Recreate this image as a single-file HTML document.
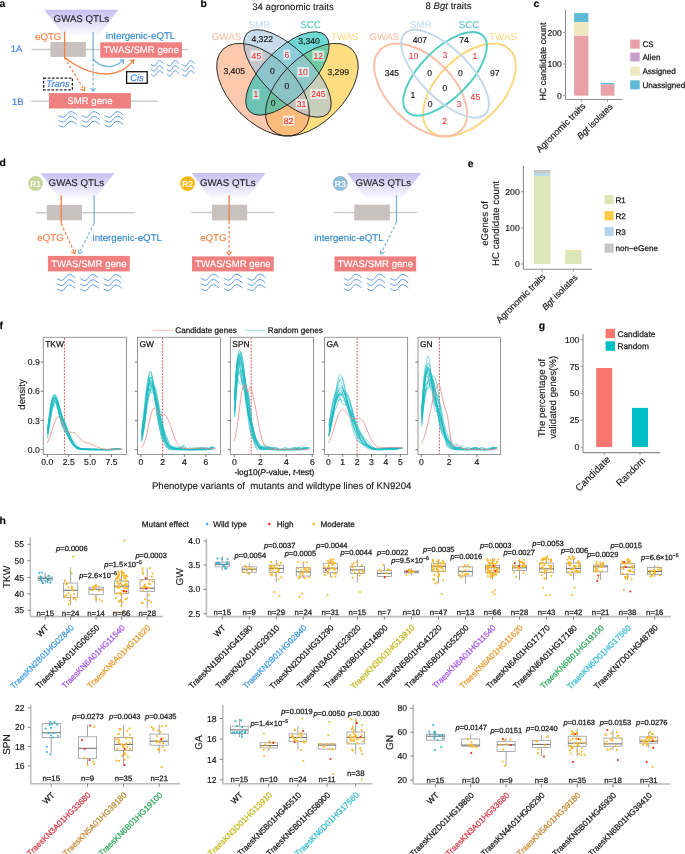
<!DOCTYPE html>
<html><head><meta charset="utf-8"><style>
html,body{margin:0;padding:0;background:#fff;}
svg{display:block;font-family:"Liberation Sans",sans-serif;will-change:transform;text-rendering:geometricPrecision;}
</style></head><body>
<svg width="685" height="854" viewBox="0 0 685 854">
<defs><linearGradient id="ga" x1="0" y1="9.7" x2="0" y2="36.7" gradientUnits="userSpaceOnUse"><stop offset="0" stop-color="#c6c0f1"/><stop offset="1" stop-color="#ffffff"/></linearGradient>
<linearGradient id="gd1" x1="0" y1="173.3" x2="0" y2="200.3" gradientUnits="userSpaceOnUse"><stop offset="0" stop-color="#c6c0f1"/><stop offset="1" stop-color="#ffffff"/></linearGradient>
<linearGradient id="gd2" x1="0" y1="173.1" x2="0" y2="200.1" gradientUnits="userSpaceOnUse"><stop offset="0" stop-color="#c6c0f1"/><stop offset="1" stop-color="#ffffff"/></linearGradient>
<linearGradient id="gd3" x1="0" y1="173.1" x2="0" y2="200.1" gradientUnits="userSpaceOnUse"><stop offset="0" stop-color="#c6c0f1"/><stop offset="1" stop-color="#ffffff"/></linearGradient></defs>
<rect x="0" y="0" width="685" height="854" fill="#fff"/>
<text stroke="#000" stroke-width="0.12" x="-0.6" y="7" font-size="10.4" fill="#000" font-weight="bold">a</text>
<polygon points="44.3,9.7 118.4,9.7 81.35,59.1" fill="url(#ga)"/>
<text stroke="#222" stroke-width="0.12" x="53.6" y="21.5" font-size="9.7" fill="#222">GWAS QTLs</text>
<text stroke="#f47f43" stroke-width="0.12" x="35" y="40.3" font-size="9.7" fill="#f47f43">eQTG</text>
<text stroke="#2f88cc" stroke-width="0.12" x="105.8" y="39" font-size="9.7" fill="#2f88cc">intergenic-eQTL</text>
<text stroke="#3f7fe6" stroke-width="0.18" x="10.8" y="52.4" font-size="9.4" fill="#3f7fe6">1A</text>
<line x1="31.5" y1="49.5" x2="188.3" y2="49.5" stroke="#cccccc" stroke-width="1.4"/>
<rect x="50.3" y="42" width="35.6" height="14.9" fill="#c9c0c0"/>
<rect x="100.3" y="42.3" width="81.6" height="15.4" fill="#f08080"/>
<text stroke="#fff" stroke-width="0.12" x="141.1" y="53.3" font-size="9.6" fill="#fff" text-anchor="middle">TWAS/SMR gene</text>
<line x1="64.6" y1="31.7" x2="64.6" y2="57.7" stroke="#f47f43" stroke-width="1.3"/>
<path d="M64.7,57.5 C84,73 116,84 133.6,59.9" stroke="#f47f43" stroke-width="1.3" fill="none"/>
<path d="M129.49,60.77 L133.6,59.9 L133.45,64.1" stroke="#f47f43" stroke-width="1.2" fill="none"/>
<line x1="64.6" y1="57.7" x2="84.4" y2="90.4" stroke="#f47f43" stroke-width="1.2" stroke-dasharray="2.8 1.9"/>
<path d="M84.91,86.43 L84.4,90.6 L80.48,89.09" stroke="#f47f43" stroke-width="1.2" fill="none"/>
<line x1="93.1" y1="31.7" x2="93.1" y2="59" stroke="#78b4da" stroke-width="1.3"/>
<path d="M93.1,59 C97,64 104,67 111,66.5 C116,66 120,63 123.8,59.9" stroke="#78b4da" stroke-width="1.3" fill="none"/>
<path d="M119.6,60.05 L123.8,59.9 L122.93,64.01" stroke="#78b4da" stroke-width="1.2" fill="none"/>
<line x1="93.1" y1="59" x2="93.1" y2="91.2" stroke="#78b4da" stroke-width="1.2" stroke-dasharray="2.8 1.9"/>
<path d="M95.69,88.09 L93.1,91.4 L90.51,88.09" stroke="#78b4da" stroke-width="1.2" fill="none"/>
<rect x="126.6" y="71.7" width="20.6" height="11.6" fill="#fff" stroke="#111" stroke-width="1.3"/>
<text stroke="#3f7fe6" stroke-width="0.18" x="136.9" y="80.9" font-size="9.4" fill="#3f7fe6" text-anchor="middle" font-style="italic">Cis</text>
<rect x="43.6" y="78.1" width="28.8" height="11.7" fill="#fff" stroke="#222" stroke-width="1.3" stroke-dasharray="2.6 1.6"/>
<text stroke="#3f7fe6" stroke-width="0.18" x="58" y="87.4" font-size="9.4" fill="#3f7fe6" text-anchor="middle" font-style="italic">Trans</text>
<text stroke="#3f7fe6" stroke-width="0.18" x="12" y="104.7" font-size="9.4" fill="#3f7fe6">1B</text>
<line x1="31.2" y1="101.2" x2="157.7" y2="101.2" stroke="#cccccc" stroke-width="1.4"/>
<rect x="49" y="93.1" width="81.9" height="15.4" fill="#f08080"/>
<text stroke="#fff" stroke-width="0.12" x="90" y="103.6" font-size="9.6" fill="#fff" text-anchor="middle">SMR gene</text>
<path d="M151.1,64.4 C153.1,66 154.1,66.6 155.3,65.6 C156.6,64.4 157.6,60.6 159.7,60.7 C161.1,60.8 162.6,62.9 163.5,63.7" stroke="#5b9be8" stroke-width="1" fill="none"/>
<path d="M151.1,69.4 C153.1,71 154.1,71.6 155.3,70.6 C156.6,69.4 157.6,65.6 159.7,65.7 C161.1,65.8 162.6,67.9 163.5,68.7" stroke="#5b9be8" stroke-width="1" fill="none"/>
<path d="M151.1,74.4 C153.1,76 154.1,76.6 155.3,75.6 C156.6,74.4 157.6,70.6 159.7,70.7 C161.1,70.8 162.6,72.9 163.5,73.7" stroke="#5b9be8" stroke-width="1" fill="none"/>
<path d="M166.7,64.4 C168.7,66 169.7,66.6 170.9,65.6 C172.2,64.4 173.2,60.6 175.3,60.7 C176.7,60.8 178.2,62.9 179.1,63.7" stroke="#5b9be8" stroke-width="1" fill="none"/>
<path d="M166.7,69.4 C168.7,71 169.7,71.6 170.9,70.6 C172.2,69.4 173.2,65.6 175.3,65.7 C176.7,65.8 178.2,67.9 179.1,68.7" stroke="#5b9be8" stroke-width="1" fill="none"/>
<path d="M166.7,74.4 C168.7,76 169.7,76.6 170.9,75.6 C172.2,74.4 173.2,70.6 175.3,70.7 C176.7,70.8 178.2,72.9 179.1,73.7" stroke="#5b9be8" stroke-width="1" fill="none"/>
<path d="M182.2,64.4 C184.2,66 185.2,66.6 186.4,65.6 C187.7,64.4 188.7,60.6 190.8,60.7 C192.2,60.8 193.7,62.9 194.6,63.7" stroke="#5b9be8" stroke-width="1" fill="none"/>
<path d="M182.2,69.4 C184.2,71 185.2,71.6 186.4,70.6 C187.7,69.4 188.7,65.6 190.8,65.7 C192.2,65.8 193.7,67.9 194.6,68.7" stroke="#5b9be8" stroke-width="1" fill="none"/>
<path d="M182.2,74.4 C184.2,76 185.2,76.6 186.4,75.6 C187.7,74.4 188.7,70.6 190.8,70.7 C192.2,70.8 193.7,72.9 194.6,73.7" stroke="#5b9be8" stroke-width="1" fill="none"/>
<path d="M58.5,115.5 C61.46,117.18 62.94,117.81 64.72,116.76 C66.64,115.5 68.12,111.51 71.23,111.61 C73.3,111.72 75.52,113.92 76.85,114.77" stroke="#5b9be8" stroke-width="1" fill="none"/>
<path d="M58.5,120.3 C61.46,121.98 62.94,122.61 64.72,121.56 C66.64,120.3 68.12,116.31 71.23,116.41 C73.3,116.52 75.52,118.72 76.85,119.56" stroke="#5b9be8" stroke-width="1" fill="none"/>
<path d="M58.5,125.1 C61.46,126.78 62.94,127.41 64.72,126.36 C66.64,125.1 68.12,121.11 71.23,121.21 C73.3,121.32 75.52,123.52 76.85,124.36" stroke="#5b9be8" stroke-width="1" fill="none"/>
<path d="M81.6,115.5 C84.56,117.18 86.04,117.81 87.82,116.76 C89.74,115.5 91.22,111.51 94.33,111.61 C96.4,111.72 98.62,113.92 99.95,114.77" stroke="#5b9be8" stroke-width="1" fill="none"/>
<path d="M81.6,120.3 C84.56,121.98 86.04,122.61 87.82,121.56 C89.74,120.3 91.22,116.31 94.33,116.41 C96.4,116.52 98.62,118.72 99.95,119.56" stroke="#5b9be8" stroke-width="1" fill="none"/>
<path d="M81.6,125.1 C84.56,126.78 86.04,127.41 87.82,126.36 C89.74,125.1 91.22,121.11 94.33,121.21 C96.4,121.32 98.62,123.52 99.95,124.36" stroke="#5b9be8" stroke-width="1" fill="none"/>
<path d="M104.8,115.5 C107.76,117.18 109.24,117.81 111.02,116.76 C112.94,115.5 114.42,111.51 117.53,111.61 C119.6,111.72 121.82,113.92 123.15,114.77" stroke="#5b9be8" stroke-width="1" fill="none"/>
<path d="M104.8,120.3 C107.76,121.98 109.24,122.61 111.02,121.56 C112.94,120.3 114.42,116.31 117.53,116.41 C119.6,116.52 121.82,118.72 123.15,119.56" stroke="#5b9be8" stroke-width="1" fill="none"/>
<path d="M104.8,125.1 C107.76,126.78 109.24,127.41 111.02,126.36 C112.94,125.1 114.42,121.11 117.53,121.21 C119.6,121.32 121.82,123.52 123.15,124.36" stroke="#5b9be8" stroke-width="1" fill="none"/>
<ellipse cx="311.86" cy="89.73" rx="56.94" ry="32.54" fill="#fdc62b" fill-opacity="0.6" transform="rotate(-45 311.86 89.73)"/>
<ellipse cx="263.04" cy="89.73" rx="56.94" ry="32.54" fill="#faa378" fill-opacity="0.6" transform="rotate(-135 263.04 89.73)"/>
<ellipse cx="287.45" cy="73.46" rx="53.69" ry="24.4" fill="#0dbfb8" fill-opacity="0.6" transform="rotate(-45 287.45 73.46)"/>
<ellipse cx="287.45" cy="73.46" rx="56.94" ry="24.4" fill="#a3c5df" fill-opacity="0.6" transform="rotate(-135 287.45 73.46)"/>
<ellipse cx="311.86" cy="89.73" rx="56.94" ry="32.54" fill="none" stroke="#222" stroke-width="0.9" transform="rotate(-45 311.86 89.73)"/>
<ellipse cx="263.04" cy="89.73" rx="56.94" ry="32.54" fill="none" stroke="#222" stroke-width="0.9" transform="rotate(-135 263.04 89.73)"/>
<ellipse cx="287.45" cy="73.46" rx="53.69" ry="24.4" fill="none" stroke="#222" stroke-width="0.9" transform="rotate(-45 287.45 73.46)"/>
<ellipse cx="287.45" cy="73.46" rx="56.94" ry="24.4" fill="none" stroke="#222" stroke-width="0.9" transform="rotate(-135 287.45 73.46)"/>
<text stroke="#1a1a1a" stroke-width="0.18" x="234.2" y="74" font-size="8.6" fill="#1a1a1a" text-anchor="middle">3,405</text>
<text stroke="#1a1a1a" stroke-width="0.18" x="262.2" y="41.8" font-size="8.6" fill="#1a1a1a" text-anchor="middle">4,322</text>
<text stroke="#1a1a1a" stroke-width="0.18" x="309" y="44.1" font-size="8.6" fill="#1a1a1a" text-anchor="middle">3,340</text>
<text stroke="#1a1a1a" stroke-width="0.18" x="338.2" y="75" font-size="8.6" fill="#1a1a1a" text-anchor="middle">3,299</text>
<rect x="250.5" y="50.5" width="11.8" height="10.2" fill="#ffffff" fill-opacity="0.62"/>
<text stroke="#ee2d2d" stroke-width="0.05" x="256.4" y="58.6" font-size="8.6" fill="#ee2d2d" text-anchor="middle">45</text>
<rect x="283.25" y="49.6" width="7.1" height="10.2" fill="#ffffff" fill-opacity="0.62"/>
<text stroke="#ee2d2d" stroke-width="0.05" x="286.8" y="57.7" font-size="8.6" fill="#ee2d2d" text-anchor="middle">6</text>
<rect x="312.4" y="50.5" width="11.8" height="10.2" fill="#ffffff" fill-opacity="0.62"/>
<text stroke="#ee2d2d" stroke-width="0.05" x="318.3" y="58.6" font-size="8.6" fill="#ee2d2d" text-anchor="middle">12</text>
<text stroke="#1a1a1a" stroke-width="0.18" x="272.3" y="74" font-size="8.6" fill="#1a1a1a" text-anchor="middle">0</text>
<rect x="297.2" y="66.9" width="11.8" height="10.2" fill="#ffffff" fill-opacity="0.62"/>
<text stroke="#ee2d2d" stroke-width="0.05" x="303.1" y="75" font-size="8.6" fill="#ee2d2d" text-anchor="middle">10</text>
<text stroke="#1a1a1a" stroke-width="0.18" x="286.8" y="89" font-size="8.6" fill="#1a1a1a" text-anchor="middle">0</text>
<rect x="252.35" y="89.3" width="7.1" height="10.2" fill="#ffffff" fill-opacity="0.62"/>
<text stroke="#ee2d2d" stroke-width="0.05" x="255.9" y="97.4" font-size="8.6" fill="#ee2d2d" text-anchor="middle">1</text>
<rect x="310.05" y="88.8" width="16.5" height="10.2" fill="#ffffff" fill-opacity="0.62"/>
<text stroke="#ee2d2d" stroke-width="0.05" x="318.3" y="96.9" font-size="8.6" fill="#ee2d2d" text-anchor="middle">245</text>
<text stroke="#1a1a1a" stroke-width="0.18" x="273.2" y="106" font-size="8.6" fill="#1a1a1a" text-anchor="middle">0</text>
<rect x="295.6" y="99.1" width="11.8" height="10.2" fill="#ffffff" fill-opacity="0.62"/>
<text stroke="#ee2d2d" stroke-width="0.05" x="301.5" y="107.2" font-size="8.6" fill="#ee2d2d" text-anchor="middle">31</text>
<rect x="282.7" y="115.5" width="11.8" height="10.2" fill="#ffffff" fill-opacity="0.62"/>
<text stroke="#ee2d2d" stroke-width="0.05" x="288.6" y="123.6" font-size="8.6" fill="#ee2d2d" text-anchor="middle">82</text>
<text stroke="#fcc0a9" stroke-width="0.12" x="226.5" y="40.2" font-size="9.8" fill="#fcc0a9" text-anchor="middle">GWAS</text>
<text stroke="#c6dcee" stroke-width="0.12" x="259.4" y="27.6" font-size="9.8" fill="#c6dcee" text-anchor="middle">SMR</text>
<text stroke="#5ccac6" stroke-width="0.12" x="310.6" y="27.6" font-size="9.8" fill="#5ccac6" text-anchor="middle">SCC</text>
<text stroke="#fddb8c" stroke-width="0.12" x="344.7" y="40.2" font-size="9.8" fill="#fddb8c" text-anchor="middle">TWAS</text>
<text stroke="#1a1a1a" stroke-width="0.12" x="293" y="10.2" font-size="9.6" fill="#1a1a1a" text-anchor="middle">34 agronomic traits</text>
<text stroke="#000" stroke-width="0.12" x="200.4" y="7" font-size="10.4" fill="#000" font-weight="bold">b</text>
<ellipse cx="469.45" cy="90.03" rx="56.94" ry="32.54" fill="none" stroke="#fdd67e" stroke-width="1.9" transform="rotate(-45 469.45 90.03)"/>
<ellipse cx="420.64" cy="90.03" rx="56.94" ry="32.54" fill="none" stroke="#fbbfa6" stroke-width="1.9" transform="rotate(-135 420.64 90.03)"/>
<ellipse cx="445.05" cy="73.76" rx="53.69" ry="24.4" fill="none" stroke="#52cdc4" stroke-width="1.9" transform="rotate(-45 445.05 73.76)"/>
<ellipse cx="445.05" cy="73.76" rx="56.94" ry="24.4" fill="none" stroke="#c3d9ea" stroke-width="1.9" transform="rotate(-135 445.05 73.76)"/>
<text stroke="#1a1a1a" stroke-width="0.18" x="391.8" y="75.9" font-size="8.6" fill="#1a1a1a" text-anchor="middle">345</text>
<text stroke="#1a1a1a" stroke-width="0.18" x="419.9" y="42.7" font-size="8.6" fill="#1a1a1a" text-anchor="middle">407</text>
<text stroke="#1a1a1a" stroke-width="0.18" x="464.1" y="42.7" font-size="8.6" fill="#1a1a1a" text-anchor="middle">74</text>
<text stroke="#1a1a1a" stroke-width="0.18" x="494.8" y="75.9" font-size="8.6" fill="#1a1a1a" text-anchor="middle">97</text>
<text stroke="#ee2d2d" stroke-width="0.05" x="413.5" y="58.8" font-size="8.6" fill="#ee2d2d" text-anchor="middle">10</text>
<text stroke="#ee2d2d" stroke-width="0.05" x="445" y="57.5" font-size="8.6" fill="#ee2d2d" text-anchor="middle">3</text>
<text stroke="#ee2d2d" stroke-width="0.05" x="474.9" y="58.8" font-size="8.6" fill="#ee2d2d" text-anchor="middle">1</text>
<text stroke="#1a1a1a" stroke-width="0.18" x="429.6" y="75.9" font-size="8.6" fill="#1a1a1a" text-anchor="middle">0</text>
<text stroke="#1a1a1a" stroke-width="0.18" x="460.3" y="75.9" font-size="8.6" fill="#1a1a1a" text-anchor="middle">0</text>
<text stroke="#1a1a1a" stroke-width="0.18" x="445" y="91.2" font-size="8.6" fill="#1a1a1a" text-anchor="middle">0</text>
<text stroke="#1a1a1a" stroke-width="0.18" x="413" y="97.6" font-size="8.6" fill="#1a1a1a" text-anchor="middle">1</text>
<text stroke="#ee2d2d" stroke-width="0.05" x="475.4" y="100.2" font-size="8.6" fill="#ee2d2d" text-anchor="middle">45</text>
<text stroke="#1a1a1a" stroke-width="0.18" x="430.1" y="106.6" font-size="8.6" fill="#1a1a1a" text-anchor="middle">0</text>
<text stroke="#ee2d2d" stroke-width="0.05" x="458.8" y="106.6" font-size="8.6" fill="#ee2d2d" text-anchor="middle">3</text>
<text stroke="#ee2d2d" stroke-width="0.05" x="444.7" y="123.7" font-size="8.6" fill="#ee2d2d" text-anchor="middle">2</text>
<text stroke="#fcc0a9" stroke-width="0.12" x="384.2" y="40.4" font-size="9.8" fill="#fcc0a9" text-anchor="middle">GWAS</text>
<text stroke="#c6dcee" stroke-width="0.12" x="420.7" y="28.2" font-size="9.8" fill="#c6dcee" text-anchor="middle">SMR</text>
<text stroke="#5ccac6" stroke-width="0.12" x="469" y="28.2" font-size="9.8" fill="#5ccac6" text-anchor="middle">SCC</text>
<text stroke="#fddb8c" stroke-width="0.12" x="503" y="40.4" font-size="9.8" fill="#fddb8c" text-anchor="middle">TWAS</text>
<text stroke="#1a1a1a" stroke-width="0.12" x="448.5" y="9.2" font-size="9.6" fill="#1a1a1a" text-anchor="middle">8 <tspan font-style="italic">Bgt</tspan> traits</text>
<text stroke="#000" stroke-width="0.12" x="533.4" y="6.6" font-size="10.4" fill="#000" font-weight="bold">c</text>
<line x1="565.5" y1="10" x2="565.5" y2="99.5" stroke="#8f8f8f" stroke-width="1.1"/>
<line x1="565.5" y1="99.5" x2="622.8" y2="99.5" stroke="#8f8f8f" stroke-width="1.1"/>
<line x1="563" y1="95.7" x2="565.5" y2="95.7" stroke="#8f8f8f" stroke-width="0.9"/>
<text stroke="#1a1a1a" stroke-width="0.18" x="561.8" y="98.8" font-size="8.6" fill="#1a1a1a" text-anchor="end">0</text>
<line x1="563" y1="64" x2="565.5" y2="64" stroke="#8f8f8f" stroke-width="0.9"/>
<text stroke="#1a1a1a" stroke-width="0.18" x="561.8" y="67.1" font-size="8.6" fill="#1a1a1a" text-anchor="end">100</text>
<line x1="563" y1="32.4" x2="565.5" y2="32.4" stroke="#8f8f8f" stroke-width="0.9"/>
<text stroke="#1a1a1a" stroke-width="0.18" x="561.8" y="35.5" font-size="8.6" fill="#1a1a1a" text-anchor="end">200</text>
<rect x="574.1" y="35.57" width="14.3" height="60.13" fill="#e8a1a9"/>
<rect x="574.1" y="21.96" width="14.3" height="13.61" fill="#efe9bf"/>
<rect x="574.1" y="13.09" width="14.3" height="8.86" fill="#5ebad6"/>
<rect x="600.8" y="84.31" width="13.6" height="11.39" fill="#e8a1a9"/>
<rect x="600.8" y="83.04" width="13.6" height="1.27" fill="#5ebad6"/>
<line x1="581.25" y1="99.5" x2="581.25" y2="102" stroke="#8f8f8f" stroke-width="0.9"/>
<line x1="607.6" y1="99.5" x2="607.6" y2="102" stroke="#8f8f8f" stroke-width="0.9"/>
<text stroke="#1a1a1a" stroke-width="0.18" x="545.6" y="61.5" font-size="8.9" fill="#1a1a1a" text-anchor="middle" transform="rotate(-90 545.6 61.5)">HC candidate count</text>
<text stroke="#1a1a1a" stroke-width="0.18" x="586" y="106.9" font-size="9.05" fill="#1a1a1a" text-anchor="end" transform="rotate(-45 586 106.9)">Agronomic traits</text>
<text stroke="#1a1a1a" stroke-width="0.18" x="613.3" y="107.3" font-size="8.9" fill="#1a1a1a" text-anchor="end" transform="rotate(-45 613.3 107.3)"><tspan font-style="italic">Bgt</tspan> isolates</text>
<rect x="630.2" y="39.6" width="9.5" height="9" fill="#e8a1a9"/>
<text stroke="#1a1a1a" stroke-width="0.25" x="642.4" y="47.2" font-size="8.1" fill="#1a1a1a">CS</text>
<rect x="630.2" y="52.5" width="9.5" height="9" fill="#c9a0c9"/>
<text stroke="#1a1a1a" stroke-width="0.25" x="642.4" y="60.1" font-size="8.1" fill="#1a1a1a">Alien</text>
<rect x="630.2" y="66.7" width="9.5" height="9" fill="#efe9bf"/>
<text stroke="#1a1a1a" stroke-width="0.25" x="642.4" y="74.3" font-size="8.1" fill="#1a1a1a">Assigned</text>
<rect x="630.2" y="80.3" width="9.5" height="9" fill="#5ebad6"/>
<text stroke="#1a1a1a" stroke-width="0.25" x="642.4" y="87.9" font-size="8.1" fill="#1a1a1a">Unassigned</text>
<text stroke="#000" stroke-width="0.12" x="-0.6" y="166" font-size="10.4" fill="#000" font-weight="bold">d</text>
<polygon points="40.7,173.3 114.3,173.3 77.5,222.37" fill="url(#gd1)"/>
<circle cx="35.5" cy="183.4" r="7.4" fill="#c5d59a"/>
<text stroke="#fff" stroke-width="0.18" x="35.5" y="186.6" font-size="8.6" fill="#fff" text-anchor="middle">R1</text>
<text stroke="#222" stroke-width="0.12" x="48.6" y="185.5" font-size="9.7" fill="#222">GWAS QTLs</text>
<line x1="35.5" y1="212.8" x2="135.3" y2="212.8" stroke="#cccccc" stroke-width="1.4"/>
<rect x="46.8" y="204.9" width="35.2" height="15.3" fill="#c9c0c0"/>
<line x1="61.2" y1="195.5" x2="61.2" y2="223.6" stroke="#f47f43" stroke-width="1.3"/>
<line x1="94.1" y1="195.5" x2="94.1" y2="223.6" stroke="#78b4da" stroke-width="1.3"/>
<line x1="61.2" y1="223.6" x2="74.9" y2="253.4" stroke="#f47f43" stroke-width="1.2" stroke-dasharray="2.8 1.9"/>
<path d="M75.84,249.51 L74.9,253.6 L71.16,251.69" stroke="#f47f43" stroke-width="1.2" fill="none"/>
<line x1="94.1" y1="223.6" x2="78.9" y2="253.4" stroke="#78b4da" stroke-width="1.2" stroke-dasharray="2.8 1.9"/>
<path d="M82.71,251.83 L78.9,253.6 L78.1,249.48" stroke="#78b4da" stroke-width="1.2" fill="none"/>
<text stroke="#f47f43" stroke-width="0.12" x="37.3" y="241" font-size="9.7" fill="#f47f43">eQTG</text>
<text stroke="#2f88cc" stroke-width="0.12" x="92.5" y="241" font-size="9.7" fill="#2f88cc">intergenic-eQTL</text>
<rect x="47.9" y="255.9" width="81.9" height="15.5" fill="#f08080"/>
<text stroke="#fff" stroke-width="0.12" x="88.85" y="266.8" font-size="9.6" fill="#fff" text-anchor="middle">TWAS/SMR gene</text>
<path d="M57.1,278.6 C60,280.36 61.45,281.02 63.19,279.92 C65.08,278.6 66.53,274.42 69.57,274.53 C71.6,274.64 73.78,276.95 75.08,277.83" stroke="#5b9be8" stroke-width="1" fill="none"/>
<path d="M57.1,283.8 C60,285.56 61.45,286.22 63.19,285.12 C65.08,283.8 66.53,279.62 69.57,279.73 C71.6,279.84 73.78,282.15 75.08,283.03" stroke="#5b9be8" stroke-width="1" fill="none"/>
<path d="M57.1,289 C60,290.76 61.45,291.42 63.19,290.32 C65.08,289 66.53,284.82 69.57,284.93 C71.6,285.04 73.78,287.35 75.08,288.23" stroke="#5b9be8" stroke-width="1" fill="none"/>
<path d="M80.4,278.6 C83.3,280.36 84.75,281.02 86.49,279.92 C88.38,278.6 89.83,274.42 92.87,274.53 C94.9,274.64 97.08,276.95 98.38,277.83" stroke="#5b9be8" stroke-width="1" fill="none"/>
<path d="M80.4,283.8 C83.3,285.56 84.75,286.22 86.49,285.12 C88.38,283.8 89.83,279.62 92.87,279.73 C94.9,279.84 97.08,282.15 98.38,283.03" stroke="#5b9be8" stroke-width="1" fill="none"/>
<path d="M80.4,289 C83.3,290.76 84.75,291.42 86.49,290.32 C88.38,289 89.83,284.82 92.87,284.93 C94.9,285.04 97.08,287.35 98.38,288.23" stroke="#5b9be8" stroke-width="1" fill="none"/>
<path d="M103.7,278.6 C106.6,280.36 108.05,281.02 109.79,279.92 C111.67,278.6 113.12,274.42 116.17,274.53 C118.2,274.64 120.38,276.95 121.68,277.83" stroke="#5b9be8" stroke-width="1" fill="none"/>
<path d="M103.7,283.8 C106.6,285.56 108.05,286.22 109.79,285.12 C111.67,283.8 113.12,279.62 116.17,279.73 C118.2,279.84 120.38,282.15 121.68,283.03" stroke="#5b9be8" stroke-width="1" fill="none"/>
<path d="M103.7,289 C106.6,290.76 108.05,291.42 109.79,290.32 C111.67,289 113.12,284.82 116.17,284.93 C118.2,285.04 120.38,287.35 121.68,288.23" stroke="#5b9be8" stroke-width="1" fill="none"/>
<polygon points="191.5,173.1 265.6,173.1 228.55,222.5" fill="url(#gd2)"/>
<circle cx="187.6" cy="183.6" r="7.4" fill="#f6b813"/>
<text stroke="#fff" stroke-width="0.18" x="187.6" y="186.8" font-size="8.6" fill="#fff" text-anchor="middle">R2</text>
<text stroke="#222" stroke-width="0.12" x="200" y="185.5" font-size="9.7" fill="#222">GWAS QTLs</text>
<line x1="191" y1="212.5" x2="274.3" y2="212.5" stroke="#cccccc" stroke-width="1.4"/>
<rect x="212" y="204.6" width="35.2" height="15.8" fill="#c9c0c0"/>
<line x1="229.1" y1="195.2" x2="229.1" y2="221.5" stroke="#f47f43" stroke-width="1.3"/>
<line x1="229.1" y1="221.5" x2="229.1" y2="254.8" stroke="#f47f43" stroke-width="1.2" stroke-dasharray="2.8 1.9"/>
<path d="M231.69,251.69 L229.1,255 L226.51,251.69" stroke="#f47f43" stroke-width="1.2" fill="none"/>
<text stroke="#f47f43" stroke-width="0.12" x="200.2" y="240.6" font-size="9.7" fill="#f47f43">eQTG</text>
<rect x="192" y="256.4" width="81.8" height="15" fill="#f08080"/>
<text stroke="#fff" stroke-width="0.12" x="232.9" y="266.8" font-size="9.6" fill="#fff" text-anchor="middle">TWAS/SMR gene</text>
<path d="M201,278.3 C203.9,280.06 205.35,280.72 207.09,279.62 C208.97,278.3 210.43,274.12 213.47,274.23 C215.5,274.34 217.68,276.65 218.98,277.53" stroke="#5b9be8" stroke-width="1" fill="none"/>
<path d="M201,283.5 C203.9,285.26 205.35,285.92 207.09,284.82 C208.97,283.5 210.43,279.32 213.47,279.43 C215.5,279.54 217.68,281.85 218.98,282.73" stroke="#5b9be8" stroke-width="1" fill="none"/>
<path d="M201,288.7 C203.9,290.46 205.35,291.12 207.09,290.02 C208.97,288.7 210.43,284.52 213.47,284.63 C215.5,284.74 217.68,287.05 218.98,287.93" stroke="#5b9be8" stroke-width="1" fill="none"/>
<path d="M224.3,278.3 C227.2,280.06 228.65,280.72 230.39,279.62 C232.28,278.3 233.73,274.12 236.77,274.23 C238.8,274.34 240.98,276.65 242.28,277.53" stroke="#5b9be8" stroke-width="1" fill="none"/>
<path d="M224.3,283.5 C227.2,285.26 228.65,285.92 230.39,284.82 C232.28,283.5 233.73,279.32 236.77,279.43 C238.8,279.54 240.98,281.85 242.28,282.73" stroke="#5b9be8" stroke-width="1" fill="none"/>
<path d="M224.3,288.7 C227.2,290.46 228.65,291.12 230.39,290.02 C232.28,288.7 233.73,284.52 236.77,284.63 C238.8,284.74 240.98,287.05 242.28,287.93" stroke="#5b9be8" stroke-width="1" fill="none"/>
<path d="M247.6,278.3 C250.5,280.06 251.95,280.72 253.69,279.62 C255.57,278.3 257.02,274.12 260.07,274.23 C262.1,274.34 264.27,276.65 265.58,277.53" stroke="#5b9be8" stroke-width="1" fill="none"/>
<path d="M247.6,283.5 C250.5,285.26 251.95,285.92 253.69,284.82 C255.57,283.5 257.02,279.32 260.07,279.43 C262.1,279.54 264.27,281.85 265.58,282.73" stroke="#5b9be8" stroke-width="1" fill="none"/>
<path d="M247.6,288.7 C250.5,290.46 251.95,291.12 253.69,290.02 C255.57,288.7 257.02,284.52 260.07,284.63 C262.1,284.74 264.27,287.05 265.58,287.93" stroke="#5b9be8" stroke-width="1" fill="none"/>
<polygon points="347,173.1 421.2,173.1 384.1,222.57" fill="url(#gd3)"/>
<circle cx="340.2" cy="183.4" r="7.4" fill="#8fbcd9"/>
<text stroke="#fff" stroke-width="0.18" x="340.2" y="186.6" font-size="8.6" fill="#fff" text-anchor="middle">R3</text>
<text stroke="#222" stroke-width="0.12" x="355.5" y="185.5" font-size="9.7" fill="#222">GWAS QTLs</text>
<line x1="333.7" y1="212.5" x2="417.2" y2="212.5" stroke="#cccccc" stroke-width="1.4"/>
<rect x="354.2" y="204.6" width="35.7" height="15.8" fill="#c9c0c0"/>
<line x1="396.5" y1="195.2" x2="396.5" y2="222.3" stroke="#78b4da" stroke-width="1.3"/>
<line x1="396.5" y1="222.3" x2="381" y2="253.6" stroke="#78b4da" stroke-width="1.2" stroke-dasharray="2.8 1.9"/>
<path d="M384.77,251.96 L381,253.8 L380.13,249.69" stroke="#78b4da" stroke-width="1.2" fill="none"/>
<text stroke="#2f88cc" stroke-width="0.12" x="383.6" y="240.6" font-size="9.7" fill="#2f88cc" text-anchor="end">intergenic-eQTL</text>
<rect x="334.5" y="256.4" width="81.7" height="15" fill="#f08080"/>
<text stroke="#fff" stroke-width="0.12" x="375.35" y="266.8" font-size="9.6" fill="#fff" text-anchor="middle">TWAS/SMR gene</text>
<path d="M343.8,278.3 C346.7,280.06 348.15,280.72 349.89,279.62 C351.78,278.3 353.23,274.12 356.27,274.23 C358.3,274.34 360.48,276.65 361.78,277.53" stroke="#5b9be8" stroke-width="1" fill="none"/>
<path d="M343.8,283.5 C346.7,285.26 348.15,285.92 349.89,284.82 C351.78,283.5 353.23,279.32 356.27,279.43 C358.3,279.54 360.48,281.85 361.78,282.73" stroke="#5b9be8" stroke-width="1" fill="none"/>
<path d="M343.8,288.7 C346.7,290.46 348.15,291.12 349.89,290.02 C351.78,288.7 353.23,284.52 356.27,284.63 C358.3,284.74 360.48,287.05 361.78,287.93" stroke="#5b9be8" stroke-width="1" fill="none"/>
<path d="M367.1,278.3 C370,280.06 371.45,280.72 373.19,279.62 C375.08,278.3 376.53,274.12 379.57,274.23 C381.6,274.34 383.78,276.65 385.08,277.53" stroke="#5b9be8" stroke-width="1" fill="none"/>
<path d="M367.1,283.5 C370,285.26 371.45,285.92 373.19,284.82 C375.08,283.5 376.53,279.32 379.57,279.43 C381.6,279.54 383.78,281.85 385.08,282.73" stroke="#5b9be8" stroke-width="1" fill="none"/>
<path d="M367.1,288.7 C370,290.46 371.45,291.12 373.19,290.02 C375.08,288.7 376.53,284.52 379.57,284.63 C381.6,284.74 383.78,287.05 385.08,287.93" stroke="#5b9be8" stroke-width="1" fill="none"/>
<path d="M390.4,278.3 C393.3,280.06 394.75,280.72 396.49,279.62 C398.38,278.3 399.82,274.12 402.87,274.23 C404.9,274.34 407.07,276.65 408.38,277.53" stroke="#5b9be8" stroke-width="1" fill="none"/>
<path d="M390.4,283.5 C393.3,285.26 394.75,285.92 396.49,284.82 C398.38,283.5 399.82,279.32 402.87,279.43 C404.9,279.54 407.07,281.85 408.38,282.73" stroke="#5b9be8" stroke-width="1" fill="none"/>
<path d="M390.4,288.7 C393.3,290.46 394.75,291.12 396.49,290.02 C398.38,288.7 399.82,284.52 402.87,284.63 C404.9,284.74 407.07,287.05 408.38,287.93" stroke="#5b9be8" stroke-width="1" fill="none"/>
<text stroke="#000" stroke-width="0.12" x="467.8" y="167" font-size="10.4" fill="#000" font-weight="bold">e</text>
<line x1="523.4" y1="165.8" x2="523.4" y2="269.3" stroke="#8f8f8f" stroke-width="1.1"/>
<line x1="523.4" y1="269.3" x2="592" y2="269.3" stroke="#8f8f8f" stroke-width="1.1"/>
<line x1="520.9" y1="264" x2="523.4" y2="264" stroke="#8f8f8f" stroke-width="0.9"/>
<text stroke="#1a1a1a" stroke-width="0.18" x="519.7" y="267.1" font-size="8.6" fill="#1a1a1a" text-anchor="end">0</text>
<line x1="520.9" y1="227.9" x2="523.4" y2="227.9" stroke="#8f8f8f" stroke-width="0.9"/>
<text stroke="#1a1a1a" stroke-width="0.18" x="519.7" y="231" font-size="8.6" fill="#1a1a1a" text-anchor="end">100</text>
<line x1="520.9" y1="191.7" x2="523.4" y2="191.7" stroke="#8f8f8f" stroke-width="0.9"/>
<text stroke="#1a1a1a" stroke-width="0.18" x="519.7" y="194.8" font-size="8.6" fill="#1a1a1a" text-anchor="end">200</text>
<rect x="533.9" y="175.79" width="16.4" height="88.21" fill="#dde6b9"/>
<rect x="533.9" y="173.26" width="16.4" height="2.53" fill="#b3d4e9"/>
<rect x="533.9" y="170.01" width="16.4" height="3.25" fill="#c6c6c6"/>
<rect x="565.1" y="250.62" width="16.4" height="13.38" fill="#dde6b9"/>
<rect x="565.1" y="250.19" width="16.4" height="0.43" fill="#f9c846"/>
<line x1="542.1" y1="269.3" x2="542.1" y2="271.8" stroke="#8f8f8f" stroke-width="0.9"/>
<line x1="573.3" y1="269.3" x2="573.3" y2="271.8" stroke="#8f8f8f" stroke-width="0.9"/>
<text stroke="#1a1a1a" stroke-width="0.12" x="488.3" y="223.5" font-size="9.7" fill="#1a1a1a" text-anchor="middle" transform="rotate(-90 488.3 223.5)">eGenes of</text>
<text stroke="#1a1a1a" stroke-width="0.12" x="499" y="223.5" font-size="9.7" fill="#1a1a1a" text-anchor="middle" transform="rotate(-90 499 223.5)">HC candidate count</text>
<text stroke="#1a1a1a" stroke-width="0.18" x="546" y="277.4" font-size="9.05" fill="#1a1a1a" text-anchor="end" transform="rotate(-45 546 277.4)">Agronomic traits</text>
<text stroke="#1a1a1a" stroke-width="0.18" x="578.1" y="278.2" font-size="8.9" fill="#1a1a1a" text-anchor="end" transform="rotate(-45 578.1 278.2)"><tspan font-style="italic">Bgt</tspan> isolates</text>
<rect x="604.5" y="195" width="9.2" height="9.2" fill="#dde6b9"/>
<text stroke="#1a1a1a" stroke-width="0.25" x="615.4" y="202.6" font-size="8.1" fill="#1a1a1a">R1</text>
<rect x="604.5" y="211.1" width="9.2" height="9.2" fill="#f9c846"/>
<text stroke="#1a1a1a" stroke-width="0.25" x="615.4" y="218.7" font-size="8.1" fill="#1a1a1a">R2</text>
<rect x="604.5" y="226.9" width="9.2" height="9.2" fill="#b3d4e9"/>
<text stroke="#1a1a1a" stroke-width="0.25" x="615.4" y="234.5" font-size="8.1" fill="#1a1a1a">R3</text>
<rect x="604.5" y="243.6" width="9.2" height="9.2" fill="#c6c6c6"/>
<text stroke="#1a1a1a" stroke-width="0.25" x="615.4" y="251.2" font-size="8.1" fill="#1a1a1a">non−eGene</text>
<text stroke="#000" stroke-width="0.12" x="-0.6" y="329.4" font-size="10.4" fill="#000" font-weight="bold">f</text>
<line x1="152.8" y1="330.3" x2="173.2" y2="330.3" stroke="#f5aca6" stroke-width="0.8"/>
<text stroke="#1a1a1a" stroke-width="0.25" x="175.3" y="333.2" font-size="8.15" fill="#1a1a1a">Candidate genes</text>
<line x1="244.5" y1="330.3" x2="265.8" y2="330.3" stroke="#7fd8dc" stroke-width="0.8"/>
<text stroke="#1a1a1a" stroke-width="0.25" x="267.8" y="333.2" font-size="8.15" fill="#1a1a1a">Random genes</text>
<rect x="43.3" y="337.3" width="83.2" height="117.2" fill="none" stroke="#8c8c8c" stroke-width="0.9"/>
<line x1="40.7" y1="362.1" x2="43.3" y2="362.1" stroke="#555" stroke-width="0.8"/>
<line x1="40.7" y1="391.2" x2="43.3" y2="391.2" stroke="#555" stroke-width="0.8"/>
<line x1="40.7" y1="420.4" x2="43.3" y2="420.4" stroke="#555" stroke-width="0.8"/>
<line x1="40.7" y1="449.6" x2="43.3" y2="449.6" stroke="#555" stroke-width="0.8"/>
<line x1="47.3" y1="454.5" x2="47.3" y2="457.1" stroke="#555" stroke-width="0.8"/>
<text stroke="#1a1a1a" stroke-width="0.18" x="47.3" y="465.2" font-size="8.6" fill="#1a1a1a" text-anchor="middle">0.0</text>
<line x1="68.7" y1="454.5" x2="68.7" y2="457.1" stroke="#555" stroke-width="0.8"/>
<text stroke="#1a1a1a" stroke-width="0.18" x="68.7" y="465.2" font-size="8.6" fill="#1a1a1a" text-anchor="middle">2.5</text>
<line x1="90.1" y1="454.5" x2="90.1" y2="457.1" stroke="#555" stroke-width="0.8"/>
<text stroke="#1a1a1a" stroke-width="0.18" x="90.1" y="465.2" font-size="8.6" fill="#1a1a1a" text-anchor="middle">5.0</text>
<line x1="111.5" y1="454.5" x2="111.5" y2="457.1" stroke="#555" stroke-width="0.8"/>
<text stroke="#1a1a1a" stroke-width="0.18" x="111.5" y="465.2" font-size="8.6" fill="#1a1a1a" text-anchor="middle">7.5</text>
<text stroke="#1a1a1a" stroke-width="0.25" x="45.2" y="346.8" font-size="8.4" fill="#1a1a1a">TKW</text>
<line x1="64.42" y1="337.9" x2="64.42" y2="453.9" stroke="#d5403c" stroke-width="0.9" stroke-dasharray="1.8 1.4"/>
<path d="M47.57,431.71 L48.1,428.26 L48.63,424.8 L49.16,421.47 L49.69,418.35 L50.22,415.53 L50.75,413.03 L51.28,410.87 L51.81,409.05 L52.34,407.53 L52.87,406.29 L53.4,405.3 L53.93,404.53 L54.46,403.99 L54.99,403.67 L55.52,403.58 L56.05,403.73 L56.58,404.14 L57.11,404.79 L57.64,405.67 L58.17,406.76 L58.69,408.01 L59.22,409.4 L59.75,410.88 L60.28,412.42 L60.81,413.97 L61.34,415.49 L61.87,416.95 L62.4,418.34 L62.93,419.64 L63.46,420.88 L63.99,422.06 L64.52,423.21 L65.05,424.35 L65.58,425.48 L66.11,426.64 L66.64,427.81 L67.17,429.01 L67.7,430.25 L68.23,431.53 L68.76,432.86 L69.29,434.24 L69.82,435.64 L70.35,437.07 L70.88,438.49 L71.41,439.86 L71.94,441.17 L72.47,442.38 L73,443.49 L73.53,444.47 L74.06,445.34 L74.59,446.09 L75.12,446.72 L75.65,447.25 L76.18,447.67 L76.71,448 L77.24,448.25 L77.77,448.41 L78.3,448.52 L78.83,448.58 L79.36,448.61 L79.89,448.63 L80.42,448.64 L80.95,448.66 L81.48,448.7 L82.01,448.76 L82.54,448.83 L83.07,448.92 L83.6,449.02 L84.13,449.13 L84.66,449.23 L85.19,449.32 L85.72,449.39 L86.24,449.45 L86.77,449.5 L87.3,449.53 L87.83,449.55 L88.36,449.55 L88.89,449.54 L89.42,449.52 L89.95,449.48 L90.48,449.43 L91.01,449.38 L91.54,449.31 L92.07,449.24 L92.6,449.17 L93.13,449.12 L93.66,449.09 L94.19,449.07 L94.72,449.09 L95.25,449.13 L95.78,449.18 L96.31,449.25 L96.84,449.32 L97.37,449.39 L97.9,449.45 L98.43,449.49 L98.96,449.53 L99.49,449.56 L100.02,449.57 L100.55,449.59 L101.08,449.59 L101.61,449.6 L102.14,449.6 L102.67,449.6 L103.2,449.6 L103.73,449.6 L104.26,449.6 L104.79,449.6 L105.32,449.6 L105.85,449.6 L106.38,449.6 L106.91,449.6 L107.44,449.6 L107.97,449.6 L108.5,449.6 L109.03,449.6 L109.56,449.6 L110.09,449.6 L110.62,449.6 L111.15,449.6 L111.68,449.6 L112.21,449.6 L112.74,449.6 L113.27,449.6 L113.8,449.6 L114.32,449.6 L114.85,449.59 L115.38,449.58 L115.91,449.57 L116.44,449.55 L116.97,449.53 L117.5,449.49 L118.03,449.44 L118.56,449.38 L119.09,449.31 L119.62,449.24 L120.15,449.18 L120.68,449.12 L121.21,449.09 L121.74,449.07" stroke="#1dbac1" stroke-width="0.6" fill="none" stroke-opacity="0.9" stroke-linejoin="round"/>
<path d="M47.49,429.85 L48.01,426.3 L48.53,422.87 L49.05,419.72 L49.57,416.93 L50.09,414.55 L50.62,412.55 L51.14,410.84 L51.66,409.3 L52.18,407.79 L52.7,406.24 L53.22,404.61 L53.74,402.96 L54.27,401.4 L54.79,400.09 L55.31,399.19 L55.83,398.8 L56.35,399.01 L56.87,399.79 L57.39,401.07 L57.91,402.74 L58.44,404.66 L58.96,406.74 L59.48,408.87 L60,411.01 L60.52,413.13 L61.04,415.22 L61.56,417.29 L62.09,419.31 L62.61,421.28 L63.13,423.16 L63.65,424.92 L64.17,426.53 L64.69,428 L65.21,429.3 L65.74,430.48 L66.26,431.54 L66.78,432.53 L67.3,433.48 L67.82,434.4 L68.34,435.33 L68.86,436.28 L69.39,437.25 L69.91,438.25 L70.43,439.29 L70.95,440.33 L71.47,441.37 L71.99,442.39 L72.51,443.35 L73.04,444.25 L73.56,445.06 L74.08,445.79 L74.6,446.42 L75.12,446.96 L75.64,447.43 L76.16,447.82 L76.69,448.15 L77.21,448.41 L77.73,448.6 L78.25,448.73 L78.77,448.79 L79.29,448.81 L79.81,448.78 L80.34,448.72 L80.86,448.65 L81.38,448.59 L81.9,448.56 L82.42,448.56 L82.94,448.6 L83.46,448.68 L83.99,448.79 L84.51,448.92 L85.03,449.05 L85.55,449.18 L86.07,449.29 L86.59,449.38 L87.11,449.45 L87.64,449.51 L88.16,449.54 L88.68,449.57 L89.2,449.58 L89.72,449.59 L90.24,449.59 L90.76,449.6 L91.29,449.6 L91.81,449.6 L92.33,449.6 L92.85,449.6 L93.37,449.6 L93.89,449.6 L94.41,449.59 L94.93,449.59 L95.46,449.58 L95.98,449.57 L96.5,449.54 L97.02,449.51 L97.54,449.47 L98.06,449.42 L98.58,449.36 L99.11,449.29 L99.63,449.22 L100.15,449.16 L100.67,449.11 L101.19,449.08 L101.71,449.08 L102.23,449.1 L102.76,449.14 L103.28,449.19 L103.8,449.26 L104.32,449.33 L104.84,449.39 L105.36,449.45 L105.88,449.5 L106.41,449.53 L106.93,449.56 L107.45,449.57 L107.97,449.59 L108.49,449.59 L109.01,449.6 L109.53,449.6 L110.06,449.6 L110.58,449.6 L111.1,449.6 L111.62,449.6 L112.14,449.6 L112.66,449.6 L113.18,449.59 L113.71,449.59 L114.23,449.58 L114.75,449.57 L115.27,449.55 L115.79,449.52 L116.31,449.48 L116.83,449.44 L117.36,449.38 L117.88,449.31 L118.4,449.24 L118.92,449.18 L119.44,449.12 L119.96,449.09 L120.48,449.08" stroke="#1dbac1" stroke-width="0.6" fill="none" stroke-opacity="0.9" stroke-linejoin="round"/>
<path d="M47.58,433.39 L48.09,429.65 L48.6,425.63 L49.11,421.43 L49.62,417.21 L50.14,413.09 L50.65,409.22 L51.16,405.72 L51.67,402.68 L52.18,400.16 L52.69,398.19 L53.2,396.78 L53.71,395.93 L54.22,395.61 L54.73,395.81 L55.24,396.52 L55.75,397.72 L56.26,399.38 L56.77,401.44 L57.29,403.83 L57.8,406.46 L58.31,409.21 L58.82,411.98 L59.33,414.66 L59.84,417.17 L60.35,419.45 L60.86,421.46 L61.37,423.2 L61.88,424.66 L62.39,425.87 L62.9,426.87 L63.41,427.73 L63.92,428.48 L64.44,429.21 L64.95,429.96 L65.46,430.76 L65.97,431.64 L66.48,432.59 L66.99,433.58 L67.5,434.56 L68.01,435.49 L68.52,436.32 L69.03,437.03 L69.54,437.62 L70.05,438.08 L70.56,438.47 L71.07,438.82 L71.59,439.16 L72.1,439.54 L72.61,439.97 L73.12,440.46 L73.63,441.02 L74.14,441.62 L74.65,442.26 L75.16,442.91 L75.67,443.58 L76.18,444.24 L76.69,444.88 L77.2,445.5 L77.71,446.08 L78.22,446.62 L78.74,447.09 L79.25,447.5 L79.76,447.84 L80.27,448.12 L80.78,448.33 L81.29,448.49 L81.8,448.61 L82.31,448.69 L82.82,448.75 L83.33,448.8 L83.84,448.83 L84.35,448.86 L84.86,448.89 L85.37,448.92 L85.89,448.97 L86.4,449.02 L86.91,449.09 L87.42,449.16 L87.93,449.24 L88.44,449.31 L88.95,449.38 L89.46,449.43 L89.97,449.47 L90.48,449.5 L90.99,449.51 L91.5,449.5 L92.01,449.48 L92.52,449.44 L93.04,449.39 L93.55,449.33 L94.06,449.26 L94.57,449.2 L95.08,449.14 L95.59,449.1 L96.1,449.08 L96.61,449.08 L97.12,449.11 L97.63,449.15 L98.14,449.21 L98.65,449.28 L99.16,449.34 L99.67,449.41 L100.19,449.46 L100.7,449.5 L101.21,449.54 L101.72,449.56 L102.23,449.58 L102.74,449.59 L103.25,449.59 L103.76,449.6 L104.27,449.6 L104.78,449.6 L105.29,449.6 L105.8,449.6 L106.31,449.6 L106.82,449.6 L107.34,449.6 L107.85,449.6 L108.36,449.6 L108.87,449.6 L109.38,449.6 L109.89,449.6 L110.4,449.6 L110.91,449.6 L111.42,449.6 L111.93,449.59 L112.44,449.59 L112.95,449.58 L113.46,449.57 L113.97,449.55 L114.49,449.52 L115,449.48 L115.51,449.43 L116.02,449.37 L116.53,449.3 L117.04,449.24 L117.55,449.17 L118.06,449.12 L118.57,449.09 L119.08,449.08" stroke="#1dbac1" stroke-width="0.6" fill="none" stroke-opacity="0.9" stroke-linejoin="round"/>
<path d="M47.54,433.46 L48.06,429.8 L48.58,425.98 L49.11,422.13 L49.63,418.4 L50.15,414.9 L50.68,411.73 L51.2,408.95 L51.72,406.61 L52.24,404.7 L52.77,403.24 L53.29,402.21 L53.81,401.58 L54.34,401.34 L54.86,401.44 L55.38,401.84 L55.91,402.49 L56.43,403.34 L56.95,404.32 L57.48,405.39 L58,406.49 L58.52,407.61 L59.05,408.72 L59.57,409.84 L60.09,410.99 L60.61,412.22 L61.14,413.57 L61.66,415.05 L62.18,416.7 L62.71,418.48 L63.23,420.37 L63.75,422.3 L64.28,424.21 L64.8,426.02 L65.32,427.66 L65.85,429.08 L66.37,430.27 L66.89,431.23 L67.42,432.03 L67.94,432.72 L68.46,433.37 L68.98,434.06 L69.51,434.84 L70.03,435.76 L70.55,436.81 L71.08,437.98 L71.6,439.23 L72.12,440.52 L72.65,441.77 L73.17,442.96 L73.69,444.04 L74.22,444.99 L74.74,445.81 L75.26,446.51 L75.79,447.11 L76.31,447.62 L76.83,448.05 L77.35,448.42 L77.88,448.72 L78.4,448.97 L78.92,449.16 L79.45,449.3 L79.97,449.41 L80.49,449.48 L81.02,449.53 L81.54,449.56 L82.06,449.58 L82.59,449.59 L83.11,449.59 L83.63,449.6 L84.16,449.6 L84.68,449.6 L85.2,449.6 L85.72,449.6 L86.25,449.6 L86.77,449.6 L87.29,449.6 L87.82,449.6 L88.34,449.6 L88.86,449.6 L89.39,449.59 L89.91,449.58 L90.43,449.57 L90.96,449.56 L91.48,449.53 L92,449.49 L92.53,449.45 L93.05,449.39 L93.57,449.32 L94.09,449.25 L94.62,449.19 L95.14,449.13 L95.66,449.09 L96.19,449.08 L96.71,449.08 L97.23,449.11 L97.76,449.16 L98.28,449.23 L98.8,449.3 L99.33,449.36 L99.85,449.43 L100.37,449.48 L100.9,449.52 L101.42,449.55 L101.94,449.57 L102.46,449.58 L102.99,449.59 L103.51,449.59 L104.03,449.6 L104.56,449.6 L105.08,449.6 L105.6,449.6 L106.13,449.6 L106.65,449.6 L107.17,449.6 L107.7,449.6 L108.22,449.6 L108.74,449.6 L109.27,449.6 L109.79,449.6 L110.31,449.6 L110.83,449.6 L111.36,449.6 L111.88,449.6 L112.4,449.6 L112.93,449.6 L113.45,449.6 L113.97,449.59 L114.5,449.58 L115.02,449.57 L115.54,449.55 L116.07,449.52 L116.59,449.49 L117.11,449.44 L117.64,449.38 L118.16,449.31 L118.68,449.24 L119.2,449.18 L119.73,449.12 L120.25,449.09 L120.77,449.07" stroke="#1dbac1" stroke-width="0.6" fill="none" stroke-opacity="0.9" stroke-linejoin="round"/>
<path d="M47.61,431.24 L48.13,427.4 L48.64,423.45 L49.16,419.53 L49.67,415.79 L50.19,412.39 L50.7,409.45 L51.22,407.08 L51.73,405.35 L52.25,404.27 L52.76,403.8 L53.28,403.85 L53.79,404.3 L54.31,405 L54.82,405.78 L55.34,406.54 L55.85,407.19 L56.37,407.69 L56.88,408.06 L57.4,408.38 L57.91,408.72 L58.43,409.17 L58.94,409.82 L59.46,410.68 L59.97,411.76 L60.49,413 L61,414.35 L61.52,415.7 L62.03,417 L62.55,418.19 L63.06,419.28 L63.58,420.29 L64.09,421.28 L64.61,422.3 L65.12,423.41 L65.64,424.66 L66.15,426.07 L66.67,427.63 L67.18,429.31 L67.7,431.06 L68.21,432.81 L68.73,434.52 L69.24,436.13 L69.76,437.61 L70.27,438.92 L70.79,440.06 L71.3,441.02 L71.82,441.83 L72.33,442.51 L72.85,443.07 L73.36,443.56 L73.88,444.01 L74.39,444.45 L74.91,444.89 L75.42,445.36 L75.94,445.84 L76.45,446.33 L76.97,446.81 L77.48,447.27 L78,447.68 L78.51,448.03 L79.03,448.31 L79.54,448.52 L80.06,448.68 L80.57,448.79 L81.09,448.86 L81.6,448.92 L82.12,448.96 L82.63,449.01 L83.15,449.07 L83.66,449.13 L84.18,449.2 L84.69,449.28 L85.21,449.35 L85.72,449.41 L86.24,449.47 L86.75,449.51 L87.27,449.54 L87.78,449.56 L88.3,449.58 L88.81,449.59 L89.32,449.59 L89.84,449.6 L90.35,449.6 L90.87,449.6 L91.38,449.6 L91.9,449.6 L92.41,449.6 L92.93,449.6 L93.44,449.6 L93.96,449.6 L94.47,449.6 L94.99,449.6 L95.5,449.6 L96.02,449.6 L96.53,449.6 L97.05,449.6 L97.56,449.6 L98.08,449.6 L98.59,449.6 L99.11,449.6 L99.62,449.6 L100.14,449.6 L100.65,449.6 L101.17,449.6 L101.68,449.6 L102.2,449.6 L102.71,449.6 L103.23,449.6 L103.74,449.6 L104.26,449.6 L104.77,449.6 L105.29,449.6 L105.8,449.6 L106.32,449.6 L106.83,449.6 L107.35,449.6 L107.86,449.6 L108.38,449.6 L108.89,449.6 L109.41,449.6 L109.92,449.6 L110.44,449.6 L110.95,449.6 L111.47,449.6 L111.98,449.6 L112.5,449.59 L113.01,449.59 L113.53,449.58 L114.04,449.57 L114.56,449.55 L115.07,449.52 L115.59,449.48 L116.1,449.43 L116.62,449.37 L117.13,449.3 L117.65,449.24 L118.16,449.17 L118.68,449.12 L119.19,449.09 L119.71,449.07" stroke="#1dbac1" stroke-width="0.6" fill="none" stroke-opacity="0.9" stroke-linejoin="round"/>
<path d="M47.49,431.65 L48.01,427.83 L48.53,423.85 L49.06,419.84 L49.58,415.93 L50.11,412.27 L50.63,408.94 L51.16,406.04 L51.68,403.58 L52.21,401.56 L52.73,399.95 L53.26,398.7 L53.78,397.78 L54.31,397.18 L54.83,396.92 L55.36,397.05 L55.88,397.63 L56.41,398.71 L56.93,400.28 L57.46,402.32 L57.98,404.74 L58.51,407.42 L59.03,410.22 L59.56,413.02 L60.08,415.7 L60.61,418.18 L61.13,420.42 L61.66,422.39 L62.18,424.08 L62.71,425.5 L63.23,426.67 L63.76,427.62 L64.28,428.39 L64.81,429.04 L65.33,429.64 L65.86,430.25 L66.38,430.93 L66.91,431.72 L67.43,432.64 L67.96,433.68 L68.48,434.81 L69.01,435.99 L69.53,437.19 L70.06,438.37 L70.58,439.49 L71.11,440.53 L71.63,441.47 L72.16,442.3 L72.68,443.02 L73.21,443.63 L73.73,444.15 L74.26,444.6 L74.78,445.01 L75.31,445.4 L75.83,445.8 L76.36,446.21 L76.88,446.65 L77.41,447.1 L77.93,447.54 L78.46,447.96 L78.98,448.34 L79.51,448.67 L80.03,448.94 L80.56,449.15 L81.08,449.3 L81.61,449.41 L82.13,449.49 L82.66,449.53 L83.18,449.56 L83.7,449.58 L84.23,449.59 L84.75,449.6 L85.28,449.6 L85.8,449.6 L86.33,449.6 L86.85,449.6 L87.38,449.6 L87.9,449.6 L88.43,449.6 L88.95,449.6 L89.48,449.6 L90,449.6 L90.53,449.6 L91.05,449.6 L91.58,449.6 L92.1,449.6 L92.63,449.6 L93.15,449.6 L93.68,449.6 L94.2,449.6 L94.73,449.6 L95.25,449.6 L95.78,449.6 L96.3,449.6 L96.83,449.6 L97.35,449.6 L97.88,449.6 L98.4,449.6 L98.93,449.6 L99.45,449.6 L99.98,449.6 L100.5,449.6 L101.03,449.6 L101.55,449.6 L102.08,449.6 L102.6,449.6 L103.13,449.6 L103.65,449.6 L104.18,449.6 L104.7,449.6 L105.23,449.6 L105.75,449.6 L106.28,449.6 L106.8,449.6 L107.33,449.6 L107.85,449.6 L108.38,449.6 L108.9,449.6 L109.43,449.6 L109.95,449.6 L110.48,449.6 L111,449.6 L111.53,449.6 L112.05,449.6 L112.58,449.6 L113.1,449.6 L113.63,449.6 L114.15,449.59 L114.68,449.58 L115.2,449.57 L115.73,449.55 L116.25,449.52 L116.78,449.49 L117.3,449.44 L117.83,449.38 L118.35,449.31 L118.87,449.24 L119.4,449.18 L119.92,449.12 L120.45,449.09 L120.97,449.07" stroke="#1dbac1" stroke-width="0.6" fill="none" stroke-opacity="0.9" stroke-linejoin="round"/>
<path d="M47.51,437.54 L48.01,434.97 L48.51,432.11 L49.01,428.96 L49.51,425.54 L50.01,421.87 L50.51,418.03 L51.01,414.12 L51.52,410.31 L52.02,406.75 L52.52,403.62 L53.02,401.08 L53.52,399.21 L54.02,398.06 L54.52,397.6 L55.02,397.74 L55.52,398.38 L56.02,399.38 L56.52,400.61 L57.02,401.98 L57.52,403.39 L58.02,404.82 L58.52,406.23 L59.02,407.64 L59.52,409.05 L60.02,410.48 L60.52,411.94 L61.02,413.45 L61.52,414.98 L62.03,416.53 L62.53,418.07 L63.03,419.6 L63.53,421.08 L64.03,422.51 L64.53,423.88 L65.03,425.2 L65.53,426.47 L66.03,427.69 L66.53,428.89 L67.03,430.06 L67.53,431.23 L68.03,432.38 L68.53,433.54 L69.03,434.7 L69.53,435.87 L70.03,437.04 L70.53,438.2 L71.03,439.33 L71.53,440.41 L72.04,441.43 L72.54,442.37 L73.04,443.2 L73.54,443.94 L74.04,444.58 L74.54,445.13 L75.04,445.61 L75.54,446.02 L76.04,446.38 L76.54,446.69 L77.04,446.97 L77.54,447.21 L78.04,447.43 L78.54,447.63 L79.04,447.81 L79.54,447.99 L80.04,448.17 L80.54,448.35 L81.04,448.53 L81.54,448.71 L82.05,448.88 L82.55,449.03 L83.05,449.17 L83.55,449.29 L84.05,449.38 L84.55,449.45 L85.05,449.5 L85.55,449.54 L86.05,449.56 L86.55,449.58 L87.05,449.59 L87.55,449.59 L88.05,449.6 L88.55,449.6 L89.05,449.6 L89.55,449.6 L90.05,449.6 L90.55,449.6 L91.05,449.6 L91.55,449.6 L92.05,449.6 L92.56,449.6 L93.06,449.6 L93.56,449.6 L94.06,449.6 L94.56,449.6 L95.06,449.6 L95.56,449.6 L96.06,449.6 L96.56,449.6 L97.06,449.6 L97.56,449.6 L98.06,449.6 L98.56,449.6 L99.06,449.6 L99.56,449.6 L100.06,449.6 L100.56,449.6 L101.06,449.6 L101.56,449.6 L102.06,449.6 L102.57,449.6 L103.07,449.6 L103.57,449.6 L104.07,449.6 L104.57,449.6 L105.07,449.6 L105.57,449.59 L106.07,449.59 L106.57,449.58 L107.07,449.57 L107.57,449.55 L108.07,449.52 L108.57,449.49 L109.07,449.44 L109.57,449.38 L110.07,449.32 L110.57,449.25 L111.07,449.18 L111.57,449.11 L112.07,449.06 L112.58,449.02 L113.08,448.99 L113.58,448.98 L114.08,448.97 L114.58,448.97 L115.08,448.97 L115.58,448.97 L116.08,448.97 L116.58,448.97 L117.08,448.99 L117.58,449.01" stroke="#1dbac1" stroke-width="0.6" fill="none" stroke-opacity="0.9" stroke-linejoin="round"/>
<path d="M47.52,432.45 L48.03,428.76 L48.55,424.87 L49.06,420.91 L49.57,417.01 L50.08,413.3 L50.59,409.9 L51.11,406.91 L51.62,404.39 L52.13,402.35 L52.64,400.78 L53.16,399.63 L53.67,398.85 L54.18,398.37 L54.69,398.13 L55.21,398.11 L55.72,398.3 L56.23,398.73 L56.74,399.44 L57.26,400.45 L57.77,401.8 L58.28,403.47 L58.79,405.43 L59.31,407.6 L59.82,409.91 L60.33,412.26 L60.84,414.56 L61.35,416.76 L61.87,418.82 L62.38,420.75 L62.89,422.56 L63.4,424.27 L63.92,425.94 L64.43,427.57 L64.94,429.16 L65.45,430.71 L65.97,432.19 L66.48,433.56 L66.99,434.8 L67.5,435.91 L68.02,436.89 L68.53,437.76 L69.04,438.56 L69.55,439.34 L70.06,440.11 L70.58,440.9 L71.09,441.72 L71.6,442.55 L72.11,443.36 L72.63,444.14 L73.14,444.86 L73.65,445.49 L74.16,446.02 L74.68,446.45 L75.19,446.78 L75.7,447.04 L76.21,447.24 L76.73,447.4 L77.24,447.54 L77.75,447.68 L78.26,447.82 L78.77,447.97 L79.29,448.12 L79.8,448.27 L80.31,448.42 L80.82,448.57 L81.34,448.71 L81.85,448.85 L82.36,448.98 L82.87,449.1 L83.39,449.2 L83.9,449.3 L84.41,449.38 L84.92,449.44 L85.44,449.49 L85.95,449.53 L86.46,449.56 L86.97,449.57 L87.49,449.58 L88,449.59 L88.51,449.6 L89.02,449.6 L89.53,449.6 L90.05,449.6 L90.56,449.6 L91.07,449.6 L91.58,449.6 L92.1,449.6 L92.61,449.6 L93.12,449.6 L93.63,449.6 L94.15,449.6 L94.66,449.6 L95.17,449.6 L95.68,449.6 L96.2,449.6 L96.71,449.6 L97.22,449.6 L97.73,449.6 L98.24,449.6 L98.76,449.6 L99.27,449.6 L99.78,449.6 L100.29,449.6 L100.81,449.6 L101.32,449.6 L101.83,449.6 L102.34,449.6 L102.86,449.6 L103.37,449.6 L103.88,449.6 L104.39,449.6 L104.91,449.6 L105.42,449.59 L105.93,449.59 L106.44,449.58 L106.95,449.56 L107.47,449.54 L107.98,449.51 L108.49,449.47 L109,449.42 L109.52,449.36 L110.03,449.29 L110.54,449.23 L111.05,449.16 L111.57,449.11 L112.08,449.08 L112.59,449.06 L113.1,449.07 L113.62,449.09 L114.13,449.13 L114.64,449.16 L115.15,449.19 L115.66,449.21 L116.18,449.2 L116.69,449.19 L117.2,449.16 L117.71,449.12 L118.23,449.09 L118.74,449.07 L119.25,449.06" stroke="#1dbac1" stroke-width="0.6" fill="none" stroke-opacity="0.9" stroke-linejoin="round"/>
<path d="M47.7,433.87 L48.21,430.33 L48.72,426.54 L49.24,422.6 L49.75,418.59 L50.26,414.61 L50.78,410.76 L51.29,407.14 L51.8,403.84 L52.32,400.96 L52.83,398.59 L53.35,396.78 L53.86,395.59 L54.37,395.05 L54.89,395.16 L55.4,395.91 L55.91,397.26 L56.43,399.14 L56.94,401.43 L57.46,404.01 L57.97,406.71 L58.48,409.35 L59,411.78 L59.51,413.86 L60.02,415.51 L60.54,416.72 L61.05,417.54 L61.57,418.09 L62.08,418.48 L62.59,418.89 L63.11,419.44 L63.62,420.24 L64.13,421.35 L64.65,422.76 L65.16,424.46 L65.67,426.36 L66.19,428.38 L66.7,430.43 L67.22,432.42 L67.73,434.28 L68.24,435.96 L68.76,437.45 L69.27,438.73 L69.78,439.81 L70.3,440.72 L70.81,441.47 L71.33,442.1 L71.84,442.65 L72.35,443.15 L72.87,443.62 L73.38,444.08 L73.89,444.55 L74.41,445.03 L74.92,445.52 L75.44,446 L75.95,446.48 L76.46,446.92 L76.98,447.32 L77.49,447.67 L78,447.96 L78.52,448.19 L79.03,448.37 L79.54,448.51 L80.06,448.61 L80.57,448.69 L81.09,448.75 L81.6,448.81 L82.11,448.87 L82.63,448.93 L83.14,449 L83.65,449.08 L84.17,449.16 L84.68,449.25 L85.2,449.32 L85.71,449.39 L86.22,449.45 L86.74,449.5 L87.25,449.53 L87.76,449.56 L88.28,449.57 L88.79,449.59 L89.31,449.59 L89.82,449.6 L90.33,449.6 L90.85,449.6 L91.36,449.6 L91.87,449.6 L92.39,449.6 L92.9,449.6 L93.41,449.6 L93.93,449.6 L94.44,449.6 L94.96,449.6 L95.47,449.6 L95.98,449.6 L96.5,449.6 L97.01,449.6 L97.52,449.6 L98.04,449.6 L98.55,449.6 L99.07,449.6 L99.58,449.6 L100.09,449.6 L100.61,449.6 L101.12,449.6 L101.63,449.6 L102.15,449.6 L102.66,449.6 L103.18,449.6 L103.69,449.6 L104.2,449.6 L104.72,449.6 L105.23,449.6 L105.74,449.6 L106.26,449.6 L106.77,449.6 L107.28,449.6 L107.8,449.6 L108.31,449.6 L108.83,449.6 L109.34,449.6 L109.85,449.6 L110.37,449.6 L110.88,449.6 L111.39,449.6 L111.91,449.6 L112.42,449.59 L112.94,449.59 L113.45,449.58 L113.96,449.57 L114.48,449.55 L114.99,449.52 L115.5,449.48 L116.02,449.43 L116.53,449.37 L117.05,449.3 L117.56,449.24 L118.07,449.17 L118.59,449.12 L119.1,449.09 L119.61,449.07" stroke="#1dbac1" stroke-width="0.6" fill="none" stroke-opacity="0.9" stroke-linejoin="round"/>
<path d="M47.75,432.94 L48.25,429.82 L48.75,426.64 L49.25,423.46 L49.75,420.35 L50.24,417.34 L50.74,414.48 L51.24,411.78 L51.74,409.27 L52.23,406.97 L52.73,404.92 L53.23,403.15 L53.73,401.7 L54.23,400.59 L54.72,399.83 L55.22,399.43 L55.72,399.38 L56.22,399.65 L56.72,400.2 L57.21,400.99 L57.71,401.98 L58.21,403.11 L58.71,404.37 L59.21,405.71 L59.7,407.12 L60.2,408.61 L60.7,410.17 L61.2,411.83 L61.69,413.58 L62.19,415.42 L62.69,417.35 L63.19,419.34 L63.69,421.35 L64.18,423.34 L64.68,425.28 L65.18,427.13 L65.68,428.88 L66.18,430.53 L66.67,432.07 L67.17,433.52 L67.67,434.89 L68.17,436.17 L68.67,437.36 L69.16,438.45 L69.66,439.42 L70.16,440.28 L70.66,441.02 L71.15,441.68 L71.65,442.27 L72.15,442.83 L72.65,443.37 L73.15,443.93 L73.64,444.5 L74.14,445.07 L74.64,445.63 L75.14,446.16 L75.64,446.63 L76.13,447.03 L76.63,447.36 L77.13,447.63 L77.63,447.84 L78.13,448.01 L78.62,448.15 L79.12,448.26 L79.62,448.37 L80.12,448.47 L80.61,448.57 L81.11,448.67 L81.61,448.77 L82.11,448.87 L82.61,448.96 L83.1,449.04 L83.6,449.11 L84.1,449.15 L84.6,449.17 L85.1,449.16 L85.59,449.14 L86.09,449.11 L86.59,449.07 L87.09,449.03 L87.58,449 L88.08,448.97 L88.58,448.96 L89.08,448.95 L89.58,448.95 L90.07,448.95 L90.57,448.95 L91.07,448.95 L91.57,448.96 L92.07,448.98 L92.56,449.01 L93.06,449.05 L93.56,449.1 L94.06,449.16 L94.56,449.23 L95.05,449.3 L95.55,449.37 L96.05,449.43 L96.55,449.48 L97.04,449.52 L97.54,449.54 L98.04,449.57 L98.54,449.58 L99.04,449.59 L99.53,449.59 L100.03,449.6 L100.53,449.6 L101.03,449.6 L101.53,449.6 L102.02,449.6 L102.52,449.6 L103.02,449.6 L103.52,449.6 L104.02,449.6 L104.51,449.6 L105.01,449.6 L105.51,449.6 L106.01,449.6 L106.5,449.6 L107,449.6 L107.5,449.6 L108,449.6 L108.5,449.6 L108.99,449.6 L109.49,449.6 L109.99,449.6 L110.49,449.59 L110.99,449.59 L111.48,449.58 L111.98,449.56 L112.48,449.54 L112.98,449.51 L113.48,449.47 L113.97,449.42 L114.47,449.36 L114.97,449.29 L115.47,449.23 L115.96,449.17 L116.46,449.12 L116.96,449.09 L117.46,449.08" stroke="#1dbac1" stroke-width="0.6" fill="none" stroke-opacity="0.9" stroke-linejoin="round"/>
<path d="M47.65,432.05 L48.16,428.09 L48.67,423.88 L49.18,419.54 L49.69,415.22 L50.2,411.07 L50.71,407.23 L51.22,403.81 L51.73,400.9 L52.24,398.55 L52.75,396.76 L53.26,395.53 L53.77,394.82 L54.27,394.61 L54.78,394.85 L55.29,395.55 L55.8,396.68 L56.31,398.2 L56.82,400.09 L57.33,402.27 L57.84,404.66 L58.35,407.16 L58.86,409.68 L59.37,412.14 L59.88,414.5 L60.39,416.71 L60.9,418.76 L61.41,420.65 L61.92,422.37 L62.43,423.91 L62.94,425.27 L63.45,426.44 L63.96,427.43 L64.46,428.26 L64.97,428.96 L65.48,429.58 L65.99,430.18 L66.5,430.8 L67.01,431.5 L67.52,432.33 L68.03,433.29 L68.54,434.39 L69.05,435.62 L69.56,436.93 L70.07,438.28 L70.58,439.62 L71.09,440.88 L71.6,442.05 L72.11,443.08 L72.62,443.99 L73.13,444.78 L73.64,445.47 L74.15,446.08 L74.66,446.63 L75.16,447.12 L75.67,447.57 L76.18,447.98 L76.69,448.34 L77.2,448.64 L77.71,448.9 L78.22,449.1 L78.73,449.26 L79.24,449.38 L79.75,449.46 L80.26,449.51 L80.77,449.55 L81.28,449.57 L81.79,449.58 L82.3,449.59 L82.81,449.59 L83.32,449.58 L83.83,449.57 L84.34,449.55 L84.85,449.53 L85.35,449.49 L85.86,449.45 L86.37,449.39 L86.88,449.33 L87.39,449.26 L87.9,449.19 L88.41,449.14 L88.92,449.1 L89.43,449.07 L89.94,449.08 L90.45,449.1 L90.96,449.15 L91.47,449.21 L91.98,449.27 L92.49,449.34 L93,449.4 L93.51,449.46 L94.02,449.5 L94.53,449.53 L95.04,449.56 L95.54,449.57 L96.05,449.59 L96.56,449.59 L97.07,449.6 L97.58,449.6 L98.09,449.6 L98.6,449.6 L99.11,449.6 L99.62,449.6 L100.13,449.6 L100.64,449.6 L101.15,449.6 L101.66,449.6 L102.17,449.6 L102.68,449.6 L103.19,449.6 L103.7,449.6 L104.21,449.6 L104.72,449.6 L105.23,449.6 L105.74,449.6 L106.24,449.6 L106.75,449.6 L107.26,449.6 L107.77,449.6 L108.28,449.6 L108.79,449.6 L109.3,449.6 L109.81,449.6 L110.32,449.6 L110.83,449.6 L111.34,449.6 L111.85,449.59 L112.36,449.59 L112.87,449.58 L113.38,449.57 L113.89,449.54 L114.4,449.52 L114.91,449.48 L115.42,449.43 L115.93,449.37 L116.43,449.3 L116.94,449.23 L117.45,449.17 L117.96,449.12 L118.47,449.08 L118.98,449.07" stroke="#1dbac1" stroke-width="0.6" fill="none" stroke-opacity="0.9" stroke-linejoin="round"/>
<path d="M47.51,428.05 L48.02,423.7 L48.54,419.28 L49.05,414.97 L49.57,410.95 L50.08,407.36 L50.59,404.3 L51.11,401.84 L51.62,400 L52.14,398.73 L52.65,397.99 L53.16,397.71 L53.68,397.83 L54.19,398.29 L54.71,399.06 L55.22,400.1 L55.73,401.39 L56.25,402.91 L56.76,404.62 L57.28,406.5 L57.79,408.52 L58.3,410.66 L58.82,412.88 L59.33,415.15 L59.85,417.4 L60.36,419.59 L60.87,421.65 L61.39,423.55 L61.9,425.25 L62.41,426.74 L62.93,428.02 L63.44,429.11 L63.96,430.04 L64.47,430.85 L64.98,431.56 L65.5,432.2 L66.01,432.8 L66.53,433.39 L67.04,433.98 L67.55,434.59 L68.07,435.23 L68.58,435.89 L69.1,436.57 L69.61,437.25 L70.12,437.91 L70.64,438.56 L71.15,439.19 L71.67,439.81 L72.18,440.44 L72.69,441.08 L73.21,441.75 L73.72,442.46 L74.24,443.19 L74.75,443.93 L75.26,444.66 L75.78,445.35 L76.29,446 L76.81,446.59 L77.32,447.12 L77.83,447.58 L78.35,447.98 L78.86,448.32 L79.37,448.61 L79.89,448.86 L80.4,449.06 L80.92,449.21 L81.43,449.34 L81.94,449.43 L82.46,449.49 L82.97,449.53 L83.49,449.56 L84,449.58 L84.51,449.59 L85.03,449.59 L85.54,449.6 L86.06,449.6 L86.57,449.6 L87.08,449.6 L87.6,449.6 L88.11,449.6 L88.63,449.6 L89.14,449.6 L89.65,449.6 L90.17,449.6 L90.68,449.6 L91.2,449.6 L91.71,449.6 L92.22,449.6 L92.74,449.6 L93.25,449.6 L93.77,449.6 L94.28,449.6 L94.79,449.6 L95.31,449.6 L95.82,449.6 L96.33,449.6 L96.85,449.6 L97.36,449.6 L97.88,449.6 L98.39,449.6 L98.9,449.6 L99.42,449.6 L99.93,449.6 L100.45,449.6 L100.96,449.6 L101.47,449.6 L101.99,449.6 L102.5,449.6 L103.02,449.6 L103.53,449.6 L104.04,449.6 L104.56,449.6 L105.07,449.6 L105.59,449.6 L106.1,449.59 L106.61,449.59 L107.13,449.58 L107.64,449.56 L108.16,449.54 L108.67,449.51 L109.18,449.46 L109.7,449.41 L110.21,449.35 L110.73,449.28 L111.24,449.21 L111.75,449.15 L112.27,449.1 L112.78,449.07 L113.29,449.05 L113.81,449.06 L114.32,449.08 L114.84,449.11 L115.35,449.14 L115.86,449.16 L116.38,449.16 L116.89,449.15 L117.41,449.13 L117.92,449.1 L118.43,449.07 L118.95,449.06 L119.46,449.06" stroke="#1dbac1" stroke-width="0.6" fill="none" stroke-opacity="0.9" stroke-linejoin="round"/>
<path d="M47.62,433.25 L48.15,429.66 L48.67,425.87 L49.2,421.99 L49.72,418.13 L50.24,414.39 L50.77,410.86 L51.29,407.62 L51.81,404.69 L52.34,402.1 L52.86,399.87 L53.38,398 L53.91,396.51 L54.43,395.42 L54.95,394.78 L55.48,394.62 L56,394.97 L56.53,395.82 L57.05,397.15 L57.57,398.9 L58.1,401.01 L58.62,403.37 L59.14,405.88 L59.67,408.44 L60.19,410.97 L60.71,413.39 L61.24,415.66 L61.76,417.76 L62.29,419.7 L62.81,421.53 L63.33,423.26 L63.86,424.96 L64.38,426.64 L64.9,428.32 L65.43,429.99 L65.95,431.62 L66.47,433.2 L67,434.69 L67.52,436.06 L68.05,437.32 L68.57,438.46 L69.09,439.48 L69.62,440.42 L70.14,441.29 L70.66,442.1 L71.19,442.89 L71.71,443.64 L72.23,444.36 L72.76,445.05 L73.28,445.68 L73.8,446.25 L74.33,446.75 L74.85,447.18 L75.38,447.53 L75.9,447.82 L76.42,448.05 L76.95,448.24 L77.47,448.4 L77.99,448.54 L78.52,448.67 L79.04,448.8 L79.56,448.93 L80.09,449.05 L80.61,449.17 L81.14,449.26 L81.66,449.35 L82.18,449.41 L82.71,449.45 L83.23,449.47 L83.75,449.46 L84.28,449.44 L84.8,449.4 L85.32,449.34 L85.85,449.28 L86.37,449.21 L86.9,449.15 L87.42,449.11 L87.94,449.08 L88.47,449.08 L88.99,449.1 L89.51,449.15 L90.04,449.21 L90.56,449.27 L91.08,449.34 L91.61,449.41 L92.13,449.46 L92.65,449.5 L93.18,449.54 L93.7,449.56 L94.23,449.58 L94.75,449.59 L95.27,449.59 L95.8,449.6 L96.32,449.6 L96.84,449.6 L97.37,449.6 L97.89,449.6 L98.41,449.6 L98.94,449.6 L99.46,449.6 L99.99,449.6 L100.51,449.6 L101.03,449.6 L101.56,449.6 L102.08,449.6 L102.6,449.6 L103.13,449.6 L103.65,449.6 L104.17,449.6 L104.7,449.6 L105.22,449.59 L105.75,449.59 L106.27,449.58 L106.79,449.56 L107.32,449.54 L107.84,449.51 L108.36,449.46 L108.89,449.41 L109.41,449.34 L109.93,449.28 L110.46,449.21 L110.98,449.15 L111.5,449.1 L112.03,449.08 L112.55,449.08 L113.08,449.1 L113.6,449.15 L114.12,449.2 L114.65,449.26 L115.17,449.32 L115.69,449.36 L116.22,449.39 L116.74,449.39 L117.26,449.38 L117.79,449.34 L118.31,449.29 L118.84,449.23 L119.36,449.17 L119.88,449.12 L120.41,449.09 L120.93,449.08" stroke="#1dbac1" stroke-width="0.6" fill="none" stroke-opacity="0.9" stroke-linejoin="round"/>
<path d="M47.48,437.54 L48.01,434.73 L48.54,431.71 L49.07,428.57 L49.6,425.37 L50.13,422.2 L50.66,419.12 L51.19,416.17 L51.72,413.36 L52.25,410.7 L52.78,408.2 L53.31,405.86 L53.84,403.74 L54.37,401.91 L54.9,400.44 L55.43,399.42 L55.96,398.94 L56.49,399.02 L57.02,399.65 L57.55,400.8 L58.08,402.39 L58.61,404.29 L59.14,406.41 L59.67,408.6 L60.2,410.75 L60.73,412.76 L61.26,414.54 L61.79,416.04 L62.32,417.27 L62.85,418.25 L63.38,419.08 L63.91,419.86 L64.44,420.68 L64.97,421.67 L65.5,422.87 L66.03,424.31 L66.56,425.96 L67.09,427.78 L67.62,429.66 L68.15,431.55 L68.68,433.35 L69.21,435.03 L69.74,436.56 L70.27,437.94 L70.8,439.17 L71.33,440.27 L71.86,441.27 L72.39,442.17 L72.92,442.99 L73.45,443.74 L73.98,444.42 L74.51,445.03 L75.04,445.59 L75.57,446.1 L76.1,446.57 L76.64,446.99 L77.17,447.37 L77.7,447.72 L78.23,448.02 L78.76,448.28 L79.29,448.5 L79.82,448.67 L80.35,448.79 L80.88,448.85 L81.41,448.88 L81.94,448.86 L82.47,448.81 L83,448.75 L83.53,448.69 L84.06,448.64 L84.59,448.61 L85.12,448.62 L85.65,448.67 L86.18,448.74 L86.71,448.85 L87.24,448.96 L87.77,449.09 L88.3,449.2 L88.83,449.3 L89.36,449.39 L89.89,449.46 L90.42,449.51 L90.95,449.54 L91.48,449.57 L92.01,449.58 L92.54,449.59 L93.07,449.59 L93.6,449.6 L94.13,449.6 L94.66,449.6 L95.19,449.6 L95.72,449.6 L96.25,449.6 L96.78,449.6 L97.31,449.6 L97.84,449.6 L98.37,449.6 L98.9,449.6 L99.43,449.6 L99.96,449.6 L100.49,449.6 L101.02,449.6 L101.55,449.6 L102.08,449.6 L102.61,449.6 L103.14,449.6 L103.67,449.6 L104.2,449.6 L104.73,449.6 L105.26,449.6 L105.79,449.6 L106.32,449.6 L106.85,449.6 L107.38,449.6 L107.91,449.59 L108.44,449.59 L108.97,449.58 L109.5,449.56 L110.03,449.54 L110.56,449.51 L111.09,449.46 L111.62,449.41 L112.15,449.34 L112.68,449.27 L113.21,449.2 L113.74,449.14 L114.27,449.1 L114.8,449.07 L115.33,449.07 L115.86,449.08 L116.39,449.11 L116.92,449.15 L117.45,449.18 L117.98,449.2 L118.51,449.2 L119.04,449.19 L119.58,449.16 L120.11,449.13 L120.64,449.09 L121.17,449.07 L121.7,449.07" stroke="#1dbac1" stroke-width="0.6" fill="none" stroke-opacity="0.9" stroke-linejoin="round"/>
<path d="M47.65,430.82 L48.15,426.9 L48.65,422.87 L49.16,418.87 L49.66,415.04 L50.16,411.48 L50.66,408.28 L51.17,405.46 L51.67,403.05 L52.17,401.06 L52.67,399.5 L53.18,398.39 L53.68,397.74 L54.18,397.59 L54.68,397.96 L55.19,398.83 L55.69,400.18 L56.19,401.94 L56.69,404.01 L57.2,406.27 L57.7,408.59 L58.2,410.87 L58.7,413.01 L59.21,414.96 L59.71,416.71 L60.21,418.28 L60.71,419.71 L61.22,421.04 L61.72,422.31 L62.22,423.52 L62.72,424.66 L63.23,425.7 L63.73,426.6 L64.23,427.33 L64.73,427.9 L65.23,428.32 L65.74,428.65 L66.24,428.96 L66.74,429.32 L67.24,429.81 L67.75,430.47 L68.25,431.33 L68.75,432.38 L69.25,433.59 L69.76,434.9 L70.26,436.26 L70.76,437.6 L71.26,438.88 L71.77,440.06 L72.27,441.12 L72.77,442.07 L73.27,442.92 L73.78,443.69 L74.28,444.4 L74.78,445.08 L75.28,445.73 L75.79,446.36 L76.29,446.94 L76.79,447.48 L77.29,447.96 L77.8,448.37 L78.3,448.7 L78.8,448.96 L79.3,449.14 L79.81,449.26 L80.31,449.32 L80.81,449.34 L81.31,449.33 L81.82,449.29 L82.32,449.24 L82.82,449.18 L83.32,449.13 L83.82,449.09 L84.33,449.07 L84.83,449.07 L85.33,449.09 L85.83,449.13 L86.34,449.17 L86.84,449.21 L87.34,449.24 L87.84,449.26 L88.35,449.27 L88.85,449.25 L89.35,449.22 L89.85,449.17 L90.36,449.13 L90.86,449.1 L91.36,449.07 L91.86,449.07 L92.37,449.09 L92.87,449.13 L93.37,449.18 L93.87,449.24 L94.38,449.31 L94.88,449.37 L95.38,449.43 L95.88,449.48 L96.39,449.52 L96.89,449.55 L97.39,449.57 L97.89,449.58 L98.4,449.59 L98.9,449.59 L99.4,449.6 L99.9,449.6 L100.41,449.6 L100.91,449.6 L101.41,449.6 L101.91,449.6 L102.41,449.6 L102.92,449.6 L103.42,449.6 L103.92,449.6 L104.42,449.6 L104.93,449.6 L105.43,449.6 L105.93,449.6 L106.43,449.6 L106.94,449.6 L107.44,449.6 L107.94,449.6 L108.44,449.6 L108.95,449.6 L109.45,449.6 L109.95,449.6 L110.45,449.6 L110.96,449.59 L111.46,449.59 L111.96,449.58 L112.46,449.56 L112.97,449.54 L113.47,449.51 L113.97,449.47 L114.47,449.42 L114.98,449.36 L115.48,449.3 L115.98,449.23 L116.48,449.17 L116.99,449.12 L117.49,449.09 L117.99,449.07" stroke="#1dbac1" stroke-width="0.6" fill="none" stroke-opacity="0.9" stroke-linejoin="round"/>
<path d="M47.53,431.71 L48.03,428.24 L48.53,424.61 L49.03,420.9 L49.53,417.22 L50.03,413.65 L50.53,410.31 L51.03,407.32 L51.53,404.78 L52.03,402.77 L52.53,401.34 L53.03,400.5 L53.53,400.2 L54.03,400.36 L54.53,400.88 L55.03,401.64 L55.53,402.57 L56.03,403.6 L56.53,404.71 L57.02,405.9 L57.52,407.2 L58.02,408.62 L58.52,410.16 L59.02,411.81 L59.52,413.51 L60.02,415.21 L60.52,416.83 L61.02,418.3 L61.52,419.58 L62.02,420.65 L62.52,421.52 L63.02,422.23 L63.52,422.82 L64.02,423.36 L64.52,423.91 L65.02,424.53 L65.52,425.25 L66.02,426.1 L66.52,427.1 L67.02,428.22 L67.52,429.47 L68.02,430.83 L68.52,432.26 L69.02,433.76 L69.52,435.29 L70.02,436.84 L70.52,438.36 L71.02,439.83 L71.52,441.23 L72.02,442.51 L72.52,443.67 L73.02,444.69 L73.52,445.57 L74.02,446.31 L74.52,446.92 L75.02,447.42 L75.52,447.82 L76.02,448.13 L76.52,448.37 L77.02,448.55 L77.52,448.69 L78.02,448.78 L78.52,448.85 L79.02,448.91 L79.52,448.97 L80.02,449.03 L80.52,449.1 L81.02,449.16 L81.52,449.23 L82.02,449.28 L82.52,449.32 L83.02,449.34 L83.52,449.33 L84.02,449.29 L84.52,449.22 L85.02,449.12 L85.51,449.01 L86.01,448.88 L86.51,448.76 L87.01,448.66 L87.51,448.58 L88.01,448.55 L88.51,448.56 L89.01,448.61 L89.51,448.7 L90.01,448.82 L90.51,448.95 L91.01,449.08 L91.51,449.2 L92.01,449.31 L92.51,449.4 L93.01,449.46 L93.51,449.51 L94.01,449.55 L94.51,449.57 L95.01,449.58 L95.51,449.59 L96.01,449.6 L96.51,449.6 L97.01,449.6 L97.51,449.6 L98.01,449.6 L98.51,449.6 L99.01,449.6 L99.51,449.6 L100.01,449.6 L100.51,449.6 L101.01,449.6 L101.51,449.6 L102.01,449.6 L102.51,449.6 L103.01,449.6 L103.51,449.6 L104.01,449.6 L104.51,449.6 L105.01,449.6 L105.51,449.6 L106.01,449.6 L106.51,449.6 L107.01,449.6 L107.51,449.6 L108.01,449.6 L108.51,449.6 L109.01,449.6 L109.51,449.6 L110.01,449.6 L110.51,449.59 L111.01,449.59 L111.51,449.58 L112.01,449.56 L112.51,449.54 L113.01,449.51 L113.51,449.47 L114.01,449.42 L114.5,449.36 L115,449.29 L115.5,449.23 L116,449.17 L116.5,449.12 L117,449.08 L117.5,449.07" stroke="#1dbac1" stroke-width="0.6" fill="none" stroke-opacity="0.9" stroke-linejoin="round"/>
<path d="M47.3,442.99 L47.77,442.06 L48.24,441.04 L48.71,439.94 L49.18,438.76 L49.65,437.49 L50.12,436.16 L50.6,434.76 L51.07,433.32 L51.54,431.84 L52.01,430.33 L52.48,428.82 L52.95,427.32 L53.42,425.85 L53.89,424.43 L54.36,423.08 L54.83,421.82 L55.3,420.67 L55.77,419.64 L56.25,418.74 L56.72,417.99 L57.19,417.4 L57.66,416.97 L58.13,416.71 L58.6,416.66 L59.07,416.84 L59.54,417.23 L60.01,417.82 L60.48,418.57 L60.95,419.47 L61.42,420.48 L61.89,421.58 L62.37,422.72 L62.84,423.88 L63.31,425.03 L63.78,426.14 L64.25,427.19 L64.72,428.15 L65.19,429.02 L65.66,429.79 L66.13,430.44 L66.6,430.99 L67.07,431.42 L67.54,431.75 L68.02,431.99 L68.49,432.14 L68.96,432.23 L69.43,432.27 L69.9,432.27 L70.37,432.25 L70.84,432.21 L71.31,432.19 L71.78,432.18 L72.25,432.19 L72.72,432.25 L73.19,432.35 L73.66,432.49 L74.14,432.69 L74.61,432.94 L75.08,433.24 L75.55,433.59 L76.02,433.99 L76.49,434.43 L76.96,434.91 L77.43,435.42 L77.9,435.94 L78.37,436.49 L78.84,437.04 L79.31,437.59 L79.79,438.14 L80.26,438.67 L80.73,439.18 L81.2,439.67 L81.67,440.13 L82.14,440.56 L82.61,440.95 L83.08,441.31 L83.55,441.63 L84.02,441.92 L84.49,442.17 L84.96,442.38 L85.43,442.57 L85.91,442.74 L86.38,442.88 L86.85,443 L87.32,443.11 L87.79,443.22 L88.26,443.31 L88.73,443.41 L89.2,443.52 L89.67,443.63 L90.14,443.75 L90.61,443.88 L91.08,444.02 L91.56,444.18 L92.03,444.36 L92.5,444.55 L92.97,444.75 L93.44,444.97 L93.91,445.19 L94.38,445.43 L94.85,445.67 L95.32,445.91 L95.79,446.16 L96.26,446.4 L96.73,446.64 L97.2,446.88 L97.68,447.1 L98.15,447.32 L98.62,447.53 L99.09,447.72 L99.56,447.9 L100.03,448.07 L100.5,448.23 L100.97,448.37 L101.44,448.5 L101.91,448.61 L102.38,448.71 L102.85,448.8 L103.33,448.88 L103.8,448.95 L104.27,449.01 L104.74,449.06 L105.21,449.11 L105.68,449.14 L106.15,449.17 L106.62,449.2 L107.09,449.22 L107.56,449.24 L108.03,449.25 L108.5,449.27 L108.97,449.28 L109.45,449.28 L109.92,449.29 L110.39,449.29 L110.86,449.3 L111.33,449.3 L111.8,449.3 L112.27,449.3 L112.74,449.31 L113.21,449.31 L113.68,449.31 L114.15,449.31 L114.62,449.31 L115.1,449.31 L115.57,449.31 L116.04,449.31 L116.51,449.31 L116.98,449.31 L117.45,449.31 L117.92,449.31 L118.39,449.31 L118.86,449.31 L119.33,449.31 L119.8,449.31 L120.27,449.31 L120.74,449.31 L121.22,449.31 L121.69,449.31 L122.16,449.31 L122.63,449.31" stroke="#f08a85" stroke-width="0.85" fill="none" stroke-linejoin="round"/>
<rect x="137.5" y="337.3" width="82.9" height="117.2" fill="none" stroke="#8c8c8c" stroke-width="0.9"/>
<line x1="134.9" y1="362.1" x2="137.5" y2="362.1" stroke="#555" stroke-width="0.8"/>
<line x1="134.9" y1="391.2" x2="137.5" y2="391.2" stroke="#555" stroke-width="0.8"/>
<line x1="134.9" y1="420.4" x2="137.5" y2="420.4" stroke="#555" stroke-width="0.8"/>
<line x1="134.9" y1="449.6" x2="137.5" y2="449.6" stroke="#555" stroke-width="0.8"/>
<line x1="140.9" y1="454.5" x2="140.9" y2="457.1" stroke="#555" stroke-width="0.8"/>
<text stroke="#1a1a1a" stroke-width="0.18" x="140.9" y="465.2" font-size="8.6" fill="#1a1a1a" text-anchor="middle">0</text>
<line x1="162.6" y1="454.5" x2="162.6" y2="457.1" stroke="#555" stroke-width="0.8"/>
<text stroke="#1a1a1a" stroke-width="0.18" x="162.6" y="465.2" font-size="8.6" fill="#1a1a1a" text-anchor="middle">2</text>
<line x1="184.3" y1="454.5" x2="184.3" y2="457.1" stroke="#555" stroke-width="0.8"/>
<text stroke="#1a1a1a" stroke-width="0.18" x="184.3" y="465.2" font-size="8.6" fill="#1a1a1a" text-anchor="middle">4</text>
<line x1="206" y1="454.5" x2="206" y2="457.1" stroke="#555" stroke-width="0.8"/>
<text stroke="#1a1a1a" stroke-width="0.18" x="206" y="465.2" font-size="8.6" fill="#1a1a1a" text-anchor="middle">6</text>
<text stroke="#1a1a1a" stroke-width="0.25" x="139.4" y="346.8" font-size="8.4" fill="#1a1a1a">GW</text>
<line x1="162.6" y1="337.9" x2="162.6" y2="453.9" stroke="#d5403c" stroke-width="0.9" stroke-dasharray="1.8 1.4"/>
<path d="M141.23,440.59 L141.74,437.7 L142.25,434.28 L142.76,430.36 L143.27,426.06 L143.78,421.49 L144.29,416.82 L144.8,412.16 L145.31,407.64 L145.82,403.3 L146.33,399.16 L146.84,395.21 L147.35,391.45 L147.86,387.91 L148.37,384.66 L148.88,381.84 L149.39,379.65 L149.9,378.26 L150.41,377.83 L150.92,378.45 L151.42,380.09 L151.93,382.61 L152.44,385.78 L152.95,389.29 L153.46,392.85 L153.97,396.22 L154.48,399.22 L154.99,401.78 L155.5,403.93 L156.01,405.75 L156.52,407.38 L157.03,408.91 L157.54,410.43 L158.05,411.97 L158.56,413.52 L159.07,415.06 L159.58,416.57 L160.09,418.06 L160.6,419.55 L161.11,421.13 L161.62,422.87 L162.13,424.85 L162.64,427.08 L163.15,429.58 L163.66,432.26 L164.17,435.02 L164.68,437.74 L165.19,440.28 L165.7,442.55 L166.21,444.46 L166.72,446 L167.23,447.17 L167.74,448.02 L168.25,448.61 L168.76,448.98 L169.27,449.18 L169.78,449.26 L170.29,449.25 L170.8,449.15 L171.31,448.99 L171.82,448.79 L172.33,448.55 L172.84,448.32 L173.35,448.11 L173.86,447.96 L174.37,447.89 L174.88,447.92 L175.39,448.03 L175.9,448.21 L176.41,448.44 L176.92,448.68 L177.43,448.92 L177.94,449.12 L178.45,449.28 L178.96,449.39 L179.47,449.48 L179.98,449.53 L180.49,449.56 L181,449.58 L181.51,449.59 L182.02,449.6 L182.53,449.6 L183.04,449.6 L183.55,449.6 L184.05,449.6 L184.56,449.6 L185.07,449.6 L185.58,449.6 L186.09,449.6 L186.6,449.6 L187.11,449.6 L187.62,449.6 L188.13,449.6 L188.64,449.6 L189.15,449.6 L189.66,449.6 L190.17,449.6 L190.68,449.6 L191.19,449.6 L191.7,449.6 L192.21,449.6 L192.72,449.6 L193.23,449.59 L193.74,449.59 L194.25,449.58 L194.76,449.55 L195.27,449.52 L195.78,449.46 L196.29,449.36 L196.8,449.23 L197.31,449.06 L197.82,448.85 L198.33,448.61 L198.84,448.37 L199.35,448.15 L199.86,447.99 L200.37,447.9 L200.88,447.9 L201.39,448 L201.9,448.17 L202.41,448.39 L202.92,448.63 L203.43,448.87 L203.94,449.07 L204.45,449.24 L204.96,449.37 L205.47,449.45 L205.98,449.5 L206.49,449.52 L207,449.52 L207.51,449.48 L208.02,449.41 L208.53,449.31 L209.04,449.16 L209.55,448.97 L210.06,448.74 L210.57,448.5 L211.08,448.26 L211.59,448.07 L212.1,447.93 L212.61,447.89" stroke="#1dbac1" stroke-width="0.6" fill="none" stroke-opacity="0.9" stroke-linejoin="round"/>
<path d="M143.85,425.98 L144.33,420.72 L144.82,415.21 L145.31,409.58 L145.79,403.99 L146.28,398.53 L146.77,393.32 L147.25,388.43 L147.74,383.97 L148.23,380.02 L148.71,376.71 L149.2,374.14 L149.69,372.38 L150.18,371.5 L150.66,371.5 L151.15,372.32 L151.64,373.85 L152.12,375.95 L152.61,378.43 L153.1,381.12 L153.58,383.88 L154.07,386.63 L154.56,389.35 L155.05,392.1 L155.53,394.97 L156.02,398.04 L156.51,401.39 L156.99,405.04 L157.48,408.95 L157.97,413 L158.45,417.06 L158.94,420.95 L159.43,424.52 L159.92,427.65 L160.4,430.28 L160.89,432.41 L161.38,434.09 L161.86,435.41 L162.35,436.48 L162.84,437.4 L163.32,438.25 L163.81,439.08 L164.3,439.9 L164.79,440.71 L165.27,441.51 L165.76,442.28 L166.25,443.03 L166.73,443.74 L167.22,444.42 L167.71,445.06 L168.19,445.65 L168.68,446.16 L169.17,446.59 L169.66,446.92 L170.14,447.15 L170.63,447.32 L171.12,447.45 L171.6,447.57 L172.09,447.7 L172.58,447.88 L173.06,448.09 L173.55,448.33 L174.04,448.57 L174.53,448.81 L175.01,449.02 L175.5,449.2 L175.99,449.33 L176.47,449.43 L176.96,449.5 L177.45,449.54 L177.93,449.57 L178.42,449.58 L178.91,449.59 L179.39,449.6 L179.88,449.6 L180.37,449.6 L180.86,449.6 L181.34,449.6 L181.83,449.6 L182.32,449.6 L182.8,449.6 L183.29,449.6 L183.78,449.6 L184.26,449.6 L184.75,449.6 L185.24,449.6 L185.73,449.6 L186.21,449.6 L186.7,449.6 L187.19,449.6 L187.67,449.6 L188.16,449.6 L188.65,449.6 L189.13,449.6 L189.62,449.6 L190.11,449.6 L190.6,449.6 L191.08,449.6 L191.57,449.59 L192.06,449.58 L192.54,449.57 L193.03,449.54 L193.52,449.5 L194,449.44 L194.49,449.34 L194.98,449.21 L195.47,449.04 L195.95,448.83 L196.44,448.61 L196.93,448.37 L197.41,448.16 L197.9,448 L198.39,447.91 L198.87,447.89 L199.36,447.97 L199.85,448.11 L200.34,448.31 L200.82,448.54 L201.31,448.77 L201.8,448.98 L202.28,449.16 L202.77,449.3 L203.26,449.41 L203.74,449.48 L204.23,449.53 L204.72,449.56 L205.21,449.57 L205.69,449.57 L206.18,449.55 L206.67,449.52 L207.15,449.46 L207.64,449.38 L208.13,449.26 L208.61,449.1 L209.1,448.91 L209.59,448.69 L210.07,448.46 L210.56,448.23 L211.05,448.05 L211.54,447.93 L212.02,447.89" stroke="#1dbac1" stroke-width="0.6" fill="none" stroke-opacity="0.9" stroke-linejoin="round"/>
<path d="M141.48,434.22 L141.98,430.15 L142.48,425.6 L142.97,420.67 L143.47,415.52 L143.97,410.33 L144.46,405.28 L144.96,400.57 L145.46,396.38 L145.96,392.84 L146.45,390.04 L146.95,387.99 L147.45,386.67 L147.94,385.98 L148.44,385.77 L148.94,385.86 L149.43,386.05 L149.93,386.17 L150.43,386.12 L150.93,385.85 L151.42,385.45 L151.92,385.07 L152.42,384.95 L152.91,385.36 L153.41,386.52 L153.91,388.57 L154.4,391.53 L154.9,395.29 L155.4,399.59 L155.9,404.16 L156.39,408.67 L156.89,412.87 L157.39,416.56 L157.88,419.67 L158.38,422.19 L158.88,424.19 L159.37,425.76 L159.87,427.01 L160.37,428.04 L160.87,428.95 L161.36,429.83 L161.86,430.74 L162.36,431.77 L162.85,432.96 L163.35,434.34 L163.85,435.89 L164.34,437.6 L164.84,439.39 L165.34,441.18 L165.84,442.88 L166.33,444.44 L166.83,445.78 L167.33,446.88 L167.82,447.75 L168.32,448.39 L168.82,448.84 L169.31,449.15 L169.81,449.34 L170.31,449.46 L170.81,449.53 L171.3,449.56 L171.8,449.58 L172.3,449.59 L172.79,449.6 L173.29,449.6 L173.79,449.6 L174.28,449.6 L174.78,449.6 L175.28,449.59 L175.78,449.59 L176.27,449.58 L176.77,449.55 L177.27,449.52 L177.76,449.46 L178.26,449.37 L178.76,449.24 L179.25,449.08 L179.75,448.88 L180.25,448.65 L180.75,448.41 L181.24,448.19 L181.74,448.02 L182.24,447.91 L182.73,447.88 L183.23,447.95 L183.73,448.08 L184.22,448.26 L184.72,448.45 L185.22,448.63 L185.72,448.75 L186.21,448.81 L186.71,448.78 L187.21,448.69 L187.7,448.53 L188.2,448.34 L188.7,448.15 L189.19,447.99 L189.69,447.9 L190.19,447.89 L190.69,447.96 L191.18,448.11 L191.68,448.32 L192.18,448.55 L192.67,448.78 L193.17,449 L193.67,449.18 L194.16,449.32 L194.66,449.42 L195.16,449.49 L195.66,449.54 L196.15,449.57 L196.65,449.58 L197.15,449.59 L197.64,449.6 L198.14,449.6 L198.64,449.6 L199.13,449.6 L199.63,449.6 L200.13,449.6 L200.63,449.6 L201.12,449.6 L201.62,449.6 L202.12,449.6 L202.61,449.6 L203.11,449.6 L203.61,449.6 L204.1,449.59 L204.6,449.58 L205.1,449.56 L205.6,449.53 L206.09,449.48 L206.59,449.4 L207.09,449.28 L207.58,449.13 L208.08,448.93 L208.58,448.71 L209.07,448.47 L209.57,448.25 L210.07,448.06 L210.57,447.93 L211.06,447.89" stroke="#1dbac1" stroke-width="0.6" fill="none" stroke-opacity="0.9" stroke-linejoin="round"/>
<path d="M141.45,442.25 L141.98,439.65 L142.51,436.29 L143.03,432.04 L143.56,426.85 L144.09,420.77 L144.61,413.95 L145.14,406.7 L145.66,399.43 L146.19,392.6 L146.72,386.66 L147.24,381.99 L147.77,378.8 L148.3,377.15 L148.82,376.95 L149.35,377.95 L149.88,379.8 L150.4,382.14 L150.93,384.61 L151.46,386.91 L151.98,388.86 L152.51,390.43 L153.04,391.7 L153.56,392.84 L154.09,394.07 L154.61,395.56 L155.14,397.43 L155.67,399.69 L156.19,402.28 L156.72,405.08 L157.25,407.98 L157.77,410.89 L158.3,413.8 L158.83,416.71 L159.35,419.64 L159.88,422.61 L160.41,425.58 L160.93,428.47 L161.46,431.19 L161.99,433.63 L162.51,435.74 L163.04,437.49 L163.56,438.9 L164.09,440.05 L164.62,441 L165.14,441.83 L165.67,442.58 L166.2,443.26 L166.72,443.88 L167.25,444.43 L167.78,444.9 L168.3,445.3 L168.83,445.65 L169.36,445.99 L169.88,446.34 L170.41,446.71 L170.93,447.12 L171.46,447.54 L171.99,447.96 L172.51,448.35 L173.04,448.69 L173.57,448.97 L174.09,449.19 L174.62,449.34 L175.15,449.45 L175.67,449.51 L176.2,449.54 L176.73,449.54 L177.25,449.51 L177.78,449.45 L178.31,449.33 L178.83,449.15 L179.36,448.89 L179.88,448.55 L180.41,448.12 L180.94,447.64 L181.46,447.15 L181.99,446.71 L182.52,446.38 L183.04,446.22 L183.57,446.26 L184.1,446.48 L184.62,446.86 L185.15,447.32 L185.68,447.82 L186.2,448.28 L186.73,448.68 L187.26,449 L187.78,449.23 L188.31,449.38 L188.83,449.48 L189.36,449.54 L189.89,449.57 L190.41,449.59 L190.94,449.59 L191.47,449.6 L191.99,449.6 L192.52,449.6 L193.05,449.6 L193.57,449.6 L194.1,449.6 L194.63,449.6 L195.15,449.6 L195.68,449.6 L196.2,449.6 L196.73,449.6 L197.26,449.6 L197.78,449.6 L198.31,449.6 L198.84,449.6 L199.36,449.6 L199.89,449.6 L200.42,449.6 L200.94,449.6 L201.47,449.6 L202,449.6 L202.52,449.6 L203.05,449.6 L203.58,449.59 L204.1,449.58 L204.63,449.56 L205.15,449.52 L205.68,449.47 L206.21,449.37 L206.73,449.24 L207.26,449.07 L207.79,448.85 L208.31,448.6 L208.84,448.34 L209.37,448.1 L209.89,447.89 L210.42,447.75 L210.95,447.67 L211.47,447.64 L212,447.65 L212.53,447.66 L213.05,447.66 L213.58,447.65 L214.1,447.64 L214.63,447.66 L215.16,447.72" stroke="#1dbac1" stroke-width="0.6" fill="none" stroke-opacity="0.9" stroke-linejoin="round"/>
<path d="M141.46,432.23 L141.97,428.49 L142.49,424.55 L143,420.53 L143.52,416.56 L144.03,412.77 L144.54,409.3 L145.06,406.26 L145.57,403.73 L146.09,401.72 L146.6,400.17 L147.12,398.95 L147.63,397.89 L148.14,396.81 L148.66,395.56 L149.17,394.06 L149.69,392.33 L150.2,390.48 L150.72,388.69 L151.23,387.14 L151.75,386.04 L152.26,385.52 L152.77,385.64 L153.29,386.43 L153.8,387.84 L154.32,389.78 L154.83,392.16 L155.35,394.86 L155.86,397.77 L156.37,400.83 L156.89,404 L157.4,407.27 L157.92,410.63 L158.43,414.07 L158.95,417.52 L159.46,420.89 L159.98,424.05 L160.49,426.86 L161,429.25 L161.52,431.19 L162.03,432.74 L162.55,434 L163.06,435.11 L163.58,436.18 L164.09,437.29 L164.6,438.47 L165.12,439.69 L165.63,440.91 L166.15,442.05 L166.66,443.08 L167.18,443.97 L167.69,444.73 L168.21,445.36 L168.72,445.91 L169.23,446.4 L169.75,446.83 L170.26,447.2 L170.78,447.5 L171.29,447.72 L171.81,447.85 L172.32,447.89 L172.83,447.87 L173.35,447.82 L173.86,447.78 L174.38,447.79 L174.89,447.87 L175.41,448.02 L175.92,448.22 L176.44,448.46 L176.95,448.71 L177.46,448.94 L177.98,449.14 L178.49,449.29 L179.01,449.41 L179.52,449.49 L180.04,449.54 L180.55,449.57 L181.06,449.58 L181.58,449.59 L182.09,449.6 L182.61,449.6 L183.12,449.6 L183.64,449.6 L184.15,449.6 L184.67,449.6 L185.18,449.6 L185.69,449.6 L186.21,449.6 L186.72,449.6 L187.24,449.6 L187.75,449.6 L188.27,449.6 L188.78,449.6 L189.3,449.6 L189.81,449.6 L190.32,449.6 L190.84,449.6 L191.35,449.6 L191.87,449.6 L192.38,449.6 L192.9,449.6 L193.41,449.6 L193.92,449.6 L194.44,449.6 L194.95,449.6 L195.47,449.6 L195.98,449.6 L196.5,449.6 L197.01,449.6 L197.53,449.6 L198.04,449.6 L198.55,449.6 L199.07,449.59 L199.58,449.58 L200.1,449.56 L200.61,449.52 L201.13,449.47 L201.64,449.38 L202.15,449.25 L202.67,449.09 L203.18,448.88 L203.7,448.64 L204.21,448.4 L204.73,448.17 L205.24,448 L205.76,447.9 L206.27,447.89 L206.78,447.97 L207.3,448.12 L207.81,448.32 L208.33,448.52 L208.84,448.68 L209.36,448.79 L209.87,448.81 L210.38,448.75 L210.9,448.61 L211.41,448.43 L211.93,448.23 L212.44,448.05 L212.96,447.92 L213.47,447.88" stroke="#1dbac1" stroke-width="0.6" fill="none" stroke-opacity="0.9" stroke-linejoin="round"/>
<path d="M142.24,431.56 L142.74,427.45 L143.25,423.14 L143.75,418.73 L144.26,414.31 L144.76,409.93 L145.26,405.62 L145.77,401.39 L146.27,397.26 L146.78,393.26 L147.28,389.47 L147.79,386 L148.29,382.99 L148.8,380.54 L149.3,378.73 L149.81,377.57 L150.31,377.01 L150.82,376.97 L151.32,377.34 L151.83,378.08 L152.33,379.17 L152.84,380.67 L153.34,382.65 L153.85,385.2 L154.35,388.32 L154.86,391.95 L155.36,395.96 L155.87,400.17 L156.37,404.4 L156.88,408.52 L157.38,412.48 L157.88,416.25 L158.39,419.88 L158.89,423.37 L159.4,426.72 L159.9,429.89 L160.41,432.8 L160.91,435.35 L161.42,437.46 L161.92,439.09 L162.43,440.21 L162.93,440.89 L163.44,441.23 L163.94,441.36 L164.45,441.41 L164.95,441.53 L165.46,441.8 L165.96,442.29 L166.47,442.98 L166.97,443.84 L167.48,444.79 L167.98,445.76 L168.49,446.67 L168.99,447.47 L169.5,448.12 L170,448.62 L170.5,448.98 L171.01,449.22 L171.51,449.37 L172.02,449.44 L172.52,449.46 L173.03,449.44 L173.53,449.36 L174.04,449.25 L174.54,449.09 L175.05,448.88 L175.55,448.65 L176.06,448.41 L176.56,448.18 L177.07,447.99 L177.57,447.86 L178.08,447.8 L178.58,447.81 L179.09,447.86 L179.59,447.92 L180.1,447.97 L180.6,447.99 L181.11,447.97 L181.61,447.91 L182.11,447.85 L182.62,447.8 L183.12,447.81 L183.63,447.88 L184.13,448.02 L184.64,448.22 L185.14,448.45 L185.65,448.69 L186.15,448.92 L186.66,449.12 L187.16,449.28 L187.67,449.39 L188.17,449.47 L188.68,449.53 L189.18,449.55 L189.69,449.56 L190.19,449.56 L190.7,449.53 L191.2,449.49 L191.71,449.41 L192.21,449.3 L192.72,449.15 L193.22,448.96 L193.73,448.74 L194.23,448.5 L194.73,448.27 L195.24,448.08 L195.74,447.95 L196.25,447.9 L196.75,447.95 L197.26,448.08 L197.76,448.27 L198.27,448.5 L198.77,448.74 L199.28,448.96 L199.78,449.15 L200.29,449.3 L200.79,449.41 L201.3,449.49 L201.8,449.54 L202.31,449.57 L202.81,449.58 L203.32,449.59 L203.82,449.6 L204.33,449.6 L204.83,449.6 L205.34,449.6 L205.84,449.59 L206.34,449.58 L206.85,449.57 L207.35,449.54 L207.86,449.49 L208.36,449.41 L208.87,449.3 L209.37,449.15 L209.88,448.96 L210.38,448.74 L210.89,448.5 L211.39,448.27 L211.9,448.08 L212.4,447.95 L212.91,447.9" stroke="#1dbac1" stroke-width="0.6" fill="none" stroke-opacity="0.9" stroke-linejoin="round"/>
<path d="M141.81,438.91 L142.33,436.52 L142.85,433.98 L143.37,431.33 L143.89,428.52 L144.4,425.51 L144.92,422.18 L145.44,418.44 L145.96,414.21 L146.48,409.5 L146.99,404.38 L147.51,399.03 L148.03,393.72 L148.55,388.72 L149.07,384.34 L149.58,380.82 L150.1,378.33 L150.62,376.92 L151.14,376.55 L151.65,377.08 L152.17,378.34 L152.69,380.14 L153.21,382.34 L153.73,384.81 L154.24,387.47 L154.76,390.24 L155.28,393.04 L155.8,395.79 L156.32,398.39 L156.83,400.8 L157.35,403.02 L157.87,405.1 L158.39,407.15 L158.91,409.29 L159.42,411.63 L159.94,414.21 L160.46,417.02 L160.98,420 L161.5,423.03 L162.01,426.01 L162.53,428.82 L163.05,431.4 L163.57,433.7 L164.08,435.75 L164.6,437.59 L165.12,439.26 L165.64,440.8 L166.16,442.25 L166.67,443.61 L167.19,444.87 L167.71,445.98 L168.23,446.93 L168.75,447.71 L169.26,448.29 L169.78,448.7 L170.3,448.94 L170.82,449.04 L171.34,449.02 L171.85,448.9 L172.37,448.72 L172.89,448.49 L173.41,448.26 L173.92,448.06 L174.44,447.92 L174.96,447.87 L175.48,447.92 L176,448.05 L176.51,448.26 L177.03,448.5 L177.55,448.75 L178.07,448.97 L178.59,449.17 L179.1,449.32 L179.62,449.43 L180.14,449.5 L180.66,449.54 L181.18,449.57 L181.69,449.59 L182.21,449.59 L182.73,449.6 L183.25,449.6 L183.77,449.6 L184.28,449.6 L184.8,449.6 L185.32,449.6 L185.84,449.6 L186.35,449.6 L186.87,449.6 L187.39,449.6 L187.91,449.6 L188.43,449.6 L188.94,449.6 L189.46,449.6 L189.98,449.6 L190.5,449.6 L191.02,449.6 L191.53,449.6 L192.05,449.6 L192.57,449.6 L193.09,449.6 L193.61,449.6 L194.12,449.6 L194.64,449.6 L195.16,449.6 L195.68,449.6 L196.2,449.6 L196.71,449.6 L197.23,449.6 L197.75,449.6 L198.27,449.6 L198.78,449.6 L199.3,449.6 L199.82,449.6 L200.34,449.6 L200.86,449.6 L201.37,449.6 L201.89,449.6 L202.41,449.6 L202.93,449.6 L203.45,449.6 L203.96,449.6 L204.48,449.6 L205,449.6 L205.52,449.6 L206.04,449.6 L206.55,449.6 L207.07,449.59 L207.59,449.59 L208.11,449.57 L208.62,449.54 L209.14,449.5 L209.66,449.43 L210.18,449.32 L210.7,449.17 L211.21,448.98 L211.73,448.75 L212.25,448.5 L212.77,448.26 L213.29,448.06 L213.8,447.92 L214.32,447.87" stroke="#1dbac1" stroke-width="0.6" fill="none" stroke-opacity="0.9" stroke-linejoin="round"/>
<path d="M141.34,434.73 L141.86,431.76 L142.38,428.57 L142.9,425.13 L143.42,421.42 L143.94,417.41 L144.46,413.13 L144.98,408.65 L145.5,404.12 L146.02,399.76 L146.55,395.81 L147.07,392.52 L147.59,390.11 L148.11,388.69 L148.63,388.22 L149.15,388.57 L149.67,389.45 L150.19,390.57 L150.71,391.6 L151.23,392.32 L151.75,392.66 L152.27,392.66 L152.79,392.49 L153.31,392.39 L153.83,392.59 L154.35,393.24 L154.88,394.41 L155.4,396.04 L155.92,398.02 L156.44,400.18 L156.96,402.38 L157.48,404.54 L158,406.67 L158.52,408.86 L159.04,411.24 L159.56,413.94 L160.08,417.03 L160.6,420.53 L161.12,424.31 L161.64,428.23 L162.16,432.05 L162.68,435.57 L163.2,438.64 L163.73,441.17 L164.25,443.15 L164.77,444.63 L165.29,445.7 L165.81,446.45 L166.33,446.97 L166.85,447.32 L167.37,447.54 L167.89,447.62 L168.41,447.57 L168.93,447.4 L169.45,447.14 L169.97,446.84 L170.49,446.55 L171.01,446.34 L171.53,446.26 L172.06,446.33 L172.58,446.57 L173.1,446.92 L173.62,447.36 L174.14,447.82 L174.66,448.25 L175.18,448.61 L175.7,448.88 L176.22,449.05 L176.74,449.12 L177.26,449.09 L177.78,448.98 L178.3,448.8 L178.82,448.58 L179.34,448.35 L179.86,448.14 L180.39,447.98 L180.91,447.91 L181.43,447.93 L181.95,448.04 L182.47,448.23 L182.99,448.46 L183.51,448.7 L184.03,448.94 L184.55,449.14 L185.07,449.29 L185.59,449.41 L186.11,449.49 L186.63,449.54 L187.15,449.57 L187.67,449.58 L188.19,449.59 L188.71,449.6 L189.24,449.6 L189.76,449.6 L190.28,449.6 L190.8,449.6 L191.32,449.6 L191.84,449.6 L192.36,449.6 L192.88,449.6 L193.4,449.6 L193.92,449.59 L194.44,449.58 L194.96,449.56 L195.48,449.53 L196,449.48 L196.52,449.4 L197.04,449.28 L197.57,449.11 L198.09,448.91 L198.61,448.67 L199.13,448.43 L199.65,448.2 L200.17,448.02 L200.69,447.92 L201.21,447.91 L201.73,448 L202.25,448.16 L202.77,448.39 L203.29,448.63 L203.81,448.87 L204.33,449.08 L204.85,449.25 L205.37,449.38 L205.9,449.47 L206.42,449.52 L206.94,449.55 L207.46,449.57 L207.98,449.56 L208.5,449.54 L209.02,449.5 L209.54,449.43 L210.06,449.33 L210.58,449.19 L211.1,449 L211.62,448.77 L212.14,448.53 L212.66,448.29 L213.18,448.09 L213.7,447.95 L214.22,447.9" stroke="#1dbac1" stroke-width="0.6" fill="none" stroke-opacity="0.9" stroke-linejoin="round"/>
<path d="M144.05,429.48 L144.55,424.76 L145.04,419.73 L145.53,414.6 L146.03,409.62 L146.52,405.04 L147.01,401.05 L147.51,397.77 L148,395.2 L148.49,393.27 L148.99,391.81 L149.48,390.65 L149.97,389.65 L150.47,388.76 L150.96,387.97 L151.45,387.37 L151.95,387.05 L152.44,387.09 L152.93,387.51 L153.43,388.29 L153.92,389.35 L154.41,390.6 L154.9,391.94 L155.4,393.33 L155.89,394.78 L156.38,396.34 L156.88,398.08 L157.37,400.08 L157.86,402.38 L158.36,404.98 L158.85,407.83 L159.34,410.82 L159.84,413.83 L160.33,416.75 L160.82,419.45 L161.32,421.88 L161.81,423.99 L162.3,425.78 L162.8,427.27 L163.29,428.51 L163.78,429.57 L164.28,430.53 L164.77,431.48 L165.26,432.49 L165.76,433.64 L166.25,434.95 L166.74,436.42 L167.24,438.01 L167.73,439.67 L168.22,441.3 L168.72,442.81 L169.21,444.15 L169.7,445.27 L170.2,446.13 L170.69,446.74 L171.18,447.14 L171.67,447.38 L172.17,447.52 L172.66,447.61 L173.15,447.7 L173.65,447.82 L174.14,447.99 L174.63,448.21 L175.13,448.44 L175.62,448.69 L176.11,448.91 L176.61,449.11 L177.1,449.27 L177.59,449.38 L178.09,449.47 L178.58,449.52 L179.07,449.56 L179.57,449.58 L180.06,449.59 L180.55,449.59 L181.05,449.6 L181.54,449.6 L182.03,449.6 L182.53,449.6 L183.02,449.6 L183.51,449.6 L184.01,449.6 L184.5,449.6 L184.99,449.6 L185.49,449.6 L185.98,449.6 L186.47,449.6 L186.97,449.6 L187.46,449.6 L187.95,449.6 L188.45,449.6 L188.94,449.6 L189.43,449.6 L189.92,449.6 L190.42,449.6 L190.91,449.6 L191.4,449.6 L191.9,449.6 L192.39,449.6 L192.88,449.6 L193.38,449.6 L193.87,449.6 L194.36,449.6 L194.86,449.6 L195.35,449.59 L195.84,449.58 L196.34,449.56 L196.83,449.53 L197.32,449.48 L197.82,449.4 L198.31,449.29 L198.8,449.14 L199.3,448.95 L199.79,448.73 L200.28,448.49 L200.78,448.27 L201.27,448.07 L201.76,447.94 L202.26,447.89 L202.75,447.92 L203.24,448.04 L203.74,448.22 L204.23,448.44 L204.72,448.67 L205.22,448.9 L205.71,449.09 L206.2,449.25 L206.69,449.36 L207.19,449.42 L207.68,449.44 L208.17,449.43 L208.67,449.37 L209.16,449.26 L209.65,449.11 L210.15,448.92 L210.64,448.7 L211.13,448.47 L211.63,448.24 L212.12,448.06 L212.61,447.93 L213.11,447.89" stroke="#1dbac1" stroke-width="0.6" fill="none" stroke-opacity="0.9" stroke-linejoin="round"/>
<path d="M143.52,431.76 L144.01,427.33 L144.49,422.52 L144.97,417.48 L145.45,412.38 L145.94,407.4 L146.42,402.67 L146.9,398.28 L147.38,394.29 L147.87,390.7 L148.35,387.49 L148.83,384.65 L149.31,382.2 L149.8,380.17 L150.28,378.64 L150.76,377.68 L151.25,377.37 L151.73,377.78 L152.21,378.95 L152.69,380.85 L153.18,383.43 L153.66,386.58 L154.14,390.15 L154.62,393.95 L155.11,397.76 L155.59,401.4 L156.07,404.69 L156.55,407.54 L157.04,409.93 L157.52,411.89 L158,413.54 L158.48,415.01 L158.97,416.45 L159.45,417.98 L159.93,419.67 L160.41,421.56 L160.9,423.63 L161.38,425.81 L161.86,428.01 L162.34,430.13 L162.83,432.06 L163.31,433.73 L163.79,435.08 L164.27,436.11 L164.76,436.85 L165.24,437.37 L165.72,437.77 L166.2,438.15 L166.69,438.6 L167.17,439.18 L167.65,439.9 L168.13,440.76 L168.62,441.7 L169.1,442.67 L169.58,443.6 L170.07,444.45 L170.55,445.18 L171.03,445.81 L171.51,446.33 L172,446.76 L172.48,447.15 L172.96,447.5 L173.44,447.82 L173.93,448.11 L174.41,448.36 L174.89,448.56 L175.37,448.68 L175.86,448.72 L176.34,448.69 L176.82,448.58 L177.3,448.43 L177.79,448.25 L178.27,448.08 L178.75,447.96 L179.23,447.9 L179.72,447.92 L180.2,448.01 L180.68,448.17 L181.16,448.38 L181.65,448.6 L182.13,448.83 L182.61,449.03 L183.09,449.2 L183.58,449.33 L184.06,449.43 L184.54,449.5 L185.02,449.54 L185.51,449.57 L185.99,449.58 L186.47,449.59 L186.96,449.6 L187.44,449.6 L187.92,449.6 L188.4,449.6 L188.89,449.6 L189.37,449.6 L189.85,449.6 L190.33,449.6 L190.82,449.6 L191.3,449.6 L191.78,449.6 L192.26,449.6 L192.75,449.6 L193.23,449.6 L193.71,449.6 L194.19,449.6 L194.68,449.6 L195.16,449.6 L195.64,449.6 L196.12,449.59 L196.61,449.58 L197.09,449.56 L197.57,449.53 L198.05,449.48 L198.54,449.41 L199.02,449.31 L199.5,449.17 L199.98,448.99 L200.47,448.78 L200.95,448.55 L201.43,448.33 L201.91,448.13 L202.4,447.99 L202.88,447.91 L203.36,447.91 L203.85,448 L204.33,448.15 L204.81,448.34 L205.29,448.54 L205.78,448.73 L206.26,448.87 L206.74,448.96 L207.22,448.98 L207.71,448.92 L208.19,448.8 L208.67,448.62 L209.15,448.42 L209.64,448.22 L210.12,448.05 L210.6,447.94 L211.08,447.9" stroke="#1dbac1" stroke-width="0.6" fill="none" stroke-opacity="0.9" stroke-linejoin="round"/>
<path d="M142.07,435.69 L142.59,431.76 L143.1,427.49 L143.61,423.13 L144.12,418.91 L144.63,415.06 L145.15,411.73 L145.66,408.94 L146.17,406.62 L146.68,404.58 L147.19,402.58 L147.71,400.4 L148.22,397.89 L148.73,395.03 L149.24,391.91 L149.75,388.77 L150.27,385.9 L150.78,383.61 L151.29,382.21 L151.8,381.88 L152.31,382.68 L152.83,384.54 L153.34,387.25 L153.85,390.5 L154.36,393.95 L154.87,397.25 L155.39,400.14 L155.9,402.49 L156.41,404.29 L156.92,405.66 L157.43,406.78 L157.95,407.87 L158.46,409.1 L158.97,410.58 L159.48,412.36 L159.99,414.39 L160.51,416.61 L161.02,418.94 L161.53,421.28 L162.04,423.58 L162.55,425.82 L163.07,427.98 L163.58,430.07 L164.09,432.11 L164.6,434.11 L165.11,436.06 L165.63,437.94 L166.14,439.72 L166.65,441.37 L167.16,442.85 L167.67,444.14 L168.19,445.23 L168.7,446.1 L169.21,446.78 L169.72,447.26 L170.23,447.57 L170.75,447.73 L171.26,447.79 L171.77,447.78 L172.28,447.76 L172.79,447.77 L173.31,447.83 L173.82,447.97 L174.33,448.16 L174.84,448.39 L175.35,448.64 L175.86,448.88 L176.38,449.09 L176.89,449.25 L177.4,449.38 L177.91,449.47 L178.42,449.52 L178.94,449.56 L179.45,449.58 L179.96,449.59 L180.47,449.6 L180.98,449.6 L181.5,449.6 L182.01,449.6 L182.52,449.6 L183.03,449.6 L183.54,449.6 L184.06,449.6 L184.57,449.6 L185.08,449.6 L185.59,449.6 L186.1,449.6 L186.62,449.6 L187.13,449.6 L187.64,449.6 L188.15,449.6 L188.66,449.6 L189.18,449.6 L189.69,449.6 L190.2,449.6 L190.71,449.6 L191.22,449.6 L191.74,449.6 L192.25,449.6 L192.76,449.6 L193.27,449.6 L193.78,449.6 L194.3,449.6 L194.81,449.6 L195.32,449.6 L195.83,449.6 L196.34,449.6 L196.86,449.6 L197.37,449.6 L197.88,449.6 L198.39,449.6 L198.9,449.59 L199.42,449.58 L199.93,449.57 L200.44,449.54 L200.95,449.49 L201.46,449.41 L201.98,449.29 L202.49,449.14 L203,448.94 L203.51,448.71 L204.02,448.47 L204.54,448.24 L205.05,448.05 L205.56,447.92 L206.07,447.89 L206.58,447.94 L207.1,448.08 L207.61,448.27 L208.12,448.48 L208.63,448.67 L209.14,448.82 L209.66,448.9 L210.17,448.89 L210.68,448.8 L211.19,448.65 L211.7,448.45 L212.22,448.24 L212.73,448.05 L213.24,447.93 L213.75,447.88" stroke="#1dbac1" stroke-width="0.6" fill="none" stroke-opacity="0.9" stroke-linejoin="round"/>
<path d="M141.94,440.09 L142.44,437.66 L142.95,434.94 L143.45,431.96 L143.95,428.79 L144.45,425.47 L144.95,422.08 L145.45,418.65 L145.96,415.23 L146.46,411.86 L146.96,408.57 L147.46,405.41 L147.96,402.44 L148.46,399.74 L148.96,397.37 L149.47,395.34 L149.97,393.66 L150.47,392.27 L150.97,391.08 L151.47,390.01 L151.97,388.99 L152.47,388.03 L152.98,387.17 L153.48,386.51 L153.98,386.18 L154.48,386.28 L154.98,386.92 L155.48,388.14 L155.99,389.92 L156.49,392.17 L156.99,394.76 L157.49,397.5 L157.99,400.24 L158.49,402.82 L158.99,405.17 L159.5,407.27 L160,409.2 L160.5,411.08 L161,413.06 L161.5,415.26 L162,417.76 L162.51,420.53 L163.01,423.52 L163.51,426.61 L164.01,429.65 L164.51,432.54 L165.01,435.21 L165.51,437.62 L166.02,439.76 L166.52,441.64 L167.02,443.26 L167.52,444.63 L168.02,445.75 L168.52,446.6 L169.02,447.2 L169.53,447.58 L170.03,447.77 L170.53,447.83 L171.03,447.82 L171.53,447.8 L172.03,447.82 L172.54,447.89 L173.04,448.03 L173.54,448.23 L174.04,448.46 L174.54,448.71 L175.04,448.93 L175.54,449.13 L176.05,449.28 L176.55,449.4 L177.05,449.48 L177.55,449.53 L178.05,449.56 L178.55,449.58 L179.06,449.59 L179.56,449.6 L180.06,449.6 L180.56,449.6 L181.06,449.6 L181.56,449.6 L182.06,449.6 L182.57,449.6 L183.07,449.6 L183.57,449.6 L184.07,449.6 L184.57,449.6 L185.07,449.6 L185.58,449.6 L186.08,449.6 L186.58,449.6 L187.08,449.6 L187.58,449.6 L188.08,449.6 L188.58,449.6 L189.09,449.6 L189.59,449.6 L190.09,449.6 L190.59,449.6 L191.09,449.6 L191.59,449.6 L192.09,449.59 L192.6,449.58 L193.1,449.56 L193.6,449.52 L194.1,449.47 L194.6,449.38 L195.1,449.26 L195.61,449.1 L196.11,448.9 L196.61,448.67 L197.11,448.43 L197.61,448.21 L198.11,448.03 L198.61,447.92 L199.12,447.89 L199.62,447.95 L200.12,448.1 L200.62,448.3 L201.12,448.53 L201.62,448.77 L202.13,448.99 L202.63,449.17 L203.13,449.32 L203.63,449.42 L204.13,449.49 L204.63,449.54 L205.13,449.56 L205.64,449.57 L206.14,449.56 L206.64,449.53 L207.14,449.48 L207.64,449.4 L208.14,449.29 L208.64,449.14 L209.15,448.95 L209.65,448.72 L210.15,448.48 L210.65,448.25 L211.15,448.06 L211.65,447.93 L212.16,447.89" stroke="#1dbac1" stroke-width="0.6" fill="none" stroke-opacity="0.9" stroke-linejoin="round"/>
<path d="M141.83,436.61 L142.34,433.61 L142.85,430.32 L143.35,426.79 L143.86,423.04 L144.37,419.1 L144.87,414.99 L145.38,410.75 L145.89,406.44 L146.39,402.15 L146.9,397.99 L147.41,394.11 L147.91,390.66 L148.42,387.76 L148.93,385.52 L149.44,383.96 L149.94,383.06 L150.45,382.74 L150.96,382.88 L151.46,383.34 L151.97,383.97 L152.48,384.67 L152.98,385.35 L153.49,385.98 L154,386.6 L154.5,387.29 L155.01,388.19 L155.52,389.44 L156.02,391.17 L156.53,393.47 L157.04,396.35 L157.55,399.75 L158.05,403.55 L158.56,407.59 L159.07,411.69 L159.57,415.73 L160.08,419.61 L160.59,423.28 L161.09,426.74 L161.6,429.98 L162.11,433.01 L162.61,435.8 L163.12,438.31 L163.63,440.49 L164.14,442.33 L164.64,443.81 L165.15,444.96 L165.66,445.84 L166.16,446.5 L166.67,447.03 L167.18,447.46 L167.68,447.85 L168.19,448.19 L168.7,448.51 L169.2,448.79 L169.71,449.02 L170.22,449.21 L170.73,449.35 L171.23,449.45 L171.74,449.51 L172.25,449.55 L172.75,449.57 L173.26,449.59 L173.77,449.59 L174.27,449.59 L174.78,449.58 L175.29,449.56 L175.79,449.52 L176.3,449.47 L176.81,449.38 L177.31,449.25 L177.82,449.09 L178.33,448.88 L178.84,448.65 L179.34,448.41 L179.85,448.19 L180.36,448.01 L180.86,447.91 L181.37,447.89 L181.88,447.97 L182.38,448.13 L182.89,448.34 L183.4,448.58 L183.9,448.81 L184.41,449.03 L184.92,449.21 L185.43,449.34 L185.93,449.44 L186.44,449.51 L186.95,449.55 L187.45,449.57 L187.96,449.59 L188.47,449.59 L188.97,449.6 L189.48,449.6 L189.99,449.6 L190.49,449.6 L191,449.6 L191.51,449.6 L192.01,449.6 L192.52,449.6 L193.03,449.6 L193.54,449.6 L194.04,449.6 L194.55,449.6 L195.06,449.6 L195.56,449.6 L196.07,449.6 L196.58,449.6 L197.08,449.6 L197.59,449.59 L198.1,449.59 L198.6,449.58 L199.11,449.55 L199.62,449.51 L200.13,449.45 L200.63,449.36 L201.14,449.23 L201.65,449.05 L202.15,448.84 L202.66,448.61 L203.17,448.37 L203.67,448.15 L204.18,447.99 L204.69,447.9 L205.19,447.9 L205.7,447.98 L206.21,448.14 L206.71,448.35 L207.22,448.56 L207.73,448.74 L208.24,448.88 L208.74,448.94 L209.25,448.91 L209.76,448.81 L210.26,448.65 L210.77,448.45 L211.28,448.24 L211.78,448.05 L212.29,447.93 L212.8,447.89" stroke="#1dbac1" stroke-width="0.6" fill="none" stroke-opacity="0.9" stroke-linejoin="round"/>
<path d="M141.61,438.08 L142.14,435.07 L142.66,431.66 L143.19,427.82 L143.71,423.58 L144.24,418.97 L144.77,414.05 L145.29,408.9 L145.82,403.61 L146.35,398.3 L146.87,393.08 L147.4,388.1 L147.93,383.51 L148.45,379.49 L148.98,376.19 L149.51,373.79 L150.03,372.38 L150.56,372.02 L151.09,372.68 L151.61,374.28 L152.14,376.68 L152.67,379.76 L153.19,383.37 L153.72,387.39 L154.24,391.71 L154.77,396.21 L155.3,400.75 L155.82,405.19 L156.35,409.38 L156.88,413.22 L157.4,416.67 L157.93,419.75 L158.46,422.56 L158.98,425.18 L159.51,427.68 L160.04,430.07 L160.56,432.32 L161.09,434.35 L161.62,436.09 L162.14,437.5 L162.67,438.6 L163.2,439.42 L163.72,440.05 L164.25,440.57 L164.77,441.06 L165.3,441.57 L165.83,442.13 L166.35,442.72 L166.88,443.32 L167.41,443.88 L167.93,444.36 L168.46,444.74 L168.99,445.02 L169.51,445.24 L170.04,445.44 L170.57,445.65 L171.09,445.9 L171.62,446.2 L172.15,446.51 L172.67,446.79 L173.2,447.01 L173.73,447.13 L174.25,447.15 L174.78,447.09 L175.3,446.98 L175.83,446.85 L176.36,446.76 L176.88,446.72 L177.41,446.77 L177.94,446.9 L178.46,447.12 L178.99,447.41 L179.52,447.74 L180.04,448.1 L180.57,448.44 L181.1,448.74 L181.62,449 L182.15,449.2 L182.68,449.35 L183.2,449.45 L183.73,449.52 L184.26,449.56 L184.78,449.58 L185.31,449.59 L185.83,449.59 L186.36,449.6 L186.89,449.59 L187.41,449.58 L187.94,449.57 L188.47,449.54 L188.99,449.49 L189.52,449.41 L190.05,449.3 L190.57,449.14 L191.1,448.94 L191.63,448.7 L192.15,448.46 L192.68,448.22 L193.21,448.04 L193.73,447.92 L194.26,447.91 L194.79,447.99 L195.31,448.16 L195.84,448.38 L196.36,448.62 L196.89,448.87 L197.42,449.08 L197.94,449.25 L198.47,449.38 L199,449.47 L199.52,449.53 L200.05,449.56 L200.58,449.58 L201.1,449.59 L201.63,449.6 L202.16,449.6 L202.68,449.6 L203.21,449.6 L203.74,449.6 L204.26,449.6 L204.79,449.6 L205.32,449.6 L205.84,449.6 L206.37,449.6 L206.89,449.6 L207.42,449.6 L207.95,449.59 L208.47,449.59 L209,449.58 L209.53,449.55 L210.05,449.51 L210.58,449.44 L211.11,449.34 L211.63,449.2 L212.16,449.01 L212.69,448.79 L213.21,448.54 L213.74,448.3 L214.27,448.09 L214.79,447.95 L215.32,447.9" stroke="#1dbac1" stroke-width="0.6" fill="none" stroke-opacity="0.9" stroke-linejoin="round"/>
<path d="M141.6,434.49 L142.11,431.54 L142.62,428.57 L143.13,425.6 L143.64,422.6 L144.15,419.47 L144.66,416.07 L145.17,412.29 L145.68,408.09 L146.19,403.54 L146.7,398.87 L147.21,394.37 L147.72,390.38 L148.23,387.18 L148.74,384.94 L149.25,383.69 L149.76,383.32 L150.27,383.62 L150.78,384.36 L151.29,385.33 L151.81,386.36 L152.32,387.39 L152.83,388.39 L153.34,389.44 L153.85,390.64 L154.36,392.11 L154.87,393.96 L155.38,396.27 L155.89,399.04 L156.4,402.19 L156.91,405.59 L157.42,409.03 L157.93,412.32 L158.44,415.29 L158.95,417.84 L159.46,419.98 L159.97,421.81 L160.48,423.47 L160.99,425.12 L161.5,426.88 L162.02,428.79 L162.53,430.82 L163.04,432.87 L163.55,434.82 L164.06,436.57 L164.57,438.05 L165.08,439.24 L165.59,440.18 L166.1,440.95 L166.61,441.62 L167.12,442.27 L167.63,442.92 L168.14,443.6 L168.65,444.31 L169.16,445.03 L169.67,445.74 L170.18,446.42 L170.69,447.05 L171.2,447.61 L171.71,448.1 L172.23,448.52 L172.74,448.84 L173.25,449.1 L173.76,449.28 L174.27,449.4 L174.78,449.49 L175.29,449.54 L175.8,449.57 L176.31,449.58 L176.82,449.59 L177.33,449.6 L177.84,449.6 L178.35,449.6 L178.86,449.6 L179.37,449.6 L179.88,449.6 L180.39,449.6 L180.9,449.6 L181.41,449.6 L181.92,449.6 L182.44,449.6 L182.95,449.6 L183.46,449.6 L183.97,449.6 L184.48,449.6 L184.99,449.6 L185.5,449.6 L186.01,449.6 L186.52,449.6 L187.03,449.6 L187.54,449.6 L188.05,449.6 L188.56,449.6 L189.07,449.6 L189.58,449.6 L190.09,449.6 L190.6,449.6 L191.11,449.6 L191.62,449.6 L192.13,449.6 L192.64,449.6 L193.16,449.6 L193.67,449.6 L194.18,449.6 L194.69,449.6 L195.2,449.6 L195.71,449.6 L196.22,449.6 L196.73,449.6 L197.24,449.6 L197.75,449.6 L198.26,449.6 L198.77,449.6 L199.28,449.6 L199.79,449.6 L200.3,449.6 L200.81,449.6 L201.32,449.6 L201.83,449.6 L202.34,449.6 L202.85,449.6 L203.37,449.6 L203.88,449.59 L204.39,449.59 L204.9,449.57 L205.41,449.54 L205.92,449.5 L206.43,449.42 L206.94,449.3 L207.45,449.13 L207.96,448.9 L208.47,448.61 L208.98,448.26 L209.49,447.87 L210,447.47 L210.51,447.1 L211.02,446.79 L211.53,446.58 L212.04,446.5 L212.55,446.55 L213.06,446.74" stroke="#1dbac1" stroke-width="0.6" fill="none" stroke-opacity="0.9" stroke-linejoin="round"/>
<path d="M142.48,438 L142.99,434.47 L143.49,430.34 L144,425.67 L144.5,420.57 L145.01,415.22 L145.51,409.82 L146.02,404.59 L146.52,399.72 L147.03,395.37 L147.53,391.63 L148.04,388.53 L148.54,386.04 L149.05,384.1 L149.55,382.66 L150.06,381.68 L150.57,381.18 L151.07,381.21 L151.58,381.81 L152.08,383 L152.59,384.78 L153.09,387.06 L153.6,389.71 L154.1,392.58 L154.61,395.53 L155.11,398.42 L155.62,401.19 L156.12,403.79 L156.63,406.24 L157.13,408.59 L157.64,410.89 L158.15,413.2 L158.65,415.53 L159.16,417.86 L159.66,420.11 L160.17,422.22 L160.67,424.1 L161.18,425.7 L161.68,427.01 L162.19,428.1 L162.69,429.04 L163.2,429.96 L163.7,430.95 L164.21,432.1 L164.71,433.45 L165.22,435.01 L165.72,436.71 L166.23,438.51 L166.74,440.31 L167.24,442.02 L167.75,443.57 L168.25,444.88 L168.76,445.94 L169.26,446.71 L169.77,447.23 L170.27,447.54 L170.78,447.68 L171.28,447.73 L171.79,447.75 L172.29,447.79 L172.8,447.87 L173.3,448.02 L173.81,448.22 L174.32,448.44 L174.82,448.66 L175.33,448.85 L175.83,448.99 L176.34,449.05 L176.84,449.03 L177.35,448.93 L177.85,448.74 L178.36,448.48 L178.86,448.16 L179.37,447.8 L179.87,447.41 L180.38,447.02 L180.88,446.64 L181.39,446.29 L181.89,445.98 L182.4,445.75 L182.91,445.61 L183.41,445.59 L183.92,445.71 L184.42,445.95 L184.93,446.32 L185.43,446.78 L185.94,447.27 L186.44,447.77 L186.95,448.23 L187.45,448.63 L187.96,448.94 L188.46,449.18 L188.97,449.34 L189.47,449.45 L189.98,449.52 L190.49,449.56 L190.99,449.58 L191.5,449.59 L192,449.6 L192.51,449.6 L193.01,449.6 L193.52,449.6 L194.02,449.6 L194.53,449.6 L195.03,449.6 L195.54,449.6 L196.04,449.6 L196.55,449.6 L197.05,449.6 L197.56,449.6 L198.07,449.6 L198.57,449.6 L199.08,449.6 L199.58,449.6 L200.09,449.6 L200.59,449.6 L201.1,449.6 L201.6,449.6 L202.11,449.6 L202.61,449.6 L203.12,449.6 L203.62,449.6 L204.13,449.6 L204.63,449.6 L205.14,449.6 L205.64,449.6 L206.15,449.59 L206.66,449.58 L207.16,449.57 L207.67,449.54 L208.17,449.49 L208.68,449.41 L209.18,449.3 L209.69,449.15 L210.19,448.96 L210.7,448.74 L211.2,448.5 L211.71,448.27 L212.21,448.08 L212.72,447.95 L213.22,447.9" stroke="#1dbac1" stroke-width="0.6" fill="none" stroke-opacity="0.9" stroke-linejoin="round"/>
<path d="M140.9,447.86 L141.37,447.47 L141.84,446.99 L142.3,446.42 L142.77,445.73 L143.24,444.92 L143.71,443.98 L144.18,442.89 L144.64,441.65 L145.11,440.25 L145.58,438.7 L146.05,436.99 L146.51,435.14 L146.98,433.16 L147.45,431.06 L147.92,428.87 L148.39,426.63 L148.85,424.36 L149.32,422.1 L149.79,419.89 L150.26,417.78 L150.73,415.8 L151.19,414 L151.66,412.39 L152.13,411.02 L152.6,409.91 L153.07,409.05 L153.53,408.47 L154,408.14 L154.47,408.07 L154.94,408.22 L155.41,408.56 L155.87,409.07 L156.34,409.69 L156.81,410.39 L157.28,411.12 L157.74,411.85 L158.21,412.55 L158.68,413.17 L159.15,413.71 L159.62,414.14 L160.08,414.46 L160.55,414.67 L161.02,414.79 L161.49,414.82 L161.96,414.79 L162.42,414.73 L162.89,414.66 L163.36,414.62 L163.83,414.64 L164.3,414.75 L164.76,414.96 L165.23,415.31 L165.7,415.78 L166.17,416.34 L166.63,417 L167.1,417.75 L167.57,418.6 L168.04,419.56 L168.51,420.6 L168.97,421.74 L169.44,422.95 L169.91,424.22 L170.38,425.55 L170.85,426.91 L171.31,428.31 L171.78,429.71 L172.25,431.11 L172.72,432.49 L173.19,433.84 L173.65,435.16 L174.12,436.43 L174.59,437.64 L175.06,438.79 L175.53,439.87 L175.99,440.89 L176.46,441.82 L176.93,442.69 L177.4,443.47 L177.86,444.19 L178.33,444.83 L178.8,445.41 L179.27,445.92 L179.74,446.38 L180.2,446.77 L180.67,447.11 L181.14,447.41 L181.61,447.66 L182.08,447.87 L182.54,448.05 L183.01,448.2 L183.48,448.32 L183.95,448.42 L184.42,448.49 L184.88,448.55 L185.35,448.59 L185.82,448.62 L186.29,448.64 L186.75,448.65 L187.22,448.65 L187.69,448.65 L188.16,448.64 L188.63,448.62 L189.09,448.6 L189.56,448.58 L190.03,448.56 L190.5,448.53 L190.97,448.51 L191.43,448.48 L191.9,448.46 L192.37,448.43 L192.84,448.4 L193.31,448.38 L193.77,448.35 L194.24,448.33 L194.71,448.3 L195.18,448.28 L195.65,448.26 L196.11,448.24 L196.58,448.22 L197.05,448.2 L197.52,448.19 L197.98,448.18 L198.45,448.17 L198.92,448.16 L199.39,448.15 L199.86,448.15 L200.32,448.15 L200.79,448.15 L201.26,448.15 L201.73,448.15 L202.2,448.16 L202.66,448.17 L203.13,448.18 L203.6,448.19 L204.07,448.2 L204.54,448.22 L205,448.24 L205.47,448.26 L205.94,448.28 L206.41,448.3 L206.87,448.33 L207.34,448.35 L207.81,448.38 L208.28,448.4 L208.75,448.43 L209.21,448.46 L209.68,448.49 L210.15,448.52 L210.62,448.55 L211.09,448.58 L211.55,448.61 L212.02,448.64 L212.49,448.67 L212.96,448.7 L213.43,448.73 L213.89,448.76 L214.36,448.79 L214.83,448.82 L215.3,448.85 L215.76,448.87" stroke="#f08a85" stroke-width="0.85" fill="none" stroke-linejoin="round"/>
<rect x="230.4" y="337.3" width="83.1" height="117.2" fill="none" stroke="#8c8c8c" stroke-width="0.9"/>
<line x1="227.8" y1="362.1" x2="230.4" y2="362.1" stroke="#555" stroke-width="0.8"/>
<line x1="227.8" y1="391.2" x2="230.4" y2="391.2" stroke="#555" stroke-width="0.8"/>
<line x1="227.8" y1="420.4" x2="230.4" y2="420.4" stroke="#555" stroke-width="0.8"/>
<line x1="227.8" y1="449.6" x2="230.4" y2="449.6" stroke="#555" stroke-width="0.8"/>
<line x1="234.3" y1="454.5" x2="234.3" y2="457.1" stroke="#555" stroke-width="0.8"/>
<text stroke="#1a1a1a" stroke-width="0.18" x="234.3" y="465.2" font-size="8.6" fill="#1a1a1a" text-anchor="middle">0</text>
<line x1="260.3" y1="454.5" x2="260.3" y2="457.1" stroke="#555" stroke-width="0.8"/>
<text stroke="#1a1a1a" stroke-width="0.18" x="260.3" y="465.2" font-size="8.6" fill="#1a1a1a" text-anchor="middle">2</text>
<line x1="286.3" y1="454.5" x2="286.3" y2="457.1" stroke="#555" stroke-width="0.8"/>
<text stroke="#1a1a1a" stroke-width="0.18" x="286.3" y="465.2" font-size="8.6" fill="#1a1a1a" text-anchor="middle">4</text>
<line x1="312.3" y1="454.5" x2="312.3" y2="457.1" stroke="#555" stroke-width="0.8"/>
<text stroke="#1a1a1a" stroke-width="0.18" x="312.3" y="465.2" font-size="8.6" fill="#1a1a1a" text-anchor="middle">6</text>
<text stroke="#1a1a1a" stroke-width="0.25" x="232.3" y="346.8" font-size="8.4" fill="#1a1a1a">SPN</text>
<line x1="251.2" y1="337.9" x2="251.2" y2="453.9" stroke="#d5403c" stroke-width="0.9" stroke-dasharray="1.8 1.4"/>
<path d="M234.68,399.61 L235.19,392.02 L235.71,385.77 L236.23,381.28 L236.74,378.71 L237.26,377.94 L237.77,378.57 L238.29,380.08 L238.8,381.87 L239.32,383.44 L239.83,384.45 L240.35,384.74 L240.87,384.34 L241.38,383.44 L241.9,382.31 L242.41,381.22 L242.93,380.41 L243.44,380.05 L243.96,380.21 L244.47,380.87 L244.99,381.96 L245.51,383.37 L246.02,385.03 L246.54,386.89 L247.05,388.97 L247.57,391.32 L248.08,394.04 L248.6,397.2 L249.11,400.85 L249.63,404.96 L250.15,409.42 L250.66,414.06 L251.18,418.67 L251.69,423.03 L252.21,426.95 L252.72,430.31 L253.24,433.04 L253.75,435.15 L254.27,436.69 L254.79,437.77 L255.3,438.53 L255.82,439.11 L256.33,439.62 L256.85,440.17 L257.36,440.83 L257.88,441.61 L258.39,442.51 L258.91,443.5 L259.42,444.53 L259.94,445.54 L260.46,446.47 L260.97,447.28 L261.49,447.94 L262,448.44 L262.52,448.79 L263.03,449 L263.55,449.07 L264.06,449.04 L264.58,448.92 L265.1,448.73 L265.61,448.49 L266.13,448.24 L266.64,448.01 L267.16,447.84 L267.67,447.75 L268.19,447.75 L268.7,447.84 L269.22,448 L269.74,448.18 L270.25,448.37 L270.77,448.5 L271.28,448.57 L271.8,448.55 L272.31,448.45 L272.83,448.28 L273.34,448.09 L273.86,447.92 L274.38,447.79 L274.89,447.74 L275.41,447.78 L275.92,447.92 L276.44,448.12 L276.95,448.37 L277.47,448.63 L277.98,448.88 L278.5,449.09 L279.02,449.26 L279.53,449.38 L280.05,449.47 L280.56,449.53 L281.08,449.56 L281.59,449.58 L282.11,449.59 L282.62,449.6 L283.14,449.6 L283.66,449.6 L284.17,449.6 L284.69,449.6 L285.2,449.6 L285.72,449.6 L286.23,449.6 L286.75,449.6 L287.26,449.6 L287.78,449.6 L288.29,449.6 L288.81,449.6 L289.33,449.6 L289.84,449.6 L290.36,449.6 L290.87,449.6 L291.39,449.6 L291.9,449.6 L292.42,449.6 L292.93,449.6 L293.45,449.6 L293.97,449.6 L294.48,449.6 L295,449.6 L295.51,449.6 L296.03,449.6 L296.54,449.6 L297.06,449.6 L297.57,449.6 L298.09,449.6 L298.61,449.6 L299.12,449.6 L299.64,449.59 L300.15,449.58 L300.67,449.56 L301.18,449.53 L301.7,449.48 L302.21,449.4 L302.73,449.28 L303.25,449.11 L303.76,448.91 L304.28,448.66 L304.79,448.4 L305.31,448.15 L305.82,447.94 L306.34,447.8 L306.85,447.75" stroke="#1dbac1" stroke-width="0.6" fill="none" stroke-opacity="0.9" stroke-linejoin="round"/>
<path d="M234.74,391.75 L235.25,383.05 L235.75,375.4 L236.26,369.14 L236.76,364.46 L237.27,361.35 L237.78,359.68 L238.28,359.2 L238.79,359.62 L239.29,360.63 L239.8,361.96 L240.3,363.39 L240.81,364.78 L241.31,366.09 L241.82,367.39 L242.32,368.83 L242.83,370.59 L243.33,372.86 L243.84,375.79 L244.35,379.45 L244.85,383.84 L245.36,388.86 L245.86,394.32 L246.37,400.01 L246.87,405.69 L247.38,411.14 L247.88,416.16 L248.39,420.62 L248.89,424.44 L249.4,427.61 L249.91,430.18 L250.41,432.2 L250.92,433.76 L251.42,434.97 L251.93,435.89 L252.43,436.6 L252.94,437.18 L253.44,437.67 L253.95,438.14 L254.45,438.65 L254.96,439.26 L255.47,439.98 L255.97,440.83 L256.48,441.8 L256.98,442.85 L257.49,443.92 L257.99,444.97 L258.5,445.92 L259,446.75 L259.51,447.42 L260.01,447.91 L260.52,448.22 L261.02,448.36 L261.53,448.37 L262.04,448.27 L262.54,448.11 L263.05,447.94 L263.55,447.8 L264.06,447.73 L264.56,447.74 L265.07,447.84 L265.57,448.02 L266.08,448.25 L266.58,448.5 L267.09,448.76 L267.6,448.98 L268.1,449.17 L268.61,449.32 L269.11,449.42 L269.62,449.5 L270.12,449.54 L270.63,449.57 L271.13,449.58 L271.64,449.59 L272.14,449.6 L272.65,449.6 L273.15,449.6 L273.66,449.6 L274.17,449.6 L274.67,449.6 L275.18,449.6 L275.68,449.6 L276.19,449.6 L276.69,449.6 L277.2,449.6 L277.7,449.6 L278.21,449.6 L278.71,449.6 L279.22,449.6 L279.73,449.6 L280.23,449.6 L280.74,449.6 L281.24,449.6 L281.75,449.6 L282.25,449.6 L282.76,449.6 L283.26,449.6 L283.77,449.6 L284.27,449.6 L284.78,449.6 L285.28,449.6 L285.79,449.6 L286.3,449.6 L286.8,449.6 L287.31,449.6 L287.81,449.6 L288.32,449.6 L288.82,449.6 L289.33,449.6 L289.83,449.6 L290.34,449.6 L290.84,449.6 L291.35,449.59 L291.86,449.59 L292.36,449.57 L292.87,449.54 L293.37,449.5 L293.88,449.43 L294.38,449.33 L294.89,449.19 L295.39,449 L295.9,448.78 L296.4,448.53 L296.91,448.27 L297.41,448.03 L297.92,447.85 L298.43,447.74 L298.93,447.72 L299.44,447.78 L299.94,447.92 L300.45,448.09 L300.95,448.25 L301.46,448.38 L301.96,448.44 L302.47,448.43 L302.97,448.34 L303.48,448.19 L303.99,448.02 L304.49,447.86 L305,447.75 L305.5,447.72" stroke="#1dbac1" stroke-width="0.6" fill="none" stroke-opacity="0.9" stroke-linejoin="round"/>
<path d="M234.6,399.78 L235.1,390.46 L235.6,381.4 L236.1,373.08 L236.6,365.89 L237.1,360.18 L237.6,356.16 L238.1,353.94 L238.6,353.48 L239.1,354.62 L239.6,357.1 L240.1,360.55 L240.6,364.61 L241.09,368.91 L241.59,373.16 L242.09,377.16 L242.59,380.8 L243.09,384.08 L243.59,387.06 L244.09,389.82 L244.59,392.44 L245.09,395.01 L245.59,397.56 L246.09,400.13 L246.59,402.74 L247.09,405.38 L247.59,408.05 L248.09,410.72 L248.58,413.35 L249.08,415.92 L249.58,418.39 L250.08,420.72 L250.58,422.91 L251.08,424.97 L251.58,426.91 L252.08,428.75 L252.58,430.5 L253.08,432.18 L253.58,433.79 L254.08,435.33 L254.58,436.82 L255.08,438.25 L255.58,439.63 L256.07,440.94 L256.57,442.19 L257.07,443.36 L257.57,444.46 L258.07,445.45 L258.57,446.35 L259.07,447.12 L259.57,447.77 L260.07,448.29 L260.57,448.7 L261.07,449 L261.57,449.22 L262.07,449.36 L262.57,449.45 L263.07,449.48 L263.56,449.48 L264.06,449.45 L264.56,449.37 L265.06,449.26 L265.56,449.1 L266.06,448.9 L266.56,448.66 L267.06,448.41 L267.56,448.17 L268.06,447.96 L268.56,447.81 L269.06,447.75 L269.56,447.78 L270.06,447.9 L270.56,448.09 L271.05,448.33 L271.55,448.58 L272.05,448.82 L272.55,449.04 L273.05,449.21 L273.55,449.35 L274.05,449.44 L274.55,449.51 L275.05,449.55 L275.55,449.57 L276.05,449.59 L276.55,449.59 L277.05,449.6 L277.55,449.6 L278.05,449.6 L278.54,449.6 L279.04,449.6 L279.54,449.6 L280.04,449.6 L280.54,449.6 L281.04,449.6 L281.54,449.6 L282.04,449.6 L282.54,449.6 L283.04,449.6 L283.54,449.6 L284.04,449.6 L284.54,449.6 L285.04,449.6 L285.54,449.6 L286.03,449.6 L286.53,449.6 L287.03,449.6 L287.53,449.6 L288.03,449.6 L288.53,449.6 L289.03,449.6 L289.53,449.6 L290.03,449.6 L290.53,449.6 L291.03,449.6 L291.53,449.6 L292.03,449.6 L292.53,449.6 L293.03,449.6 L293.52,449.59 L294.02,449.59 L294.52,449.58 L295.02,449.56 L295.52,449.52 L296.02,449.47 L296.52,449.38 L297.02,449.26 L297.52,449.1 L298.02,448.88 L298.52,448.63 L299.02,448.34 L299.52,448.03 L300.02,447.73 L300.52,447.46 L301.01,447.22 L301.51,447.04 L302.01,446.92 L302.51,446.85 L303.01,446.85 L303.51,446.9 L304.01,447.01 L304.51,447.18" stroke="#1dbac1" stroke-width="0.6" fill="none" stroke-opacity="0.9" stroke-linejoin="round"/>
<path d="M235.08,400.47 L235.57,393.16 L236.07,386.72 L236.57,381.41 L237.07,377.36 L237.56,374.52 L238.06,372.71 L238.56,371.67 L239.06,371.14 L239.56,370.92 L240.05,370.9 L240.55,371.07 L241.05,371.48 L241.55,372.21 L242.04,373.3 L242.54,374.74 L243.04,376.44 L243.54,378.25 L244.04,380.05 L244.53,381.72 L245.03,383.27 L245.53,384.77 L246.03,386.38 L246.52,388.26 L247.02,390.56 L247.52,393.36 L248.02,396.62 L248.52,400.25 L249.01,404.07 L249.51,407.92 L250.01,411.66 L250.51,415.23 L251,418.61 L251.5,421.83 L252,424.93 L252.5,427.92 L253,430.82 L253.49,433.59 L253.99,436.19 L254.49,438.55 L254.99,440.63 L255.48,442.39 L255.98,443.81 L256.48,444.91 L256.98,445.71 L257.47,446.27 L257.97,446.65 L258.47,446.9 L258.97,447.05 L259.47,447.13 L259.96,447.15 L260.46,447.1 L260.96,446.95 L261.46,446.71 L261.95,446.4 L262.45,446.03 L262.95,445.67 L263.45,445.35 L263.95,445.12 L264.44,445.02 L264.94,445.05 L265.44,445.21 L265.94,445.47 L266.43,445.82 L266.93,446.23 L267.43,446.66 L267.93,447.11 L268.43,447.56 L268.92,447.97 L269.42,448.35 L269.92,448.68 L270.42,448.94 L270.91,449.15 L271.41,449.31 L271.91,449.42 L272.41,449.49 L272.9,449.54 L273.4,449.57 L273.9,449.58 L274.4,449.59 L274.9,449.6 L275.39,449.6 L275.89,449.6 L276.39,449.6 L276.89,449.6 L277.38,449.6 L277.88,449.6 L278.38,449.6 L278.88,449.6 L279.38,449.6 L279.87,449.6 L280.37,449.6 L280.87,449.6 L281.37,449.6 L281.86,449.6 L282.36,449.6 L282.86,449.6 L283.36,449.6 L283.86,449.6 L284.35,449.6 L284.85,449.6 L285.35,449.6 L285.85,449.6 L286.34,449.6 L286.84,449.6 L287.34,449.6 L287.84,449.6 L288.33,449.6 L288.83,449.6 L289.33,449.6 L289.83,449.6 L290.33,449.6 L290.82,449.6 L291.32,449.6 L291.82,449.6 L292.32,449.6 L292.81,449.6 L293.31,449.6 L293.81,449.6 L294.31,449.6 L294.81,449.6 L295.3,449.6 L295.8,449.6 L296.3,449.6 L296.8,449.6 L297.29,449.59 L297.79,449.59 L298.29,449.57 L298.79,449.55 L299.29,449.51 L299.78,449.45 L300.28,449.36 L300.78,449.23 L301.28,449.07 L301.77,448.86 L302.27,448.62 L302.77,448.37 L303.27,448.13 L303.76,447.93 L304.26,447.8 L304.76,447.75" stroke="#1dbac1" stroke-width="0.6" fill="none" stroke-opacity="0.9" stroke-linejoin="round"/>
<path d="M234.63,402.36 L235.16,392.16 L235.69,382.24 L236.22,373.31 L236.74,366 L237.27,360.76 L237.8,357.83 L238.33,357.17 L238.86,358.49 L239.39,361.33 L239.92,365.15 L240.45,369.41 L240.98,373.68 L241.51,377.64 L242.04,381.13 L242.57,384.07 L243.09,386.51 L243.62,388.52 L244.15,390.22 L244.68,391.74 L245.21,393.23 L245.74,394.8 L246.27,396.57 L246.8,398.64 L247.33,401.08 L247.86,403.93 L248.39,407.14 L248.92,410.61 L249.44,414.19 L249.97,417.68 L250.5,420.9 L251.03,423.72 L251.56,426.08 L252.09,428.02 L252.62,429.61 L253.15,430.99 L253.68,432.27 L254.21,433.59 L254.74,435.01 L255.26,436.56 L255.79,438.23 L256.32,439.95 L256.85,441.66 L257.38,443.27 L257.91,444.72 L258.44,445.95 L258.97,446.93 L259.5,447.66 L260.03,448.16 L260.56,448.44 L261.09,448.54 L261.61,448.49 L262.14,448.34 L262.67,448.14 L263.2,447.94 L263.73,447.77 L264.26,447.67 L264.79,447.64 L265.32,447.67 L265.85,447.73 L266.38,447.8 L266.91,447.83 L267.44,447.82 L267.96,447.77 L268.49,447.7 L269.02,447.65 L269.55,447.65 L270.08,447.72 L270.61,447.88 L271.14,448.09 L271.67,448.35 L272.2,448.62 L272.73,448.87 L273.26,449.09 L273.78,449.26 L274.31,449.39 L274.84,449.48 L275.37,449.53 L275.9,449.56 L276.43,449.58 L276.96,449.59 L277.49,449.59 L278.02,449.59 L278.55,449.59 L279.08,449.57 L279.61,449.55 L280.13,449.5 L280.66,449.43 L281.19,449.33 L281.72,449.17 L282.25,448.98 L282.78,448.74 L283.31,448.48 L283.84,448.22 L284.37,447.99 L284.9,447.83 L285.43,447.77 L285.96,447.8 L286.48,447.94 L287.01,448.15 L287.54,448.4 L288.07,448.67 L288.6,448.91 L289.13,449.12 L289.66,449.29 L290.19,449.41 L290.72,449.49 L291.25,449.54 L291.78,449.57 L292.31,449.58 L292.83,449.59 L293.36,449.6 L293.89,449.6 L294.42,449.6 L294.95,449.6 L295.48,449.6 L296.01,449.6 L296.54,449.6 L297.07,449.6 L297.6,449.6 L298.13,449.6 L298.65,449.6 L299.18,449.6 L299.71,449.6 L300.24,449.6 L300.77,449.6 L301.3,449.59 L301.83,449.59 L302.36,449.57 L302.89,449.54 L303.42,449.5 L303.95,449.42 L304.48,449.31 L305,449.15 L305.53,448.95 L306.06,448.7 L306.59,448.44 L307.12,448.18 L307.65,447.96 L308.18,447.82 L308.71,447.76" stroke="#1dbac1" stroke-width="0.6" fill="none" stroke-opacity="0.9" stroke-linejoin="round"/>
<path d="M234.74,409.09 L235.24,401.88 L235.75,395.08 L236.26,389.01 L236.76,383.9 L237.27,379.84 L237.78,376.82 L238.28,374.73 L238.79,373.38 L239.3,372.55 L239.8,372.01 L240.31,371.6 L240.82,371.19 L241.32,370.76 L241.83,370.34 L242.34,370.06 L242.84,370.09 L243.35,370.6 L243.86,371.75 L244.36,373.66 L244.87,376.35 L245.38,379.77 L245.88,383.77 L246.39,388.14 L246.9,392.66 L247.4,397.11 L247.91,401.33 L248.42,405.19 L248.92,408.67 L249.43,411.75 L249.94,414.5 L250.44,416.97 L250.95,419.23 L251.46,421.35 L251.96,423.37 L252.47,425.33 L252.98,427.27 L253.48,429.19 L253.99,431.1 L254.5,433.01 L255,434.91 L255.51,436.79 L256.02,438.62 L256.52,440.37 L257.03,442 L257.54,443.46 L258.04,444.71 L258.55,445.72 L259.06,446.48 L259.56,447 L260.07,447.3 L260.58,447.46 L261.08,447.53 L261.59,447.56 L262.1,447.62 L262.6,447.72 L263.11,447.89 L263.62,448.11 L264.12,448.37 L264.63,448.63 L265.14,448.87 L265.64,449.08 L266.15,449.25 L266.66,449.38 L267.16,449.46 L267.67,449.52 L268.18,449.56 L268.68,449.58 L269.19,449.59 L269.7,449.59 L270.2,449.6 L270.71,449.6 L271.22,449.6 L271.72,449.6 L272.23,449.6 L272.74,449.6 L273.24,449.6 L273.75,449.6 L274.26,449.6 L274.76,449.6 L275.27,449.6 L275.78,449.6 L276.28,449.6 L276.79,449.6 L277.3,449.6 L277.8,449.6 L278.31,449.6 L278.82,449.6 L279.32,449.6 L279.83,449.6 L280.34,449.6 L280.84,449.6 L281.35,449.6 L281.86,449.6 L282.36,449.6 L282.87,449.6 L283.38,449.6 L283.88,449.6 L284.39,449.6 L284.9,449.59 L285.4,449.59 L285.91,449.58 L286.42,449.55 L286.92,449.51 L287.43,449.45 L287.94,449.36 L288.44,449.23 L288.95,449.05 L289.46,448.84 L289.96,448.59 L290.47,448.34 L290.98,448.1 L291.48,447.9 L291.99,447.78 L292.5,447.75 L293,447.82 L293.51,447.97 L294.02,448.18 L294.52,448.43 L295.03,448.69 L295.54,448.92 L296.04,449.12 L296.55,449.28 L297.06,449.4 L297.56,449.48 L298.07,449.53 L298.58,449.55 L299.08,449.56 L299.59,449.55 L300.1,449.52 L300.6,449.46 L301.11,449.38 L301.62,449.26 L302.12,449.09 L302.63,448.88 L303.14,448.64 L303.64,448.38 L304.15,448.14 L304.66,447.93 L305.16,447.8 L305.67,447.75" stroke="#1dbac1" stroke-width="0.6" fill="none" stroke-opacity="0.9" stroke-linejoin="round"/>
<path d="M234.59,408.72 L235.12,399.94 L235.66,391.11 L236.2,382.64 L236.73,374.91 L237.27,368.2 L237.81,362.75 L238.34,358.69 L238.88,356.1 L239.42,354.97 L239.95,355.24 L240.49,356.82 L241.03,359.57 L241.56,363.3 L242.1,367.78 L242.63,372.76 L243.17,377.95 L243.71,383.08 L244.24,387.93 L244.78,392.35 L245.32,396.28 L245.85,399.76 L246.39,402.88 L246.93,405.74 L247.46,408.42 L248,410.98 L248.54,413.41 L249.07,415.67 L249.61,417.73 L250.15,419.58 L250.68,421.25 L251.22,422.8 L251.75,424.36 L252.29,426.03 L252.83,427.89 L253.36,429.99 L253.9,432.3 L254.44,434.73 L254.97,437.16 L255.51,439.46 L256.05,441.49 L256.58,443.19 L257.12,444.53 L257.66,445.53 L258.19,446.25 L258.73,446.78 L259.27,447.2 L259.8,447.56 L260.34,447.9 L260.87,448.22 L261.41,448.5 L261.95,448.73 L262.48,448.89 L263.02,448.94 L263.56,448.9 L264.09,448.75 L264.63,448.51 L265.17,448.19 L265.7,447.82 L266.24,447.44 L266.78,447.08 L267.31,446.78 L267.85,446.58 L268.39,446.48 L268.92,446.51 L269.46,446.66 L269.99,446.92 L270.53,447.25 L271.07,447.63 L271.6,448.02 L272.14,448.4 L272.68,448.73 L273.21,449 L273.75,449.21 L274.29,449.36 L274.82,449.46 L275.36,449.52 L275.9,449.56 L276.43,449.58 L276.97,449.59 L277.51,449.6 L278.04,449.6 L278.58,449.6 L279.11,449.6 L279.65,449.6 L280.19,449.6 L280.72,449.6 L281.26,449.6 L281.8,449.6 L282.33,449.6 L282.87,449.6 L283.41,449.6 L283.94,449.6 L284.48,449.6 L285.02,449.6 L285.55,449.6 L286.09,449.6 L286.63,449.6 L287.16,449.59 L287.7,449.58 L288.23,449.56 L288.77,449.52 L289.31,449.45 L289.84,449.36 L290.38,449.21 L290.92,449.02 L291.45,448.79 L291.99,448.53 L292.53,448.26 L293.06,448.02 L293.6,447.85 L294.14,447.77 L294.67,447.79 L295.21,447.92 L295.75,448.12 L296.28,448.38 L296.82,448.65 L297.35,448.9 L297.89,449.12 L298.43,449.28 L298.96,449.4 L299.5,449.49 L300.04,449.54 L300.57,449.57 L301.11,449.58 L301.65,449.59 L302.18,449.59 L302.72,449.59 L303.26,449.57 L303.79,449.55 L304.33,449.5 L304.87,449.43 L305.4,449.32 L305.94,449.17 L306.47,448.96 L307.01,448.72 L307.55,448.45 L308.08,448.19 L308.62,447.97 L309.16,447.82 L309.69,447.76" stroke="#1dbac1" stroke-width="0.6" fill="none" stroke-opacity="0.9" stroke-linejoin="round"/>
<path d="M234.59,416.61 L235.11,409.51 L235.63,402.19 L236.14,394.95 L236.66,388.06 L237.18,381.76 L237.7,376.27 L238.22,371.72 L238.74,368.15 L239.25,365.52 L239.77,363.73 L240.29,362.68 L240.81,362.28 L241.33,362.48 L241.85,363.29 L242.36,364.76 L242.88,366.9 L243.4,369.65 L243.92,372.89 L244.44,376.37 L244.96,379.82 L245.47,382.97 L245.99,385.62 L246.51,387.7 L247.03,389.31 L247.55,390.68 L248.07,392.15 L248.58,394.08 L249.1,396.75 L249.62,400.31 L250.14,404.77 L250.66,409.93 L251.18,415.52 L251.69,421.21 L252.21,426.66 L252.73,431.64 L253.25,435.97 L253.77,439.58 L254.29,442.47 L254.8,444.7 L255.32,446.35 L255.84,447.52 L256.36,448.32 L256.88,448.84 L257.4,449.17 L257.91,449.36 L258.43,449.47 L258.95,449.52 L259.47,449.53 L259.99,449.5 L260.51,449.43 L261.02,449.32 L261.54,449.15 L262.06,448.9 L262.58,448.57 L263.1,448.16 L263.62,447.69 L264.13,447.2 L264.65,446.73 L265.17,446.35 L265.69,446.09 L266.21,446.01 L266.73,446.11 L267.24,446.38 L267.76,446.78 L268.28,447.25 L268.8,447.74 L269.32,448.21 L269.84,448.61 L270.35,448.93 L270.87,449.17 L271.39,449.34 L271.91,449.45 L272.43,449.52 L272.95,449.56 L273.46,449.58 L273.98,449.59 L274.5,449.6 L275.02,449.6 L275.54,449.6 L276.06,449.6 L276.57,449.6 L277.09,449.6 L277.61,449.6 L278.13,449.6 L278.65,449.6 L279.17,449.6 L279.68,449.6 L280.2,449.6 L280.72,449.6 L281.24,449.6 L281.76,449.6 L282.28,449.6 L282.79,449.6 L283.31,449.6 L283.83,449.6 L284.35,449.6 L284.87,449.6 L285.39,449.6 L285.9,449.6 L286.42,449.6 L286.94,449.6 L287.46,449.6 L287.98,449.6 L288.5,449.6 L289.01,449.6 L289.53,449.6 L290.05,449.6 L290.57,449.6 L291.09,449.6 L291.61,449.6 L292.12,449.6 L292.64,449.6 L293.16,449.6 L293.68,449.6 L294.2,449.6 L294.72,449.6 L295.23,449.6 L295.75,449.6 L296.27,449.6 L296.79,449.6 L297.31,449.6 L297.83,449.6 L298.34,449.6 L298.86,449.6 L299.38,449.6 L299.9,449.59 L300.42,449.58 L300.94,449.56 L301.45,449.53 L301.97,449.48 L302.49,449.4 L303.01,449.28 L303.53,449.12 L304.05,448.91 L304.56,448.67 L305.08,448.41 L305.6,448.16 L306.12,447.94 L306.64,447.8 L307.16,447.75" stroke="#1dbac1" stroke-width="0.6" fill="none" stroke-opacity="0.9" stroke-linejoin="round"/>
<path d="M234.59,400.8 L235.11,391.44 L235.63,382.58 L236.15,374.7 L236.67,368.15 L237.19,363.1 L237.71,359.52 L238.23,357.26 L238.75,356.09 L239.27,355.79 L239.79,356.2 L240.32,357.26 L240.84,358.98 L241.36,361.37 L241.88,364.46 L242.4,368.19 L242.92,372.44 L243.44,377.04 L243.96,381.77 L244.48,386.45 L245,390.93 L245.52,395.14 L246.04,399.05 L246.56,402.71 L247.08,406.17 L247.6,409.5 L248.12,412.77 L248.64,416.01 L249.16,419.23 L249.68,422.41 L250.2,425.51 L250.72,428.49 L251.24,431.27 L251.76,433.81 L252.28,436.04 L252.8,437.93 L253.32,439.46 L253.84,440.63 L254.36,441.49 L254.88,442.1 L255.4,442.54 L255.92,442.89 L256.44,443.22 L256.96,443.58 L257.48,443.98 L258,444.42 L258.52,444.89 L259.04,445.37 L259.56,445.83 L260.08,446.29 L260.6,446.73 L261.12,447.16 L261.64,447.58 L262.17,447.98 L262.69,448.35 L263.21,448.67 L263.73,448.94 L264.25,449.15 L264.77,449.3 L265.29,449.39 L265.81,449.42 L266.33,449.41 L266.85,449.35 L267.37,449.23 L267.89,449.07 L268.41,448.85 L268.93,448.61 L269.45,448.35 L269.97,448.1 L270.49,447.91 L271.01,447.79 L271.53,447.77 L272.05,447.85 L272.57,448.01 L273.09,448.24 L273.61,448.5 L274.13,448.75 L274.65,448.99 L275.17,449.18 L275.69,449.33 L276.21,449.43 L276.73,449.5 L277.25,449.55 L277.77,449.57 L278.29,449.59 L278.81,449.59 L279.33,449.6 L279.85,449.6 L280.37,449.6 L280.89,449.6 L281.41,449.6 L281.93,449.6 L282.45,449.6 L282.97,449.6 L283.49,449.6 L284.01,449.6 L284.54,449.6 L285.06,449.6 L285.58,449.6 L286.1,449.6 L286.62,449.6 L287.14,449.6 L287.66,449.6 L288.18,449.6 L288.7,449.6 L289.22,449.6 L289.74,449.6 L290.26,449.6 L290.78,449.59 L291.3,449.59 L291.82,449.58 L292.34,449.55 L292.86,449.51 L293.38,449.45 L293.9,449.35 L294.42,449.21 L294.94,449.03 L295.46,448.8 L295.98,448.55 L296.5,448.29 L297.02,448.05 L297.54,447.87 L298.06,447.78 L298.58,447.78 L299.1,447.88 L299.62,448.06 L300.14,448.29 L300.66,448.54 L301.18,448.78 L301.7,448.97 L302.22,449.1 L302.74,449.16 L303.26,449.14 L303.78,449.04 L304.3,448.88 L304.82,448.66 L305.34,448.41 L305.86,448.16 L306.39,447.95 L306.91,447.81 L307.43,447.76" stroke="#1dbac1" stroke-width="0.6" fill="none" stroke-opacity="0.9" stroke-linejoin="round"/>
<path d="M234.61,403.9 L235.14,395.69 L235.67,388.13 L236.2,381.68 L236.72,376.63 L237.25,373.15 L237.78,371.21 L238.31,370.67 L238.84,371.26 L239.37,372.68 L239.9,374.59 L240.42,376.66 L240.95,378.61 L241.48,380.25 L242.01,381.44 L242.54,382.17 L243.07,382.52 L243.6,382.65 L244.13,382.78 L244.65,383.15 L245.18,384.02 L245.71,385.55 L246.24,387.85 L246.77,390.9 L247.3,394.61 L247.83,398.78 L248.36,403.2 L248.88,407.63 L249.41,411.88 L249.94,415.82 L250.47,419.38 L251,422.54 L251.53,425.34 L252.06,427.81 L252.59,430.01 L253.11,431.98 L253.64,433.75 L254.17,435.32 L254.7,436.69 L255.23,437.88 L255.76,438.88 L256.29,439.72 L256.81,440.45 L257.34,441.11 L257.87,441.77 L258.4,442.45 L258.93,443.18 L259.46,443.94 L259.99,444.69 L260.52,445.37 L261.04,445.94 L261.57,446.36 L262.1,446.61 L262.63,446.71 L263.16,446.7 L263.69,446.63 L264.22,446.54 L264.75,446.48 L265.27,446.49 L265.8,446.58 L266.33,446.75 L266.86,447.02 L267.39,447.34 L267.92,447.71 L268.45,448.08 L268.97,448.44 L269.5,448.75 L270.03,449.01 L270.56,449.21 L271.09,449.36 L271.62,449.46 L272.15,449.52 L272.68,449.56 L273.2,449.58 L273.73,449.59 L274.26,449.6 L274.79,449.6 L275.32,449.6 L275.85,449.6 L276.38,449.6 L276.91,449.6 L277.43,449.6 L277.96,449.6 L278.49,449.6 L279.02,449.6 L279.55,449.6 L280.08,449.6 L280.61,449.6 L281.13,449.6 L281.66,449.6 L282.19,449.6 L282.72,449.6 L283.25,449.6 L283.78,449.6 L284.31,449.6 L284.84,449.6 L285.36,449.6 L285.89,449.6 L286.42,449.6 L286.95,449.6 L287.48,449.6 L288.01,449.59 L288.54,449.58 L289.07,449.56 L289.59,449.52 L290.12,449.46 L290.65,449.36 L291.18,449.23 L291.71,449.05 L292.24,448.82 L292.77,448.56 L293.29,448.3 L293.82,448.06 L294.35,447.87 L294.88,447.78 L295.41,447.78 L295.94,447.88 L296.47,448.07 L297,448.31 L297.52,448.58 L298.05,448.83 L298.58,449.06 L299.11,449.24 L299.64,449.37 L300.17,449.46 L300.7,449.52 L301.23,449.55 L301.75,449.56 L302.28,449.56 L302.81,449.54 L303.34,449.49 L303.87,449.42 L304.4,449.31 L304.93,449.15 L305.45,448.94 L305.98,448.7 L306.51,448.44 L307.04,448.18 L307.57,447.96 L308.1,447.82 L308.63,447.76" stroke="#1dbac1" stroke-width="0.6" fill="none" stroke-opacity="0.9" stroke-linejoin="round"/>
<path d="M234.61,412 L235.15,404.67 L235.68,397.49 L236.22,390.73 L236.75,384.57 L237.29,379.1 L237.83,374.3 L238.36,370.11 L238.9,366.44 L239.43,363.25 L239.97,360.53 L240.51,358.37 L241.04,356.95 L241.58,356.46 L242.11,357.09 L242.65,358.99 L243.19,362.19 L243.72,366.61 L244.26,372.05 L244.8,378.26 L245.33,384.89 L245.87,391.6 L246.4,398.04 L246.94,403.9 L247.48,408.95 L248.01,413.02 L248.55,416.06 L249.08,418.15 L249.62,419.47 L250.16,420.3 L250.69,420.94 L251.23,421.7 L251.76,422.78 L252.3,424.32 L252.84,426.32 L253.37,428.67 L253.91,431.23 L254.44,433.85 L254.98,436.38 L255.52,438.73 L256.05,440.84 L256.59,442.71 L257.12,444.31 L257.66,445.67 L258.2,446.78 L258.73,447.65 L259.27,448.31 L259.8,448.79 L260.34,449.11 L260.88,449.32 L261.41,449.45 L261.95,449.52 L262.48,449.56 L263.02,449.58 L263.56,449.58 L264.09,449.58 L264.63,449.56 L265.16,449.53 L265.7,449.47 L266.24,449.38 L266.77,449.25 L267.31,449.07 L267.84,448.84 L268.38,448.58 L268.92,448.31 L269.45,448.06 L269.99,447.87 L270.52,447.76 L271.06,447.76 L271.6,447.87 L272.13,448.06 L272.67,448.31 L273.2,448.58 L273.74,448.84 L274.28,449.07 L274.81,449.25 L275.35,449.38 L275.88,449.47 L276.42,449.53 L276.96,449.56 L277.49,449.58 L278.03,449.59 L278.57,449.6 L279.1,449.6 L279.64,449.6 L280.17,449.6 L280.71,449.6 L281.25,449.6 L281.78,449.6 L282.32,449.6 L282.85,449.6 L283.39,449.6 L283.93,449.6 L284.46,449.6 L285,449.6 L285.53,449.6 L286.07,449.6 L286.61,449.6 L287.14,449.6 L287.68,449.6 L288.21,449.6 L288.75,449.6 L289.29,449.6 L289.82,449.6 L290.36,449.6 L290.89,449.6 L291.43,449.6 L291.97,449.6 L292.5,449.59 L293.04,449.59 L293.57,449.57 L294.11,449.55 L294.65,449.51 L295.18,449.43 L295.72,449.33 L296.25,449.17 L296.79,448.97 L297.33,448.73 L297.86,448.46 L298.4,448.2 L298.93,447.97 L299.47,447.81 L300.01,447.75 L300.54,447.8 L301.08,447.94 L301.61,448.16 L302.15,448.42 L302.69,448.68 L303.22,448.92 L303.76,449.1 L304.29,449.21 L304.83,449.25 L305.37,449.22 L305.9,449.11 L306.44,448.93 L306.97,448.7 L307.51,448.44 L308.05,448.18 L308.58,447.95 L309.12,447.8 L309.66,447.75" stroke="#1dbac1" stroke-width="0.6" fill="none" stroke-opacity="0.9" stroke-linejoin="round"/>
<path d="M234.67,416.99 L235.17,410.08 L235.67,402.95 L236.18,395.79 L236.68,388.74 L237.18,381.95 L237.68,375.52 L238.18,369.59 L238.68,364.32 L239.19,359.87 L239.69,356.43 L240.19,354.13 L240.69,353.06 L241.19,353.22 L241.69,354.55 L242.2,356.9 L242.7,360.07 L243.2,363.84 L243.7,367.99 L244.2,372.28 L244.7,376.56 L245.2,380.69 L245.71,384.64 L246.21,388.44 L246.71,392.15 L247.21,395.89 L247.71,399.73 L248.21,403.72 L248.72,407.84 L249.22,412.01 L249.72,416.1 L250.22,419.99 L250.72,423.53 L251.22,426.66 L251.73,429.34 L252.23,431.59 L252.73,433.45 L253.23,435.01 L253.73,436.35 L254.23,437.54 L254.74,438.64 L255.24,439.71 L255.74,440.78 L256.24,441.86 L256.74,442.95 L257.24,444.01 L257.74,445 L258.25,445.88 L258.75,446.6 L259.25,447.15 L259.75,447.52 L260.25,447.71 L260.75,447.78 L261.26,447.76 L261.76,447.71 L262.26,447.67 L262.76,447.7 L263.26,447.79 L263.76,447.95 L264.27,448.17 L264.77,448.42 L265.27,448.68 L265.77,448.91 L266.27,449.11 L266.77,449.27 L267.28,449.39 L267.78,449.47 L268.28,449.53 L268.78,449.56 L269.28,449.58 L269.78,449.59 L270.28,449.6 L270.79,449.6 L271.29,449.6 L271.79,449.6 L272.29,449.6 L272.79,449.6 L273.29,449.6 L273.8,449.6 L274.3,449.6 L274.8,449.6 L275.3,449.6 L275.8,449.6 L276.3,449.6 L276.81,449.6 L277.31,449.6 L277.81,449.6 L278.31,449.6 L278.81,449.6 L279.31,449.6 L279.82,449.6 L280.32,449.6 L280.82,449.6 L281.32,449.6 L281.82,449.6 L282.32,449.6 L282.82,449.6 L283.33,449.6 L283.83,449.6 L284.33,449.6 L284.83,449.6 L285.33,449.6 L285.83,449.6 L286.34,449.6 L286.84,449.6 L287.34,449.6 L287.84,449.6 L288.34,449.6 L288.84,449.6 L289.35,449.59 L289.85,449.58 L290.35,449.56 L290.85,449.53 L291.35,449.48 L291.85,449.41 L292.36,449.29 L292.86,449.14 L293.36,448.95 L293.86,448.72 L294.36,448.46 L294.86,448.21 L295.36,447.99 L295.87,447.83 L296.37,447.75 L296.87,447.77 L297.37,447.87 L297.87,448.04 L298.37,448.26 L298.88,448.49 L299.38,448.7 L299.88,448.87 L300.38,448.96 L300.88,448.97 L301.38,448.91 L301.89,448.77 L302.39,448.57 L302.89,448.34 L303.39,448.12 L303.89,447.92 L304.39,447.79 L304.89,447.75" stroke="#1dbac1" stroke-width="0.6" fill="none" stroke-opacity="0.9" stroke-linejoin="round"/>
<path d="M234.71,394.59 L235.22,385.68 L235.74,377.83 L236.25,371.43 L236.76,366.7 L237.28,363.64 L237.79,362.14 L238.31,362 L238.82,363.02 L239.34,365 L239.85,367.74 L240.36,371 L240.88,374.51 L241.39,377.96 L241.91,381.03 L242.42,383.48 L242.94,385.15 L243.45,386.04 L243.96,386.31 L244.48,386.22 L244.99,386.09 L245.51,386.25 L246.02,386.96 L246.54,388.42 L247.05,390.67 L247.56,393.7 L248.08,397.39 L248.59,401.57 L249.11,406.05 L249.62,410.65 L250.14,415.19 L250.65,419.54 L251.17,423.62 L251.68,427.39 L252.19,430.85 L252.71,434.01 L253.22,436.88 L253.74,439.46 L254.25,441.74 L254.77,443.7 L255.28,445.33 L255.79,446.63 L256.31,447.61 L256.82,448.32 L257.34,448.78 L257.85,449.05 L258.37,449.18 L258.88,449.18 L259.39,449.09 L259.91,448.93 L260.42,448.71 L260.94,448.46 L261.45,448.21 L261.97,447.99 L262.48,447.83 L262.99,447.75 L263.51,447.78 L264.02,447.89 L264.54,448.09 L265.05,448.33 L265.57,448.59 L266.08,448.84 L266.59,449.06 L267.11,449.23 L267.62,449.36 L268.14,449.44 L268.65,449.49 L269.17,449.5 L269.68,449.48 L270.19,449.42 L270.71,449.31 L271.22,449.17 L271.74,448.98 L272.25,448.75 L272.77,448.49 L273.28,448.23 L273.79,448.01 L274.31,447.84 L274.82,447.76 L275.34,447.77 L275.85,447.88 L276.37,448.07 L276.88,448.31 L277.39,448.57 L277.91,448.82 L278.42,449.04 L278.94,449.22 L279.45,449.36 L279.97,449.45 L280.48,449.51 L280.99,449.55 L281.51,449.58 L282.02,449.59 L282.54,449.59 L283.05,449.6 L283.57,449.6 L284.08,449.6 L284.59,449.6 L285.11,449.6 L285.62,449.6 L286.14,449.6 L286.65,449.6 L287.17,449.6 L287.68,449.6 L288.19,449.6 L288.71,449.6 L289.22,449.6 L289.74,449.6 L290.25,449.6 L290.77,449.6 L291.28,449.6 L291.8,449.6 L292.31,449.6 L292.82,449.6 L293.34,449.6 L293.85,449.6 L294.37,449.6 L294.88,449.6 L295.4,449.6 L295.91,449.6 L296.42,449.6 L296.94,449.6 L297.45,449.6 L297.97,449.6 L298.48,449.6 L299,449.6 L299.51,449.59 L300.02,449.58 L300.54,449.56 L301.05,449.53 L301.57,449.48 L302.08,449.39 L302.6,449.27 L303.11,449.11 L303.62,448.9 L304.14,448.66 L304.65,448.4 L305.17,448.15 L305.68,447.94 L306.2,447.8 L306.71,447.75" stroke="#1dbac1" stroke-width="0.6" fill="none" stroke-opacity="0.9" stroke-linejoin="round"/>
<path d="M234.64,400.2 L235.17,391.84 L235.7,384.07 L236.23,377.22 L236.76,371.47 L237.29,366.91 L237.82,363.52 L238.35,361.21 L238.88,359.84 L239.41,359.23 L239.94,359.22 L240.47,359.68 L241,360.53 L241.53,361.76 L242.06,363.44 L242.59,365.66 L243.12,368.48 L243.65,371.91 L244.18,375.91 L244.71,380.37 L245.24,385.16 L245.77,390.15 L246.3,395.26 L246.83,400.39 L247.36,405.48 L247.89,410.43 L248.42,415.19 L248.95,419.66 L249.48,423.77 L250.01,427.47 L250.54,430.69 L251.07,433.41 L251.6,435.62 L252.13,437.33 L252.66,438.62 L253.19,439.58 L253.72,440.34 L254.25,441.04 L254.78,441.77 L255.31,442.61 L255.84,443.54 L256.37,444.55 L256.9,445.54 L257.43,446.46 L257.96,447.23 L258.49,447.8 L259.02,448.17 L259.55,448.34 L260.08,448.34 L260.61,448.24 L261.14,448.07 L261.67,447.91 L262.2,447.79 L262.73,447.74 L263.26,447.79 L263.79,447.93 L264.32,448.11 L264.85,448.31 L265.38,448.48 L265.91,448.59 L266.44,448.62 L266.97,448.55 L267.5,448.4 L268.03,448.21 L268.56,448.01 L269.09,447.84 L269.62,447.73 L270.15,447.7 L270.68,447.76 L271.21,447.86 L271.74,447.98 L272.27,448.08 L272.8,448.12 L273.33,448.1 L273.86,448.02 L274.39,447.9 L274.92,447.79 L275.45,447.72 L275.98,447.73 L276.51,447.82 L277.04,448 L277.57,448.23 L278.1,448.5 L278.63,448.76 L279.16,449 L279.69,449.19 L280.22,449.34 L280.75,449.44 L281.28,449.51 L281.81,449.55 L282.34,449.57 L282.87,449.59 L283.4,449.59 L283.93,449.6 L284.46,449.6 L284.99,449.6 L285.52,449.6 L286.05,449.6 L286.58,449.6 L287.11,449.6 L287.64,449.6 L288.17,449.6 L288.7,449.6 L289.23,449.6 L289.76,449.6 L290.29,449.6 L290.82,449.6 L291.35,449.6 L291.88,449.6 L292.41,449.6 L292.94,449.6 L293.47,449.6 L294,449.6 L294.53,449.6 L295.06,449.6 L295.59,449.6 L296.12,449.6 L296.65,449.6 L297.18,449.6 L297.71,449.6 L298.24,449.6 L298.77,449.6 L299.3,449.6 L299.83,449.6 L300.36,449.6 L300.89,449.6 L301.42,449.59 L301.95,449.59 L302.48,449.57 L303.01,449.54 L303.54,449.5 L304.07,449.42 L304.6,449.31 L305.13,449.15 L305.66,448.95 L306.19,448.71 L306.72,448.44 L307.25,448.18 L307.78,447.96 L308.31,447.82 L308.84,447.76" stroke="#1dbac1" stroke-width="0.6" fill="none" stroke-opacity="0.9" stroke-linejoin="round"/>
<path d="M234.61,408.65 L235.11,399.75 L235.61,390.6 L236.11,381.61 L236.61,373.2 L237.11,365.75 L237.61,359.57 L238.1,354.87 L238.6,351.74 L239.1,350.18 L239.6,350.06 L240.1,351.21 L240.6,353.42 L241.1,356.49 L241.6,360.23 L242.1,364.51 L242.59,369.23 L243.09,374.28 L243.59,379.58 L244.09,385 L244.59,390.37 L245.09,395.51 L245.59,400.25 L246.09,404.44 L246.58,408.01 L247.08,410.94 L247.58,413.29 L248.08,415.16 L248.58,416.64 L249.08,417.87 L249.58,418.95 L250.08,419.99 L250.58,421.1 L251.07,422.38 L251.57,423.9 L252.07,425.72 L252.57,427.84 L253.07,430.18 L253.57,432.65 L254.07,435.11 L254.57,437.41 L255.06,439.44 L255.56,441.13 L256.06,442.45 L256.56,443.43 L257.06,444.14 L257.56,444.65 L258.06,445.02 L258.56,445.33 L259.06,445.6 L259.55,445.85 L260.05,446.09 L260.55,446.32 L261.05,446.55 L261.55,446.78 L262.05,447.03 L262.55,447.3 L263.05,447.6 L263.55,447.91 L264.04,448.23 L264.54,448.53 L265.04,448.8 L265.54,449.03 L266.04,449.21 L266.54,449.35 L267.04,449.44 L267.54,449.51 L268.03,449.55 L268.53,449.57 L269.03,449.59 L269.53,449.59 L270.03,449.6 L270.53,449.6 L271.03,449.6 L271.53,449.6 L272.03,449.6 L272.52,449.6 L273.02,449.6 L273.52,449.6 L274.02,449.6 L274.52,449.6 L275.02,449.6 L275.52,449.6 L276.02,449.6 L276.51,449.6 L277.01,449.59 L277.51,449.59 L278.01,449.57 L278.51,449.55 L279.01,449.51 L279.51,449.45 L280.01,449.35 L280.51,449.22 L281,449.04 L281.5,448.83 L282,448.59 L282.5,448.34 L283,448.1 L283.5,447.91 L284,447.78 L284.5,447.75 L284.99,447.81 L285.49,447.95 L285.99,448.16 L286.49,448.4 L286.99,448.65 L287.49,448.89 L287.99,449.09 L288.49,449.26 L288.99,449.38 L289.48,449.46 L289.98,449.52 L290.48,449.56 L290.98,449.58 L291.48,449.59 L291.98,449.59 L292.48,449.6 L292.98,449.6 L293.47,449.6 L293.97,449.6 L294.47,449.6 L294.97,449.6 L295.47,449.6 L295.97,449.6 L296.47,449.6 L296.97,449.59 L297.47,449.59 L297.96,449.58 L298.46,449.55 L298.96,449.52 L299.46,449.46 L299.96,449.36 L300.46,449.24 L300.96,449.07 L301.46,448.86 L301.96,448.62 L302.45,448.37 L302.95,448.13 L303.45,447.93 L303.95,447.8 L304.45,447.75" stroke="#1dbac1" stroke-width="0.6" fill="none" stroke-opacity="0.9" stroke-linejoin="round"/>
<path d="M234.57,414.64 L235.1,406.77 L235.64,398.55 L236.17,390.25 L236.71,382.14 L237.24,374.5 L237.78,367.64 L238.31,361.82 L238.85,357.27 L239.38,354.13 L239.92,352.41 L240.45,352.03 L240.99,352.84 L241.52,354.7 L242.06,357.47 L242.59,361.04 L243.13,365.35 L243.66,370.27 L244.2,375.64 L244.73,381.27 L245.27,386.89 L245.8,392.26 L246.34,397.19 L246.87,401.57 L247.41,405.38 L247.94,408.7 L248.48,411.65 L249.01,414.38 L249.55,417.05 L250.08,419.78 L250.62,422.62 L251.15,425.55 L251.69,428.5 L252.22,431.34 L252.76,433.94 L253.29,436.19 L253.82,438.01 L254.36,439.4 L254.89,440.39 L255.43,441.07 L255.96,441.54 L256.5,441.91 L257.03,442.27 L257.57,442.68 L258.1,443.19 L258.64,443.82 L259.17,444.56 L259.71,445.36 L260.24,446.18 L260.78,446.97 L261.31,447.66 L261.85,448.25 L262.38,448.7 L262.92,449.03 L263.45,449.26 L263.99,449.41 L264.52,449.49 L265.06,449.54 L265.59,449.56 L266.13,449.55 L266.66,449.52 L267.2,449.46 L267.73,449.36 L268.27,449.22 L268.8,449.04 L269.34,448.8 L269.87,448.54 L270.41,448.27 L270.94,448.02 L271.48,447.84 L272.01,447.74 L272.55,447.75 L273.08,447.87 L273.62,448.07 L274.15,448.32 L274.69,448.6 L275.22,448.86 L275.76,449.08 L276.29,449.26 L276.82,449.39 L277.36,449.47 L277.89,449.53 L278.43,449.56 L278.96,449.58 L279.5,449.59 L280.03,449.6 L280.57,449.6 L281.1,449.6 L281.64,449.6 L282.17,449.6 L282.71,449.6 L283.24,449.6 L283.78,449.6 L284.31,449.6 L284.85,449.6 L285.38,449.6 L285.92,449.6 L286.45,449.6 L286.99,449.6 L287.52,449.6 L288.06,449.6 L288.59,449.6 L289.13,449.6 L289.66,449.6 L290.2,449.6 L290.73,449.6 L291.27,449.6 L291.8,449.6 L292.34,449.6 L292.87,449.6 L293.41,449.6 L293.94,449.6 L294.48,449.6 L295.01,449.6 L295.55,449.6 L296.08,449.6 L296.62,449.6 L297.15,449.6 L297.69,449.6 L298.22,449.6 L298.76,449.6 L299.29,449.6 L299.82,449.6 L300.36,449.6 L300.89,449.6 L301.43,449.6 L301.96,449.59 L302.5,449.59 L303.03,449.57 L303.57,449.55 L304.1,449.5 L304.64,449.43 L305.17,449.31 L305.71,449.16 L306.24,448.95 L306.78,448.7 L307.31,448.43 L307.85,448.17 L308.38,447.94 L308.92,447.79 L309.45,447.73" stroke="#1dbac1" stroke-width="0.6" fill="none" stroke-opacity="0.9" stroke-linejoin="round"/>
<path d="M234.3,441.1 L234.77,439.35 L235.24,437.33 L235.71,435.05 L236.19,432.49 L236.66,429.67 L237.13,426.58 L237.6,423.27 L238.07,419.75 L238.54,416.08 L239.01,412.31 L239.48,408.51 L239.96,404.75 L240.43,401.1 L240.9,397.65 L241.37,394.47 L241.84,391.65 L242.31,389.23 L242.78,387.27 L243.25,385.8 L243.73,384.81 L244.2,384.28 L244.67,384.48 L245.14,385.36 L245.61,386.74 L246.08,388.36 L246.55,389.94 L247.02,391.24 L247.5,392.03 L247.97,392.18 L248.44,391.7 L248.91,390.68 L249.38,389.36 L249.85,388.08 L250.32,387.2 L250.79,387.11 L251.27,388.1 L251.74,390.1 L252.21,392.16 L252.68,394.2 L253.15,396.26 L253.62,398.37 L254.09,400.55 L254.56,402.82 L255.04,405.18 L255.51,407.62 L255.98,410.14 L256.45,412.7 L256.92,415.3 L257.39,417.9 L257.86,420.48 L258.33,423.02 L258.81,425.48 L259.28,427.84 L259.75,430.1 L260.22,432.23 L260.69,434.22 L261.16,436.06 L261.63,437.76 L262.1,439.3 L262.57,440.69 L263.05,441.94 L263.52,443.05 L263.99,444.02 L264.46,444.87 L264.93,445.61 L265.4,446.25 L265.87,446.79 L266.35,447.25 L266.82,447.64 L267.29,447.96 L267.76,448.23 L268.23,448.45 L268.7,448.63 L269.17,448.77 L269.64,448.89 L270.12,448.98 L270.59,449.06 L271.06,449.12 L271.53,449.16 L272,449.2 L272.47,449.23 L272.94,449.25 L273.41,449.26 L273.88,449.28 L274.36,449.28 L274.83,449.29 L275.3,449.3 L275.77,449.3 L276.24,449.3 L276.71,449.3 L277.18,449.31 L277.66,449.31 L278.13,449.31 L278.6,449.31 L279.07,449.31 L279.54,449.31 L280.01,449.31 L280.48,449.31 L280.95,449.31 L281.43,449.31 L281.9,449.31 L282.37,449.31 L282.84,449.31 L283.31,449.31 L283.78,449.31 L284.25,449.31 L284.72,449.31 L285.19,449.31 L285.67,449.31 L286.14,449.31 L286.61,449.31 L287.08,449.31 L287.55,449.31 L288.02,449.31 L288.49,449.31 L288.97,449.31 L289.44,449.31 L289.91,449.31 L290.38,449.31 L290.85,449.31 L291.32,449.31 L291.79,449.31 L292.26,449.31 L292.74,449.31 L293.21,449.31 L293.68,449.31 L294.15,449.31 L294.62,449.31 L295.09,449.31 L295.56,449.31 L296.03,449.31 L296.5,449.31 L296.98,449.31 L297.45,449.31 L297.92,449.31 L298.39,449.31 L298.86,449.31 L299.33,449.31 L299.8,449.31 L300.28,449.31 L300.75,449.31 L301.22,449.31 L301.69,449.31 L302.16,449.31 L302.63,449.31 L303.1,449.31 L303.57,449.31 L304.05,449.31 L304.52,449.31 L304.99,449.31 L305.46,449.31 L305.93,449.31 L306.4,449.31 L306.87,449.31 L307.34,449.31 L307.81,449.31 L308.29,449.31 L308.76,449.31 L309.23,449.31 L309.7,449.31" stroke="#f08a85" stroke-width="0.85" fill="none" stroke-linejoin="round"/>
<rect x="324.6" y="337.3" width="83" height="117.2" fill="none" stroke="#8c8c8c" stroke-width="0.9"/>
<line x1="322" y1="362.1" x2="324.6" y2="362.1" stroke="#555" stroke-width="0.8"/>
<line x1="322" y1="391.2" x2="324.6" y2="391.2" stroke="#555" stroke-width="0.8"/>
<line x1="322" y1="420.4" x2="324.6" y2="420.4" stroke="#555" stroke-width="0.8"/>
<line x1="322" y1="449.6" x2="324.6" y2="449.6" stroke="#555" stroke-width="0.8"/>
<line x1="328.3" y1="454.5" x2="328.3" y2="457.1" stroke="#555" stroke-width="0.8"/>
<text stroke="#1a1a1a" stroke-width="0.18" x="328.3" y="465.2" font-size="8.6" fill="#1a1a1a" text-anchor="middle">0</text>
<line x1="342.7" y1="454.5" x2="342.7" y2="457.1" stroke="#555" stroke-width="0.8"/>
<text stroke="#1a1a1a" stroke-width="0.18" x="342.7" y="465.2" font-size="8.6" fill="#1a1a1a" text-anchor="middle">1</text>
<line x1="357.1" y1="454.5" x2="357.1" y2="457.1" stroke="#555" stroke-width="0.8"/>
<text stroke="#1a1a1a" stroke-width="0.18" x="357.1" y="465.2" font-size="8.6" fill="#1a1a1a" text-anchor="middle">2</text>
<line x1="371.5" y1="454.5" x2="371.5" y2="457.1" stroke="#555" stroke-width="0.8"/>
<text stroke="#1a1a1a" stroke-width="0.18" x="371.5" y="465.2" font-size="8.6" fill="#1a1a1a" text-anchor="middle">3</text>
<line x1="385.9" y1="454.5" x2="385.9" y2="457.1" stroke="#555" stroke-width="0.8"/>
<text stroke="#1a1a1a" stroke-width="0.18" x="385.9" y="465.2" font-size="8.6" fill="#1a1a1a" text-anchor="middle">4</text>
<line x1="400.3" y1="454.5" x2="400.3" y2="457.1" stroke="#555" stroke-width="0.8"/>
<text stroke="#1a1a1a" stroke-width="0.18" x="400.3" y="465.2" font-size="8.6" fill="#1a1a1a" text-anchor="middle">5</text>
<text stroke="#1a1a1a" stroke-width="0.25" x="326.5" y="346.8" font-size="8.4" fill="#1a1a1a">GA</text>
<line x1="357.1" y1="337.9" x2="357.1" y2="453.9" stroke="#d5403c" stroke-width="0.9" stroke-dasharray="1.8 1.4"/>
<path d="M328.62,435.88 L329.13,433.81 L329.64,431.59 L330.15,429.23 L330.67,426.75 L331.18,424.15 L331.69,421.45 L332.21,418.66 L332.72,415.81 L333.23,412.9 L333.74,409.94 L334.26,406.97 L334.77,403.98 L335.28,401.01 L335.8,398.07 L336.31,395.2 L336.82,392.42 L337.33,389.76 L337.85,387.28 L338.36,385.01 L338.87,382.99 L339.39,381.27 L339.9,379.9 L340.41,378.9 L340.93,378.3 L341.44,378.13 L341.95,378.39 L342.46,379.07 L342.98,380.17 L343.49,381.65 L344,383.48 L344.52,385.63 L345.03,388.04 L345.54,390.67 L346.05,393.45 L346.57,396.34 L347.08,399.29 L347.59,402.25 L348.11,405.16 L348.62,408 L349.13,410.72 L349.64,413.3 L350.16,415.71 L350.67,417.94 L351.18,419.99 L351.7,421.84 L352.21,423.52 L352.72,425.04 L353.23,426.42 L353.75,427.68 L354.26,428.85 L354.77,429.96 L355.29,431.03 L355.8,432.08 L356.31,433.12 L356.83,434.17 L357.34,435.22 L357.85,436.26 L358.36,437.28 L358.88,438.27 L359.39,439.2 L359.9,440.08 L360.42,440.87 L360.93,441.58 L361.44,442.18 L361.95,442.7 L362.47,443.13 L362.98,443.47 L363.49,443.75 L364.01,443.98 L364.52,444.17 L365.03,444.34 L365.54,444.51 L366.06,444.68 L366.57,444.87 L367.08,445.08 L367.6,445.32 L368.11,445.59 L368.62,445.88 L369.13,446.2 L369.65,446.52 L370.16,446.85 L370.67,447.18 L371.19,447.5 L371.7,447.81 L372.21,448.09 L372.73,448.35 L373.24,448.58 L373.75,448.78 L374.26,448.95 L374.78,449.1 L375.29,449.22 L375.8,449.31 L376.32,449.39 L376.83,449.45 L377.34,449.49 L377.85,449.52 L378.37,449.54 L378.88,449.56 L379.39,449.57 L379.91,449.57 L380.42,449.56 L380.93,449.56 L381.44,449.54 L381.96,449.52 L382.47,449.49 L382.98,449.44 L383.5,449.39 L384.01,449.33 L384.52,449.25 L385.04,449.16 L385.55,449.05 L386.06,448.93 L386.57,448.81 L387.09,448.68 L387.6,448.55 L388.11,448.43 L388.63,448.31 L389.14,448.21 L389.65,448.14 L390.16,448.09 L390.68,448.06 L391.19,448.06 L391.7,448.08 L392.22,448.12 L392.73,448.17 L393.24,448.23 L393.75,448.29 L394.27,448.34 L394.78,448.38 L395.29,448.4 L395.81,448.4 L396.32,448.38 L396.83,448.34 L397.34,448.29 L397.86,448.23 L398.37,448.17 L398.88,448.12 L399.4,448.08 L399.91,448.06 L400.42,448.06" stroke="#1dbac1" stroke-width="0.6" fill="none" stroke-opacity="0.9" stroke-linejoin="round"/>
<path d="M329.14,431.13 L329.66,428.76 L330.19,426.32 L330.72,423.85 L331.24,421.35 L331.77,418.84 L332.29,416.34 L332.82,413.84 L333.34,411.36 L333.87,408.9 L334.4,406.47 L334.92,404.1 L335.45,401.8 L335.97,399.6 L336.5,397.54 L337.02,395.65 L337.55,393.98 L338.07,392.56 L338.6,391.42 L339.13,390.57 L339.65,390.05 L340.18,389.83 L340.7,389.91 L341.23,390.27 L341.75,390.89 L342.28,391.71 L342.81,392.72 L343.33,393.86 L343.86,395.11 L344.38,396.44 L344.91,397.82 L345.43,399.22 L345.96,400.62 L346.48,402.03 L347.01,403.42 L347.54,404.79 L348.06,406.15 L348.59,407.5 L349.11,408.85 L349.64,410.21 L350.16,411.59 L350.69,413 L351.21,414.45 L351.74,415.92 L352.27,417.42 L352.79,418.93 L353.32,420.44 L353.84,421.93 L354.37,423.39 L354.89,424.79 L355.42,426.12 L355.95,427.39 L356.47,428.59 L357,429.73 L357.52,430.81 L358.05,431.85 L358.57,432.84 L359.1,433.79 L359.62,434.7 L360.15,435.57 L360.68,436.39 L361.2,437.16 L361.73,437.86 L362.25,438.5 L362.78,439.07 L363.3,439.58 L363.83,440.05 L364.36,440.48 L364.88,440.9 L365.41,441.32 L365.93,441.76 L366.46,442.23 L366.98,442.73 L367.51,443.27 L368.03,443.85 L368.56,444.44 L369.09,445.05 L369.61,445.65 L370.14,446.23 L370.66,446.78 L371.19,447.28 L371.71,447.73 L372.24,448.12 L372.76,448.45 L373.29,448.73 L373.82,448.95 L374.34,449.13 L374.87,449.26 L375.39,449.36 L375.92,449.43 L376.44,449.49 L376.97,449.52 L377.5,449.54 L378.02,449.55 L378.55,449.55 L379.07,449.55 L379.6,449.53 L380.12,449.51 L380.65,449.47 L381.17,449.43 L381.7,449.37 L382.23,449.3 L382.75,449.22 L383.28,449.12 L383.8,449.01 L384.33,448.88 L384.85,448.75 L385.38,448.62 L385.9,448.49 L386.43,448.37 L386.96,448.26 L387.48,448.18 L388.01,448.12 L388.53,448.1 L389.06,448.1 L389.58,448.14 L390.11,448.2 L390.64,448.29 L391.16,448.4 L391.69,448.52 L392.21,448.64 L392.74,448.77 L393.26,448.88 L393.79,448.98 L394.31,449.06 L394.84,449.11 L395.37,449.14 L395.89,449.15 L396.42,449.12 L396.94,449.08 L397.47,449 L397.99,448.91 L398.52,448.8 L399.05,448.68 L399.57,448.56 L400.1,448.44 L400.62,448.33 L401.15,448.23 L401.67,448.16 L402.2,448.11 L402.72,448.1" stroke="#1dbac1" stroke-width="0.6" fill="none" stroke-opacity="0.9" stroke-linejoin="round"/>
<path d="M328.71,436.33 L329.22,434.19 L329.72,431.88 L330.22,429.43 L330.72,426.87 L331.22,424.22 L331.73,421.53 L332.23,418.82 L332.73,416.14 L333.23,413.54 L333.73,411.05 L334.24,408.71 L334.74,406.54 L335.24,404.58 L335.74,402.83 L336.25,401.3 L336.75,399.97 L337.25,398.83 L337.75,397.86 L338.25,397.02 L338.76,396.28 L339.26,395.62 L339.76,395 L340.26,394.42 L340.76,393.86 L341.27,393.34 L341.77,392.87 L342.27,392.46 L342.77,392.14 L343.28,391.95 L343.78,391.89 L344.28,392 L344.78,392.29 L345.28,392.76 L345.79,393.41 L346.29,394.23 L346.79,395.22 L347.29,396.35 L347.79,397.62 L348.3,398.99 L348.8,400.45 L349.3,401.99 L349.8,403.59 L350.3,405.23 L350.81,406.91 L351.31,408.62 L351.81,410.36 L352.31,412.12 L352.82,413.9 L353.32,415.71 L353.82,417.52 L354.32,419.35 L354.82,421.18 L355.33,423.02 L355.83,424.83 L356.33,426.63 L356.83,428.38 L357.33,430.08 L357.84,431.72 L358.34,433.28 L358.84,434.75 L359.34,436.13 L359.84,437.39 L360.35,438.55 L360.85,439.59 L361.35,440.52 L361.85,441.33 L362.36,442.04 L362.86,442.64 L363.36,443.14 L363.86,443.56 L364.36,443.9 L364.87,444.17 L365.37,444.4 L365.87,444.58 L366.37,444.74 L366.87,444.88 L367.38,445.01 L367.88,445.15 L368.38,445.29 L368.88,445.44 L369.39,445.62 L369.89,445.81 L370.39,446.01 L370.89,446.23 L371.39,446.47 L371.9,446.71 L372.4,446.96 L372.9,447.22 L373.4,447.46 L373.9,447.7 L374.41,447.93 L374.91,448.13 L375.41,448.32 L375.91,448.47 L376.41,448.6 L376.92,448.69 L377.42,448.75 L377.92,448.77 L378.42,448.76 L378.93,448.73 L379.43,448.67 L379.93,448.59 L380.43,448.5 L380.93,448.41 L381.44,448.32 L381.94,448.24 L382.44,448.17 L382.94,448.12 L383.44,448.1 L383.95,448.11 L384.45,448.15 L384.95,448.21 L385.45,448.29 L385.95,448.39 L386.46,448.5 L386.96,448.63 L387.46,448.75 L387.96,448.87 L388.47,448.98 L388.97,449.08 L389.47,449.16 L389.97,449.22 L390.47,449.27 L390.98,449.29 L391.48,449.3 L391.98,449.28 L392.48,449.24 L392.98,449.18 L393.49,449.11 L393.99,449.01 L394.49,448.91 L394.99,448.79 L395.49,448.67 L396,448.55 L396.5,448.43 L397,448.32 L397.5,448.24 L398.01,448.17 L398.51,448.13 L399.01,448.11" stroke="#1dbac1" stroke-width="0.6" fill="none" stroke-opacity="0.9" stroke-linejoin="round"/>
<path d="M328.65,433.19 L329.18,430.94 L329.71,428.56 L330.24,426.05 L330.77,423.39 L331.3,420.6 L331.82,417.67 L332.35,414.6 L332.88,411.39 L333.41,408.06 L333.94,404.62 L334.47,401.11 L335,397.57 L335.53,394.05 L336.06,390.61 L336.59,387.32 L337.12,384.25 L337.65,381.48 L338.18,379.09 L338.71,377.14 L339.24,375.69 L339.77,374.78 L340.3,374.44 L340.83,374.68 L341.36,375.46 L341.89,376.77 L342.42,378.53 L342.95,380.69 L343.48,383.17 L344.01,385.89 L344.54,388.77 L345.07,391.76 L345.6,394.8 L346.13,397.83 L346.66,400.82 L347.19,403.75 L347.72,406.61 L348.25,409.38 L348.78,412.05 L349.31,414.63 L349.84,417.1 L350.37,419.47 L350.89,421.73 L351.42,423.89 L351.95,425.93 L352.48,427.87 L353.01,429.69 L353.54,431.4 L354.07,433 L354.6,434.49 L355.13,435.86 L355.66,437.11 L356.19,438.24 L356.72,439.24 L357.25,440.11 L357.78,440.87 L358.31,441.5 L358.84,442.03 L359.37,442.46 L359.9,442.8 L360.43,443.09 L360.96,443.33 L361.49,443.54 L362.02,443.73 L362.55,443.92 L363.08,444.11 L363.61,444.31 L364.14,444.52 L364.67,444.73 L365.2,444.94 L365.73,445.16 L366.26,445.38 L366.79,445.59 L367.32,445.79 L367.85,446 L368.38,446.19 L368.91,446.39 L369.44,446.59 L369.96,446.79 L370.49,447 L371.02,447.21 L371.55,447.42 L372.08,447.64 L372.61,447.86 L373.14,448.08 L373.67,448.29 L374.2,448.48 L374.73,448.67 L375.26,448.83 L375.79,448.98 L376.32,449.11 L376.85,449.22 L377.38,449.31 L377.91,449.38 L378.44,449.44 L378.97,449.48 L379.5,449.5 L380.03,449.52 L380.56,449.52 L381.09,449.52 L381.62,449.5 L382.15,449.47 L382.68,449.43 L383.21,449.38 L383.74,449.31 L384.27,449.23 L384.8,449.13 L385.33,449.02 L385.86,448.9 L386.39,448.77 L386.92,448.64 L387.45,448.51 L387.98,448.39 L388.51,448.28 L389.03,448.2 L389.56,448.14 L390.09,448.11 L390.62,448.11 L391.15,448.15 L391.68,448.21 L392.21,448.29 L392.74,448.39 L393.27,448.5 L393.8,448.61 L394.33,448.72 L394.86,448.81 L395.39,448.88 L395.92,448.92 L396.45,448.94 L396.98,448.93 L397.51,448.9 L398.04,448.83 L398.57,448.75 L399.1,448.65 L399.63,448.54 L400.16,448.43 L400.69,448.33 L401.22,448.24 L401.75,448.17 L402.28,448.12 L402.81,448.11" stroke="#1dbac1" stroke-width="0.6" fill="none" stroke-opacity="0.9" stroke-linejoin="round"/>
<path d="M329.82,428.62 L330.32,425.9 L330.82,423.14 L331.32,420.37 L331.82,417.64 L332.32,414.99 L332.81,412.45 L333.31,410.06 L333.81,407.82 L334.31,405.77 L334.81,403.9 L335.31,402.21 L335.8,400.7 L336.3,399.38 L336.8,398.22 L337.3,397.23 L337.8,396.39 L338.3,395.71 L338.8,395.16 L339.29,394.76 L339.79,394.47 L340.29,394.3 L340.79,394.21 L341.29,394.19 L341.79,394.22 L342.28,394.27 L342.78,394.33 L343.28,394.37 L343.78,394.38 L344.28,394.37 L344.78,394.34 L345.28,394.32 L345.77,394.32 L346.27,394.37 L346.77,394.52 L347.27,394.81 L347.77,395.26 L348.27,395.92 L348.76,396.79 L349.26,397.9 L349.76,399.25 L350.26,400.83 L350.76,402.62 L351.26,404.6 L351.75,406.73 L352.25,408.98 L352.75,411.32 L353.25,413.7 L353.75,416.1 L354.25,418.48 L354.75,420.83 L355.24,423.12 L355.74,425.33 L356.24,427.46 L356.74,429.5 L357.24,431.43 L357.74,433.24 L358.23,434.93 L358.73,436.49 L359.23,437.92 L359.73,439.2 L360.23,440.34 L360.73,441.34 L361.23,442.19 L361.72,442.91 L362.22,443.51 L362.72,444 L363.22,444.4 L363.72,444.73 L364.22,445 L364.71,445.22 L365.21,445.42 L365.71,445.6 L366.21,445.77 L366.71,445.94 L367.21,446.11 L367.71,446.28 L368.2,446.45 L368.7,446.63 L369.2,446.81 L369.7,446.99 L370.2,447.18 L370.7,447.37 L371.19,447.56 L371.69,447.75 L372.19,447.94 L372.69,448.13 L373.19,448.32 L373.69,448.49 L374.19,448.66 L374.68,448.81 L375.18,448.95 L375.68,449.07 L376.18,449.18 L376.68,449.27 L377.18,449.34 L377.67,449.41 L378.17,449.46 L378.67,449.49 L379.17,449.52 L379.67,449.55 L380.17,449.56 L380.66,449.58 L381.16,449.58 L381.66,449.59 L382.16,449.59 L382.66,449.6 L383.16,449.6 L383.66,449.6 L384.15,449.6 L384.65,449.6 L385.15,449.6 L385.65,449.6 L386.15,449.6 L386.65,449.6 L387.14,449.6 L387.64,449.59 L388.14,449.59 L388.64,449.59 L389.14,449.58 L389.64,449.57 L390.14,449.55 L390.63,449.53 L391.13,449.51 L391.63,449.47 L392.13,449.43 L392.63,449.37 L393.13,449.3 L393.62,449.22 L394.12,449.13 L394.62,449.02 L395.12,448.91 L395.62,448.79 L396.12,448.66 L396.62,448.54 L397.11,448.42 L397.61,448.31 L398.11,448.22 L398.61,448.15 L399.11,448.11 L399.61,448.1" stroke="#1dbac1" stroke-width="0.6" fill="none" stroke-opacity="0.9" stroke-linejoin="round"/>
<path d="M329.32,431.14 L329.82,428.7 L330.33,426.13 L330.84,423.42 L331.34,420.59 L331.85,417.65 L332.36,414.59 L332.86,411.44 L333.37,408.22 L333.87,404.94 L334.38,401.64 L334.89,398.38 L335.39,395.2 L335.9,392.16 L336.4,389.33 L336.91,386.77 L337.42,384.56 L337.92,382.74 L338.43,381.37 L338.94,380.46 L339.44,380.02 L339.95,380.06 L340.45,380.52 L340.96,381.39 L341.47,382.58 L341.97,384.04 L342.48,385.7 L342.99,387.49 L343.49,389.35 L344,391.22 L344.5,393.06 L345.01,394.86 L345.52,396.59 L346.02,398.27 L346.53,399.91 L347.03,401.52 L347.54,403.15 L348.05,404.81 L348.55,406.53 L349.06,408.34 L349.57,410.24 L350.07,412.23 L350.58,414.3 L351.08,416.43 L351.59,418.57 L352.1,420.71 L352.6,422.78 L353.11,424.76 L353.62,426.62 L354.12,428.32 L354.63,429.84 L355.13,431.19 L355.64,432.38 L356.15,433.4 L356.65,434.29 L357.16,435.08 L357.66,435.78 L358.17,436.44 L358.68,437.07 L359.18,437.69 L359.69,438.32 L360.2,438.97 L360.7,439.64 L361.21,440.32 L361.71,441.02 L362.22,441.71 L362.73,442.39 L363.23,443.05 L363.74,443.67 L364.25,444.25 L364.75,444.77 L365.26,445.25 L365.76,445.66 L366.27,446.03 L366.78,446.34 L367.28,446.62 L367.79,446.86 L368.3,447.07 L368.8,447.27 L369.31,447.45 L369.81,447.63 L370.32,447.8 L370.83,447.98 L371.33,448.15 L371.84,448.32 L372.34,448.49 L372.85,448.65 L373.36,448.8 L373.86,448.93 L374.37,449.06 L374.88,449.17 L375.38,449.26 L375.89,449.34 L376.39,449.4 L376.9,449.45 L377.41,449.49 L377.91,449.52 L378.42,449.55 L378.93,449.56 L379.43,449.57 L379.94,449.58 L380.44,449.59 L380.95,449.59 L381.46,449.6 L381.96,449.6 L382.47,449.6 L382.97,449.6 L383.48,449.6 L383.99,449.6 L384.49,449.6 L385,449.6 L385.51,449.6 L386.01,449.6 L386.52,449.6 L387.02,449.6 L387.53,449.6 L388.04,449.59 L388.54,449.59 L389.05,449.59 L389.56,449.58 L390.06,449.57 L390.57,449.56 L391.07,449.54 L391.58,449.51 L392.09,449.48 L392.59,449.43 L393.1,449.38 L393.6,449.31 L394.11,449.23 L394.62,449.14 L395.12,449.03 L395.63,448.91 L396.14,448.79 L396.64,448.66 L397.15,448.53 L397.65,448.4 L398.16,448.29 L398.67,448.2 L399.17,448.13 L399.68,448.08 L400.19,448.07" stroke="#1dbac1" stroke-width="0.6" fill="none" stroke-opacity="0.9" stroke-linejoin="round"/>
<path d="M329.27,423.28 L329.78,420.05 L330.29,416.76 L330.8,413.48 L331.31,410.25 L331.82,407.13 L332.33,404.19 L332.84,401.47 L333.35,399.02 L333.86,396.9 L334.37,395.13 L334.88,393.74 L335.38,392.75 L335.89,392.16 L336.4,391.95 L336.91,392.12 L337.42,392.61 L337.93,393.4 L338.44,394.42 L338.95,395.62 L339.46,396.93 L339.97,398.28 L340.48,399.62 L340.99,400.87 L341.49,402 L342,402.95 L342.51,403.71 L343.02,404.27 L343.53,404.64 L344.04,404.83 L344.55,404.89 L345.06,404.88 L345.57,404.83 L346.08,404.81 L346.59,404.87 L347.1,405.06 L347.6,405.41 L348.11,405.95 L348.62,406.68 L349.13,407.6 L349.64,408.68 L350.15,409.9 L350.66,411.23 L351.17,412.63 L351.68,414.07 L352.19,415.53 L352.7,416.98 L353.2,418.42 L353.71,419.84 L354.22,421.25 L354.73,422.65 L355.24,424.06 L355.75,425.49 L356.26,426.94 L356.77,428.41 L357.28,429.91 L357.79,431.41 L358.3,432.91 L358.81,434.39 L359.31,435.83 L359.82,437.21 L360.33,438.52 L360.84,439.74 L361.35,440.86 L361.86,441.88 L362.37,442.79 L362.88,443.61 L363.39,444.33 L363.9,444.96 L364.41,445.51 L364.92,445.98 L365.42,446.38 L365.93,446.71 L366.44,446.98 L366.95,447.19 L367.46,447.36 L367.97,447.48 L368.48,447.58 L368.99,447.66 L369.5,447.72 L370.01,447.78 L370.52,447.84 L371.03,447.92 L371.53,448 L372.04,448.1 L372.55,448.21 L373.06,448.34 L373.57,448.47 L374.08,448.6 L374.59,448.74 L375.1,448.87 L375.61,448.99 L376.12,449.1 L376.63,449.19 L377.14,449.28 L377.64,449.34 L378.15,449.39 L378.66,449.43 L379.17,449.44 L379.68,449.45 L380.19,449.44 L380.7,449.41 L381.21,449.37 L381.72,449.31 L382.23,449.23 L382.74,449.15 L383.25,449.04 L383.75,448.93 L384.26,448.81 L384.77,448.68 L385.28,448.55 L385.79,448.43 L386.3,448.32 L386.81,448.22 L387.32,448.15 L387.83,448.11 L388.34,448.09 L388.85,448.1 L389.36,448.14 L389.86,448.21 L390.37,448.29 L390.88,448.39 L391.39,448.49 L391.9,448.6 L392.41,448.69 L392.92,448.77 L393.43,448.84 L393.94,448.88 L394.45,448.89 L394.96,448.88 L395.47,448.84 L395.97,448.77 L396.48,448.69 L396.99,448.6 L397.5,448.49 L398.01,448.39 L398.52,448.29 L399.03,448.21 L399.54,448.14 L400.05,448.1 L400.56,448.09" stroke="#1dbac1" stroke-width="0.6" fill="none" stroke-opacity="0.9" stroke-linejoin="round"/>
<path d="M329.56,434.73 L330.06,432.41 L330.56,429.9 L331.07,427.24 L331.57,424.45 L332.07,421.54 L332.58,418.57 L333.08,415.56 L333.58,412.56 L334.09,409.61 L334.59,406.75 L335.09,404.02 L335.6,401.44 L336.1,399.06 L336.6,396.89 L337.11,394.95 L337.61,393.25 L338.11,391.79 L338.62,390.58 L339.12,389.61 L339.62,388.88 L340.13,388.38 L340.63,388.11 L341.13,388.06 L341.64,388.22 L342.14,388.6 L342.64,389.17 L343.15,389.95 L343.65,390.9 L344.15,392.02 L344.66,393.29 L345.16,394.68 L345.66,396.18 L346.17,397.76 L346.67,399.38 L347.18,401.03 L347.68,402.67 L348.18,404.3 L348.69,405.9 L349.19,407.45 L349.69,408.95 L350.2,410.41 L350.7,411.83 L351.2,413.22 L351.71,414.58 L352.21,415.94 L352.71,417.28 L353.22,418.62 L353.72,419.96 L354.22,421.29 L354.73,422.6 L355.23,423.89 L355.73,425.15 L356.24,426.38 L356.74,427.57 L357.24,428.72 L357.75,429.83 L358.25,430.9 L358.75,431.94 L359.26,432.95 L359.76,433.94 L360.26,434.9 L360.77,435.84 L361.27,436.75 L361.77,437.64 L362.28,438.49 L362.78,439.32 L363.28,440.11 L363.79,440.87 L364.29,441.59 L364.79,442.28 L365.3,442.95 L365.8,443.58 L366.3,444.18 L366.81,444.76 L367.31,445.3 L367.81,445.82 L368.32,446.29 L368.82,446.71 L369.32,447.09 L369.83,447.41 L370.33,447.68 L370.84,447.89 L371.34,448.05 L371.84,448.15 L372.35,448.21 L372.85,448.23 L373.35,448.22 L373.86,448.18 L374.36,448.14 L374.86,448.1 L375.37,448.06 L375.87,448.03 L376.37,448.03 L376.88,448.04 L377.38,448.07 L377.88,448.11 L378.39,448.17 L378.89,448.23 L379.39,448.29 L379.9,448.35 L380.4,448.39 L380.9,448.42 L381.41,448.42 L381.91,448.41 L382.41,448.38 L382.92,448.33 L383.42,448.27 L383.92,448.21 L384.43,448.15 L384.93,448.1 L385.43,448.07 L385.94,448.06 L386.44,448.07 L386.94,448.1 L387.45,448.16 L387.95,448.24 L388.45,448.34 L388.96,448.45 L389.46,448.57 L389.96,448.69 L390.47,448.8 L390.97,448.9 L391.47,448.99 L391.98,449.05 L392.48,449.1 L392.98,449.12 L393.49,449.11 L393.99,449.08 L394.49,449.03 L395,448.96 L395.5,448.86 L396.01,448.76 L396.51,448.64 L397.01,448.53 L397.52,448.41 L398.02,448.31 L398.52,448.22 L399.03,448.15 L399.53,448.11 L400.03,448.1" stroke="#1dbac1" stroke-width="0.6" fill="none" stroke-opacity="0.9" stroke-linejoin="round"/>
<path d="M328.98,429.63 L329.48,427.28 L329.99,424.9 L330.5,422.53 L331,420.19 L331.51,417.9 L332.02,415.69 L332.53,413.57 L333.03,411.57 L333.54,409.69 L334.05,407.97 L334.55,406.4 L335.06,404.99 L335.57,403.76 L336.07,402.71 L336.58,401.83 L337.09,401.12 L337.59,400.57 L338.1,400.16 L338.61,399.89 L339.11,399.74 L339.62,399.68 L340.13,399.7 L340.63,399.79 L341.14,399.92 L341.65,400.1 L342.15,400.3 L342.66,400.51 L343.17,400.74 L343.68,400.97 L344.18,401.19 L344.69,401.41 L345.2,401.61 L345.7,401.81 L346.21,402.01 L346.72,402.2 L347.22,402.41 L347.73,402.64 L348.24,402.92 L348.74,403.28 L349.25,403.75 L349.76,404.35 L350.26,405.11 L350.77,406.06 L351.28,407.21 L351.78,408.57 L352.29,410.11 L352.8,411.82 L353.3,413.66 L353.81,415.57 L354.32,417.52 L354.82,419.43 L355.33,421.26 L355.84,422.97 L356.35,424.53 L356.85,425.91 L357.36,427.13 L357.87,428.17 L358.37,429.09 L358.88,429.9 L359.39,430.65 L359.89,431.38 L360.4,432.13 L360.91,432.92 L361.41,433.79 L361.92,434.75 L362.43,435.79 L362.93,436.91 L363.44,438.08 L363.95,439.29 L364.45,440.51 L364.96,441.71 L365.47,442.85 L365.97,443.92 L366.48,444.9 L366.99,445.78 L367.49,446.54 L368,447.2 L368.51,447.74 L369.02,448.19 L369.52,448.55 L370.03,448.83 L370.54,449.04 L371.04,449.21 L371.55,449.33 L372.06,449.41 L372.56,449.47 L373.07,449.52 L373.58,449.55 L374.08,449.57 L374.59,449.58 L375.1,449.58 L375.6,449.59 L376.11,449.59 L376.62,449.59 L377.12,449.58 L377.63,449.57 L378.14,449.56 L378.64,449.55 L379.15,449.52 L379.66,449.49 L380.17,449.45 L380.67,449.4 L381.18,449.34 L381.69,449.26 L382.19,449.17 L382.7,449.07 L383.21,448.96 L383.71,448.84 L384.22,448.71 L384.73,448.58 L385.23,448.46 L385.74,448.35 L386.25,448.25 L386.75,448.17 L387.26,448.12 L387.77,448.09 L388.27,448.1 L388.78,448.13 L389.29,448.18 L389.79,448.26 L390.3,448.35 L390.81,448.45 L391.31,448.55 L391.82,448.65 L392.33,448.73 L392.84,448.79 L393.34,448.84 L393.85,448.85 L394.36,448.84 L394.86,448.81 L395.37,448.75 L395.88,448.67 L396.38,448.58 L396.89,448.48 L397.4,448.38 L397.9,448.29 L398.41,448.2 L398.92,448.14 L399.42,448.1 L399.93,448.09" stroke="#1dbac1" stroke-width="0.6" fill="none" stroke-opacity="0.9" stroke-linejoin="round"/>
<path d="M329.24,425.59 L329.76,422.4 L330.29,419.15 L330.81,415.9 L331.33,412.7 L331.85,409.58 L332.38,406.59 L332.9,403.76 L333.42,401.11 L333.94,398.66 L334.47,396.42 L334.99,394.39 L335.51,392.56 L336.04,390.95 L336.56,389.54 L337.08,388.34 L337.6,387.34 L338.13,386.55 L338.65,385.96 L339.17,385.58 L339.69,385.4 L340.22,385.42 L340.74,385.63 L341.26,386.03 L341.78,386.59 L342.31,387.31 L342.83,388.18 L343.35,389.18 L343.88,390.31 L344.4,391.56 L344.92,392.95 L345.44,394.46 L345.97,396.11 L346.49,397.89 L347.01,399.81 L347.53,401.85 L348.06,403.99 L348.58,406.22 L349.1,408.49 L349.63,410.78 L350.15,413.06 L350.67,415.28 L351.19,417.44 L351.72,419.51 L352.24,421.49 L352.76,423.38 L353.28,425.19 L353.81,426.92 L354.33,428.58 L354.85,430.2 L355.38,431.76 L355.9,433.26 L356.42,434.72 L356.94,436.1 L357.47,437.41 L357.99,438.63 L358.51,439.74 L359.03,440.76 L359.56,441.66 L360.08,442.46 L360.6,443.16 L361.12,443.77 L361.65,444.31 L362.17,444.79 L362.69,445.22 L363.22,445.62 L363.74,445.99 L364.26,446.35 L364.78,446.7 L365.31,447.03 L365.83,447.35 L366.35,447.66 L366.87,447.95 L367.4,448.22 L367.92,448.46 L368.44,448.68 L368.97,448.86 L369.49,449.02 L370.01,449.16 L370.53,449.27 L371.06,449.35 L371.58,449.42 L372.1,449.47 L372.62,449.51 L373.15,449.54 L373.67,449.56 L374.19,449.57 L374.71,449.58 L375.24,449.59 L375.76,449.59 L376.28,449.6 L376.81,449.6 L377.33,449.6 L377.85,449.6 L378.37,449.6 L378.9,449.6 L379.42,449.6 L379.94,449.6 L380.46,449.6 L380.99,449.6 L381.51,449.6 L382.03,449.6 L382.56,449.6 L383.08,449.6 L383.6,449.6 L384.12,449.6 L384.65,449.6 L385.17,449.6 L385.69,449.6 L386.21,449.6 L386.74,449.6 L387.26,449.6 L387.78,449.6 L388.31,449.6 L388.83,449.6 L389.35,449.6 L389.87,449.6 L390.4,449.59 L390.92,449.59 L391.44,449.59 L391.96,449.58 L392.49,449.57 L393.01,449.55 L393.53,449.53 L394.05,449.5 L394.58,449.46 L395.1,449.41 L395.62,449.34 L396.15,449.27 L396.67,449.18 L397.19,449.07 L397.71,448.95 L398.24,448.83 L398.76,448.69 L399.28,448.56 L399.8,448.43 L400.33,448.32 L400.85,448.22 L401.37,448.15 L401.9,448.1 L402.42,448.08" stroke="#1dbac1" stroke-width="0.6" fill="none" stroke-opacity="0.9" stroke-linejoin="round"/>
<path d="M328.84,435.16 L329.33,433.15 L329.83,431.06 L330.32,428.92 L330.82,426.76 L331.31,424.62 L331.81,422.51 L332.3,420.47 L332.8,418.5 L333.29,416.63 L333.79,414.86 L334.28,413.19 L334.78,411.61 L335.27,410.13 L335.77,408.72 L336.26,407.37 L336.76,406.08 L337.25,404.83 L337.75,403.6 L338.24,402.4 L338.74,401.21 L339.23,400.03 L339.73,398.85 L340.22,397.69 L340.72,396.55 L341.21,395.44 L341.71,394.39 L342.2,393.41 L342.7,392.54 L343.19,391.81 L343.69,391.24 L344.18,390.85 L344.68,390.68 L345.17,390.74 L345.67,391.04 L346.16,391.58 L346.66,392.35 L347.15,393.36 L347.65,394.58 L348.14,395.99 L348.64,397.58 L349.13,399.32 L349.63,401.2 L350.12,403.18 L350.62,405.25 L351.11,407.39 L351.61,409.56 L352.1,411.74 L352.6,413.91 L353.09,416.03 L353.59,418.08 L354.08,420.03 L354.58,421.86 L355.07,423.56 L355.57,425.1 L356.06,426.49 L356.56,427.71 L357.05,428.78 L357.55,429.71 L358.04,430.52 L358.54,431.23 L359.03,431.86 L359.53,432.45 L360.02,433 L360.52,433.56 L361.01,434.14 L361.51,434.74 L362,435.39 L362.5,436.08 L362.99,436.8 L363.49,437.57 L363.98,438.36 L364.48,439.18 L364.97,440 L365.47,440.83 L365.96,441.65 L366.46,442.45 L366.95,443.23 L367.45,443.97 L367.94,444.68 L368.44,445.34 L368.93,445.96 L369.43,446.52 L369.92,447.03 L370.42,447.48 L370.91,447.88 L371.41,448.22 L371.9,448.51 L372.4,448.75 L372.89,448.95 L373.39,449.11 L373.88,449.24 L374.38,449.34 L374.87,449.41 L375.37,449.47 L375.86,449.51 L376.36,449.54 L376.85,449.56 L377.35,449.57 L377.84,449.58 L378.34,449.59 L378.83,449.59 L379.33,449.59 L379.82,449.59 L380.32,449.59 L380.81,449.59 L381.31,449.58 L381.8,449.57 L382.3,449.56 L382.79,449.54 L383.29,449.52 L383.78,449.49 L384.28,449.45 L384.77,449.4 L385.27,449.33 L385.76,449.26 L386.26,449.17 L386.75,449.07 L387.25,448.95 L387.74,448.83 L388.24,448.69 L388.73,448.56 L389.23,448.42 L389.72,448.28 L390.22,448.14 L390.71,448.02 L391.21,447.91 L391.7,447.81 L392.2,447.73 L392.69,447.67 L393.19,447.62 L393.68,447.58 L394.18,447.56 L394.67,447.54 L395.17,447.54 L395.66,447.55 L396.16,447.57 L396.65,447.6 L397.15,447.64 L397.64,447.7 L398.14,447.77" stroke="#1dbac1" stroke-width="0.6" fill="none" stroke-opacity="0.9" stroke-linejoin="round"/>
<path d="M329.09,434.37 L329.62,431.89 L330.14,429.23 L330.66,426.43 L331.18,423.52 L331.7,420.54 L332.22,417.56 L332.74,414.62 L333.26,411.77 L333.78,409.07 L334.3,406.56 L334.82,404.29 L335.34,402.27 L335.86,400.53 L336.39,399.06 L336.91,397.85 L337.43,396.9 L337.95,396.17 L338.47,395.64 L338.99,395.28 L339.51,395.08 L340.03,395 L340.55,395.05 L341.07,395.22 L341.59,395.52 L342.11,395.95 L342.64,396.54 L343.16,397.28 L343.68,398.2 L344.2,399.3 L344.72,400.56 L345.24,401.96 L345.76,403.48 L346.28,405.08 L346.8,406.71 L347.32,408.31 L347.84,409.83 L348.36,411.23 L348.88,412.46 L349.41,413.5 L349.93,414.33 L350.45,414.97 L350.97,415.43 L351.49,415.76 L352.01,416.01 L352.53,416.24 L353.05,416.5 L353.57,416.85 L354.09,417.33 L354.61,417.97 L355.13,418.8 L355.66,419.81 L356.18,420.98 L356.7,422.3 L357.22,423.72 L357.74,425.21 L358.26,426.73 L358.78,428.24 L359.3,429.7 L359.82,431.08 L360.34,432.35 L360.86,433.51 L361.38,434.53 L361.9,435.43 L362.43,436.2 L362.95,436.86 L363.47,437.42 L363.99,437.89 L364.51,438.31 L365.03,438.69 L365.55,439.06 L366.07,439.43 L366.59,439.83 L367.11,440.27 L367.63,440.76 L368.15,441.3 L368.68,441.89 L369.2,442.53 L369.72,443.19 L370.24,443.88 L370.76,444.56 L371.28,445.23 L371.8,445.88 L372.32,446.48 L372.84,447.02 L373.36,447.51 L373.88,447.93 L374.4,448.29 L374.92,448.59 L375.45,448.83 L375.97,449.02 L376.49,449.16 L377.01,449.27 L377.53,449.33 L378.05,449.37 L378.57,449.38 L379.09,449.37 L379.61,449.33 L380.13,449.28 L380.65,449.2 L381.17,449.11 L381.7,449.01 L382.22,448.89 L382.74,448.76 L383.26,448.63 L383.78,448.51 L384.3,448.39 L384.82,448.28 L385.34,448.2 L385.86,448.14 L386.38,448.11 L386.9,448.12 L387.42,448.15 L387.95,448.21 L388.47,448.3 L388.99,448.4 L389.51,448.52 L390.03,448.65 L390.55,448.77 L391.07,448.9 L391.59,449.01 L392.11,449.1 L392.63,449.18 L393.15,449.24 L393.67,449.28 L394.19,449.3 L394.72,449.29 L395.24,449.26 L395.76,449.21 L396.28,449.14 L396.8,449.05 L397.32,448.94 L397.84,448.83 L398.36,448.7 L398.88,448.57 L399.4,448.45 L399.92,448.34 L400.44,448.24 L400.97,448.17 L401.49,448.13 L402.01,448.11" stroke="#1dbac1" stroke-width="0.6" fill="none" stroke-opacity="0.9" stroke-linejoin="round"/>
<path d="M328.62,426.16 L329.13,423.06 L329.63,419.93 L330.13,416.83 L330.64,413.83 L331.14,410.99 L331.64,408.36 L332.14,405.98 L332.65,403.89 L333.15,402.08 L333.65,400.57 L334.16,399.33 L334.66,398.33 L335.16,397.54 L335.67,396.93 L336.17,396.43 L336.67,396.03 L337.17,395.69 L337.68,395.39 L338.18,395.12 L338.68,394.87 L339.19,394.67 L339.69,394.51 L340.19,394.43 L340.7,394.44 L341.2,394.57 L341.7,394.81 L342.21,395.19 L342.71,395.7 L343.21,396.33 L343.71,397.09 L344.22,397.95 L344.72,398.91 L345.22,399.95 L345.73,401.06 L346.23,402.23 L346.73,403.47 L347.24,404.76 L347.74,406.12 L348.24,407.53 L348.74,408.99 L349.25,410.5 L349.75,412.04 L350.25,413.61 L350.76,415.2 L351.26,416.78 L351.76,418.35 L352.27,419.89 L352.77,421.38 L353.27,422.83 L353.78,424.23 L354.28,425.57 L354.78,426.87 L355.28,428.12 L355.79,429.33 L356.29,430.51 L356.79,431.67 L357.3,432.8 L357.8,433.91 L358.3,435.01 L358.81,436.08 L359.31,437.12 L359.81,438.12 L360.31,439.08 L360.82,439.97 L361.32,440.79 L361.82,441.53 L362.33,442.19 L362.83,442.77 L363.33,443.26 L363.84,443.68 L364.34,444.03 L364.84,444.33 L365.35,444.58 L365.85,444.82 L366.35,445.03 L366.85,445.25 L367.36,445.48 L367.86,445.72 L368.36,445.98 L368.87,446.26 L369.37,446.56 L369.87,446.86 L370.38,447.18 L370.88,447.49 L371.38,447.79 L371.88,448.07 L372.39,448.33 L372.89,448.57 L373.39,448.77 L373.9,448.95 L374.4,449.09 L374.9,449.21 L375.41,449.3 L375.91,449.36 L376.41,449.41 L376.91,449.43 L377.42,449.43 L377.92,449.42 L378.42,449.39 L378.93,449.35 L379.43,449.28 L379.93,449.21 L380.44,449.12 L380.94,449.01 L381.44,448.9 L381.95,448.77 L382.45,448.65 L382.95,448.53 L383.45,448.41 L383.96,448.3 L384.46,448.22 L384.96,448.16 L385.47,448.12 L385.97,448.11 L386.47,448.13 L386.98,448.18 L387.48,448.25 L387.98,448.34 L388.48,448.44 L388.99,448.55 L389.49,448.66 L389.99,448.77 L390.5,448.86 L391,448.94 L391.5,449 L392.01,449.03 L392.51,449.04 L393.01,449.03 L393.52,448.99 L394.02,448.93 L394.52,448.84 L395.02,448.74 L395.53,448.64 L396.03,448.53 L396.53,448.42 L397.04,448.31 L397.54,448.23 L398.04,448.16 L398.55,448.12 L399.05,448.11" stroke="#1dbac1" stroke-width="0.6" fill="none" stroke-opacity="0.9" stroke-linejoin="round"/>
<path d="M328.67,437.03 L329.18,434.98 L329.7,432.73 L330.22,430.26 L330.74,427.59 L331.26,424.73 L331.78,421.72 L332.3,418.58 L332.82,415.37 L333.34,412.13 L333.86,408.93 L334.38,405.82 L334.9,402.87 L335.42,400.11 L335.94,397.6 L336.46,395.36 L336.98,393.41 L337.5,391.74 L338.02,390.36 L338.54,389.25 L339.06,388.39 L339.58,387.77 L340.1,387.38 L340.62,387.2 L341.14,387.23 L341.66,387.48 L342.18,387.96 L342.7,388.66 L343.22,389.6 L343.74,390.77 L344.25,392.18 L344.77,393.79 L345.29,395.59 L345.81,397.54 L346.33,399.61 L346.85,401.75 L347.37,403.91 L347.89,406.06 L348.41,408.15 L348.93,410.15 L349.45,412.04 L349.97,413.79 L350.49,415.4 L351.01,416.88 L351.53,418.21 L352.05,419.42 L352.57,420.52 L353.09,421.52 L353.61,422.45 L354.13,423.32 L354.65,424.14 L355.17,424.94 L355.69,425.72 L356.21,426.49 L356.73,427.27 L357.25,428.05 L357.77,428.85 L358.29,429.66 L358.8,430.5 L359.32,431.35 L359.84,432.24 L360.36,433.16 L360.88,434.11 L361.4,435.09 L361.92,436.09 L362.44,437.11 L362.96,438.14 L363.48,439.16 L364,440.16 L364.52,441.12 L365.04,442.04 L365.56,442.9 L366.08,443.69 L366.6,444.42 L367.12,445.07 L367.64,445.65 L368.16,446.17 L368.68,446.63 L369.2,447.04 L369.72,447.4 L370.24,447.72 L370.76,448.01 L371.28,448.26 L371.8,448.48 L372.32,448.68 L372.84,448.86 L373.35,449 L373.87,449.13 L374.39,449.24 L374.91,449.32 L375.43,449.39 L375.95,449.44 L376.47,449.48 L376.99,449.51 L377.51,449.53 L378.03,449.54 L378.55,449.54 L379.07,449.53 L379.59,449.51 L380.11,449.49 L380.63,449.45 L381.15,449.4 L381.67,449.33 L382.19,449.26 L382.71,449.17 L383.23,449.06 L383.75,448.95 L384.27,448.82 L384.79,448.69 L385.31,448.56 L385.83,448.44 L386.35,448.33 L386.87,448.23 L387.39,448.16 L387.9,448.12 L388.42,448.11 L388.94,448.13 L389.46,448.17 L389.98,448.25 L390.5,448.34 L391.02,448.44 L391.54,448.56 L392.06,448.67 L392.58,448.78 L393.1,448.87 L393.62,448.94 L394.14,449 L394.66,449.02 L395.18,449.02 L395.7,448.99 L396.22,448.94 L396.74,448.86 L397.26,448.77 L397.78,448.66 L398.3,448.54 L398.82,448.43 L399.34,448.33 L399.86,448.24 L400.38,448.17 L400.9,448.12 L401.42,448.11" stroke="#1dbac1" stroke-width="0.6" fill="none" stroke-opacity="0.9" stroke-linejoin="round"/>
<path d="M329.84,426.67 L330.36,424.22 L330.88,421.83 L331.4,419.52 L331.92,417.3 L332.44,415.19 L332.96,413.18 L333.48,411.26 L334,409.42 L334.52,407.65 L335.04,405.93 L335.55,404.24 L336.07,402.59 L336.59,400.98 L337.11,399.42 L337.63,397.92 L338.15,396.5 L338.67,395.18 L339.19,393.98 L339.71,392.93 L340.23,392.04 L340.75,391.34 L341.27,390.84 L341.78,390.55 L342.3,390.49 L342.82,390.66 L343.34,391.05 L343.86,391.66 L344.38,392.48 L344.9,393.49 L345.42,394.67 L345.94,396.01 L346.46,397.46 L346.98,399.02 L347.5,400.66 L348.01,402.36 L348.53,404.1 L349.05,405.86 L349.57,407.63 L350.09,409.4 L350.61,411.15 L351.13,412.87 L351.65,414.55 L352.17,416.19 L352.69,417.78 L353.21,419.31 L353.73,420.77 L354.24,422.18 L354.76,423.54 L355.28,424.84 L355.8,426.1 L356.32,427.33 L356.84,428.52 L357.36,429.7 L357.88,430.86 L358.4,431.99 L358.92,433.11 L359.44,434.21 L359.96,435.28 L360.48,436.31 L360.99,437.31 L361.51,438.25 L362.03,439.13 L362.55,439.96 L363.07,440.73 L363.59,441.44 L364.11,442.09 L364.63,442.7 L365.15,443.27 L365.67,443.81 L366.19,444.32 L366.71,444.81 L367.22,445.28 L367.74,445.74 L368.26,446.18 L368.78,446.61 L369.3,447.01 L369.82,447.39 L370.34,447.74 L370.86,448.06 L371.38,448.34 L371.9,448.59 L372.42,448.8 L372.94,448.98 L373.45,449.13 L373.97,449.25 L374.49,449.34 L375.01,449.41 L375.53,449.47 L376.05,449.51 L376.57,449.54 L377.09,449.56 L377.61,449.57 L378.13,449.58 L378.65,449.59 L379.17,449.59 L379.68,449.59 L380.2,449.59 L380.72,449.59 L381.24,449.59 L381.76,449.58 L382.28,449.57 L382.8,449.56 L383.32,449.55 L383.84,449.52 L384.36,449.49 L384.88,449.45 L385.4,449.4 L385.91,449.33 L386.43,449.25 L386.95,449.16 L387.47,449.05 L387.99,448.94 L388.51,448.81 L389.03,448.68 L389.55,448.55 L390.07,448.42 L390.59,448.31 L391.11,448.21 L391.63,448.14 L392.14,448.09 L392.66,448.06 L393.18,448.07 L393.7,448.09 L394.22,448.14 L394.74,448.2 L395.26,448.26 L395.78,448.33 L396.3,448.38 L396.82,448.42 L397.34,448.44 L397.86,448.44 L398.37,448.41 L398.89,448.37 L399.41,448.32 L399.93,448.25 L400.45,448.19 L400.97,448.13 L401.49,448.09 L402.01,448.06 L402.53,448.06" stroke="#1dbac1" stroke-width="0.6" fill="none" stroke-opacity="0.9" stroke-linejoin="round"/>
<path d="M328.94,426.24 L329.45,423.81 L329.95,421.43 L330.45,419.13 L330.95,416.93 L331.45,414.86 L331.95,412.91 L332.45,411.08 L332.95,409.36 L333.45,407.73 L333.95,406.18 L334.45,404.68 L334.95,403.24 L335.45,401.83 L335.95,400.45 L336.45,399.12 L336.95,397.83 L337.45,396.62 L337.95,395.51 L338.45,394.52 L338.95,393.69 L339.45,393.04 L339.95,392.6 L340.45,392.4 L340.95,392.46 L341.45,392.77 L341.95,393.34 L342.45,394.15 L342.95,395.17 L343.45,396.38 L343.95,397.72 L344.45,399.14 L344.95,400.59 L345.45,402.03 L345.95,403.4 L346.45,404.66 L346.95,405.8 L347.45,406.8 L347.95,407.67 L348.45,408.42 L348.95,409.09 L349.45,409.71 L349.95,410.33 L350.45,411.01 L350.95,411.78 L351.45,412.7 L351.95,413.78 L352.45,415.04 L352.95,416.49 L353.45,418.11 L353.95,419.87 L354.45,421.75 L354.95,423.7 L355.45,425.67 L355.95,427.63 L356.45,429.52 L356.95,431.31 L357.45,432.97 L357.95,434.47 L358.45,435.81 L358.95,436.97 L359.45,437.96 L359.95,438.78 L360.45,439.44 L360.95,439.97 L361.45,440.37 L361.95,440.69 L362.45,440.94 L362.95,441.15 L363.45,441.34 L363.95,441.54 L364.45,441.76 L364.95,442.03 L365.45,442.35 L365.95,442.73 L366.45,443.17 L366.95,443.65 L367.45,444.17 L367.95,444.72 L368.45,445.28 L368.95,445.83 L369.45,446.37 L369.95,446.88 L370.45,447.34 L370.95,447.76 L371.45,448.12 L371.95,448.44 L372.45,448.7 L372.95,448.92 L373.45,449.09 L373.95,449.23 L374.45,449.33 L374.95,449.41 L375.45,449.47 L375.95,449.51 L376.45,449.54 L376.95,449.56 L377.45,449.57 L377.95,449.58 L378.45,449.59 L378.95,449.59 L379.45,449.59 L379.95,449.59 L380.45,449.59 L380.95,449.59 L381.45,449.58 L381.95,449.58 L382.45,449.57 L382.95,449.55 L383.45,449.53 L383.95,449.5 L384.45,449.47 L384.95,449.42 L385.45,449.36 L385.96,449.29 L386.46,449.21 L386.96,449.11 L387.46,449.01 L387.96,448.89 L388.46,448.76 L388.96,448.62 L389.46,448.48 L389.96,448.35 L390.46,448.22 L390.96,448.1 L391.46,447.99 L391.96,447.9 L392.46,447.82 L392.96,447.76 L393.46,447.71 L393.96,447.68 L394.46,447.66 L394.96,447.65 L395.46,447.64 L395.96,447.64 L396.46,447.65 L396.96,447.66 L397.46,447.69 L397.96,447.72 L398.46,447.77 L398.96,447.83" stroke="#1dbac1" stroke-width="0.6" fill="none" stroke-opacity="0.9" stroke-linejoin="round"/>
<path d="M328.3,442.93 L328.77,442.1 L329.24,441.21 L329.7,440.24 L330.17,439.19 L330.64,438.08 L331.11,436.89 L331.58,435.64 L332.04,434.33 L332.51,432.95 L332.98,431.53 L333.45,430.06 L333.92,428.56 L334.38,427.03 L334.85,425.5 L335.32,423.96 L335.79,422.43 L336.26,420.93 L336.72,419.47 L337.19,418.07 L337.66,416.73 L338.13,415.48 L338.6,414.31 L339.06,413.26 L339.53,412.31 L340,411.5 L340.47,410.81 L340.94,410.26 L341.4,409.86 L341.87,409.59 L342.34,409.46 L342.81,409.44 L343.28,409.52 L343.74,409.7 L344.21,409.98 L344.68,410.33 L345.15,410.76 L345.62,411.26 L346.08,411.8 L346.55,412.38 L347.02,412.99 L347.49,413.62 L347.96,414.25 L348.42,414.87 L348.89,415.47 L349.36,416.03 L349.83,416.56 L350.3,417.05 L350.76,417.48 L351.23,417.85 L351.7,418.16 L352.17,418.4 L352.64,418.59 L353.1,418.71 L353.57,418.78 L354.04,418.79 L354.51,418.76 L354.98,418.7 L355.44,418.6 L355.91,418.49 L356.38,418.37 L356.85,418.25 L357.32,418.15 L357.78,418.08 L358.25,418.04 L358.72,418.04 L359.19,418.1 L359.66,418.23 L360.12,418.42 L360.59,418.69 L361.06,419.04 L361.53,419.47 L362,419.99 L362.46,420.59 L362.93,421.26 L363.4,422.02 L363.87,422.85 L364.34,423.74 L364.8,424.69 L365.27,425.7 L365.74,426.74 L366.21,427.83 L366.68,428.94 L367.14,430.06 L367.61,431.19 L368.08,432.32 L368.55,433.44 L369.02,434.54 L369.48,435.61 L369.95,436.66 L370.42,437.66 L370.89,438.62 L371.36,439.53 L371.82,440.4 L372.29,441.21 L372.76,441.96 L373.23,442.66 L373.7,443.31 L374.16,443.9 L374.63,444.44 L375.1,444.92 L375.57,445.36 L376.04,445.75 L376.5,446.09 L376.97,446.39 L377.44,446.65 L377.91,446.88 L378.38,447.07 L378.84,447.23 L379.31,447.36 L379.78,447.47 L380.25,447.56 L380.72,447.63 L381.18,447.68 L381.65,447.72 L382.12,447.74 L382.59,447.75 L383.06,447.76 L383.52,447.75 L383.99,447.74 L384.46,447.72 L384.93,447.7 L385.4,447.68 L385.86,447.65 L386.33,447.63 L386.8,447.6 L387.27,447.57 L387.74,447.54 L388.2,447.52 L388.67,447.49 L389.14,447.47 L389.61,447.45 L390.08,447.43 L390.54,447.41 L391.01,447.4 L391.48,447.39 L391.95,447.38 L392.42,447.37 L392.88,447.37 L393.35,447.37 L393.82,447.37 L394.29,447.38 L394.76,447.39 L395.22,447.4 L395.69,447.42 L396.16,447.44 L396.63,447.46 L397.1,447.48 L397.56,447.51 L398.03,447.54 L398.5,447.57 L398.97,447.61 L399.44,447.64 L399.9,447.68 L400.37,447.72 L400.84,447.76 L401.31,447.8 L401.78,447.85 L402.24,447.89 L402.71,447.94 L403.18,447.99" stroke="#f08a85" stroke-width="0.85" fill="none" stroke-linejoin="round"/>
<rect x="418" y="337.3" width="82.5" height="117.2" fill="none" stroke="#8c8c8c" stroke-width="0.9"/>
<line x1="415.4" y1="362.1" x2="418" y2="362.1" stroke="#555" stroke-width="0.8"/>
<line x1="415.4" y1="391.2" x2="418" y2="391.2" stroke="#555" stroke-width="0.8"/>
<line x1="415.4" y1="420.4" x2="418" y2="420.4" stroke="#555" stroke-width="0.8"/>
<line x1="415.4" y1="449.6" x2="418" y2="449.6" stroke="#555" stroke-width="0.8"/>
<line x1="421.3" y1="454.5" x2="421.3" y2="457.1" stroke="#555" stroke-width="0.8"/>
<text stroke="#1a1a1a" stroke-width="0.18" x="421.3" y="465.2" font-size="8.6" fill="#1a1a1a" text-anchor="middle">0</text>
<line x1="449.1" y1="454.5" x2="449.1" y2="457.1" stroke="#555" stroke-width="0.8"/>
<text stroke="#1a1a1a" stroke-width="0.18" x="449.1" y="465.2" font-size="8.6" fill="#1a1a1a" text-anchor="middle">2</text>
<line x1="476.9" y1="454.5" x2="476.9" y2="457.1" stroke="#555" stroke-width="0.8"/>
<text stroke="#1a1a1a" stroke-width="0.18" x="476.9" y="465.2" font-size="8.6" fill="#1a1a1a" text-anchor="middle">4</text>
<text stroke="#1a1a1a" stroke-width="0.25" x="419.9" y="346.8" font-size="8.4" fill="#1a1a1a">GN</text>
<line x1="439.37" y1="337.9" x2="439.37" y2="453.9" stroke="#d5403c" stroke-width="0.9" stroke-dasharray="1.8 1.4"/>
<path d="M421.59,411 L422.12,403.02 L422.66,394.99 L423.19,387.29 L423.72,380.31 L424.26,374.38 L424.79,369.8 L425.32,366.75 L425.86,365.34 L426.39,365.53 L426.93,367.16 L427.46,369.96 L427.99,373.53 L428.53,377.45 L429.06,381.28 L429.6,384.67 L430.13,387.36 L430.66,389.26 L431.2,390.43 L431.73,391.11 L432.27,391.6 L432.8,392.25 L433.33,393.35 L433.87,395.08 L434.4,397.46 L434.93,400.36 L435.47,403.54 L436,406.7 L436.54,409.57 L437.07,411.97 L437.6,413.84 L438.14,415.23 L438.67,416.28 L439.21,417.2 L439.74,418.14 L440.27,419.24 L440.81,420.55 L441.34,422.07 L441.87,423.73 L442.41,425.45 L442.94,427.16 L443.48,428.8 L444.01,430.36 L444.54,431.83 L445.08,433.26 L445.61,434.67 L446.15,436.07 L446.68,437.48 L447.21,438.87 L447.75,440.19 L448.28,441.41 L448.81,442.48 L449.35,443.4 L449.88,444.16 L450.42,444.79 L450.95,445.33 L451.48,445.81 L452.02,446.27 L452.55,446.71 L453.09,447.16 L453.62,447.6 L454.15,448.02 L454.69,448.39 L455.22,448.72 L455.76,448.98 L456.29,449.19 L456.82,449.34 L457.36,449.44 L457.89,449.51 L458.42,449.55 L458.96,449.57 L459.49,449.59 L460.03,449.59 L460.56,449.6 L461.09,449.6 L461.63,449.6 L462.16,449.6 L462.7,449.6 L463.23,449.6 L463.76,449.6 L464.3,449.6 L464.83,449.6 L465.36,449.6 L465.9,449.6 L466.43,449.6 L466.97,449.6 L467.5,449.6 L468.03,449.59 L468.57,449.58 L469.1,449.57 L469.64,449.54 L470.17,449.5 L470.7,449.43 L471.24,449.33 L471.77,449.18 L472.3,449 L472.84,448.78 L473.37,448.53 L473.91,448.28 L474.44,448.04 L474.97,447.86 L475.51,447.76 L476.04,447.74 L476.58,447.82 L477.11,447.98 L477.64,448.2 L478.18,448.45 L478.71,448.7 L479.25,448.93 L479.78,449.13 L480.31,449.28 L480.85,449.4 L481.38,449.48 L481.91,449.53 L482.45,449.56 L482.98,449.58 L483.52,449.59 L484.05,449.6 L484.58,449.6 L485.12,449.6 L485.65,449.6 L486.19,449.6 L486.72,449.6 L487.25,449.6 L487.79,449.6 L488.32,449.59 L488.85,449.59 L489.39,449.58 L489.92,449.55 L490.46,449.51 L490.99,449.45 L491.52,449.36 L492.06,449.24 L492.59,449.07 L493.13,448.86 L493.66,448.61 L494.19,448.36 L494.73,448.12 L495.26,447.92 L495.79,447.78 L496.33,447.73" stroke="#1dbac1" stroke-width="0.6" fill="none" stroke-opacity="0.9" stroke-linejoin="round"/>
<path d="M421.65,412.2 L422.18,404.84 L422.71,397.54 L423.23,390.66 L423.76,384.56 L424.29,379.51 L424.82,375.69 L425.34,373.15 L425.87,371.83 L426.4,371.53 L426.93,371.97 L427.45,372.84 L427.98,373.86 L428.51,374.8 L429.04,375.54 L429.56,376.06 L430.09,376.43 L430.62,376.83 L431.15,377.43 L431.67,378.42 L432.2,379.91 L432.73,381.98 L433.26,384.59 L433.78,387.68 L434.31,391.11 L434.84,394.76 L435.36,398.5 L435.89,402.24 L436.42,405.89 L436.95,409.39 L437.47,412.7 L438,415.75 L438.53,418.48 L439.06,420.81 L439.58,422.68 L440.11,424.05 L440.64,424.95 L441.17,425.45 L441.69,425.69 L442.22,425.87 L442.75,426.21 L443.28,426.88 L443.8,428.02 L444.33,429.66 L444.86,431.73 L445.39,434.1 L445.91,436.57 L446.44,438.96 L446.97,441.1 L447.49,442.9 L448.02,444.32 L448.55,445.38 L449.08,446.16 L449.6,446.72 L450.13,447.15 L450.66,447.51 L451.19,447.82 L451.71,448.09 L452.24,448.33 L452.77,448.51 L453.3,448.61 L453.82,448.63 L454.35,448.57 L454.88,448.44 L455.41,448.26 L455.93,448.07 L456.46,447.89 L456.99,447.77 L457.52,447.73 L458.04,447.77 L458.57,447.9 L459.1,448.09 L459.62,448.33 L460.15,448.58 L460.68,448.82 L461.21,449.03 L461.73,449.21 L462.26,449.34 L462.79,449.44 L463.32,449.5 L463.84,449.55 L464.37,449.57 L464.9,449.58 L465.43,449.59 L465.95,449.6 L466.48,449.6 L467.01,449.6 L467.54,449.6 L468.06,449.6 L468.59,449.6 L469.12,449.6 L469.64,449.6 L470.17,449.6 L470.7,449.6 L471.23,449.6 L471.75,449.6 L472.28,449.6 L472.81,449.6 L473.34,449.6 L473.86,449.6 L474.39,449.6 L474.92,449.6 L475.45,449.6 L475.97,449.6 L476.5,449.6 L477.03,449.6 L477.56,449.6 L478.08,449.6 L478.61,449.6 L479.14,449.6 L479.67,449.6 L480.19,449.6 L480.72,449.6 L481.25,449.6 L481.77,449.6 L482.3,449.6 L482.83,449.6 L483.36,449.6 L483.88,449.6 L484.41,449.6 L484.94,449.6 L485.47,449.6 L485.99,449.6 L486.52,449.6 L487.05,449.6 L487.58,449.59 L488.1,449.59 L488.63,449.57 L489.16,449.55 L489.69,449.51 L490.21,449.45 L490.74,449.35 L491.27,449.22 L491.8,449.05 L492.32,448.84 L492.85,448.6 L493.38,448.35 L493.9,448.11 L494.43,447.91 L494.96,447.78 L495.49,447.73" stroke="#1dbac1" stroke-width="0.6" fill="none" stroke-opacity="0.9" stroke-linejoin="round"/>
<path d="M421.65,422.62 L422.16,417.27 L422.67,411.84 L423.18,406.57 L423.7,401.7 L424.21,397.45 L424.72,393.99 L425.23,391.42 L425.74,389.74 L426.26,388.82 L426.77,388.47 L427.28,388.45 L427.79,388.47 L428.3,388.31 L428.82,387.79 L429.33,386.85 L429.84,385.51 L430.35,383.91 L430.86,382.24 L431.37,380.74 L431.89,379.61 L432.4,379.06 L432.91,379.19 L433.42,380.05 L433.93,381.62 L434.45,383.78 L434.96,386.39 L435.47,389.25 L435.98,392.16 L436.49,394.92 L437.01,397.36 L437.52,399.39 L438.03,400.97 L438.54,402.16 L439.05,403.07 L439.57,403.88 L440.08,404.81 L440.59,406.05 L441.1,407.75 L441.61,409.98 L442.12,412.72 L442.64,415.88 L443.15,419.29 L443.66,422.78 L444.17,426.17 L444.68,429.31 L445.2,432.11 L445.71,434.52 L446.22,436.54 L446.73,438.2 L447.24,439.56 L447.76,440.68 L448.27,441.63 L448.78,442.44 L449.29,443.17 L449.8,443.82 L450.32,444.42 L450.83,444.97 L451.34,445.48 L451.85,445.95 L452.36,446.39 L452.87,446.81 L453.39,447.22 L453.9,447.6 L454.41,447.97 L454.92,448.32 L455.43,448.62 L455.95,448.88 L456.46,449.09 L456.97,449.26 L457.48,449.38 L457.99,449.46 L458.51,449.52 L459.02,449.55 L459.53,449.58 L460.04,449.59 L460.55,449.59 L461.07,449.6 L461.58,449.6 L462.09,449.6 L462.6,449.6 L463.11,449.6 L463.63,449.6 L464.14,449.6 L464.65,449.6 L465.16,449.6 L465.67,449.6 L466.18,449.6 L466.7,449.6 L467.21,449.6 L467.72,449.6 L468.23,449.6 L468.74,449.6 L469.26,449.6 L469.77,449.6 L470.28,449.6 L470.79,449.6 L471.3,449.6 L471.82,449.6 L472.33,449.6 L472.84,449.6 L473.35,449.6 L473.86,449.6 L474.38,449.6 L474.89,449.6 L475.4,449.6 L475.91,449.6 L476.42,449.6 L476.93,449.6 L477.45,449.6 L477.96,449.6 L478.47,449.6 L478.98,449.6 L479.49,449.6 L480.01,449.6 L480.52,449.6 L481.03,449.6 L481.54,449.6 L482.05,449.6 L482.57,449.6 L483.08,449.6 L483.59,449.6 L484.1,449.6 L484.61,449.6 L485.13,449.6 L485.64,449.59 L486.15,449.58 L486.66,449.56 L487.17,449.54 L487.68,449.49 L488.2,449.42 L488.71,449.32 L489.22,449.18 L489.73,449.01 L490.24,448.8 L490.76,448.56 L491.27,448.32 L491.78,448.09 L492.29,447.9 L492.8,447.78 L493.32,447.73" stroke="#1dbac1" stroke-width="0.6" fill="none" stroke-opacity="0.9" stroke-linejoin="round"/>
<path d="M421.96,415.55 L422.49,408.83 L423.03,402.08 L423.57,395.59 L424.1,389.66 L424.64,384.56 L425.17,380.53 L425.71,377.7 L426.25,376.12 L426.78,375.73 L427.32,376.35 L427.86,377.73 L428.39,379.58 L428.93,381.62 L429.46,383.58 L430,385.25 L430.54,386.52 L431.07,387.34 L431.61,387.75 L432.15,387.86 L432.68,387.84 L433.22,387.84 L433.75,388.03 L434.29,388.49 L434.83,389.29 L435.36,390.41 L435.9,391.82 L436.43,393.51 L436.97,395.47 L437.51,397.74 L438.04,400.39 L438.58,403.45 L439.12,406.92 L439.65,410.74 L440.19,414.77 L440.72,418.8 L441.26,422.63 L441.8,426.07 L442.33,429 L442.87,431.38 L443.41,433.23 L443.94,434.64 L444.48,435.73 L445.01,436.6 L445.55,437.35 L446.09,438.03 L446.62,438.65 L447.16,439.22 L447.69,439.72 L448.23,440.15 L448.77,440.55 L449.3,440.95 L449.84,441.38 L450.38,441.87 L450.91,442.44 L451.45,443.08 L451.98,443.77 L452.52,444.48 L453.06,445.18 L453.59,445.85 L454.13,446.47 L454.66,447.04 L455.2,447.56 L455.74,448.02 L456.27,448.41 L456.81,448.74 L457.35,449 L457.88,449.2 L458.42,449.35 L458.95,449.44 L459.49,449.51 L460.03,449.55 L460.56,449.57 L461.1,449.59 L461.64,449.59 L462.17,449.6 L462.71,449.6 L463.24,449.6 L463.78,449.6 L464.32,449.6 L464.85,449.6 L465.39,449.6 L465.92,449.59 L466.46,449.59 L467,449.57 L467.53,449.55 L468.07,449.51 L468.61,449.45 L469.14,449.35 L469.68,449.22 L470.21,449.04 L470.75,448.83 L471.29,448.58 L471.82,448.33 L472.36,448.09 L472.9,447.9 L473.43,447.78 L473.97,447.75 L474.5,447.81 L475.04,447.96 L475.58,448.17 L476.11,448.42 L476.65,448.67 L477.18,448.91 L477.72,449.11 L478.26,449.27 L478.79,449.39 L479.33,449.47 L479.87,449.53 L480.4,449.56 L480.94,449.58 L481.47,449.59 L482.01,449.6 L482.55,449.6 L483.08,449.6 L483.62,449.6 L484.16,449.6 L484.69,449.6 L485.23,449.6 L485.76,449.6 L486.3,449.6 L486.84,449.6 L487.37,449.6 L487.91,449.6 L488.44,449.6 L488.98,449.59 L489.52,449.59 L490.05,449.58 L490.59,449.55 L491.13,449.52 L491.66,449.46 L492.2,449.37 L492.73,449.24 L493.27,449.08 L493.81,448.87 L494.34,448.63 L494.88,448.37 L495.42,448.13 L495.95,447.93 L496.49,447.8 L497.02,447.75" stroke="#1dbac1" stroke-width="0.6" fill="none" stroke-opacity="0.9" stroke-linejoin="round"/>
<path d="M421.79,416.72 L422.32,410.01 L422.85,403.04 L423.38,396.01 L423.91,389.08 L424.44,382.43 L424.97,376.22 L425.5,370.61 L426.03,365.73 L426.56,361.73 L427.09,358.72 L427.62,356.83 L428.15,356.18 L428.68,356.87 L429.21,358.94 L429.74,362.38 L430.27,367.08 L430.8,372.82 L431.33,379.24 L431.86,385.94 L432.39,392.46 L432.92,398.36 L433.45,403.3 L433.98,407.08 L434.51,409.65 L435.04,411.12 L435.57,411.7 L436.1,411.69 L436.63,411.42 L437.16,411.17 L437.69,411.14 L438.22,411.46 L438.75,412.2 L439.28,413.34 L439.81,414.83 L440.34,416.62 L440.87,418.62 L441.4,420.79 L441.93,423.05 L442.46,425.34 L442.99,427.58 L443.52,429.73 L444.05,431.72 L444.58,433.51 L445.11,435.08 L445.64,436.46 L446.17,437.66 L446.7,438.75 L447.23,439.78 L447.76,440.8 L448.3,441.85 L448.83,442.94 L449.36,444.04 L449.89,445.11 L450.42,446.12 L450.95,447 L451.48,447.75 L452.01,448.34 L452.54,448.77 L453.07,449.08 L453.6,449.28 L454.13,449.39 L454.66,449.44 L455.19,449.44 L455.72,449.39 L456.25,449.29 L456.78,449.15 L457.31,448.96 L457.84,448.73 L458.37,448.49 L458.9,448.24 L459.43,448.01 L459.96,447.84 L460.49,447.75 L461.02,447.74 L461.55,447.83 L462.08,448 L462.61,448.22 L463.14,448.47 L463.67,448.72 L464.2,448.95 L464.73,449.14 L465.26,449.29 L465.79,449.4 L466.32,449.48 L466.85,449.53 L467.38,449.56 L467.91,449.58 L468.44,449.59 L468.97,449.6 L469.5,449.6 L470.03,449.6 L470.56,449.6 L471.09,449.6 L471.62,449.6 L472.15,449.6 L472.68,449.6 L473.21,449.6 L473.74,449.6 L474.27,449.6 L474.8,449.6 L475.33,449.6 L475.86,449.6 L476.4,449.6 L476.93,449.6 L477.46,449.6 L477.99,449.6 L478.52,449.6 L479.05,449.6 L479.58,449.6 L480.11,449.6 L480.64,449.6 L481.17,449.6 L481.7,449.6 L482.23,449.6 L482.76,449.6 L483.29,449.6 L483.82,449.6 L484.35,449.6 L484.88,449.6 L485.41,449.6 L485.94,449.6 L486.47,449.6 L487,449.6 L487.53,449.6 L488.06,449.59 L488.59,449.59 L489.12,449.57 L489.65,449.55 L490.18,449.51 L490.71,449.45 L491.24,449.36 L491.77,449.23 L492.3,449.06 L492.83,448.85 L493.36,448.61 L493.89,448.35 L494.42,448.11 L494.95,447.91 L495.48,447.78 L496.01,447.73" stroke="#1dbac1" stroke-width="0.6" fill="none" stroke-opacity="0.9" stroke-linejoin="round"/>
<path d="M421.65,409.29 L422.18,402.11 L422.7,395.15 L423.23,388.68 L423.75,382.92 L424.28,378.03 L424.8,374.08 L425.32,371.06 L425.85,368.93 L426.37,367.6 L426.9,366.98 L427.42,367.02 L427.95,367.66 L428.47,368.85 L428.99,370.58 L429.52,372.8 L430.04,375.45 L430.57,378.41 L431.09,381.57 L431.61,384.78 L432.14,387.93 L432.66,390.9 L433.19,393.65 L433.71,396.16 L434.24,398.48 L434.76,400.69 L435.28,402.88 L435.81,405.15 L436.33,407.57 L436.86,410.18 L437.38,412.97 L437.91,415.86 L438.43,418.76 L438.95,421.56 L439.48,424.18 L440,426.56 L440.53,428.69 L441.05,430.57 L441.57,432.26 L442.1,433.77 L442.62,435.13 L443.15,436.32 L443.67,437.33 L444.2,438.15 L444.72,438.78 L445.24,439.25 L445.77,439.63 L446.29,439.99 L446.82,440.43 L447.34,440.99 L447.87,441.71 L448.39,442.56 L448.91,443.48 L449.44,444.39 L449.96,445.19 L450.49,445.79 L451.01,446.14 L451.53,446.23 L452.06,446.07 L452.58,445.71 L453.11,445.23 L453.63,444.72 L454.16,444.26 L454.68,443.92 L455.2,443.73 L455.73,443.72 L456.25,443.88 L456.78,444.19 L457.3,444.6 L457.83,445.1 L458.35,445.63 L458.87,446.19 L459.4,446.73 L459.92,447.26 L460.45,447.73 L460.97,448.15 L461.49,448.5 L462.02,448.77 L462.54,448.95 L463.07,449.05 L463.59,449.06 L464.12,448.98 L464.64,448.84 L465.16,448.65 L465.69,448.42 L466.21,448.19 L466.74,447.99 L467.26,447.84 L467.78,447.77 L468.31,447.78 L468.83,447.88 L469.36,448.06 L469.88,448.28 L470.41,448.52 L470.93,448.77 L471.45,448.98 L471.98,449.17 L472.5,449.31 L473.03,449.42 L473.55,449.49 L474.08,449.54 L474.6,449.56 L475.12,449.58 L475.65,449.59 L476.17,449.6 L476.7,449.6 L477.22,449.6 L477.74,449.6 L478.27,449.6 L478.79,449.6 L479.32,449.6 L479.84,449.6 L480.37,449.6 L480.89,449.6 L481.41,449.6 L481.94,449.6 L482.46,449.6 L482.99,449.6 L483.51,449.6 L484.04,449.6 L484.56,449.6 L485.08,449.6 L485.61,449.6 L486.13,449.6 L486.66,449.6 L487.18,449.59 L487.7,449.59 L488.23,449.57 L488.75,449.55 L489.28,449.51 L489.8,449.44 L490.33,449.35 L490.85,449.22 L491.37,449.05 L491.9,448.84 L492.42,448.61 L492.95,448.36 L493.47,448.13 L494,447.94 L494.52,447.81 L495.04,447.76" stroke="#1dbac1" stroke-width="0.6" fill="none" stroke-opacity="0.9" stroke-linejoin="round"/>
<path d="M421.8,415.72 L422.32,409.5 L422.84,403.37 L423.36,397.51 L423.88,392.07 L424.41,387.11 L424.93,382.68 L425.45,378.78 L425.97,375.42 L426.49,372.62 L427.01,370.41 L427.53,368.83 L428.05,367.93 L428.57,367.73 L429.09,368.22 L429.61,369.37 L430.13,371.11 L430.65,373.35 L431.17,376.01 L431.69,378.97 L432.21,382.12 L432.73,385.36 L433.25,388.57 L433.77,391.69 L434.29,394.62 L434.81,397.34 L435.33,399.83 L435.85,402.09 L436.37,404.14 L436.89,405.98 L437.41,407.65 L437.93,409.15 L438.45,410.54 L438.97,411.84 L439.49,413.13 L440.01,414.49 L440.53,416 L441.05,417.74 L441.57,419.74 L442.09,422.03 L442.61,424.58 L443.14,427.32 L443.66,430.17 L444.18,433.03 L444.7,435.8 L445.22,438.39 L445.74,440.73 L446.26,442.78 L446.78,444.49 L447.3,445.88 L447.82,446.96 L448.34,447.75 L448.86,448.29 L449.38,448.61 L449.9,448.75 L450.42,448.76 L450.94,448.66 L451.46,448.48 L451.98,448.27 L452.5,448.05 L453.02,447.86 L453.54,447.71 L454.06,447.62 L454.58,447.6 L455.1,447.61 L455.62,447.65 L456.14,447.69 L456.66,447.71 L457.18,447.69 L457.7,447.66 L458.22,447.62 L458.74,447.6 L459.26,447.62 L459.78,447.69 L460.3,447.83 L460.82,448.03 L461.34,448.26 L461.87,448.51 L462.39,448.76 L462.91,448.98 L463.43,449.16 L463.95,449.3 L464.47,449.41 L464.99,449.48 L465.51,449.53 L466.03,449.56 L466.55,449.58 L467.07,449.59 L467.59,449.6 L468.11,449.6 L468.63,449.6 L469.15,449.6 L469.67,449.6 L470.19,449.6 L470.71,449.6 L471.23,449.6 L471.75,449.6 L472.27,449.6 L472.79,449.6 L473.31,449.59 L473.83,449.59 L474.35,449.58 L474.87,449.56 L475.39,449.53 L475.91,449.48 L476.43,449.4 L476.95,449.29 L477.47,449.14 L477.99,448.95 L478.51,448.73 L479.03,448.48 L479.55,448.24 L480.07,448.03 L480.6,447.87 L481.12,447.78 L481.64,447.77 L482.16,447.86 L482.68,448.02 L483.2,448.23 L483.72,448.47 L484.24,448.71 L484.76,448.93 L485.28,449.12 L485.8,449.28 L486.32,449.39 L486.84,449.46 L487.36,449.51 L487.88,449.53 L488.4,449.52 L488.92,449.49 L489.44,449.43 L489.96,449.34 L490.48,449.21 L491,449.04 L491.52,448.83 L492.04,448.6 L492.56,448.35 L493.08,448.12 L493.6,447.93 L494.12,447.81 L494.64,447.76" stroke="#1dbac1" stroke-width="0.6" fill="none" stroke-opacity="0.9" stroke-linejoin="round"/>
<path d="M421.65,411.93 L422.16,405.31 L422.67,398.85 L423.18,392.79 L423.69,387.34 L424.21,382.64 L424.72,378.76 L425.23,375.72 L425.74,373.49 L426.26,372.02 L426.77,371.22 L427.28,371.05 L427.79,371.41 L428.3,372.26 L428.82,373.5 L429.33,375.05 L429.84,376.8 L430.35,378.65 L430.87,380.47 L431.38,382.21 L431.89,383.82 L432.4,385.32 L432.92,386.76 L433.43,388.23 L433.94,389.83 L434.45,391.62 L434.96,393.68 L435.48,396.02 L435.99,398.66 L436.5,401.59 L437.01,404.75 L437.53,408.11 L438.04,411.6 L438.55,415.14 L439.06,418.61 L439.58,421.9 L440.09,424.91 L440.6,427.53 L441.11,429.71 L441.62,431.44 L442.14,432.78 L442.65,433.8 L443.16,434.63 L443.67,435.35 L444.19,436.07 L444.7,436.81 L445.21,437.58 L445.72,438.38 L446.23,439.15 L446.75,439.89 L447.26,440.56 L447.77,441.19 L448.28,441.78 L448.8,442.36 L449.31,442.96 L449.82,443.58 L450.33,444.24 L450.85,444.92 L451.36,445.61 L451.87,446.29 L452.38,446.91 L452.89,447.47 L453.41,447.93 L453.92,448.28 L454.43,448.51 L454.94,448.63 L455.46,448.63 L455.97,448.55 L456.48,448.4 L456.99,448.21 L457.5,448.03 L458.02,447.87 L458.53,447.78 L459.04,447.76 L459.55,447.83 L460.07,447.97 L460.58,448.17 L461.09,448.4 L461.6,448.64 L462.12,448.87 L462.63,449.07 L463.14,449.23 L463.65,449.35 L464.16,449.44 L464.68,449.51 L465.19,449.55 L465.7,449.57 L466.21,449.58 L466.73,449.59 L467.24,449.59 L467.75,449.59 L468.26,449.58 L468.77,449.57 L469.29,449.55 L469.8,449.51 L470.31,449.45 L470.82,449.36 L471.34,449.23 L471.85,449.07 L472.36,448.87 L472.87,448.64 L473.39,448.4 L473.9,448.17 L474.41,447.97 L474.92,447.83 L475.43,447.77 L475.95,447.79 L476.46,447.89 L476.97,448.06 L477.48,448.28 L478,448.52 L478.51,448.75 L479.02,448.97 L479.53,449.15 L480.04,449.29 L480.56,449.4 L481.07,449.48 L481.58,449.53 L482.09,449.56 L482.61,449.58 L483.12,449.59 L483.63,449.59 L484.14,449.6 L484.66,449.6 L485.17,449.6 L485.68,449.59 L486.19,449.58 L486.7,449.57 L487.22,449.54 L487.73,449.49 L488.24,449.42 L488.75,449.33 L489.27,449.19 L489.78,449.02 L490.29,448.81 L490.8,448.58 L491.31,448.34 L491.83,448.11 L492.34,447.93 L492.85,447.81 L493.36,447.76" stroke="#1dbac1" stroke-width="0.6" fill="none" stroke-opacity="0.9" stroke-linejoin="round"/>
<path d="M421.75,420.02 L422.27,415.44 L422.78,411.14 L423.3,407.19 L423.82,403.62 L424.34,400.36 L424.85,397.32 L425.37,394.43 L425.89,391.6 L426.4,388.8 L426.92,386.05 L427.44,383.36 L427.95,380.79 L428.47,378.41 L428.99,376.29 L429.51,374.57 L430.02,373.37 L430.54,372.84 L431.06,373.13 L431.57,374.29 L432.09,376.29 L432.61,378.96 L433.12,382.03 L433.64,385.17 L434.16,388.05 L434.67,390.39 L435.19,392.06 L435.71,393.11 L436.23,393.7 L436.74,394.09 L437.26,394.6 L437.78,395.45 L438.29,396.83 L438.81,398.79 L439.33,401.29 L439.84,404.22 L440.36,407.46 L440.88,410.88 L441.4,414.38 L441.91,417.88 L442.43,421.29 L442.95,424.56 L443.46,427.63 L443.98,430.44 L444.5,432.94 L445.01,435.13 L445.53,437.01 L446.05,438.62 L446.56,440.01 L447.08,441.26 L447.6,442.39 L448.12,443.46 L448.63,444.46 L449.15,445.4 L449.67,446.27 L450.18,447.04 L450.7,447.7 L451.22,448.24 L451.73,448.66 L452.25,448.98 L452.77,449.2 L453.29,449.36 L453.8,449.46 L454.32,449.52 L454.84,449.56 L455.35,449.58 L455.87,449.59 L456.39,449.6 L456.9,449.6 L457.42,449.6 L457.94,449.6 L458.45,449.6 L458.97,449.6 L459.49,449.6 L460.01,449.6 L460.52,449.6 L461.04,449.59 L461.56,449.59 L462.07,449.57 L462.59,449.55 L463.11,449.51 L463.62,449.46 L464.14,449.37 L464.66,449.25 L465.18,449.09 L465.69,448.89 L466.21,448.66 L466.73,448.41 L467.24,448.17 L467.76,447.96 L468.28,447.81 L468.79,447.74 L469.31,447.75 L469.83,447.85 L470.34,448.02 L470.86,448.25 L471.38,448.49 L471.9,448.73 L472.41,448.95 L472.93,449.14 L473.45,449.29 L473.96,449.4 L474.48,449.48 L475,449.53 L475.51,449.56 L476.03,449.58 L476.55,449.59 L477.07,449.59 L477.58,449.6 L478.1,449.6 L478.62,449.6 L479.13,449.6 L479.65,449.6 L480.17,449.6 L480.68,449.6 L481.2,449.6 L481.72,449.6 L482.23,449.6 L482.75,449.6 L483.27,449.6 L483.79,449.6 L484.3,449.6 L484.82,449.6 L485.34,449.6 L485.85,449.6 L486.37,449.59 L486.89,449.58 L487.4,449.57 L487.92,449.54 L488.44,449.5 L488.96,449.43 L489.47,449.33 L489.99,449.2 L490.51,449.02 L491.02,448.81 L491.54,448.57 L492.06,448.33 L492.57,448.1 L493.09,447.9 L493.61,447.78 L494.12,447.73" stroke="#1dbac1" stroke-width="0.6" fill="none" stroke-opacity="0.9" stroke-linejoin="round"/>
<path d="M421.72,416.72 L422.26,410.39 L422.81,404.29 L423.35,398.74 L423.89,393.99 L424.44,390.18 L424.98,387.33 L425.52,385.35 L426.07,384.05 L426.61,383.18 L427.15,382.5 L427.69,381.84 L428.24,381.09 L428.78,380.25 L429.32,379.41 L429.87,378.69 L430.41,378.2 L430.95,378.02 L431.49,378.17 L432.04,378.66 L432.58,379.48 L433.12,380.65 L433.67,382.22 L434.21,384.26 L434.75,386.85 L435.29,389.98 L435.84,393.57 L436.38,397.47 L436.92,401.45 L437.47,405.29 L438.01,408.81 L438.55,411.89 L439.09,414.5 L439.64,416.66 L440.18,418.46 L440.72,420.02 L441.27,421.48 L441.81,422.97 L442.35,424.57 L442.89,426.38 L443.44,428.39 L443.98,430.56 L444.52,432.81 L445.07,435.01 L445.61,437.04 L446.15,438.79 L446.69,440.19 L447.24,441.25 L447.78,441.99 L448.32,442.48 L448.87,442.81 L449.41,443.08 L449.95,443.36 L450.5,443.7 L451.04,444.15 L451.58,444.69 L452.12,445.31 L452.67,445.98 L453.21,446.63 L453.75,447.25 L454.3,447.78 L454.84,448.21 L455.38,448.51 L455.92,448.68 L456.47,448.73 L457.01,448.67 L457.55,448.53 L458.1,448.33 L458.64,448.12 L459.18,447.93 L459.72,447.81 L460.27,447.76 L460.81,447.81 L461.35,447.94 L461.9,448.15 L462.44,448.39 L462.98,448.64 L463.52,448.88 L464.07,449.09 L464.61,449.26 L465.15,449.38 L465.7,449.47 L466.24,449.52 L466.78,449.56 L467.32,449.58 L467.87,449.59 L468.41,449.6 L468.95,449.6 L469.5,449.6 L470.04,449.6 L470.58,449.6 L471.13,449.6 L471.67,449.6 L472.21,449.6 L472.75,449.6 L473.3,449.6 L473.84,449.6 L474.38,449.59 L474.93,449.58 L475.47,449.56 L476.01,449.53 L476.55,449.48 L477.1,449.4 L477.64,449.29 L478.18,449.14 L478.73,448.94 L479.27,448.7 L479.81,448.45 L480.35,448.2 L480.9,447.99 L481.44,447.83 L481.98,447.77 L482.53,447.79 L483.07,447.91 L483.61,448.1 L484.15,448.34 L484.7,448.6 L485.24,448.84 L485.78,449.05 L486.33,449.23 L486.87,449.36 L487.41,449.45 L487.95,449.51 L488.5,449.55 L489.04,449.57 L489.58,449.58 L490.13,449.58 L490.67,449.58 L491.21,449.56 L491.75,449.52 L492.3,449.47 L492.84,449.38 L493.38,449.26 L493.93,449.1 L494.47,448.89 L495.01,448.65 L495.56,448.4 L496.1,448.15 L496.64,447.95 L497.18,447.81 L497.73,447.76" stroke="#1dbac1" stroke-width="0.6" fill="none" stroke-opacity="0.9" stroke-linejoin="round"/>
<path d="M421.79,412.67 L422.31,406.11 L422.83,399.68 L423.35,393.62 L423.86,388.13 L424.38,383.35 L424.9,379.33 L425.42,376.08 L425.93,373.56 L426.45,371.73 L426.97,370.53 L427.49,369.92 L428,369.87 L428.52,370.36 L429.04,371.32 L429.56,372.72 L430.07,374.48 L430.59,376.55 L431.11,378.87 L431.63,381.45 L432.14,384.28 L432.66,387.34 L433.18,390.57 L433.7,393.86 L434.22,397.08 L434.73,400.05 L435.25,402.65 L435.77,404.84 L436.29,406.65 L436.8,408.21 L437.32,409.69 L437.84,411.28 L438.36,413.11 L438.87,415.25 L439.39,417.67 L439.91,420.29 L440.43,422.96 L440.94,425.51 L441.46,427.81 L441.98,429.77 L442.5,431.34 L443.01,432.56 L443.53,433.48 L444.05,434.21 L444.57,434.82 L445.08,435.4 L445.6,436 L446.12,436.65 L446.64,437.34 L447.15,438.06 L447.67,438.8 L448.19,439.54 L448.71,440.26 L449.22,440.95 L449.74,441.62 L450.26,442.26 L450.78,442.88 L451.29,443.48 L451.81,444.06 L452.33,444.62 L452.85,445.14 L453.36,445.64 L453.88,446.11 L454.4,446.56 L454.92,446.99 L455.43,447.4 L455.95,447.79 L456.47,448.16 L456.99,448.49 L457.5,448.77 L458.02,449.01 L458.54,449.19 L459.06,449.33 L459.57,449.43 L460.09,449.5 L460.61,449.54 L461.13,449.57 L461.64,449.58 L462.16,449.59 L462.68,449.6 L463.2,449.6 L463.71,449.6 L464.23,449.6 L464.75,449.6 L465.27,449.6 L465.78,449.6 L466.3,449.6 L466.82,449.6 L467.34,449.6 L467.85,449.6 L468.37,449.6 L468.89,449.6 L469.41,449.6 L469.92,449.6 L470.44,449.6 L470.96,449.6 L471.48,449.6 L471.99,449.6 L472.51,449.6 L473.03,449.6 L473.55,449.6 L474.07,449.6 L474.58,449.6 L475.1,449.6 L475.62,449.6 L476.14,449.6 L476.65,449.6 L477.17,449.6 L477.69,449.6 L478.21,449.6 L478.72,449.6 L479.24,449.6 L479.76,449.6 L480.28,449.6 L480.79,449.6 L481.31,449.6 L481.83,449.6 L482.35,449.59 L482.86,449.59 L483.38,449.57 L483.9,449.55 L484.42,449.52 L484.93,449.46 L485.45,449.37 L485.97,449.25 L486.49,449.09 L487,448.88 L487.52,448.64 L488.04,448.37 L488.56,448.09 L489.07,447.82 L489.59,447.58 L490.11,447.37 L490.63,447.22 L491.14,447.11 L491.66,447.05 L492.18,447.02 L492.7,447.03 L493.21,447.08 L493.73,447.18 L494.25,447.32" stroke="#1dbac1" stroke-width="0.6" fill="none" stroke-opacity="0.9" stroke-linejoin="round"/>
<path d="M421.79,420.48 L422.31,415.56 L422.83,410.73 L423.35,406.09 L423.87,401.75 L424.39,397.76 L424.91,394.15 L425.43,390.92 L425.94,388.07 L426.46,385.6 L426.98,383.51 L427.5,381.83 L428.02,380.58 L428.54,379.79 L429.06,379.5 L429.58,379.7 L430.1,380.36 L430.62,381.42 L431.13,382.78 L431.65,384.39 L432.17,386.16 L432.69,388.07 L433.21,390.1 L433.73,392.23 L434.25,394.44 L434.77,396.67 L435.29,398.86 L435.81,400.93 L436.32,402.82 L436.84,404.5 L437.36,406 L437.88,407.36 L438.4,408.66 L438.92,409.96 L439.44,411.31 L439.96,412.72 L440.48,414.19 L441,415.69 L441.51,417.19 L442.03,418.7 L442.55,420.21 L443.07,421.73 L443.59,423.29 L444.11,424.88 L444.63,426.48 L445.15,428.06 L445.67,429.57 L446.19,430.99 L446.7,432.27 L447.22,433.44 L447.74,434.51 L448.26,435.53 L448.78,436.53 L449.3,437.55 L449.82,438.6 L450.34,439.66 L450.86,440.71 L451.37,441.72 L451.89,442.64 L452.41,443.46 L452.93,444.17 L453.45,444.76 L453.97,445.25 L454.49,445.65 L455.01,445.98 L455.53,446.25 L456.05,446.48 L456.56,446.7 L457.08,446.92 L457.6,447.15 L458.12,447.42 L458.64,447.7 L459.16,448 L459.68,448.3 L460.2,448.59 L460.72,448.84 L461.24,449.06 L461.75,449.23 L462.27,449.36 L462.79,449.45 L463.31,449.51 L463.83,449.55 L464.35,449.57 L464.87,449.59 L465.39,449.59 L465.91,449.59 L466.43,449.59 L466.94,449.59 L467.46,449.58 L467.98,449.56 L468.5,449.52 L469.02,449.47 L469.54,449.39 L470.06,449.28 L470.58,449.13 L471.1,448.94 L471.62,448.72 L472.13,448.47 L472.65,448.24 L473.17,448.02 L473.69,447.86 L474.21,447.78 L474.73,447.78 L475.25,447.86 L475.77,448.02 L476.29,448.23 L476.81,448.47 L477.32,448.71 L477.84,448.94 L478.36,449.13 L478.88,449.28 L479.4,449.39 L479.92,449.47 L480.44,449.52 L480.96,449.56 L481.48,449.58 L482,449.59 L482.51,449.59 L483.03,449.6 L483.55,449.6 L484.07,449.6 L484.59,449.6 L485.11,449.6 L485.63,449.6 L486.15,449.6 L486.67,449.59 L487.19,449.58 L487.7,449.57 L488.22,449.54 L488.74,449.5 L489.26,449.44 L489.78,449.34 L490.3,449.21 L490.82,449.04 L491.34,448.83 L491.86,448.6 L492.38,448.35 L492.89,448.12 L493.41,447.93 L493.93,447.81 L494.45,447.76" stroke="#1dbac1" stroke-width="0.6" fill="none" stroke-opacity="0.9" stroke-linejoin="round"/>
<path d="M421.91,415.85 L422.43,409.82 L422.94,403.79 L423.45,397.91 L423.97,392.28 L424.48,386.98 L425,382.03 L425.51,377.48 L426.02,373.36 L426.54,369.76 L427.05,366.78 L427.56,364.57 L428.08,363.29 L428.59,363.08 L429.11,364.02 L429.62,366.14 L430.13,369.36 L430.65,373.48 L431.16,378.24 L431.68,383.3 L432.19,388.31 L432.7,392.97 L433.22,397.04 L433.73,400.38 L434.24,402.94 L434.76,404.77 L435.27,405.99 L435.79,406.78 L436.3,407.3 L436.81,407.76 L437.33,408.32 L437.84,409.13 L438.35,410.26 L438.87,411.77 L439.38,413.62 L439.9,415.76 L440.41,418.05 L440.92,420.38 L441.44,422.63 L441.95,424.72 L442.47,426.6 L442.98,428.29 L443.49,429.83 L444.01,431.26 L444.52,432.63 L445.03,433.97 L445.55,435.28 L446.06,436.52 L446.58,437.67 L447.09,438.7 L447.6,439.61 L448.12,440.4 L448.63,441.11 L449.15,441.78 L449.66,442.44 L450.17,443.12 L450.69,443.82 L451.2,444.51 L451.71,445.16 L452.23,445.73 L452.74,446.21 L453.26,446.57 L453.77,446.84 L454.28,447.02 L454.8,447.16 L455.31,447.26 L455.82,447.36 L456.34,447.44 L456.85,447.51 L457.37,447.56 L457.88,447.58 L458.39,447.57 L458.91,447.55 L459.42,447.53 L459.94,447.54 L460.45,447.61 L460.96,447.73 L461.48,447.9 L461.99,448.13 L462.5,448.37 L463.02,448.62 L463.53,448.86 L464.05,449.06 L464.56,449.23 L465.07,449.35 L465.59,449.44 L466.1,449.51 L466.61,449.55 L467.13,449.57 L467.64,449.58 L468.16,449.59 L468.67,449.6 L469.18,449.6 L469.7,449.6 L470.21,449.6 L470.73,449.6 L471.24,449.6 L471.75,449.6 L472.27,449.6 L472.78,449.6 L473.29,449.6 L473.81,449.6 L474.32,449.6 L474.84,449.6 L475.35,449.6 L475.86,449.6 L476.38,449.6 L476.89,449.6 L477.41,449.6 L477.92,449.6 L478.43,449.6 L478.95,449.6 L479.46,449.6 L479.97,449.6 L480.49,449.6 L481,449.6 L481.52,449.6 L482.03,449.6 L482.54,449.6 L483.06,449.6 L483.57,449.6 L484.08,449.6 L484.6,449.6 L485.11,449.6 L485.63,449.6 L486.14,449.59 L486.65,449.58 L487.17,449.57 L487.68,449.54 L488.2,449.49 L488.71,449.43 L489.22,449.33 L489.74,449.19 L490.25,449.02 L490.76,448.81 L491.28,448.58 L491.79,448.33 L492.31,448.1 L492.82,447.92 L493.33,447.79 L493.85,447.75" stroke="#1dbac1" stroke-width="0.6" fill="none" stroke-opacity="0.9" stroke-linejoin="round"/>
<path d="M421.6,424.45 L422.11,418.54 L422.63,412.11 L423.14,405.31 L423.66,398.39 L424.17,391.64 L424.69,385.34 L425.2,379.78 L425.72,375.18 L426.23,371.68 L426.75,369.3 L427.26,367.96 L427.78,367.48 L428.29,367.67 L428.81,368.33 L429.32,369.27 L429.84,370.39 L430.35,371.64 L430.87,373.03 L431.38,374.6 L431.9,376.42 L432.41,378.56 L432.93,381.05 L433.44,383.88 L433.96,386.99 L434.47,390.27 L434.99,393.57 L435.5,396.72 L436.02,399.62 L436.53,402.16 L437.05,404.33 L437.56,406.19 L438.08,407.81 L438.59,409.33 L439.11,410.85 L439.62,412.49 L440.14,414.3 L440.65,416.31 L441.17,418.54 L441.68,420.97 L442.2,423.57 L442.71,426.29 L443.23,429.08 L443.74,431.89 L444.26,434.63 L444.77,437.23 L445.29,439.6 L445.8,441.67 L446.32,443.39 L446.83,444.73 L447.35,445.72 L447.86,446.37 L448.38,446.76 L448.89,446.95 L449.41,447.01 L449.92,446.99 L450.44,446.94 L450.95,446.89 L451.47,446.87 L451.98,446.87 L452.5,446.92 L453.01,447.01 L453.53,447.15 L454.04,447.33 L454.56,447.57 L455.07,447.84 L455.59,448.13 L456.1,448.41 L456.62,448.68 L457.13,448.92 L457.65,449.12 L458.16,449.28 L458.68,449.39 L459.19,449.47 L459.71,449.52 L460.22,449.56 L460.74,449.58 L461.25,449.59 L461.77,449.59 L462.28,449.6 L462.8,449.6 L463.31,449.6 L463.82,449.6 L464.34,449.6 L464.85,449.6 L465.37,449.6 L465.88,449.6 L466.4,449.6 L466.91,449.6 L467.43,449.59 L467.94,449.59 L468.46,449.57 L468.97,449.55 L469.49,449.52 L470,449.46 L470.52,449.37 L471.03,449.25 L471.55,449.1 L472.06,448.9 L472.58,448.68 L473.09,448.43 L473.61,448.19 L474.12,447.99 L474.64,447.83 L475.15,447.76 L475.67,447.76 L476.18,447.86 L476.7,448.02 L477.21,448.24 L477.73,448.48 L478.24,448.72 L478.76,448.94 L479.27,449.13 L479.79,449.28 L480.3,449.39 L480.82,449.47 L481.33,449.52 L481.85,449.56 L482.36,449.58 L482.88,449.59 L483.39,449.59 L483.91,449.6 L484.42,449.6 L484.94,449.6 L485.45,449.6 L485.97,449.59 L486.48,449.58 L487,449.57 L487.51,449.54 L488.03,449.5 L488.54,449.43 L489.06,449.33 L489.57,449.2 L490.09,449.02 L490.6,448.81 L491.12,448.58 L491.63,448.33 L492.15,448.11 L492.66,447.92 L493.18,447.79 L493.69,447.75" stroke="#1dbac1" stroke-width="0.6" fill="none" stroke-opacity="0.9" stroke-linejoin="round"/>
<path d="M421.63,426.77 L422.17,422.01 L422.7,417.08 L423.24,412.16 L423.77,407.42 L424.31,403.04 L424.84,399.18 L425.38,395.92 L425.92,393.32 L426.45,391.32 L426.99,389.79 L427.52,388.54 L428.06,387.37 L428.59,386.12 L429.13,384.68 L429.66,383.06 L430.2,381.33 L430.74,379.64 L431.27,378.14 L431.81,376.97 L432.34,376.19 L432.88,375.82 L433.41,375.84 L433.95,376.2 L434.48,376.85 L435.02,377.79 L435.56,379.05 L436.09,380.68 L436.63,382.76 L437.16,385.35 L437.7,388.48 L438.23,392.12 L438.77,396.16 L439.3,400.48 L439.84,404.87 L440.38,409.18 L440.91,413.26 L441.45,417.04 L441.98,420.49 L442.52,423.66 L443.05,426.63 L443.59,429.45 L444.12,432.18 L444.66,434.8 L445.2,437.29 L445.73,439.56 L446.27,441.55 L446.8,443.21 L447.34,444.51 L447.87,445.49 L448.41,446.2 L448.94,446.7 L449.48,447.08 L450.02,447.39 L450.55,447.68 L451.09,447.97 L451.62,448.27 L452.16,448.55 L452.69,448.81 L453.23,449.03 L453.76,449.21 L454.3,449.34 L454.84,449.43 L455.37,449.47 L455.91,449.48 L456.44,449.45 L456.98,449.37 L457.51,449.23 L458.05,449.02 L458.58,448.72 L459.12,448.35 L459.66,447.9 L460.19,447.4 L460.73,446.9 L461.26,446.46 L461.8,446.12 L462.33,445.93 L462.87,445.93 L463.4,446.11 L463.94,446.45 L464.48,446.9 L465.01,447.4 L465.55,447.89 L466.08,448.34 L466.62,448.72 L467.15,449.01 L467.69,449.23 L468.22,449.37 L468.76,449.46 L469.3,449.5 L469.83,449.51 L470.37,449.49 L470.9,449.43 L471.44,449.34 L471.97,449.2 L472.51,449.03 L473.04,448.81 L473.58,448.56 L474.12,448.31 L474.65,448.08 L475.19,447.89 L475.72,447.78 L476.26,447.75 L476.79,447.82 L477.33,447.97 L477.86,448.19 L478.4,448.43 L478.94,448.69 L479.47,448.92 L480.01,449.12 L480.54,449.28 L481.08,449.39 L481.61,449.48 L482.15,449.53 L482.68,449.56 L483.22,449.58 L483.76,449.59 L484.29,449.6 L484.83,449.6 L485.36,449.6 L485.9,449.6 L486.43,449.6 L486.97,449.6 L487.5,449.6 L488.04,449.6 L488.58,449.59 L489.11,449.59 L489.65,449.58 L490.18,449.55 L490.72,449.52 L491.25,449.46 L491.79,449.37 L492.32,449.24 L492.86,449.07 L493.4,448.87 L493.93,448.63 L494.47,448.37 L495,448.13 L495.54,447.93 L496.07,447.8 L496.61,447.75" stroke="#1dbac1" stroke-width="0.6" fill="none" stroke-opacity="0.9" stroke-linejoin="round"/>
<path d="M421.65,417.67 L422.19,412.06 L422.73,406.45 L423.27,400.93 L423.81,395.58 L424.35,390.46 L424.89,385.66 L425.43,381.26 L425.97,377.39 L426.51,374.18 L427.05,371.72 L427.59,370.08 L428.13,369.26 L428.67,369.2 L429.21,369.83 L429.75,371.02 L430.3,372.64 L430.84,374.59 L431.38,376.76 L431.92,379.07 L432.46,381.49 L433,383.97 L433.54,386.52 L434.08,389.15 L434.62,391.89 L435.16,394.8 L435.7,397.9 L436.24,401.22 L436.78,404.71 L437.32,408.3 L437.86,411.92 L438.4,415.43 L438.94,418.73 L439.48,421.72 L440.02,424.35 L440.56,426.56 L441.1,428.34 L441.64,429.69 L442.19,430.66 L442.73,431.31 L443.27,431.73 L443.81,432.03 L444.35,432.31 L444.89,432.67 L445.43,433.15 L445.97,433.78 L446.51,434.57 L447.05,435.5 L447.59,436.54 L448.13,437.68 L448.67,438.89 L449.21,440.15 L449.75,441.43 L450.29,442.7 L450.83,443.94 L451.37,445.09 L451.91,446.14 L452.45,447.03 L452.99,447.77 L453.53,448.35 L454.08,448.79 L454.62,449.09 L455.16,449.3 L455.7,449.43 L456.24,449.51 L456.78,449.55 L457.32,449.58 L457.86,449.59 L458.4,449.6 L458.94,449.6 L459.48,449.6 L460.02,449.6 L460.56,449.6 L461.1,449.6 L461.64,449.6 L462.18,449.6 L462.72,449.6 L463.26,449.6 L463.8,449.6 L464.34,449.6 L464.88,449.6 L465.42,449.6 L465.97,449.6 L466.51,449.6 L467.05,449.6 L467.59,449.6 L468.13,449.59 L468.67,449.59 L469.21,449.58 L469.75,449.55 L470.29,449.52 L470.83,449.46 L471.37,449.37 L471.91,449.24 L472.45,449.07 L472.99,448.86 L473.53,448.62 L474.07,448.36 L474.61,448.12 L475.15,447.92 L475.69,447.79 L476.23,447.75 L476.77,447.81 L477.32,447.95 L477.86,448.16 L478.4,448.4 L478.94,448.66 L479.48,448.9 L480.02,449.1 L480.56,449.26 L481.1,449.39 L481.64,449.47 L482.18,449.53 L482.72,449.56 L483.26,449.58 L483.8,449.59 L484.34,449.6 L484.88,449.6 L485.42,449.6 L485.96,449.6 L486.5,449.6 L487.04,449.6 L487.58,449.6 L488.12,449.6 L488.66,449.6 L489.21,449.59 L489.75,449.59 L490.29,449.58 L490.83,449.56 L491.37,449.52 L491.91,449.46 L492.45,449.38 L492.99,449.25 L493.53,449.09 L494.07,448.88 L494.61,448.64 L495.15,448.38 L495.69,448.14 L496.23,447.93 L496.77,447.8 L497.31,447.75" stroke="#1dbac1" stroke-width="0.6" fill="none" stroke-opacity="0.9" stroke-linejoin="round"/>
<path d="M421.3,443.56 L421.78,442.74 L422.26,441.82 L422.73,440.81 L423.21,439.7 L423.69,438.49 L424.17,437.17 L424.64,435.75 L425.12,434.22 L425.6,432.58 L426.08,430.83 L426.56,428.98 L427.03,427.04 L427.51,425 L427.99,422.88 L428.47,420.68 L428.94,418.43 L429.42,416.12 L429.9,413.79 L430.38,411.43 L430.86,409.08 L431.33,406.74 L431.81,404.44 L432.29,402.19 L432.77,400.02 L433.25,397.94 L433.72,395.96 L434.2,394.11 L434.68,392.39 L435.16,390.81 L435.63,389.38 L436.11,388.1 L436.59,386.97 L437.07,385.98 L437.55,385.12 L438.02,384.39 L438.5,384.09 L438.98,384.44 L439.46,385.37 L439.93,386.8 L440.41,388.63 L440.89,390.75 L441.37,393.05 L441.85,395.42 L442.32,397.77 L442.8,400.03 L443.28,402.14 L443.76,404.09 L444.24,405.85 L444.71,407.46 L445.19,408.94 L445.67,410.34 L446.15,411.71 L446.62,413.09 L447.1,414.55 L447.58,416.55 L448.06,419.27 L448.54,422.57 L449.01,426.24 L449.49,430.03 L449.97,433.7 L450.45,437.05 L450.92,439.94 L451.4,442.29 L451.88,444.08 L452.36,445.35 L452.84,446.15 L453.31,446.56 L453.79,446.67 L454.27,446.57 L454.75,446.31 L455.22,445.99 L455.7,445.64 L456.18,445.33 L456.66,445.09 L457.14,444.96 L457.61,444.95 L458.09,445.06 L458.57,445.29 L459.05,445.62 L459.53,446.01 L460,446.45 L460.48,446.91 L460.96,447.35 L461.44,447.76 L461.91,448.11 L462.39,448.42 L462.87,448.66 L463.35,448.85 L463.83,449 L464.3,449.1 L464.78,449.18 L465.26,449.23 L465.74,449.26 L466.21,449.28 L466.69,449.29 L467.17,449.3 L467.65,449.3 L468.13,449.31 L468.6,449.31 L469.08,449.31 L469.56,449.31 L470.04,449.31 L470.51,449.31 L470.99,449.31 L471.47,449.31 L471.95,449.31 L472.43,449.31 L472.9,449.31 L473.38,449.31 L473.86,449.31 L474.34,449.31 L474.81,449.31 L475.29,449.31 L475.77,449.31 L476.25,449.31 L476.73,449.31 L477.2,449.31 L477.68,449.31 L478.16,449.31 L478.64,449.31 L479.12,449.31 L479.59,449.31 L480.07,449.31 L480.55,449.31 L481.03,449.31 L481.5,449.31 L481.98,449.31 L482.46,449.31 L482.94,449.31 L483.42,449.31 L483.89,449.31 L484.37,449.31 L484.85,449.31 L485.33,449.31 L485.8,449.31 L486.28,449.31 L486.76,449.31 L487.24,449.31 L487.72,449.31 L488.19,449.31 L488.67,449.31 L489.15,449.31 L489.63,449.31 L490.11,449.31 L490.58,449.31 L491.06,449.31 L491.54,449.31 L492.02,449.31 L492.49,449.31 L492.97,449.31 L493.45,449.31 L493.93,449.31 L494.41,449.31 L494.88,449.31 L495.36,449.31 L495.84,449.31 L496.32,449.31 L496.79,449.31 L497.27,449.31 L497.75,449.31" stroke="#f08a85" stroke-width="0.85" fill="none" stroke-linejoin="round"/>
<text stroke="#1a1a1a" stroke-width="0.18" x="39.8" y="365.2" font-size="8.6" fill="#1a1a1a" text-anchor="end">0.9</text>
<text stroke="#1a1a1a" stroke-width="0.18" x="39.8" y="394.3" font-size="8.6" fill="#1a1a1a" text-anchor="end">0.6</text>
<text stroke="#1a1a1a" stroke-width="0.18" x="39.8" y="423.5" font-size="8.6" fill="#1a1a1a" text-anchor="end">0.3</text>
<text stroke="#1a1a1a" stroke-width="0.18" x="39.8" y="452.7" font-size="8.6" fill="#1a1a1a" text-anchor="end">0.0</text>
<text stroke="#1a1a1a" stroke-width="0.12" x="24.6" y="394.5" font-size="9.6" fill="#1a1a1a" text-anchor="middle" transform="rotate(-90 24.6 394.5)">density</text>
<text stroke="#1a1a1a" stroke-width="0.25" x="234.5" y="474.7" font-size="8.3" fill="#1a1a1a">-log10(<tspan font-style="italic">P</tspan>-value, <tspan font-style="italic">t</tspan>-test)</text>
<text stroke="#1a1a1a" stroke-width="0.12" x="151.9" y="488.8" font-size="9.63" fill="#1a1a1a" xml:space="preserve">Phenotype variants of  mutants and wildtype lines of KN9204</text>
<text stroke="#000" stroke-width="0.12" x="538.8" y="328.9" font-size="10.4" fill="#000" font-weight="bold">g</text>
<line x1="583" y1="334.1" x2="583" y2="452.6" stroke="#8f8f8f" stroke-width="1.1"/>
<line x1="583" y1="452.6" x2="660.2" y2="452.6" stroke="#8f8f8f" stroke-width="1.1"/>
<line x1="580.5" y1="447.1" x2="583" y2="447.1" stroke="#8f8f8f" stroke-width="0.9"/>
<text stroke="#1a1a1a" stroke-width="0.18" x="579.3" y="450.2" font-size="8.6" fill="#1a1a1a" text-anchor="end">0</text>
<line x1="580.5" y1="420.2" x2="583" y2="420.2" stroke="#8f8f8f" stroke-width="0.9"/>
<text stroke="#1a1a1a" stroke-width="0.18" x="579.3" y="423.3" font-size="8.6" fill="#1a1a1a" text-anchor="end">25</text>
<line x1="580.5" y1="393.3" x2="583" y2="393.3" stroke="#8f8f8f" stroke-width="0.9"/>
<text stroke="#1a1a1a" stroke-width="0.18" x="579.3" y="396.4" font-size="8.6" fill="#1a1a1a" text-anchor="end">50</text>
<line x1="580.5" y1="366.4" x2="583" y2="366.4" stroke="#8f8f8f" stroke-width="0.9"/>
<text stroke="#1a1a1a" stroke-width="0.18" x="579.3" y="369.5" font-size="8.6" fill="#1a1a1a" text-anchor="end">75</text>
<line x1="580.5" y1="339.5" x2="583" y2="339.5" stroke="#8f8f8f" stroke-width="0.9"/>
<text stroke="#1a1a1a" stroke-width="0.18" x="579.3" y="342.6" font-size="8.6" fill="#1a1a1a" text-anchor="end">100</text>
<rect x="596.2" y="368" width="16" height="79.1" fill="#f8766d"/>
<rect x="632" y="407.9" width="16" height="39.2" fill="#00bfc4"/>
<line x1="604.2" y1="452.6" x2="604.2" y2="455.1" stroke="#8f8f8f" stroke-width="0.9"/>
<line x1="640" y1="452.6" x2="640" y2="455.1" stroke="#8f8f8f" stroke-width="0.9"/>
<rect x="605.6" y="328.8" width="9.4" height="9.4" fill="#f8766d"/>
<rect x="605.6" y="341.3" width="9.4" height="9.5" fill="#00bfc4"/>
<text stroke="#1a1a1a" stroke-width="0.25" x="617.5" y="336.7" font-size="8.3" fill="#1a1a1a">Candidate</text>
<text stroke="#1a1a1a" stroke-width="0.25" x="617.5" y="349.2" font-size="8.3" fill="#1a1a1a">Random</text>
<text stroke="#1a1a1a" stroke-width="0.12" x="544.5" y="398" font-size="9.7" fill="#1a1a1a" text-anchor="middle" transform="rotate(-90 544.5 398)">The percentage of</text>
<text stroke="#1a1a1a" stroke-width="0.12" x="556.4" y="397.3" font-size="9.7" fill="#1a1a1a" text-anchor="middle" transform="rotate(-90 556.4 397.3)">validated genes(%)</text>
<text stroke="#1a1a1a" stroke-width="0.12" x="611" y="460.2" font-size="9.9" fill="#1a1a1a" text-anchor="end" transform="rotate(-45 611 460.2)">Candidate</text>
<text stroke="#1a1a1a" stroke-width="0.12" x="645.9" y="461.2" font-size="9.7" fill="#1a1a1a" text-anchor="end" transform="rotate(-45 645.9 461.2)">Random</text>
<text stroke="#000" stroke-width="0.12" x="-0.6" y="524" font-size="10.4" fill="#000" font-weight="bold">h</text>
<text stroke="#1a1a1a" stroke-width="0.25" x="141.8" y="526.8" font-size="8.16" fill="#1a1a1a">Mutant effect</text>
<circle cx="207.2" cy="524.1" r="1.3" fill="#35b3d1"/>
<text stroke="#1a1a1a" stroke-width="0.25" x="213.3" y="526.8" font-size="8.16" fill="#1a1a1a">Wild type</text>
<circle cx="269.4" cy="524.1" r="1.3" fill="#ee2a1c"/>
<text stroke="#1a1a1a" stroke-width="0.25" x="276.7" y="526.8" font-size="8.16" fill="#1a1a1a">High</text>
<circle cx="313.7" cy="524.1" r="1.3" fill="#fbb92c"/>
<text stroke="#1a1a1a" stroke-width="0.25" x="320.4" y="526.8" font-size="8.16" fill="#1a1a1a">Moderate</text>
<line x1="30.3" y1="537.2" x2="30.3" y2="616.6" stroke="#bdbdbd" stroke-width="1.6"/>
<line x1="27.3" y1="544.3" x2="30.3" y2="544.3" stroke="#777" stroke-width="0.9"/>
<text stroke="#1a1a1a" stroke-width="0.18" x="24.1" y="547.4" font-size="8.6" fill="#1a1a1a" text-anchor="end">55</text>
<line x1="27.3" y1="560.7" x2="30.3" y2="560.7" stroke="#777" stroke-width="0.9"/>
<text stroke="#1a1a1a" stroke-width="0.18" x="24.1" y="563.8" font-size="8.6" fill="#1a1a1a" text-anchor="end">50</text>
<line x1="27.3" y1="577.4" x2="30.3" y2="577.4" stroke="#777" stroke-width="0.9"/>
<text stroke="#1a1a1a" stroke-width="0.18" x="24.1" y="580.5" font-size="8.6" fill="#1a1a1a" text-anchor="end">45</text>
<line x1="27.3" y1="593.8" x2="30.3" y2="593.8" stroke="#777" stroke-width="0.9"/>
<text stroke="#1a1a1a" stroke-width="0.18" x="24.1" y="596.9" font-size="8.6" fill="#1a1a1a" text-anchor="end">40</text>
<line x1="27.3" y1="610.3" x2="30.3" y2="610.3" stroke="#777" stroke-width="0.9"/>
<text stroke="#1a1a1a" stroke-width="0.18" x="24.1" y="613.4" font-size="8.6" fill="#1a1a1a" text-anchor="end">35</text>
<text stroke="#1a1a1a" stroke-width="0.12" x="9.8" y="577" font-size="10" fill="#1a1a1a" text-anchor="middle" transform="rotate(-90 9.8 577)">TKW</text>
<line x1="30.3" y1="616.6" x2="162.6" y2="616.6" stroke="#bdbdbd" stroke-width="1.6"/>
<line x1="45.2" y1="616.6" x2="45.2" y2="619.6" stroke="#777" stroke-width="0.9"/>
<line x1="70.6" y1="616.6" x2="70.6" y2="619.6" stroke="#777" stroke-width="0.9"/>
<line x1="96.1" y1="616.6" x2="96.1" y2="619.6" stroke="#777" stroke-width="0.9"/>
<line x1="121.6" y1="616.6" x2="121.6" y2="619.6" stroke="#777" stroke-width="0.9"/>
<line x1="147.2" y1="616.6" x2="147.2" y2="619.6" stroke="#777" stroke-width="0.9"/>
<line x1="45.2" y1="572.5" x2="45.2" y2="577" stroke="#8a8a8a" stroke-width="0.8"/>
<line x1="45.2" y1="580.3" x2="45.2" y2="583.5" stroke="#8a8a8a" stroke-width="0.8"/>
<rect x="38.05" y="577" width="14.3" height="3.3" fill="#ffffff" stroke="#9a9a9a" stroke-width="0.8" fill-opacity="0.6"/>
<line x1="38.05" y1="578.6" x2="52.35" y2="578.6" stroke="#555555" stroke-width="0.9"/>
<circle cx="48.75" cy="575.84" r="1.05" fill="#35b3d1"/>
<circle cx="50.27" cy="582.67" r="1.05" fill="#35b3d1"/>
<circle cx="50.53" cy="578.54" r="1.05" fill="#35b3d1"/>
<circle cx="40.55" cy="576.55" r="1.05" fill="#35b3d1"/>
<circle cx="45.73" cy="577.81" r="1.05" fill="#35b3d1"/>
<circle cx="41.8" cy="572.56" r="1.05" fill="#35b3d1"/>
<circle cx="48.39" cy="580.02" r="1.05" fill="#35b3d1"/>
<circle cx="40.86" cy="579.63" r="1.05" fill="#35b3d1"/>
<circle cx="39.22" cy="573.07" r="1.05" fill="#35b3d1"/>
<circle cx="41.78" cy="580.97" r="1.05" fill="#35b3d1"/>
<circle cx="42.67" cy="583.09" r="1.05" fill="#35b3d1"/>
<circle cx="47.34" cy="582.03" r="1.05" fill="#35b3d1"/>
<circle cx="47.49" cy="580.11" r="1.05" fill="#35b3d1"/>
<circle cx="42.78" cy="583.16" r="1.05" fill="#35b3d1"/>
<circle cx="40.94" cy="577.55" r="1.05" fill="#35b3d1"/>
<line x1="70.6" y1="567.4" x2="70.6" y2="583.1" stroke="#8a8a8a" stroke-width="0.8"/>
<line x1="70.6" y1="597.4" x2="70.6" y2="604.6" stroke="#8a8a8a" stroke-width="0.8"/>
<rect x="63.45" y="583.1" width="14.3" height="14.3" fill="#ffffff" stroke="#9a9a9a" stroke-width="0.8" fill-opacity="0.6"/>
<line x1="63.45" y1="590.3" x2="77.75" y2="590.3" stroke="#555555" stroke-width="0.9"/>
<circle cx="71.84" cy="587.41" r="1.05" fill="#fbb92c"/>
<circle cx="68.65" cy="592.79" r="1.05" fill="#fbb92c"/>
<circle cx="70.37" cy="594.8" r="1.05" fill="#fbb92c"/>
<circle cx="73.06" cy="589.98" r="1.05" fill="#fbb92c"/>
<circle cx="64.87" cy="597.04" r="1.05" fill="#fbb92c"/>
<circle cx="64.81" cy="580.66" r="1.05" fill="#fbb92c"/>
<circle cx="71.54" cy="573.15" r="1.05" fill="#fbb92c"/>
<circle cx="66.77" cy="583.77" r="1.05" fill="#fbb92c"/>
<circle cx="73.67" cy="598.81" r="1.05" fill="#fbb92c"/>
<circle cx="68.73" cy="604.18" r="1.05" fill="#fbb92c"/>
<circle cx="73.91" cy="590.6" r="1.05" fill="#fbb92c"/>
<circle cx="74.17" cy="593.8" r="1.05" fill="#fbb92c"/>
<circle cx="75.95" cy="597.66" r="1.05" fill="#fbb92c"/>
<circle cx="71.93" cy="587.97" r="1.05" fill="#fbb92c"/>
<circle cx="75.7" cy="599.85" r="1.05" fill="#fbb92c"/>
<circle cx="68.4" cy="587.57" r="1.05" fill="#fbb92c"/>
<circle cx="66.38" cy="584.22" r="1.05" fill="#fbb92c"/>
<circle cx="66.53" cy="583.05" r="1.05" fill="#fbb92c"/>
<circle cx="71" cy="597.21" r="1.05" fill="#fbb92c"/>
<circle cx="71.73" cy="586.49" r="1.05" fill="#fbb92c"/>
<circle cx="69.66" cy="600.68" r="1.05" fill="#fbb92c"/>
<circle cx="64.99" cy="596.2" r="1.05" fill="#fbb92c"/>
<circle cx="66.16" cy="595.09" r="1.05" fill="#fbb92c"/>
<circle cx="72.92" cy="556.6" r="1.05" fill="#fbb92c"/>
<line x1="96.1" y1="584.2" x2="96.1" y2="587.2" stroke="#8a8a8a" stroke-width="0.8"/>
<line x1="96.1" y1="594.4" x2="96.1" y2="602.5" stroke="#8a8a8a" stroke-width="0.8"/>
<rect x="88.95" y="587.2" width="14.3" height="7.2" fill="#ffffff" stroke="#9a9a9a" stroke-width="0.8" fill-opacity="0.6"/>
<line x1="88.95" y1="589.3" x2="103.25" y2="589.3" stroke="#555555" stroke-width="0.9"/>
<circle cx="99.56" cy="599.51" r="1.05" fill="#fbb92c"/>
<circle cx="91.89" cy="590.33" r="1.05" fill="#fbb92c"/>
<circle cx="95.54" cy="596.79" r="1.05" fill="#fbb92c"/>
<circle cx="101.82" cy="601.3" r="1.05" fill="#fbb92c"/>
<circle cx="98.86" cy="590.71" r="1.05" fill="#fbb92c"/>
<circle cx="94.94" cy="589.3" r="1.05" fill="#fbb92c"/>
<circle cx="101.97" cy="589.91" r="1.05" fill="#fbb92c"/>
<circle cx="96.09" cy="599.48" r="1.05" fill="#fbb92c"/>
<circle cx="93.36" cy="587.84" r="1.05" fill="#fbb92c"/>
<circle cx="94.43" cy="586.8" r="1.05" fill="#fbb92c"/>
<circle cx="98.44" cy="586.52" r="1.05" fill="#fbb92c"/>
<circle cx="94.46" cy="586.48" r="1.05" fill="#fbb92c"/>
<circle cx="95.93" cy="585.04" r="1.05" fill="#fbb92c"/>
<circle cx="93.62" cy="586.27" r="1.05" fill="#fbb92c"/>
<line x1="121.6" y1="570.9" x2="121.6" y2="581.1" stroke="#8a8a8a" stroke-width="0.8"/>
<line x1="121.6" y1="593.4" x2="121.6" y2="606.6" stroke="#8a8a8a" stroke-width="0.8"/>
<rect x="114.45" y="581.1" width="14.3" height="12.3" fill="#ffffff" stroke="#9a9a9a" stroke-width="0.8" fill-opacity="0.6"/>
<line x1="114.45" y1="586.2" x2="128.75" y2="586.2" stroke="#555555" stroke-width="0.9"/>
<circle cx="122.57" cy="601.98" r="1.05" fill="#fbb92c"/>
<circle cx="118.61" cy="587.83" r="1.05" fill="#fbb92c"/>
<circle cx="125.4" cy="575.62" r="1.05" fill="#fbb92c"/>
<circle cx="119.77" cy="579.04" r="1.05" fill="#fbb92c"/>
<circle cx="125.54" cy="578.43" r="1.05" fill="#fbb92c"/>
<circle cx="126.04" cy="591.47" r="1.05" fill="#fbb92c"/>
<circle cx="127.08" cy="580.86" r="1.05" fill="#fbb92c"/>
<circle cx="117.59" cy="587.61" r="1.05" fill="#fbb92c"/>
<circle cx="121.33" cy="605.77" r="1.05" fill="#fbb92c"/>
<circle cx="124.37" cy="578.24" r="1.05" fill="#fbb92c"/>
<circle cx="122.57" cy="590.7" r="1.05" fill="#fbb92c"/>
<circle cx="123.09" cy="575.19" r="1.05" fill="#fbb92c"/>
<circle cx="124.25" cy="577.4" r="1.05" fill="#fbb92c"/>
<circle cx="120.89" cy="583.07" r="1.05" fill="#fbb92c"/>
<circle cx="123.83" cy="573.13" r="1.05" fill="#fbb92c"/>
<circle cx="121.26" cy="571.33" r="1.05" fill="#fbb92c"/>
<circle cx="117.2" cy="581.77" r="1.05" fill="#fbb92c"/>
<circle cx="117.92" cy="583.33" r="1.05" fill="#fbb92c"/>
<circle cx="120.16" cy="586.82" r="1.05" fill="#fbb92c"/>
<circle cx="118.45" cy="576.92" r="1.05" fill="#fbb92c"/>
<circle cx="120.46" cy="593.41" r="1.05" fill="#fbb92c"/>
<circle cx="116.98" cy="586.14" r="1.05" fill="#fbb92c"/>
<circle cx="116.03" cy="598.34" r="1.05" fill="#fbb92c"/>
<circle cx="122.14" cy="571.87" r="1.05" fill="#fbb92c"/>
<circle cx="127.11" cy="588.25" r="1.05" fill="#fbb92c"/>
<circle cx="125.36" cy="598.93" r="1.05" fill="#fbb92c"/>
<circle cx="117.3" cy="574.67" r="1.05" fill="#fbb92c"/>
<circle cx="127.09" cy="576.65" r="1.05" fill="#fbb92c"/>
<circle cx="119.81" cy="601.43" r="1.05" fill="#fbb92c"/>
<circle cx="116.89" cy="593.41" r="1.05" fill="#fbb92c"/>
<circle cx="117.28" cy="577.17" r="1.05" fill="#fbb92c"/>
<circle cx="120.11" cy="579.99" r="1.05" fill="#fbb92c"/>
<circle cx="119.1" cy="583.88" r="1.05" fill="#fbb92c"/>
<circle cx="127.14" cy="598.41" r="1.05" fill="#fbb92c"/>
<circle cx="118.72" cy="601.26" r="1.05" fill="#fbb92c"/>
<circle cx="120.58" cy="599.95" r="1.05" fill="#fbb92c"/>
<circle cx="121.5" cy="593.21" r="1.05" fill="#fbb92c"/>
<circle cx="117.06" cy="586.97" r="1.05" fill="#fbb92c"/>
<circle cx="119.11" cy="575.42" r="1.05" fill="#fbb92c"/>
<circle cx="115.75" cy="579.33" r="1.05" fill="#fbb92c"/>
<circle cx="126.83" cy="584.47" r="1.05" fill="#fbb92c"/>
<circle cx="118.81" cy="573.41" r="1.05" fill="#fbb92c"/>
<circle cx="119.12" cy="593.26" r="1.05" fill="#fbb92c"/>
<circle cx="123.34" cy="575.74" r="1.05" fill="#fbb92c"/>
<circle cx="117.01" cy="578.48" r="1.05" fill="#fbb92c"/>
<circle cx="122" cy="573.97" r="1.05" fill="#fbb92c"/>
<circle cx="121.96" cy="584.75" r="1.05" fill="#fbb92c"/>
<circle cx="124.54" cy="585.54" r="1.05" fill="#fbb92c"/>
<circle cx="118.63" cy="571.27" r="1.05" fill="#fbb92c"/>
<circle cx="126.26" cy="592.37" r="1.05" fill="#fbb92c"/>
<circle cx="124.94" cy="581.28" r="1.05" fill="#fbb92c"/>
<circle cx="124.1" cy="588.18" r="1.05" fill="#fbb92c"/>
<circle cx="126.55" cy="575.82" r="1.05" fill="#fbb92c"/>
<circle cx="125.83" cy="585.92" r="1.05" fill="#fbb92c"/>
<circle cx="125.56" cy="584.75" r="1.05" fill="#fbb92c"/>
<circle cx="123.94" cy="591.39" r="1.05" fill="#fbb92c"/>
<circle cx="124.97" cy="584.62" r="1.05" fill="#fbb92c"/>
<circle cx="121.34" cy="595.28" r="1.05" fill="#fbb92c"/>
<circle cx="119.57" cy="587.22" r="1.05" fill="#fbb92c"/>
<circle cx="125.35" cy="588.31" r="1.05" fill="#fbb92c"/>
<circle cx="125.44" cy="583.93" r="1.05" fill="#fbb92c"/>
<circle cx="124.52" cy="540.6" r="1.05" fill="#fbb92c"/>
<circle cx="123.24" cy="611.5" r="1.05" fill="#fbb92c"/>
<circle cx="116.85" cy="612.5" r="1.05" fill="#fbb92c"/>
<circle cx="123.83" cy="591" r="1.05" fill="#ee2a1c"/>
<circle cx="126.39" cy="591.3" r="1.05" fill="#ee2a1c"/>
<line x1="147.2" y1="567.8" x2="147.2" y2="579.7" stroke="#8a8a8a" stroke-width="0.8"/>
<line x1="147.2" y1="591.3" x2="147.2" y2="607.7" stroke="#8a8a8a" stroke-width="0.8"/>
<rect x="140.05" y="579.7" width="14.3" height="11.6" fill="#ffffff" stroke="#9a9a9a" stroke-width="0.8" fill-opacity="0.6"/>
<line x1="140.05" y1="588.2" x2="154.35" y2="588.2" stroke="#555555" stroke-width="0.9"/>
<circle cx="141.78" cy="602.8" r="1.05" fill="#fbb92c"/>
<circle cx="148.95" cy="594.9" r="1.05" fill="#fbb92c"/>
<circle cx="142.81" cy="602.98" r="1.05" fill="#fbb92c"/>
<circle cx="142.99" cy="590.35" r="1.05" fill="#fbb92c"/>
<circle cx="143.13" cy="572.73" r="1.05" fill="#fbb92c"/>
<circle cx="142.49" cy="568.32" r="1.05" fill="#fbb92c"/>
<circle cx="141.89" cy="580.54" r="1.05" fill="#fbb92c"/>
<circle cx="151.75" cy="576.63" r="1.05" fill="#fbb92c"/>
<circle cx="144.97" cy="584.71" r="1.05" fill="#fbb92c"/>
<circle cx="152.47" cy="573.63" r="1.05" fill="#fbb92c"/>
<circle cx="149.57" cy="580.35" r="1.05" fill="#fbb92c"/>
<circle cx="147.27" cy="587.02" r="1.05" fill="#fbb92c"/>
<circle cx="148.65" cy="600.4" r="1.05" fill="#fbb92c"/>
<circle cx="144.25" cy="586.1" r="1.05" fill="#fbb92c"/>
<circle cx="142.8" cy="573.95" r="1.05" fill="#fbb92c"/>
<circle cx="150.04" cy="584.01" r="1.05" fill="#fbb92c"/>
<circle cx="149.06" cy="587.97" r="1.05" fill="#fbb92c"/>
<circle cx="142.29" cy="587.45" r="1.05" fill="#fbb92c"/>
<circle cx="144.06" cy="586.59" r="1.05" fill="#fbb92c"/>
<circle cx="145.08" cy="599.18" r="1.05" fill="#fbb92c"/>
<circle cx="149.9" cy="568.15" r="1.05" fill="#fbb92c"/>
<circle cx="152.63" cy="581.45" r="1.05" fill="#fbb92c"/>
<circle cx="142.59" cy="570.45" r="1.05" fill="#fbb92c"/>
<circle cx="151.05" cy="602.21" r="1.05" fill="#fbb92c"/>
<circle cx="145.45" cy="586.95" r="1.05" fill="#fbb92c"/>
<circle cx="148.57" cy="583.57" r="1.05" fill="#fbb92c"/>
<circle cx="145.69" cy="578.4" r="1.05" fill="#ee2a1c"/>
<circle cx="146.06" cy="588.7" r="1.05" fill="#ee2a1c"/>
<text stroke="#1a1a1a" stroke-width="0.25" x="45.2" y="615.6" font-size="7.8" fill="#1a1a1a" text-anchor="middle">n=15</text>
<text stroke="#1a1a1a" stroke-width="0.25" x="70.6" y="615.6" font-size="7.8" fill="#1a1a1a" text-anchor="middle">n=24</text>
<text stroke="#1a1a1a" stroke-width="0.25" x="96.1" y="615.6" font-size="7.8" fill="#1a1a1a" text-anchor="middle">n=14</text>
<text stroke="#1a1a1a" stroke-width="0.25" x="121.6" y="615.6" font-size="7.8" fill="#1a1a1a" text-anchor="middle">n=66</text>
<text stroke="#1a1a1a" stroke-width="0.25" x="147.2" y="615.6" font-size="7.8" fill="#1a1a1a" text-anchor="middle">n=28</text>
<text stroke="#1a1a1a" stroke-width="0.25" x="56.1" y="551" font-size="7.5" fill="#1a1a1a"><tspan font-style="italic">p</tspan>=0.0006</text>
<text stroke="#1a1a1a" stroke-width="0.25" x="79.2" y="578" font-size="7.5" fill="#1a1a1a"><tspan font-style="italic">p</tspan>=2.6×10<tspan font-size="5.25" dy="-3">−6</tspan></text>
<text stroke="#1a1a1a" stroke-width="0.25" x="104.3" y="566.8" font-size="7.5" fill="#1a1a1a"><tspan font-style="italic">p</tspan>=1.5×10<tspan font-size="5.25" dy="-3">−5</tspan></text>
<text stroke="#1a1a1a" stroke-width="0.25" x="135.4" y="557.6" font-size="7.5" fill="#1a1a1a"><tspan font-style="italic">p</tspan>=0.0003</text>
<text stroke="#1a1a1a" stroke-width="0.25" x="49" y="628.4" font-size="8.2" fill="#1a1a1a" text-anchor="end" transform="rotate(-45 49 628.4)">WT</text>
<text stroke="#3f9de8" stroke-width="0.25" x="74.4" y="628.4" font-size="8.2" fill="#3f9de8" text-anchor="end" transform="rotate(-45 74.4 628.4)">TraesKN2B01HG02840</text>
<text stroke="#1a1a1a" stroke-width="0.25" x="99.9" y="628.4" font-size="8.2" fill="#1a1a1a" text-anchor="end" transform="rotate(-45 99.9 628.4)">TraesKN6A01HG06550</text>
<text stroke="#a955ee" stroke-width="0.25" x="125.4" y="628.4" font-size="8.2" fill="#a955ee" text-anchor="end" transform="rotate(-45 125.4 628.4)">TraesKN6A01HG11540</text>
<text stroke="#eb9a2e" stroke-width="0.25" x="151" y="628.4" font-size="8.2" fill="#eb9a2e" text-anchor="end" transform="rotate(-45 151 628.4)">TraesKN6A01HG11620</text>
<line x1="206.4" y1="538.5" x2="206.4" y2="616.6" stroke="#bdbdbd" stroke-width="1.6"/>
<line x1="203.4" y1="541" x2="206.4" y2="541" stroke="#777" stroke-width="0.9"/>
<text stroke="#1a1a1a" stroke-width="0.18" x="200.2" y="544.1" font-size="8.6" fill="#1a1a1a" text-anchor="end">4.0</text>
<line x1="203.4" y1="565" x2="206.4" y2="565" stroke="#777" stroke-width="0.9"/>
<text stroke="#1a1a1a" stroke-width="0.18" x="200.2" y="568.1" font-size="8.6" fill="#1a1a1a" text-anchor="end">3.5</text>
<line x1="203.4" y1="589.3" x2="206.4" y2="589.3" stroke="#777" stroke-width="0.9"/>
<text stroke="#1a1a1a" stroke-width="0.18" x="200.2" y="592.4" font-size="8.6" fill="#1a1a1a" text-anchor="end">3.0</text>
<line x1="203.4" y1="613.8" x2="206.4" y2="613.8" stroke="#777" stroke-width="0.9"/>
<text stroke="#1a1a1a" stroke-width="0.18" x="200.2" y="616.9" font-size="8.6" fill="#1a1a1a" text-anchor="end">2.5</text>
<text stroke="#1a1a1a" stroke-width="0.12" x="183.4" y="577" font-size="10" fill="#1a1a1a" text-anchor="middle" transform="rotate(-90 183.4 577)">GW</text>
<line x1="206.4" y1="616.6" x2="671" y2="616.6" stroke="#bdbdbd" stroke-width="1.6"/>
<line x1="222.2" y1="616.6" x2="222.2" y2="619.6" stroke="#777" stroke-width="0.9"/>
<line x1="249.23" y1="616.6" x2="249.23" y2="619.6" stroke="#777" stroke-width="0.9"/>
<line x1="276.26" y1="616.6" x2="276.26" y2="619.6" stroke="#777" stroke-width="0.9"/>
<line x1="303.29" y1="616.6" x2="303.29" y2="619.6" stroke="#777" stroke-width="0.9"/>
<line x1="330.32" y1="616.6" x2="330.32" y2="619.6" stroke="#777" stroke-width="0.9"/>
<line x1="357.35" y1="616.6" x2="357.35" y2="619.6" stroke="#777" stroke-width="0.9"/>
<line x1="384.38" y1="616.6" x2="384.38" y2="619.6" stroke="#777" stroke-width="0.9"/>
<line x1="411.41" y1="616.6" x2="411.41" y2="619.6" stroke="#777" stroke-width="0.9"/>
<line x1="438.44" y1="616.6" x2="438.44" y2="619.6" stroke="#777" stroke-width="0.9"/>
<line x1="465.47" y1="616.6" x2="465.47" y2="619.6" stroke="#777" stroke-width="0.9"/>
<line x1="492.5" y1="616.6" x2="492.5" y2="619.6" stroke="#777" stroke-width="0.9"/>
<line x1="519.53" y1="616.6" x2="519.53" y2="619.6" stroke="#777" stroke-width="0.9"/>
<line x1="546.56" y1="616.6" x2="546.56" y2="619.6" stroke="#777" stroke-width="0.9"/>
<line x1="573.59" y1="616.6" x2="573.59" y2="619.6" stroke="#777" stroke-width="0.9"/>
<line x1="600.62" y1="616.6" x2="600.62" y2="619.6" stroke="#777" stroke-width="0.9"/>
<line x1="627.65" y1="616.6" x2="627.65" y2="619.6" stroke="#777" stroke-width="0.9"/>
<line x1="654.68" y1="616.6" x2="654.68" y2="619.6" stroke="#777" stroke-width="0.9"/>
<line x1="222.2" y1="556.2" x2="222.2" y2="562.1" stroke="#8a8a8a" stroke-width="0.8"/>
<line x1="222.2" y1="566.8" x2="222.2" y2="570.5" stroke="#8a8a8a" stroke-width="0.8"/>
<rect x="215.1" y="562.1" width="14.2" height="4.7" fill="#ffffff" stroke="#9a9a9a" stroke-width="0.8" fill-opacity="0.6"/>
<line x1="215.1" y1="564.3" x2="229.3" y2="564.3" stroke="#555555" stroke-width="0.9"/>
<circle cx="223.96" cy="566.01" r="1.05" fill="#35b3d1"/>
<circle cx="226.39" cy="568.4" r="1.05" fill="#35b3d1"/>
<circle cx="223.07" cy="564.89" r="1.05" fill="#35b3d1"/>
<circle cx="217.39" cy="558.53" r="1.05" fill="#35b3d1"/>
<circle cx="216.71" cy="563.05" r="1.05" fill="#35b3d1"/>
<circle cx="225.31" cy="568.58" r="1.05" fill="#35b3d1"/>
<circle cx="226.85" cy="564.31" r="1.05" fill="#35b3d1"/>
<circle cx="221.79" cy="558.73" r="1.05" fill="#35b3d1"/>
<circle cx="218.13" cy="562.83" r="1.05" fill="#35b3d1"/>
<circle cx="226.74" cy="563.91" r="1.05" fill="#35b3d1"/>
<circle cx="219.55" cy="563.29" r="1.05" fill="#35b3d1"/>
<circle cx="219.04" cy="563.45" r="1.05" fill="#35b3d1"/>
<circle cx="227.26" cy="562.25" r="1.05" fill="#35b3d1"/>
<circle cx="224.44" cy="566.51" r="1.05" fill="#35b3d1"/>
<circle cx="227.51" cy="558.98" r="1.05" fill="#35b3d1"/>
<line x1="249.23" y1="563.5" x2="249.23" y2="566.8" stroke="#8a8a8a" stroke-width="0.8"/>
<line x1="249.23" y1="572.3" x2="249.23" y2="574.5" stroke="#8a8a8a" stroke-width="0.8"/>
<rect x="242.13" y="566.8" width="14.2" height="5.5" fill="#ffffff" stroke="#9a9a9a" stroke-width="0.8" fill-opacity="0.6"/>
<line x1="242.13" y1="569.2" x2="256.33" y2="569.2" stroke="#555555" stroke-width="0.9"/>
<circle cx="246.74" cy="570.48" r="1.05" fill="#fbb92c"/>
<circle cx="245.21" cy="565.91" r="1.05" fill="#fbb92c"/>
<circle cx="246.02" cy="566.94" r="1.05" fill="#fbb92c"/>
<circle cx="254.88" cy="569.01" r="1.05" fill="#fbb92c"/>
<circle cx="248.85" cy="568.52" r="1.05" fill="#fbb92c"/>
<circle cx="251.83" cy="570.83" r="1.05" fill="#fbb92c"/>
<circle cx="251.28" cy="568.12" r="1.05" fill="#fbb92c"/>
<circle cx="248.4" cy="573.72" r="1.05" fill="#fbb92c"/>
<circle cx="243.99" cy="572.31" r="1.05" fill="#fbb92c"/>
<line x1="276.26" y1="560" x2="276.26" y2="565.2" stroke="#8a8a8a" stroke-width="0.8"/>
<line x1="276.26" y1="572.5" x2="276.26" y2="582.1" stroke="#8a8a8a" stroke-width="0.8"/>
<rect x="269.16" y="565.2" width="14.2" height="7.3" fill="#ffffff" stroke="#9a9a9a" stroke-width="0.8" fill-opacity="0.6"/>
<line x1="269.16" y1="568.4" x2="283.36" y2="568.4" stroke="#555555" stroke-width="0.9"/>
<circle cx="270.83" cy="562.13" r="1.05" fill="#fbb92c"/>
<circle cx="276.49" cy="572.42" r="1.05" fill="#fbb92c"/>
<circle cx="271.15" cy="565.88" r="1.05" fill="#fbb92c"/>
<circle cx="281.46" cy="577.22" r="1.05" fill="#fbb92c"/>
<circle cx="270.9" cy="566.98" r="1.05" fill="#fbb92c"/>
<circle cx="273.34" cy="565.64" r="1.05" fill="#fbb92c"/>
<circle cx="270.91" cy="567.43" r="1.05" fill="#fbb92c"/>
<circle cx="272.44" cy="572.29" r="1.05" fill="#fbb92c"/>
<circle cx="276.63" cy="568.14" r="1.05" fill="#fbb92c"/>
<circle cx="271.58" cy="567.49" r="1.05" fill="#fbb92c"/>
<circle cx="277.43" cy="571.93" r="1.05" fill="#fbb92c"/>
<circle cx="270.5" cy="574.56" r="1.05" fill="#fbb92c"/>
<circle cx="277.11" cy="568.75" r="1.05" fill="#fbb92c"/>
<circle cx="278.95" cy="569.76" r="1.05" fill="#fbb92c"/>
<circle cx="275.65" cy="575.45" r="1.05" fill="#fbb92c"/>
<circle cx="271.68" cy="574.65" r="1.05" fill="#fbb92c"/>
<circle cx="279.51" cy="565.84" r="1.05" fill="#fbb92c"/>
<circle cx="271.84" cy="575.5" r="1.05" fill="#fbb92c"/>
<circle cx="271.3" cy="566.99" r="1.05" fill="#fbb92c"/>
<circle cx="273.22" cy="569.41" r="1.05" fill="#fbb92c"/>
<circle cx="270.87" cy="570.31" r="1.05" fill="#fbb92c"/>
<circle cx="274.75" cy="567.29" r="1.05" fill="#fbb92c"/>
<circle cx="274.04" cy="568.27" r="1.05" fill="#fbb92c"/>
<circle cx="280.98" cy="562.89" r="1.05" fill="#fbb92c"/>
<circle cx="277.15" cy="563.95" r="1.05" fill="#fbb92c"/>
<circle cx="278.11" cy="571.16" r="1.05" fill="#fbb92c"/>
<circle cx="278.66" cy="579.49" r="1.05" fill="#fbb92c"/>
<circle cx="273.95" cy="592" r="1.05" fill="#fbb92c"/>
<circle cx="279.36" cy="596" r="1.05" fill="#fbb92c"/>
<line x1="303.29" y1="561.7" x2="303.29" y2="567.4" stroke="#8a8a8a" stroke-width="0.8"/>
<line x1="303.29" y1="576" x2="303.29" y2="578.5" stroke="#8a8a8a" stroke-width="0.8"/>
<rect x="296.19" y="567.4" width="14.2" height="8.6" fill="#ffffff" stroke="#9a9a9a" stroke-width="0.8" fill-opacity="0.6"/>
<line x1="296.19" y1="571.9" x2="310.39" y2="571.9" stroke="#555555" stroke-width="0.9"/>
<circle cx="298.11" cy="568.52" r="1.05" fill="#fbb92c"/>
<circle cx="305.39" cy="569.66" r="1.05" fill="#fbb92c"/>
<circle cx="306.44" cy="567.95" r="1.05" fill="#fbb92c"/>
<circle cx="297.93" cy="561.86" r="1.05" fill="#fbb92c"/>
<circle cx="307.58" cy="570.47" r="1.05" fill="#fbb92c"/>
<circle cx="300.08" cy="577.53" r="1.05" fill="#fbb92c"/>
<circle cx="301.27" cy="570.52" r="1.05" fill="#fbb92c"/>
<circle cx="307.19" cy="572.43" r="1.05" fill="#fbb92c"/>
<circle cx="303.65" cy="562.24" r="1.05" fill="#fbb92c"/>
<circle cx="302.65" cy="573.5" r="1.05" fill="#fbb92c"/>
<circle cx="298.74" cy="577.99" r="1.05" fill="#fbb92c"/>
<circle cx="302.82" cy="575.27" r="1.05" fill="#fbb92c"/>
<circle cx="306.48" cy="571.2" r="1.05" fill="#fbb92c"/>
<circle cx="308.89" cy="577.33" r="1.05" fill="#fbb92c"/>
<circle cx="307.04" cy="562.29" r="1.05" fill="#fbb92c"/>
<circle cx="308.99" cy="567.85" r="1.05" fill="#fbb92c"/>
<circle cx="303.08" cy="572.36" r="1.05" fill="#fbb92c"/>
<circle cx="299.9" cy="576.98" r="1.05" fill="#fbb92c"/>
<circle cx="304.03" cy="569.13" r="1.05" fill="#fbb92c"/>
<circle cx="300.21" cy="573.86" r="1.05" fill="#fbb92c"/>
<circle cx="309.04" cy="569.53" r="1.05" fill="#fbb92c"/>
<circle cx="304.7" cy="578.12" r="1.05" fill="#fbb92c"/>
<circle cx="302.3" cy="593.5" r="1.05" fill="#fbb92c"/>
<circle cx="299.74" cy="597" r="1.05" fill="#fbb92c"/>
<line x1="330.32" y1="558.6" x2="330.32" y2="563.3" stroke="#8a8a8a" stroke-width="0.8"/>
<line x1="330.32" y1="572.5" x2="330.32" y2="577.4" stroke="#8a8a8a" stroke-width="0.8"/>
<rect x="323.22" y="563.3" width="14.2" height="9.2" fill="#ffffff" stroke="#9a9a9a" stroke-width="0.8" fill-opacity="0.6"/>
<line x1="323.22" y1="568.2" x2="337.42" y2="568.2" stroke="#555555" stroke-width="0.9"/>
<circle cx="324.81" cy="574.9" r="1.05" fill="#fbb92c"/>
<circle cx="332.92" cy="564.21" r="1.05" fill="#fbb92c"/>
<circle cx="333.86" cy="573.48" r="1.05" fill="#fbb92c"/>
<circle cx="334.65" cy="569.58" r="1.05" fill="#fbb92c"/>
<circle cx="328.85" cy="562.36" r="1.05" fill="#fbb92c"/>
<circle cx="331.35" cy="568.01" r="1.05" fill="#fbb92c"/>
<circle cx="328.14" cy="566.88" r="1.05" fill="#fbb92c"/>
<circle cx="328.92" cy="566.17" r="1.05" fill="#fbb92c"/>
<circle cx="329.12" cy="569.77" r="1.05" fill="#fbb92c"/>
<circle cx="335.38" cy="576.5" r="1.05" fill="#fbb92c"/>
<circle cx="330.76" cy="561.75" r="1.05" fill="#fbb92c"/>
<circle cx="331.44" cy="560.31" r="1.05" fill="#fbb92c"/>
<circle cx="327.75" cy="561.05" r="1.05" fill="#fbb92c"/>
<circle cx="328.6" cy="564.1" r="1.05" fill="#fbb92c"/>
<circle cx="332.88" cy="562.17" r="1.05" fill="#fbb92c"/>
<circle cx="327.63" cy="571.85" r="1.05" fill="#fbb92c"/>
<circle cx="333.34" cy="558.94" r="1.05" fill="#fbb92c"/>
<circle cx="335.06" cy="563.1" r="1.05" fill="#fbb92c"/>
<circle cx="333.17" cy="562.54" r="1.05" fill="#fbb92c"/>
<circle cx="330.52" cy="559.58" r="1.05" fill="#fbb92c"/>
<circle cx="335.98" cy="573.67" r="1.05" fill="#fbb92c"/>
<circle cx="324.39" cy="566.92" r="1.05" fill="#fbb92c"/>
<circle cx="332.15" cy="564.94" r="1.05" fill="#fbb92c"/>
<circle cx="331.67" cy="576.96" r="1.05" fill="#fbb92c"/>
<circle cx="332.57" cy="564.3" r="1.05" fill="#fbb92c"/>
<circle cx="328.82" cy="561.96" r="1.05" fill="#fbb92c"/>
<circle cx="328" cy="573.54" r="1.05" fill="#fbb92c"/>
<circle cx="335.06" cy="569.02" r="1.05" fill="#fbb92c"/>
<circle cx="333.5" cy="569.12" r="1.05" fill="#fbb92c"/>
<circle cx="327.58" cy="595" r="1.05" fill="#fbb92c"/>
<circle cx="325.97" cy="570" r="1.05" fill="#ee2a1c"/>
<line x1="357.35" y1="559.2" x2="357.35" y2="566.4" stroke="#8a8a8a" stroke-width="0.8"/>
<line x1="357.35" y1="573.5" x2="357.35" y2="582.7" stroke="#8a8a8a" stroke-width="0.8"/>
<rect x="350.25" y="566.4" width="14.2" height="7.1" fill="#ffffff" stroke="#9a9a9a" stroke-width="0.8" fill-opacity="0.6"/>
<line x1="350.25" y1="569.9" x2="364.45" y2="569.9" stroke="#555555" stroke-width="0.9"/>
<circle cx="361.87" cy="565.18" r="1.05" fill="#fbb92c"/>
<circle cx="356.46" cy="562.2" r="1.05" fill="#fbb92c"/>
<circle cx="354.99" cy="572.82" r="1.05" fill="#fbb92c"/>
<circle cx="362.92" cy="570.7" r="1.05" fill="#fbb92c"/>
<circle cx="352.76" cy="566.62" r="1.05" fill="#fbb92c"/>
<circle cx="353.58" cy="563.54" r="1.05" fill="#fbb92c"/>
<circle cx="359.1" cy="570.62" r="1.05" fill="#fbb92c"/>
<circle cx="352.12" cy="564.45" r="1.05" fill="#fbb92c"/>
<circle cx="362.8" cy="572.33" r="1.05" fill="#fbb92c"/>
<circle cx="359.08" cy="572.44" r="1.05" fill="#fbb92c"/>
<circle cx="359.7" cy="575.61" r="1.05" fill="#fbb92c"/>
<circle cx="352.59" cy="577.89" r="1.05" fill="#fbb92c"/>
<circle cx="352.49" cy="567.51" r="1.05" fill="#fbb92c"/>
<circle cx="352.64" cy="570.77" r="1.05" fill="#fbb92c"/>
<circle cx="359.92" cy="592" r="1.05" fill="#fbb92c"/>
<line x1="384.38" y1="564.3" x2="384.38" y2="570.5" stroke="#8a8a8a" stroke-width="0.8"/>
<line x1="384.38" y1="576.4" x2="384.38" y2="579" stroke="#8a8a8a" stroke-width="0.8"/>
<rect x="377.28" y="570.5" width="14.2" height="5.9" fill="#ffffff" stroke="#9a9a9a" stroke-width="0.8" fill-opacity="0.6"/>
<line x1="377.28" y1="573.3" x2="391.48" y2="573.3" stroke="#555555" stroke-width="0.9"/>
<circle cx="388" cy="569.36" r="1.05" fill="#fbb92c"/>
<circle cx="389.83" cy="570.03" r="1.05" fill="#fbb92c"/>
<circle cx="379.65" cy="570.28" r="1.05" fill="#fbb92c"/>
<circle cx="380.88" cy="570.88" r="1.05" fill="#fbb92c"/>
<circle cx="386.53" cy="573.21" r="1.05" fill="#fbb92c"/>
<circle cx="383.23" cy="564.82" r="1.05" fill="#fbb92c"/>
<circle cx="384.81" cy="577" r="1.05" fill="#ee2a1c"/>
<line x1="411.41" y1="568" x2="411.41" y2="570.9" stroke="#8a8a8a" stroke-width="0.8"/>
<line x1="411.41" y1="572.9" x2="411.41" y2="575" stroke="#8a8a8a" stroke-width="0.8"/>
<rect x="404.31" y="570.9" width="14.2" height="2" fill="#ffffff" stroke="#9a9a9a" stroke-width="0.8" fill-opacity="0.6"/>
<line x1="404.31" y1="571.9" x2="418.51" y2="571.9" stroke="#555555" stroke-width="0.9"/>
<circle cx="412.57" cy="571.14" r="1.05" fill="#fbb92c"/>
<circle cx="411.36" cy="572.27" r="1.05" fill="#fbb92c"/>
<circle cx="406.31" cy="574.88" r="1.05" fill="#fbb92c"/>
<circle cx="408.98" cy="570.09" r="1.05" fill="#fbb92c"/>
<circle cx="409.67" cy="571.86" r="1.05" fill="#fbb92c"/>
<circle cx="410" cy="570.66" r="1.05" fill="#fbb92c"/>
<circle cx="413.76" cy="571.9" r="1.05" fill="#fbb92c"/>
<circle cx="408.98" cy="569.67" r="1.05" fill="#fbb92c"/>
<circle cx="411.64" cy="572.6" r="1.05" fill="#fbb92c"/>
<circle cx="406.94" cy="571.2" r="1.05" fill="#ee2a1c"/>
<line x1="438.44" y1="559.6" x2="438.44" y2="563.3" stroke="#8a8a8a" stroke-width="0.8"/>
<line x1="438.44" y1="571.5" x2="438.44" y2="583.5" stroke="#8a8a8a" stroke-width="0.8"/>
<rect x="431.34" y="563.3" width="14.2" height="8.2" fill="#ffffff" stroke="#9a9a9a" stroke-width="0.8" fill-opacity="0.6"/>
<line x1="431.34" y1="566.4" x2="445.54" y2="566.4" stroke="#555555" stroke-width="0.9"/>
<circle cx="440.42" cy="565.25" r="1.05" fill="#fbb92c"/>
<circle cx="433.62" cy="565.52" r="1.05" fill="#fbb92c"/>
<circle cx="438.93" cy="571.37" r="1.05" fill="#fbb92c"/>
<circle cx="433.57" cy="570.96" r="1.05" fill="#fbb92c"/>
<circle cx="432.54" cy="569.95" r="1.05" fill="#fbb92c"/>
<circle cx="432.67" cy="560.94" r="1.05" fill="#fbb92c"/>
<circle cx="437.04" cy="567.06" r="1.05" fill="#fbb92c"/>
<circle cx="435.08" cy="563.74" r="1.05" fill="#fbb92c"/>
<circle cx="438.1" cy="576.81" r="1.05" fill="#fbb92c"/>
<circle cx="443.86" cy="565.59" r="1.05" fill="#fbb92c"/>
<circle cx="433.11" cy="561.48" r="1.05" fill="#fbb92c"/>
<circle cx="437.66" cy="569.68" r="1.05" fill="#fbb92c"/>
<circle cx="440.17" cy="562.94" r="1.05" fill="#fbb92c"/>
<circle cx="432.76" cy="559.73" r="1.05" fill="#fbb92c"/>
<circle cx="442.9" cy="561.13" r="1.05" fill="#fbb92c"/>
<circle cx="436.99" cy="582.48" r="1.05" fill="#fbb92c"/>
<circle cx="443.11" cy="580.57" r="1.05" fill="#fbb92c"/>
<circle cx="437.51" cy="569.7" r="1.05" fill="#fbb92c"/>
<circle cx="435.06" cy="583.43" r="1.05" fill="#fbb92c"/>
<circle cx="438.08" cy="565.52" r="1.05" fill="#fbb92c"/>
<circle cx="433.95" cy="568.77" r="1.05" fill="#fbb92c"/>
<circle cx="433.36" cy="567.05" r="1.05" fill="#fbb92c"/>
<circle cx="443.04" cy="570.66" r="1.05" fill="#fbb92c"/>
<circle cx="442.36" cy="563.45" r="1.05" fill="#fbb92c"/>
<circle cx="434.1" cy="578.69" r="1.05" fill="#fbb92c"/>
<circle cx="443.66" cy="570.85" r="1.05" fill="#fbb92c"/>
<circle cx="437.59" cy="564.82" r="1.05" fill="#fbb92c"/>
<circle cx="436.92" cy="569.48" r="1.05" fill="#fbb92c"/>
<circle cx="438.66" cy="560.16" r="1.05" fill="#fbb92c"/>
<circle cx="433.55" cy="579.92" r="1.05" fill="#fbb92c"/>
<circle cx="436.95" cy="568.58" r="1.05" fill="#fbb92c"/>
<circle cx="439.41" cy="567.22" r="1.05" fill="#fbb92c"/>
<circle cx="439.26" cy="574.39" r="1.05" fill="#fbb92c"/>
<circle cx="441.2" cy="567.77" r="1.05" fill="#fbb92c"/>
<circle cx="440.89" cy="567.25" r="1.05" fill="#fbb92c"/>
<circle cx="437.47" cy="569.62" r="1.05" fill="#fbb92c"/>
<circle cx="441.93" cy="568.31" r="1.05" fill="#fbb92c"/>
<circle cx="432.93" cy="567.4" r="1.05" fill="#fbb92c"/>
<circle cx="432.73" cy="566.14" r="1.05" fill="#fbb92c"/>
<circle cx="440.29" cy="566.99" r="1.05" fill="#fbb92c"/>
<circle cx="438.8" cy="575.95" r="1.05" fill="#fbb92c"/>
<circle cx="443.8" cy="563.07" r="1.05" fill="#fbb92c"/>
<circle cx="434.46" cy="575.12" r="1.05" fill="#fbb92c"/>
<circle cx="437.83" cy="572.43" r="1.05" fill="#fbb92c"/>
<circle cx="437.11" cy="561.56" r="1.05" fill="#fbb92c"/>
<circle cx="439.06" cy="575.09" r="1.05" fill="#fbb92c"/>
<circle cx="441.72" cy="594" r="1.05" fill="#fbb92c"/>
<line x1="465.47" y1="565" x2="465.47" y2="566.8" stroke="#8a8a8a" stroke-width="0.8"/>
<line x1="465.47" y1="576" x2="465.47" y2="583.5" stroke="#8a8a8a" stroke-width="0.8"/>
<rect x="458.37" y="566.8" width="14.2" height="9.2" fill="#ffffff" stroke="#9a9a9a" stroke-width="0.8" fill-opacity="0.6"/>
<line x1="458.37" y1="571.3" x2="472.57" y2="571.3" stroke="#555555" stroke-width="0.9"/>
<circle cx="465.4" cy="570.03" r="1.05" fill="#fbb92c"/>
<circle cx="464.92" cy="565.37" r="1.05" fill="#fbb92c"/>
<circle cx="463.59" cy="567.61" r="1.05" fill="#fbb92c"/>
<circle cx="462.65" cy="575.7" r="1.05" fill="#fbb92c"/>
<circle cx="468.35" cy="574.01" r="1.05" fill="#fbb92c"/>
<circle cx="466.97" cy="574.43" r="1.05" fill="#fbb92c"/>
<circle cx="462.44" cy="572.59" r="1.05" fill="#fbb92c"/>
<circle cx="464.74" cy="574.86" r="1.05" fill="#fbb92c"/>
<circle cx="461.14" cy="577.33" r="1.05" fill="#fbb92c"/>
<circle cx="466.2" cy="573.61" r="1.05" fill="#fbb92c"/>
<circle cx="469.34" cy="567.2" r="1.05" fill="#fbb92c"/>
<circle cx="459.98" cy="574.82" r="1.05" fill="#fbb92c"/>
<circle cx="468.11" cy="565.21" r="1.05" fill="#fbb92c"/>
<line x1="492.5" y1="558.6" x2="492.5" y2="565.4" stroke="#8a8a8a" stroke-width="0.8"/>
<line x1="492.5" y1="572.5" x2="492.5" y2="579.7" stroke="#8a8a8a" stroke-width="0.8"/>
<rect x="485.4" y="565.4" width="14.2" height="7.1" fill="#ffffff" stroke="#9a9a9a" stroke-width="0.8" fill-opacity="0.6"/>
<line x1="485.4" y1="567.8" x2="499.6" y2="567.8" stroke="#555555" stroke-width="0.9"/>
<circle cx="489.18" cy="562.76" r="1.05" fill="#fbb92c"/>
<circle cx="487.3" cy="573.3" r="1.05" fill="#fbb92c"/>
<circle cx="487.33" cy="559.23" r="1.05" fill="#fbb92c"/>
<circle cx="497.18" cy="570.01" r="1.05" fill="#fbb92c"/>
<circle cx="494.21" cy="559.07" r="1.05" fill="#fbb92c"/>
<circle cx="495.54" cy="573.37" r="1.05" fill="#fbb92c"/>
<circle cx="486.55" cy="567.52" r="1.05" fill="#fbb92c"/>
<circle cx="497.29" cy="562.11" r="1.05" fill="#fbb92c"/>
<circle cx="489.12" cy="566.5" r="1.05" fill="#fbb92c"/>
<circle cx="488.98" cy="572.12" r="1.05" fill="#fbb92c"/>
<circle cx="487.48" cy="567.9" r="1.05" fill="#fbb92c"/>
<circle cx="494.3" cy="569.81" r="1.05" fill="#fbb92c"/>
<circle cx="492.4" cy="566.39" r="1.05" fill="#fbb92c"/>
<circle cx="493.37" cy="561.64" r="1.05" fill="#fbb92c"/>
<circle cx="489.73" cy="573.54" r="1.05" fill="#fbb92c"/>
<circle cx="497.27" cy="569.21" r="1.05" fill="#fbb92c"/>
<circle cx="491.54" cy="563.1" r="1.05" fill="#fbb92c"/>
<circle cx="490.04" cy="564.28" r="1.05" fill="#fbb92c"/>
<circle cx="490.8" cy="567.24" r="1.05" fill="#fbb92c"/>
<circle cx="494.04" cy="574.41" r="1.05" fill="#fbb92c"/>
<circle cx="487.93" cy="565.1" r="1.05" fill="#fbb92c"/>
<circle cx="487.76" cy="560.89" r="1.05" fill="#fbb92c"/>
<circle cx="493.48" cy="564.34" r="1.05" fill="#fbb92c"/>
<circle cx="491.12" cy="572.3" r="1.05" fill="#fbb92c"/>
<circle cx="489.65" cy="563.52" r="1.05" fill="#fbb92c"/>
<circle cx="487.68" cy="567.74" r="1.05" fill="#fbb92c"/>
<circle cx="491.43" cy="570.49" r="1.05" fill="#fbb92c"/>
<circle cx="490.13" cy="572.95" r="1.05" fill="#fbb92c"/>
<circle cx="495.97" cy="572.1" r="1.05" fill="#fbb92c"/>
<circle cx="487.78" cy="576.15" r="1.05" fill="#fbb92c"/>
<circle cx="486.86" cy="567.01" r="1.05" fill="#fbb92c"/>
<circle cx="487.82" cy="560.57" r="1.05" fill="#fbb92c"/>
<circle cx="497.82" cy="572.03" r="1.05" fill="#fbb92c"/>
<circle cx="495.71" cy="566.13" r="1.05" fill="#fbb92c"/>
<circle cx="487.53" cy="569.22" r="1.05" fill="#fbb92c"/>
<circle cx="491.75" cy="576.41" r="1.05" fill="#fbb92c"/>
<circle cx="498.14" cy="569.31" r="1.05" fill="#fbb92c"/>
<circle cx="492.67" cy="566.89" r="1.05" fill="#fbb92c"/>
<circle cx="494.1" cy="575.25" r="1.05" fill="#fbb92c"/>
<circle cx="496.21" cy="574.84" r="1.05" fill="#fbb92c"/>
<circle cx="487.18" cy="566.39" r="1.05" fill="#fbb92c"/>
<circle cx="491.82" cy="575.86" r="1.05" fill="#fbb92c"/>
<circle cx="492.5" cy="576.63" r="1.05" fill="#fbb92c"/>
<circle cx="489.59" cy="570.68" r="1.05" fill="#fbb92c"/>
<circle cx="493.75" cy="570.79" r="1.05" fill="#fbb92c"/>
<circle cx="494.83" cy="566.84" r="1.05" fill="#fbb92c"/>
<circle cx="498.43" cy="559.3" r="1.05" fill="#fbb92c"/>
<circle cx="487.61" cy="566.59" r="1.05" fill="#fbb92c"/>
<circle cx="496.76" cy="569.8" r="1.05" fill="#fbb92c"/>
<circle cx="487.79" cy="570.36" r="1.05" fill="#fbb92c"/>
<circle cx="490.79" cy="560.31" r="1.05" fill="#fbb92c"/>
<circle cx="487.99" cy="570.52" r="1.05" fill="#fbb92c"/>
<circle cx="493.59" cy="560.89" r="1.05" fill="#fbb92c"/>
<circle cx="496.96" cy="561.92" r="1.05" fill="#fbb92c"/>
<circle cx="490.52" cy="574.53" r="1.05" fill="#fbb92c"/>
<circle cx="491.55" cy="573.46" r="1.05" fill="#fbb92c"/>
<circle cx="488.07" cy="572.33" r="1.05" fill="#fbb92c"/>
<circle cx="495.22" cy="563.75" r="1.05" fill="#fbb92c"/>
<circle cx="490.26" cy="572.1" r="1.05" fill="#fbb92c"/>
<circle cx="491.56" cy="577.26" r="1.05" fill="#fbb92c"/>
<circle cx="490.59" cy="577.37" r="1.05" fill="#fbb92c"/>
<circle cx="494.8" cy="590.3" r="1.05" fill="#fbb92c"/>
<circle cx="492.55" cy="592" r="1.05" fill="#fbb92c"/>
<circle cx="494.6" cy="594.4" r="1.05" fill="#fbb92c"/>
<circle cx="493.64" cy="566" r="1.05" fill="#ee2a1c"/>
<circle cx="495.44" cy="571" r="1.05" fill="#ee2a1c"/>
<line x1="519.53" y1="559.6" x2="519.53" y2="565.2" stroke="#8a8a8a" stroke-width="0.8"/>
<line x1="519.53" y1="570.5" x2="519.53" y2="580.1" stroke="#8a8a8a" stroke-width="0.8"/>
<rect x="512.43" y="565.2" width="14.2" height="5.3" fill="#ffffff" stroke="#9a9a9a" stroke-width="0.8" fill-opacity="0.6"/>
<line x1="512.43" y1="567.8" x2="526.63" y2="567.8" stroke="#555555" stroke-width="0.9"/>
<circle cx="513.58" cy="567.82" r="1.05" fill="#fbb92c"/>
<circle cx="523.55" cy="563.92" r="1.05" fill="#fbb92c"/>
<circle cx="519.27" cy="568.04" r="1.05" fill="#fbb92c"/>
<circle cx="525.19" cy="566.27" r="1.05" fill="#fbb92c"/>
<circle cx="523.46" cy="572.79" r="1.05" fill="#fbb92c"/>
<circle cx="521.26" cy="561.76" r="1.05" fill="#fbb92c"/>
<circle cx="513.69" cy="566.65" r="1.05" fill="#fbb92c"/>
<circle cx="522.43" cy="562.86" r="1.05" fill="#fbb92c"/>
<circle cx="517.22" cy="567.5" r="1.05" fill="#fbb92c"/>
<circle cx="520.68" cy="561.69" r="1.05" fill="#fbb92c"/>
<circle cx="521.75" cy="562.09" r="1.05" fill="#fbb92c"/>
<circle cx="523.59" cy="566.58" r="1.05" fill="#fbb92c"/>
<circle cx="513.74" cy="565.5" r="1.05" fill="#fbb92c"/>
<circle cx="519.03" cy="560.2" r="1.05" fill="#fbb92c"/>
<circle cx="519.25" cy="569.46" r="1.05" fill="#fbb92c"/>
<circle cx="523.05" cy="565.33" r="1.05" fill="#fbb92c"/>
<circle cx="523.52" cy="563.09" r="1.05" fill="#fbb92c"/>
<circle cx="523.72" cy="563.61" r="1.05" fill="#fbb92c"/>
<circle cx="524.12" cy="559.71" r="1.05" fill="#fbb92c"/>
<circle cx="514.35" cy="572.43" r="1.05" fill="#fbb92c"/>
<circle cx="517.97" cy="565.73" r="1.05" fill="#fbb92c"/>
<circle cx="513.61" cy="566.37" r="1.05" fill="#fbb92c"/>
<circle cx="522.26" cy="566.79" r="1.05" fill="#fbb92c"/>
<circle cx="524.94" cy="566.08" r="1.05" fill="#fbb92c"/>
<circle cx="516.15" cy="577.12" r="1.05" fill="#fbb92c"/>
<circle cx="518.44" cy="567.59" r="1.05" fill="#fbb92c"/>
<circle cx="514.82" cy="563" r="1.05" fill="#ee2a1c"/>
<circle cx="519.09" cy="566" r="1.05" fill="#ee2a1c"/>
<line x1="546.56" y1="556.2" x2="546.56" y2="563.1" stroke="#8a8a8a" stroke-width="0.8"/>
<line x1="546.56" y1="572.5" x2="546.56" y2="580" stroke="#8a8a8a" stroke-width="0.8"/>
<rect x="539.46" y="563.1" width="14.2" height="9.4" fill="#ffffff" stroke="#9a9a9a" stroke-width="0.8" fill-opacity="0.6"/>
<line x1="539.46" y1="568.8" x2="553.66" y2="568.8" stroke="#555555" stroke-width="0.9"/>
<circle cx="550.86" cy="560.98" r="1.05" fill="#fbb92c"/>
<circle cx="550.98" cy="561.46" r="1.05" fill="#fbb92c"/>
<circle cx="545.56" cy="578.45" r="1.05" fill="#fbb92c"/>
<circle cx="551.13" cy="560.74" r="1.05" fill="#fbb92c"/>
<circle cx="542.87" cy="559.26" r="1.05" fill="#fbb92c"/>
<circle cx="548.73" cy="565.45" r="1.05" fill="#fbb92c"/>
<circle cx="546.96" cy="557.53" r="1.05" fill="#fbb92c"/>
<circle cx="541.73" cy="575.24" r="1.05" fill="#fbb92c"/>
<circle cx="542.31" cy="558.7" r="1.05" fill="#fbb92c"/>
<circle cx="542.37" cy="563.16" r="1.05" fill="#fbb92c"/>
<circle cx="540.67" cy="564.09" r="1.05" fill="#fbb92c"/>
<circle cx="550.54" cy="572.1" r="1.05" fill="#fbb92c"/>
<circle cx="541.55" cy="571.79" r="1.05" fill="#fbb92c"/>
<circle cx="541.29" cy="563.16" r="1.05" fill="#fbb92c"/>
<circle cx="546.29" cy="561.42" r="1.05" fill="#fbb92c"/>
<circle cx="551.55" cy="575.88" r="1.05" fill="#fbb92c"/>
<circle cx="542.63" cy="559.9" r="1.05" fill="#fbb92c"/>
<circle cx="550.41" cy="567.24" r="1.05" fill="#fbb92c"/>
<circle cx="550.34" cy="565.87" r="1.05" fill="#fbb92c"/>
<circle cx="543.22" cy="568.15" r="1.05" fill="#fbb92c"/>
<circle cx="541.72" cy="560.3" r="1.05" fill="#fbb92c"/>
<circle cx="544.42" cy="559.01" r="1.05" fill="#fbb92c"/>
<circle cx="544.29" cy="578.34" r="1.05" fill="#fbb92c"/>
<circle cx="546.79" cy="557.05" r="1.05" fill="#fbb92c"/>
<circle cx="551.52" cy="569.12" r="1.05" fill="#fbb92c"/>
<circle cx="546.72" cy="556.48" r="1.05" fill="#fbb92c"/>
<circle cx="542.4" cy="567.26" r="1.05" fill="#fbb92c"/>
<circle cx="541.44" cy="567.33" r="1.05" fill="#fbb92c"/>
<circle cx="544.06" cy="557.88" r="1.05" fill="#fbb92c"/>
<circle cx="551.7" cy="565.94" r="1.05" fill="#fbb92c"/>
<circle cx="544.72" cy="564" r="1.05" fill="#fbb92c"/>
<circle cx="544.68" cy="573.16" r="1.05" fill="#fbb92c"/>
<circle cx="546.1" cy="569.51" r="1.05" fill="#fbb92c"/>
<circle cx="544.51" cy="571.21" r="1.05" fill="#fbb92c"/>
<circle cx="550.99" cy="559.32" r="1.05" fill="#fbb92c"/>
<circle cx="544" cy="565.24" r="1.05" fill="#fbb92c"/>
<circle cx="546.59" cy="570.83" r="1.05" fill="#fbb92c"/>
<circle cx="550.68" cy="567.86" r="1.05" fill="#fbb92c"/>
<circle cx="548.43" cy="559.31" r="1.05" fill="#fbb92c"/>
<circle cx="545.68" cy="559" r="1.05" fill="#fbb92c"/>
<circle cx="542.9" cy="587.8" r="1.05" fill="#fbb92c"/>
<circle cx="545.95" cy="595.4" r="1.05" fill="#fbb92c"/>
<circle cx="550.33" cy="595" r="1.05" fill="#fbb92c"/>
<line x1="573.59" y1="556.2" x2="573.59" y2="563.1" stroke="#8a8a8a" stroke-width="0.8"/>
<line x1="573.59" y1="572.9" x2="573.59" y2="580" stroke="#8a8a8a" stroke-width="0.8"/>
<rect x="566.49" y="563.1" width="14.2" height="9.8" fill="#ffffff" stroke="#9a9a9a" stroke-width="0.8" fill-opacity="0.6"/>
<line x1="566.49" y1="568.4" x2="580.69" y2="568.4" stroke="#555555" stroke-width="0.9"/>
<circle cx="574.82" cy="566.68" r="1.05" fill="#fbb92c"/>
<circle cx="572.94" cy="557.41" r="1.05" fill="#fbb92c"/>
<circle cx="568.92" cy="556.49" r="1.05" fill="#fbb92c"/>
<circle cx="568.43" cy="562.45" r="1.05" fill="#fbb92c"/>
<circle cx="571.02" cy="569.24" r="1.05" fill="#fbb92c"/>
<circle cx="573.07" cy="556.44" r="1.05" fill="#fbb92c"/>
<circle cx="575.9" cy="566.36" r="1.05" fill="#fbb92c"/>
<circle cx="577.67" cy="571.46" r="1.05" fill="#fbb92c"/>
<circle cx="569.74" cy="562.05" r="1.05" fill="#fbb92c"/>
<circle cx="575.08" cy="566.23" r="1.05" fill="#fbb92c"/>
<circle cx="572.05" cy="571.78" r="1.05" fill="#fbb92c"/>
<circle cx="578.84" cy="562.71" r="1.05" fill="#fbb92c"/>
<circle cx="579.52" cy="571.5" r="1.05" fill="#fbb92c"/>
<circle cx="576.3" cy="570.43" r="1.05" fill="#fbb92c"/>
<circle cx="569.69" cy="565.82" r="1.05" fill="#fbb92c"/>
<circle cx="572.42" cy="572.23" r="1.05" fill="#fbb92c"/>
<circle cx="572.84" cy="569.17" r="1.05" fill="#fbb92c"/>
<circle cx="571.04" cy="559.34" r="1.05" fill="#fbb92c"/>
<circle cx="575.49" cy="571.12" r="1.05" fill="#fbb92c"/>
<circle cx="574.56" cy="567.99" r="1.05" fill="#fbb92c"/>
<circle cx="576.91" cy="571.93" r="1.05" fill="#fbb92c"/>
<circle cx="574.92" cy="566.42" r="1.05" fill="#fbb92c"/>
<circle cx="568.17" cy="572.25" r="1.05" fill="#fbb92c"/>
<circle cx="573.9" cy="565.78" r="1.05" fill="#fbb92c"/>
<circle cx="579.42" cy="565.3" r="1.05" fill="#fbb92c"/>
<circle cx="573.07" cy="557.73" r="1.05" fill="#fbb92c"/>
<circle cx="569.91" cy="564.3" r="1.05" fill="#fbb92c"/>
<circle cx="570.58" cy="575.11" r="1.05" fill="#fbb92c"/>
<circle cx="579.5" cy="564.18" r="1.05" fill="#fbb92c"/>
<circle cx="577.59" cy="562.55" r="1.05" fill="#fbb92c"/>
<circle cx="569.64" cy="557.96" r="1.05" fill="#fbb92c"/>
<circle cx="569.72" cy="563.74" r="1.05" fill="#fbb92c"/>
<circle cx="567.75" cy="559.59" r="1.05" fill="#fbb92c"/>
<circle cx="577.78" cy="571.43" r="1.05" fill="#fbb92c"/>
<circle cx="578.5" cy="561.25" r="1.05" fill="#fbb92c"/>
<circle cx="574.46" cy="558.84" r="1.05" fill="#fbb92c"/>
<circle cx="570.73" cy="563.46" r="1.05" fill="#fbb92c"/>
<circle cx="568.59" cy="564.28" r="1.05" fill="#fbb92c"/>
<circle cx="579.04" cy="566.71" r="1.05" fill="#fbb92c"/>
<circle cx="576.5" cy="571.3" r="1.05" fill="#fbb92c"/>
<circle cx="574.51" cy="587.8" r="1.05" fill="#fbb92c"/>
<circle cx="571.82" cy="595" r="1.05" fill="#fbb92c"/>
<line x1="600.62" y1="561.7" x2="600.62" y2="565.2" stroke="#8a8a8a" stroke-width="0.8"/>
<line x1="600.62" y1="571.9" x2="600.62" y2="580" stroke="#8a8a8a" stroke-width="0.8"/>
<rect x="593.52" y="565.2" width="14.2" height="6.7" fill="#ffffff" stroke="#9a9a9a" stroke-width="0.8" fill-opacity="0.6"/>
<line x1="593.52" y1="566.8" x2="607.72" y2="566.8" stroke="#555555" stroke-width="0.9"/>
<circle cx="602.22" cy="567.32" r="1.05" fill="#fbb92c"/>
<circle cx="598.18" cy="578.3" r="1.05" fill="#fbb92c"/>
<circle cx="601.63" cy="565.26" r="1.05" fill="#fbb92c"/>
<circle cx="598.26" cy="565.24" r="1.05" fill="#fbb92c"/>
<circle cx="602.58" cy="566.58" r="1.05" fill="#fbb92c"/>
<circle cx="603.37" cy="562.69" r="1.05" fill="#fbb92c"/>
<circle cx="596.07" cy="571.37" r="1.05" fill="#fbb92c"/>
<circle cx="603.39" cy="564.17" r="1.05" fill="#fbb92c"/>
<circle cx="602.16" cy="571.04" r="1.05" fill="#fbb92c"/>
<circle cx="596.88" cy="561.98" r="1.05" fill="#fbb92c"/>
<circle cx="595.79" cy="568.85" r="1.05" fill="#fbb92c"/>
<circle cx="600.32" cy="562.91" r="1.05" fill="#fbb92c"/>
<circle cx="598.26" cy="570.82" r="1.05" fill="#fbb92c"/>
<circle cx="602.47" cy="563.82" r="1.05" fill="#fbb92c"/>
<circle cx="600.27" cy="567.07" r="1.05" fill="#fbb92c"/>
<circle cx="596.25" cy="563.96" r="1.05" fill="#fbb92c"/>
<circle cx="596.98" cy="568.95" r="1.05" fill="#fbb92c"/>
<circle cx="594.9" cy="571.42" r="1.05" fill="#fbb92c"/>
<circle cx="595.03" cy="567.17" r="1.05" fill="#fbb92c"/>
<circle cx="598.33" cy="575.5" r="1.05" fill="#ee2a1c"/>
<circle cx="597.25" cy="581" r="1.05" fill="#ee2a1c"/>
<line x1="627.65" y1="558.6" x2="627.65" y2="563.7" stroke="#8a8a8a" stroke-width="0.8"/>
<line x1="627.65" y1="574.6" x2="627.65" y2="580" stroke="#8a8a8a" stroke-width="0.8"/>
<rect x="620.55" y="563.7" width="14.2" height="10.9" fill="#ffffff" stroke="#9a9a9a" stroke-width="0.8" fill-opacity="0.6"/>
<line x1="620.55" y1="567.2" x2="634.75" y2="567.2" stroke="#555555" stroke-width="0.9"/>
<circle cx="622.63" cy="573.62" r="1.05" fill="#fbb92c"/>
<circle cx="629.14" cy="571.28" r="1.05" fill="#fbb92c"/>
<circle cx="625.04" cy="566.19" r="1.05" fill="#fbb92c"/>
<circle cx="624.76" cy="576.99" r="1.05" fill="#fbb92c"/>
<circle cx="623.47" cy="568.99" r="1.05" fill="#fbb92c"/>
<circle cx="627.38" cy="562.28" r="1.05" fill="#fbb92c"/>
<circle cx="633.09" cy="572.1" r="1.05" fill="#fbb92c"/>
<circle cx="627.71" cy="558.83" r="1.05" fill="#fbb92c"/>
<circle cx="629.85" cy="560.29" r="1.05" fill="#fbb92c"/>
<circle cx="629.01" cy="570.42" r="1.05" fill="#fbb92c"/>
<circle cx="630.13" cy="563.32" r="1.05" fill="#fbb92c"/>
<circle cx="624.44" cy="562.19" r="1.05" fill="#fbb92c"/>
<circle cx="622.41" cy="561.76" r="1.05" fill="#fbb92c"/>
<circle cx="627.56" cy="559.76" r="1.05" fill="#fbb92c"/>
<circle cx="630.81" cy="571.57" r="1.05" fill="#fbb92c"/>
<circle cx="626.97" cy="573.94" r="1.05" fill="#fbb92c"/>
<circle cx="625.55" cy="563.66" r="1.05" fill="#fbb92c"/>
<circle cx="622.69" cy="563.48" r="1.05" fill="#fbb92c"/>
<circle cx="628.12" cy="561.92" r="1.05" fill="#fbb92c"/>
<circle cx="623.43" cy="562.99" r="1.05" fill="#fbb92c"/>
<circle cx="630.02" cy="570.41" r="1.05" fill="#fbb92c"/>
<circle cx="631.57" cy="578.94" r="1.05" fill="#fbb92c"/>
<circle cx="632.58" cy="568.35" r="1.05" fill="#fbb92c"/>
<circle cx="625.67" cy="578.68" r="1.05" fill="#fbb92c"/>
<circle cx="629.65" cy="561.31" r="1.05" fill="#fbb92c"/>
<circle cx="630.21" cy="563.01" r="1.05" fill="#fbb92c"/>
<circle cx="627.57" cy="577.27" r="1.05" fill="#fbb92c"/>
<circle cx="622.27" cy="561.47" r="1.05" fill="#fbb92c"/>
<circle cx="627.65" cy="576.32" r="1.05" fill="#fbb92c"/>
<circle cx="632.76" cy="565.77" r="1.05" fill="#fbb92c"/>
<circle cx="631.37" cy="566.95" r="1.05" fill="#fbb92c"/>
<circle cx="628.47" cy="570.98" r="1.05" fill="#fbb92c"/>
<circle cx="625.61" cy="577.17" r="1.05" fill="#fbb92c"/>
<circle cx="621.69" cy="567.67" r="1.05" fill="#fbb92c"/>
<circle cx="623.87" cy="590" r="1.05" fill="#fbb92c"/>
<circle cx="624.16" cy="562" r="1.05" fill="#ee2a1c"/>
<circle cx="625.81" cy="567" r="1.05" fill="#ee2a1c"/>
<circle cx="630.32" cy="591.5" r="1.05" fill="#ee2a1c"/>
<line x1="654.68" y1="565" x2="654.68" y2="567.4" stroke="#8a8a8a" stroke-width="0.8"/>
<line x1="654.68" y1="574.6" x2="654.68" y2="577" stroke="#8a8a8a" stroke-width="0.8"/>
<rect x="647.58" y="567.4" width="14.2" height="7.2" fill="#ffffff" stroke="#9a9a9a" stroke-width="0.8" fill-opacity="0.6"/>
<line x1="647.58" y1="571.5" x2="661.78" y2="571.5" stroke="#555555" stroke-width="0.9"/>
<circle cx="651.7" cy="575.45" r="1.05" fill="#fbb92c"/>
<circle cx="654.43" cy="571.93" r="1.05" fill="#fbb92c"/>
<circle cx="651.92" cy="571.17" r="1.05" fill="#fbb92c"/>
<circle cx="649.97" cy="573.05" r="1.05" fill="#fbb92c"/>
<circle cx="655.19" cy="572.91" r="1.05" fill="#fbb92c"/>
<circle cx="660" cy="575.36" r="1.05" fill="#fbb92c"/>
<circle cx="653.78" cy="573.85" r="1.05" fill="#fbb92c"/>
<circle cx="660.51" cy="569.27" r="1.05" fill="#fbb92c"/>
<circle cx="658.39" cy="566.77" r="1.05" fill="#fbb92c"/>
<circle cx="654.27" cy="569.61" r="1.05" fill="#fbb92c"/>
<circle cx="650.5" cy="576.78" r="1.05" fill="#fbb92c"/>
<circle cx="652.35" cy="575.93" r="1.05" fill="#fbb92c"/>
<circle cx="654.93" cy="570.47" r="1.05" fill="#fbb92c"/>
<circle cx="660.02" cy="569.64" r="1.05" fill="#fbb92c"/>
<circle cx="657.99" cy="569.62" r="1.05" fill="#fbb92c"/>
<circle cx="649.96" cy="570.44" r="1.05" fill="#fbb92c"/>
<text stroke="#1a1a1a" stroke-width="0.25" x="222.2" y="615" font-size="7.8" fill="#1a1a1a" text-anchor="middle">n=15</text>
<text stroke="#1a1a1a" stroke-width="0.25" x="249.23" y="615" font-size="7.8" fill="#1a1a1a" text-anchor="middle">n=9</text>
<text stroke="#1a1a1a" stroke-width="0.25" x="276.26" y="615" font-size="7.8" fill="#1a1a1a" text-anchor="middle">n=29</text>
<text stroke="#1a1a1a" stroke-width="0.25" x="303.29" y="615" font-size="7.8" fill="#1a1a1a" text-anchor="middle">n=24</text>
<text stroke="#1a1a1a" stroke-width="0.25" x="330.32" y="615" font-size="7.8" fill="#1a1a1a" text-anchor="middle">n=31</text>
<text stroke="#1a1a1a" stroke-width="0.25" x="357.35" y="615" font-size="7.8" fill="#1a1a1a" text-anchor="middle">n=15</text>
<text stroke="#1a1a1a" stroke-width="0.25" x="384.38" y="615" font-size="7.8" fill="#1a1a1a" text-anchor="middle">n=7</text>
<text stroke="#1a1a1a" stroke-width="0.25" x="411.41" y="615" font-size="7.8" fill="#1a1a1a" text-anchor="middle">n=10</text>
<text stroke="#1a1a1a" stroke-width="0.25" x="438.44" y="615" font-size="7.8" fill="#1a1a1a" text-anchor="middle">n=47</text>
<text stroke="#1a1a1a" stroke-width="0.25" x="465.47" y="615" font-size="7.8" fill="#1a1a1a" text-anchor="middle">n=13</text>
<text stroke="#1a1a1a" stroke-width="0.25" x="492.5" y="615" font-size="7.8" fill="#1a1a1a" text-anchor="middle">n=66</text>
<text stroke="#1a1a1a" stroke-width="0.25" x="519.53" y="615" font-size="7.8" fill="#1a1a1a" text-anchor="middle">n=28</text>
<text stroke="#1a1a1a" stroke-width="0.25" x="546.56" y="615" font-size="7.8" fill="#1a1a1a" text-anchor="middle">n=43</text>
<text stroke="#1a1a1a" stroke-width="0.25" x="573.59" y="615" font-size="7.8" fill="#1a1a1a" text-anchor="middle">n=42</text>
<text stroke="#1a1a1a" stroke-width="0.25" x="600.62" y="615" font-size="7.8" fill="#1a1a1a" text-anchor="middle">n=21</text>
<text stroke="#1a1a1a" stroke-width="0.25" x="627.65" y="615" font-size="7.8" fill="#1a1a1a" text-anchor="middle">n=38</text>
<text stroke="#1a1a1a" stroke-width="0.25" x="654.68" y="615" font-size="7.8" fill="#1a1a1a" text-anchor="middle">n=16</text>
<text stroke="#1a1a1a" stroke-width="0.25" x="234.6" y="558.2" font-size="7.5" fill="#1a1a1a"><tspan font-style="italic">p</tspan>=0.0054</text>
<text stroke="#1a1a1a" stroke-width="0.25" x="263.9" y="548" font-size="7.5" fill="#1a1a1a"><tspan font-style="italic">p</tspan>=0.0037</text>
<text stroke="#1a1a1a" stroke-width="0.25" x="284.7" y="555.5" font-size="7.5" fill="#1a1a1a"><tspan font-style="italic">p</tspan>=0.0005</text>
<text stroke="#1a1a1a" stroke-width="0.25" x="316" y="548" font-size="7.5" fill="#1a1a1a"><tspan font-style="italic">p</tspan>=0.0044</text>
<text stroke="#1a1a1a" stroke-width="0.25" x="340.6" y="555.1" font-size="7.5" fill="#1a1a1a"><tspan font-style="italic">p</tspan>=0.0044</text>
<text stroke="#1a1a1a" stroke-width="0.25" x="377" y="555.1" font-size="7.5" fill="#1a1a1a"><tspan font-style="italic">p</tspan>=0.0022</text>
<text stroke="#1a1a1a" stroke-width="0.25" x="391.3" y="562.7" font-size="7.5" fill="#1a1a1a"><tspan font-style="italic">p</tspan>=9.5×10<tspan font-size="5.25" dy="-3">−6</tspan></text>
<text stroke="#1a1a1a" stroke-width="0.25" x="423" y="551.5" font-size="7.5" fill="#1a1a1a"><tspan font-style="italic">p</tspan>=0.0035</text>
<text stroke="#1a1a1a" stroke-width="0.25" x="450.6" y="559" font-size="7.5" fill="#1a1a1a"><tspan font-style="italic">p</tspan>=0.0016</text>
<text stroke="#1a1a1a" stroke-width="0.25" x="479.9" y="548.4" font-size="7.5" fill="#1a1a1a"><tspan font-style="italic">p</tspan>=0.0003</text>
<text stroke="#1a1a1a" stroke-width="0.25" x="503.4" y="555.1" font-size="7.5" fill="#1a1a1a"><tspan font-style="italic">p</tspan>=0.0027</text>
<text stroke="#1a1a1a" stroke-width="0.25" x="532.3" y="546.3" font-size="7.5" fill="#1a1a1a"><tspan font-style="italic">p</tspan>=0.0053</text>
<text stroke="#1a1a1a" stroke-width="0.25" x="560.9" y="552.5" font-size="7.5" fill="#1a1a1a"><tspan font-style="italic">p</tspan>=0.006</text>
<text stroke="#1a1a1a" stroke-width="0.25" x="586.9" y="556.6" font-size="7.5" fill="#1a1a1a"><tspan font-style="italic">p</tspan>=0.0029</text>
<text stroke="#1a1a1a" stroke-width="0.25" x="610.4" y="548" font-size="7.5" fill="#1a1a1a"><tspan font-style="italic">p</tspan>=0.0015</text>
<text stroke="#1a1a1a" stroke-width="0.25" x="641.1" y="559.6" font-size="7.5" fill="#1a1a1a"><tspan font-style="italic">p</tspan>=6.6×10<tspan font-size="5.25" dy="-3">−5</tspan></text>
<text stroke="#1a1a1a" stroke-width="0.25" x="226" y="628.4" font-size="8.2" fill="#1a1a1a" text-anchor="end" transform="rotate(-45 226 628.4)">WT</text>
<text stroke="#1a1a1a" stroke-width="0.25" x="253.03" y="628.4" font-size="8.2" fill="#1a1a1a" text-anchor="end" transform="rotate(-45 253.03 628.4)">TraesKN1B01HG41590</text>
<text stroke="#1a1a1a" stroke-width="0.25" x="280.06" y="628.4" font-size="8.2" fill="#1a1a1a" text-anchor="end" transform="rotate(-45 280.06 628.4)">TraesKN2A01HG29310</text>
<text stroke="#3f9de8" stroke-width="0.25" x="307.09" y="628.4" font-size="8.2" fill="#3f9de8" text-anchor="end" transform="rotate(-45 307.09 628.4)">TraesKN2B01HG02840</text>
<text stroke="#1a1a1a" stroke-width="0.25" x="334.12" y="628.4" font-size="8.2" fill="#1a1a1a" text-anchor="end" transform="rotate(-45 334.12 628.4)">TraesKN2D01HG31290</text>
<text stroke="#1a1a1a" stroke-width="0.25" x="361.15" y="628.4" font-size="8.2" fill="#1a1a1a" text-anchor="end" transform="rotate(-45 361.15 628.4)">TraesKN3A01HG23020</text>
<text stroke="#1a1a1a" stroke-width="0.25" x="388.18" y="628.4" font-size="8.2" fill="#1a1a1a" text-anchor="end" transform="rotate(-45 388.18 628.4)">TraesKN3B01HG14800</text>
<text stroke="#c2ba1e" stroke-width="0.25" x="415.21" y="628.4" font-size="8.2" fill="#c2ba1e" text-anchor="end" transform="rotate(-45 415.21 628.4)">TraesKN3D01HG13910</text>
<text stroke="#1a1a1a" stroke-width="0.25" x="442.24" y="628.4" font-size="8.2" fill="#1a1a1a" text-anchor="end" transform="rotate(-45 442.24 628.4)">TraesKN5B01HG41220</text>
<text stroke="#1a1a1a" stroke-width="0.25" x="469.27" y="628.4" font-size="8.2" fill="#1a1a1a" text-anchor="end" transform="rotate(-45 469.27 628.4)">TraesKN5B01HG52500</text>
<text stroke="#a955ee" stroke-width="0.25" x="496.3" y="628.4" font-size="8.2" fill="#a955ee" text-anchor="end" transform="rotate(-45 496.3 628.4)">TraesKN6A01HG11540</text>
<text stroke="#eb9a2e" stroke-width="0.25" x="523.33" y="628.4" font-size="8.2" fill="#eb9a2e" text-anchor="end" transform="rotate(-45 523.33 628.4)">TraesKN6A01HG11620</text>
<text stroke="#1a1a1a" stroke-width="0.25" x="550.36" y="628.4" font-size="8.2" fill="#1a1a1a" text-anchor="end" transform="rotate(-45 550.36 628.4)">TraesKN6A01HG17170</text>
<text stroke="#1a1a1a" stroke-width="0.25" x="577.39" y="628.4" font-size="8.2" fill="#1a1a1a" text-anchor="end" transform="rotate(-45 577.39 628.4)">TraesKN6A01HG17180</text>
<text stroke="#2eaa5c" stroke-width="0.25" x="604.42" y="628.4" font-size="8.2" fill="#2eaa5c" text-anchor="end" transform="rotate(-45 604.42 628.4)">TraesKN6B01HG19100</text>
<text stroke="#35bcd0" stroke-width="0.25" x="631.45" y="628.4" font-size="8.2" fill="#35bcd0" text-anchor="end" transform="rotate(-45 631.45 628.4)">TraesKN6D01HG17560</text>
<text stroke="#1a1a1a" stroke-width="0.25" x="658.48" y="628.4" font-size="8.2" fill="#1a1a1a" text-anchor="end" transform="rotate(-45 658.48 628.4)">TraesKN7D01HG48780</text>
<line x1="30.7" y1="704.5" x2="30.7" y2="783.8" stroke="#bdbdbd" stroke-width="1.6"/>
<line x1="27.7" y1="707.9" x2="30.7" y2="707.9" stroke="#777" stroke-width="0.9"/>
<text stroke="#1a1a1a" stroke-width="0.18" x="24.5" y="711" font-size="8.6" fill="#1a1a1a" text-anchor="end">22</text>
<line x1="27.7" y1="727.3" x2="30.7" y2="727.3" stroke="#777" stroke-width="0.9"/>
<text stroke="#1a1a1a" stroke-width="0.18" x="24.5" y="730.4" font-size="8.6" fill="#1a1a1a" text-anchor="end">20</text>
<line x1="27.7" y1="746.5" x2="30.7" y2="746.5" stroke="#777" stroke-width="0.9"/>
<text stroke="#1a1a1a" stroke-width="0.18" x="24.5" y="749.6" font-size="8.6" fill="#1a1a1a" text-anchor="end">18</text>
<line x1="27.7" y1="765.9" x2="30.7" y2="765.9" stroke="#777" stroke-width="0.9"/>
<text stroke="#1a1a1a" stroke-width="0.18" x="24.5" y="769" font-size="8.6" fill="#1a1a1a" text-anchor="end">16</text>
<text stroke="#1a1a1a" stroke-width="0.12" x="9.6" y="744.6" font-size="10" fill="#1a1a1a" text-anchor="middle" transform="rotate(-90 9.6 744.6)">SPN</text>
<line x1="30.7" y1="783.8" x2="180" y2="783.8" stroke="#bdbdbd" stroke-width="1.6"/>
<line x1="51.2" y1="783.8" x2="51.2" y2="786.8" stroke="#777" stroke-width="0.9"/>
<line x1="87.5" y1="783.8" x2="87.5" y2="786.8" stroke="#777" stroke-width="0.9"/>
<line x1="123.5" y1="783.8" x2="123.5" y2="786.8" stroke="#777" stroke-width="0.9"/>
<line x1="159.2" y1="783.8" x2="159.2" y2="786.8" stroke="#777" stroke-width="0.9"/>
<line x1="51.2" y1="722" x2="51.2" y2="723.4" stroke="#8a8a8a" stroke-width="0.8"/>
<line x1="51.2" y1="737.6" x2="51.2" y2="753" stroke="#8a8a8a" stroke-width="0.8"/>
<rect x="42.1" y="723.4" width="18.2" height="14.2" fill="#ffffff" stroke="#9a9a9a" stroke-width="0.8" fill-opacity="0.6"/>
<line x1="42.1" y1="732.8" x2="60.3" y2="732.8" stroke="#555555" stroke-width="0.9"/>
<circle cx="53.05" cy="737.56" r="1.05" fill="#35b3d1"/>
<circle cx="53.83" cy="732.96" r="1.05" fill="#35b3d1"/>
<circle cx="45.81" cy="728.61" r="1.05" fill="#35b3d1"/>
<circle cx="49.75" cy="725.12" r="1.05" fill="#35b3d1"/>
<circle cx="48.71" cy="732.98" r="1.05" fill="#35b3d1"/>
<circle cx="51.09" cy="727.85" r="1.05" fill="#35b3d1"/>
<circle cx="50.94" cy="735.5" r="1.05" fill="#35b3d1"/>
<circle cx="57.17" cy="724.61" r="1.05" fill="#35b3d1"/>
<circle cx="54.46" cy="722.41" r="1.05" fill="#35b3d1"/>
<circle cx="57.87" cy="736.02" r="1.05" fill="#35b3d1"/>
<circle cx="50.07" cy="722.07" r="1.05" fill="#35b3d1"/>
<circle cx="46.75" cy="746.74" r="1.05" fill="#35b3d1"/>
<circle cx="51.53" cy="724.3" r="1.05" fill="#35b3d1"/>
<circle cx="47.14" cy="752" r="1.05" fill="#35b3d1"/>
<circle cx="50.51" cy="754.3" r="1.05" fill="#35b3d1"/>
<line x1="87.5" y1="725" x2="87.5" y2="736.8" stroke="#8a8a8a" stroke-width="0.8"/>
<line x1="87.5" y1="758.3" x2="87.5" y2="765.4" stroke="#8a8a8a" stroke-width="0.8"/>
<rect x="78.4" y="736.8" width="18.2" height="21.5" fill="#ffffff" stroke="#9a9a9a" stroke-width="0.8" fill-opacity="0.6"/>
<line x1="78.4" y1="748.3" x2="96.6" y2="748.3" stroke="#555555" stroke-width="0.9"/>
<circle cx="87.38" cy="764.7" r="1.05" fill="#fbb92c"/>
<circle cx="94.35" cy="726.58" r="1.05" fill="#fbb92c"/>
<circle cx="93.4" cy="761.73" r="1.05" fill="#fbb92c"/>
<circle cx="84.79" cy="757.88" r="1.05" fill="#fbb92c"/>
<circle cx="94.14" cy="764.24" r="1.05" fill="#fbb92c"/>
<circle cx="90.39" cy="725.5" r="1.05" fill="#ee2a1c"/>
<circle cx="82.06" cy="740" r="1.05" fill="#ee2a1c"/>
<circle cx="84.69" cy="749" r="1.05" fill="#ee2a1c"/>
<circle cx="89.48" cy="760" r="1.05" fill="#ee2a1c"/>
<line x1="123.5" y1="725" x2="123.5" y2="737.6" stroke="#8a8a8a" stroke-width="0.8"/>
<line x1="123.5" y1="750.4" x2="123.5" y2="765.4" stroke="#8a8a8a" stroke-width="0.8"/>
<rect x="114.4" y="737.6" width="18.2" height="12.8" fill="#ffffff" stroke="#9a9a9a" stroke-width="0.8" fill-opacity="0.6"/>
<line x1="114.4" y1="744.4" x2="132.6" y2="744.4" stroke="#555555" stroke-width="0.9"/>
<circle cx="116.45" cy="760.61" r="1.05" fill="#fbb92c"/>
<circle cx="118.47" cy="742.02" r="1.05" fill="#fbb92c"/>
<circle cx="121.56" cy="744.21" r="1.05" fill="#fbb92c"/>
<circle cx="130.34" cy="742.87" r="1.05" fill="#fbb92c"/>
<circle cx="130.11" cy="734.47" r="1.05" fill="#fbb92c"/>
<circle cx="117.31" cy="748.87" r="1.05" fill="#fbb92c"/>
<circle cx="127.37" cy="747.06" r="1.05" fill="#fbb92c"/>
<circle cx="126.9" cy="731" r="1.05" fill="#fbb92c"/>
<circle cx="119.21" cy="740.09" r="1.05" fill="#fbb92c"/>
<circle cx="130.41" cy="738.07" r="1.05" fill="#fbb92c"/>
<circle cx="122.16" cy="755.63" r="1.05" fill="#fbb92c"/>
<circle cx="123.38" cy="747.6" r="1.05" fill="#fbb92c"/>
<circle cx="130.05" cy="748.92" r="1.05" fill="#fbb92c"/>
<circle cx="119.23" cy="743.48" r="1.05" fill="#fbb92c"/>
<circle cx="120.41" cy="729.52" r="1.05" fill="#fbb92c"/>
<circle cx="123.55" cy="745.37" r="1.05" fill="#fbb92c"/>
<circle cx="123.09" cy="746.31" r="1.05" fill="#fbb92c"/>
<circle cx="127.96" cy="756.98" r="1.05" fill="#fbb92c"/>
<circle cx="124.87" cy="759.73" r="1.05" fill="#fbb92c"/>
<circle cx="118.81" cy="733.97" r="1.05" fill="#fbb92c"/>
<circle cx="116.18" cy="739.61" r="1.05" fill="#fbb92c"/>
<circle cx="119.75" cy="729.14" r="1.05" fill="#fbb92c"/>
<circle cx="126.13" cy="737.89" r="1.05" fill="#fbb92c"/>
<circle cx="126.19" cy="743.18" r="1.05" fill="#fbb92c"/>
<circle cx="119.21" cy="760.91" r="1.05" fill="#fbb92c"/>
<circle cx="124.73" cy="753.16" r="1.05" fill="#fbb92c"/>
<circle cx="129.45" cy="728.62" r="1.05" fill="#fbb92c"/>
<circle cx="117.97" cy="733.95" r="1.05" fill="#fbb92c"/>
<circle cx="125.31" cy="754.71" r="1.05" fill="#fbb92c"/>
<circle cx="119.91" cy="729.06" r="1.05" fill="#fbb92c"/>
<circle cx="125.91" cy="750.12" r="1.05" fill="#fbb92c"/>
<circle cx="125.88" cy="744.79" r="1.05" fill="#fbb92c"/>
<circle cx="117.52" cy="738.57" r="1.05" fill="#fbb92c"/>
<circle cx="124.55" cy="749" r="1.05" fill="#ee2a1c"/>
<circle cx="124.76" cy="765" r="1.05" fill="#ee2a1c"/>
<line x1="159.2" y1="724.5" x2="159.2" y2="734.1" stroke="#8a8a8a" stroke-width="0.8"/>
<line x1="159.2" y1="745.2" x2="159.2" y2="753.5" stroke="#8a8a8a" stroke-width="0.8"/>
<rect x="150.1" y="734.1" width="18.2" height="11.1" fill="#ffffff" stroke="#9a9a9a" stroke-width="0.8" fill-opacity="0.6"/>
<line x1="150.1" y1="741.2" x2="168.3" y2="741.2" stroke="#555555" stroke-width="0.9"/>
<circle cx="164.6" cy="750.35" r="1.05" fill="#fbb92c"/>
<circle cx="158" cy="749.32" r="1.05" fill="#fbb92c"/>
<circle cx="163.18" cy="738.23" r="1.05" fill="#fbb92c"/>
<circle cx="166.16" cy="725.68" r="1.05" fill="#fbb92c"/>
<circle cx="159.92" cy="742.41" r="1.05" fill="#fbb92c"/>
<circle cx="153.31" cy="730.03" r="1.05" fill="#fbb92c"/>
<circle cx="156.9" cy="742.21" r="1.05" fill="#fbb92c"/>
<circle cx="162.99" cy="743.15" r="1.05" fill="#fbb92c"/>
<circle cx="153.57" cy="728.22" r="1.05" fill="#fbb92c"/>
<circle cx="161.77" cy="726.57" r="1.05" fill="#fbb92c"/>
<circle cx="151.59" cy="727.12" r="1.05" fill="#fbb92c"/>
<circle cx="160.55" cy="732.09" r="1.05" fill="#fbb92c"/>
<circle cx="162.73" cy="747.1" r="1.05" fill="#fbb92c"/>
<circle cx="156.18" cy="740.54" r="1.05" fill="#fbb92c"/>
<circle cx="160.84" cy="740.19" r="1.05" fill="#fbb92c"/>
<circle cx="159.2" cy="750.21" r="1.05" fill="#fbb92c"/>
<circle cx="157.79" cy="730.53" r="1.05" fill="#fbb92c"/>
<circle cx="157.47" cy="741.67" r="1.05" fill="#fbb92c"/>
<circle cx="157.04" cy="735.99" r="1.05" fill="#fbb92c"/>
<circle cx="161.58" cy="767" r="1.05" fill="#fbb92c"/>
<circle cx="161.19" cy="739" r="1.05" fill="#ee2a1c"/>
<text stroke="#1a1a1a" stroke-width="0.25" x="51.2" y="781.4" font-size="7.8" fill="#1a1a1a" text-anchor="middle">n=15</text>
<text stroke="#1a1a1a" stroke-width="0.25" x="87.5" y="781.4" font-size="7.8" fill="#1a1a1a" text-anchor="middle">n=9</text>
<text stroke="#1a1a1a" stroke-width="0.25" x="123.5" y="781.4" font-size="7.8" fill="#1a1a1a" text-anchor="middle">n=35</text>
<text stroke="#1a1a1a" stroke-width="0.25" x="159.2" y="781.4" font-size="7.8" fill="#1a1a1a" text-anchor="middle">n=21</text>
<text stroke="#1a1a1a" stroke-width="0.25" x="72.3" y="718.9" font-size="7.5" fill="#1a1a1a"><tspan font-style="italic">p</tspan>=0.0273</text>
<text stroke="#1a1a1a" stroke-width="0.25" x="109" y="718.9" font-size="7.5" fill="#1a1a1a"><tspan font-style="italic">p</tspan>=0.0043</text>
<text stroke="#1a1a1a" stroke-width="0.25" x="145" y="718.9" font-size="7.5" fill="#1a1a1a"><tspan font-style="italic">p</tspan>=0.0435</text>
<text stroke="#1a1a1a" stroke-width="0.25" x="55" y="795.6" font-size="8.2" fill="#1a1a1a" text-anchor="end" transform="rotate(-45 55 795.6)">WT</text>
<text stroke="#d63a48" stroke-width="0.25" x="91.3" y="795.6" font-size="8.2" fill="#d63a48" text-anchor="end" transform="rotate(-45 91.3 795.6)">TraesKN3A01HG33680</text>
<text stroke="#c48a35" stroke-width="0.25" x="127.3" y="795.6" font-size="8.2" fill="#c48a35" text-anchor="end" transform="rotate(-45 127.3 795.6)">TraesKN5A01HG39180</text>
<text stroke="#2eaa5c" stroke-width="0.25" x="163" y="795.6" font-size="8.2" fill="#2eaa5c" text-anchor="end" transform="rotate(-45 163 795.6)">TraesKN6B01HG19100</text>
<line x1="222.8" y1="704.7" x2="222.8" y2="783.7" stroke="#bdbdbd" stroke-width="1.6"/>
<line x1="219.8" y1="718.5" x2="222.8" y2="718.5" stroke="#777" stroke-width="0.9"/>
<text stroke="#1a1a1a" stroke-width="0.18" x="216.6" y="721.6" font-size="8.6" fill="#1a1a1a" text-anchor="end">18</text>
<line x1="219.8" y1="739" x2="222.8" y2="739" stroke="#777" stroke-width="0.9"/>
<text stroke="#1a1a1a" stroke-width="0.18" x="216.6" y="742.1" font-size="8.6" fill="#1a1a1a" text-anchor="end">16</text>
<line x1="219.8" y1="759.4" x2="222.8" y2="759.4" stroke="#777" stroke-width="0.9"/>
<text stroke="#1a1a1a" stroke-width="0.18" x="216.6" y="762.5" font-size="8.6" fill="#1a1a1a" text-anchor="end">14</text>
<line x1="219.8" y1="779.9" x2="222.8" y2="779.9" stroke="#777" stroke-width="0.9"/>
<text stroke="#1a1a1a" stroke-width="0.18" x="216.6" y="783" font-size="8.6" fill="#1a1a1a" text-anchor="end">12</text>
<text stroke="#1a1a1a" stroke-width="0.12" x="201.6" y="742.6" font-size="10" fill="#1a1a1a" text-anchor="middle" transform="rotate(-90 201.6 742.6)">GA</text>
<line x1="222.8" y1="783.7" x2="372.5" y2="783.7" stroke="#bdbdbd" stroke-width="1.6"/>
<line x1="239.4" y1="783.7" x2="239.4" y2="786.7" stroke="#777" stroke-width="0.9"/>
<line x1="268.8" y1="783.7" x2="268.8" y2="786.7" stroke="#777" stroke-width="0.9"/>
<line x1="297.9" y1="783.7" x2="297.9" y2="786.7" stroke="#777" stroke-width="0.9"/>
<line x1="327" y1="783.7" x2="327" y2="786.7" stroke="#777" stroke-width="0.9"/>
<line x1="355.7" y1="783.7" x2="355.7" y2="786.7" stroke="#777" stroke-width="0.9"/>
<line x1="239.4" y1="718.7" x2="239.4" y2="726.2" stroke="#8a8a8a" stroke-width="0.8"/>
<line x1="239.4" y1="733.4" x2="239.4" y2="737.4" stroke="#8a8a8a" stroke-width="0.8"/>
<rect x="230.65" y="726.2" width="17.5" height="7.2" fill="#ffffff" stroke="#9a9a9a" stroke-width="0.8" fill-opacity="0.6"/>
<line x1="230.65" y1="729.9" x2="248.15" y2="729.9" stroke="#555555" stroke-width="0.9"/>
<circle cx="236.85" cy="732.08" r="1.05" fill="#35b3d1"/>
<circle cx="242.04" cy="731.61" r="1.05" fill="#35b3d1"/>
<circle cx="232.44" cy="732.6" r="1.05" fill="#35b3d1"/>
<circle cx="244.97" cy="732.38" r="1.05" fill="#35b3d1"/>
<circle cx="239.89" cy="732.01" r="1.05" fill="#35b3d1"/>
<circle cx="241.82" cy="734.71" r="1.05" fill="#35b3d1"/>
<circle cx="237.04" cy="726.13" r="1.05" fill="#35b3d1"/>
<circle cx="242.1" cy="727.1" r="1.05" fill="#35b3d1"/>
<circle cx="234.2" cy="732.31" r="1.05" fill="#35b3d1"/>
<circle cx="239.38" cy="733.04" r="1.05" fill="#35b3d1"/>
<circle cx="235.61" cy="721.29" r="1.05" fill="#35b3d1"/>
<circle cx="234.87" cy="733.28" r="1.05" fill="#35b3d1"/>
<circle cx="242.05" cy="736.93" r="1.05" fill="#35b3d1"/>
<circle cx="245.35" cy="731.46" r="1.05" fill="#35b3d1"/>
<circle cx="241.01" cy="720.35" r="1.05" fill="#35b3d1"/>
<line x1="268.8" y1="741" x2="268.8" y2="742.7" stroke="#8a8a8a" stroke-width="0.8"/>
<line x1="268.8" y1="747.9" x2="268.8" y2="750.9" stroke="#8a8a8a" stroke-width="0.8"/>
<rect x="260.05" y="742.7" width="17.5" height="5.2" fill="#ffffff" stroke="#9a9a9a" stroke-width="0.8" fill-opacity="0.6"/>
<line x1="260.05" y1="745.5" x2="277.55" y2="745.5" stroke="#555555" stroke-width="0.9"/>
<circle cx="263.65" cy="749.67" r="1.05" fill="#fbb92c"/>
<circle cx="262.15" cy="745.98" r="1.05" fill="#fbb92c"/>
<circle cx="265.23" cy="744.65" r="1.05" fill="#fbb92c"/>
<circle cx="269.68" cy="743.08" r="1.05" fill="#fbb92c"/>
<circle cx="270" cy="741.54" r="1.05" fill="#fbb92c"/>
<circle cx="269.92" cy="746.8" r="1.05" fill="#fbb92c"/>
<circle cx="273.55" cy="741.96" r="1.05" fill="#fbb92c"/>
<circle cx="263.86" cy="733.5" r="1.05" fill="#fbb92c"/>
<circle cx="264.07" cy="756" r="1.05" fill="#fbb92c"/>
<circle cx="273.28" cy="743" r="1.05" fill="#ee2a1c"/>
<line x1="297.9" y1="726.2" x2="297.9" y2="733.9" stroke="#8a8a8a" stroke-width="0.8"/>
<line x1="297.9" y1="741.6" x2="297.9" y2="750.2" stroke="#8a8a8a" stroke-width="0.8"/>
<rect x="289.15" y="733.9" width="17.5" height="7.7" fill="#ffffff" stroke="#9a9a9a" stroke-width="0.8" fill-opacity="0.6"/>
<line x1="289.15" y1="737.4" x2="306.65" y2="737.4" stroke="#555555" stroke-width="0.9"/>
<circle cx="303.69" cy="741.67" r="1.05" fill="#fbb92c"/>
<circle cx="300.86" cy="732.79" r="1.05" fill="#fbb92c"/>
<circle cx="301.79" cy="734.78" r="1.05" fill="#fbb92c"/>
<circle cx="294.53" cy="729.82" r="1.05" fill="#fbb92c"/>
<circle cx="297.36" cy="741.11" r="1.05" fill="#fbb92c"/>
<circle cx="304.93" cy="741.49" r="1.05" fill="#fbb92c"/>
<circle cx="301.28" cy="735.42" r="1.05" fill="#fbb92c"/>
<circle cx="300.6" cy="737.55" r="1.05" fill="#fbb92c"/>
<circle cx="293.55" cy="738.48" r="1.05" fill="#fbb92c"/>
<circle cx="296.84" cy="738.1" r="1.05" fill="#fbb92c"/>
<circle cx="304.02" cy="742.83" r="1.05" fill="#fbb92c"/>
<circle cx="292.11" cy="736.54" r="1.05" fill="#fbb92c"/>
<circle cx="295.87" cy="741.45" r="1.05" fill="#fbb92c"/>
<circle cx="300.77" cy="750" r="1.05" fill="#fbb92c"/>
<circle cx="293.01" cy="737.22" r="1.05" fill="#fbb92c"/>
<circle cx="292.99" cy="736.48" r="1.05" fill="#fbb92c"/>
<circle cx="294.83" cy="730.23" r="1.05" fill="#fbb92c"/>
<circle cx="292.23" cy="735" r="1.05" fill="#fbb92c"/>
<circle cx="298.23" cy="734.48" r="1.05" fill="#fbb92c"/>
<circle cx="294.47" cy="739.85" r="1.05" fill="#fbb92c"/>
<circle cx="302.26" cy="718.5" r="1.05" fill="#fbb92c"/>
<circle cx="303.36" cy="761" r="1.05" fill="#fbb92c"/>
<circle cx="303.16" cy="731" r="1.05" fill="#ee2a1c"/>
<circle cx="294.56" cy="742" r="1.05" fill="#ee2a1c"/>
<line x1="327" y1="743.9" x2="327" y2="743.9" stroke="#8a8a8a" stroke-width="0.8"/>
<line x1="327" y1="749.1" x2="327" y2="749.1" stroke="#8a8a8a" stroke-width="0.8"/>
<rect x="318.25" y="743.9" width="17.5" height="5.2" fill="#ffffff" stroke="#9a9a9a" stroke-width="0.8" fill-opacity="0.6"/>
<line x1="318.25" y1="745.1" x2="335.75" y2="745.1" stroke="#555555" stroke-width="0.9"/>
<circle cx="332.65" cy="749.1" r="1.05" fill="#fbb92c"/>
<circle cx="323.45" cy="746.71" r="1.05" fill="#fbb92c"/>
<circle cx="332.64" cy="743.9" r="1.05" fill="#fbb92c"/>
<circle cx="320.11" cy="743.9" r="1.05" fill="#fbb92c"/>
<circle cx="325.09" cy="746.07" r="1.05" fill="#fbb92c"/>
<circle cx="326.52" cy="743.9" r="1.05" fill="#fbb92c"/>
<circle cx="329.77" cy="749.1" r="1.05" fill="#fbb92c"/>
<circle cx="329.28" cy="722" r="1.05" fill="#fbb92c"/>
<circle cx="328.26" cy="735" r="1.05" fill="#fbb92c"/>
<circle cx="333.12" cy="774" r="1.05" fill="#fbb92c"/>
<circle cx="330.55" cy="759" r="1.05" fill="#ee2a1c"/>
<line x1="355.7" y1="718.2" x2="355.7" y2="732" stroke="#8a8a8a" stroke-width="0.8"/>
<line x1="355.7" y1="743.9" x2="355.7" y2="754.2" stroke="#8a8a8a" stroke-width="0.8"/>
<rect x="346.95" y="732" width="17.5" height="11.9" fill="#ffffff" stroke="#9a9a9a" stroke-width="0.8" fill-opacity="0.6"/>
<line x1="346.95" y1="737.4" x2="364.45" y2="737.4" stroke="#555555" stroke-width="0.9"/>
<circle cx="362.16" cy="737.9" r="1.05" fill="#fbb92c"/>
<circle cx="352.87" cy="726.46" r="1.05" fill="#fbb92c"/>
<circle cx="362.22" cy="724.94" r="1.05" fill="#fbb92c"/>
<circle cx="362.33" cy="754.16" r="1.05" fill="#fbb92c"/>
<circle cx="353.34" cy="732.87" r="1.05" fill="#fbb92c"/>
<circle cx="352.12" cy="749.65" r="1.05" fill="#fbb92c"/>
<circle cx="350.22" cy="734.98" r="1.05" fill="#fbb92c"/>
<circle cx="351.19" cy="740.86" r="1.05" fill="#fbb92c"/>
<circle cx="350.27" cy="739.38" r="1.05" fill="#fbb92c"/>
<circle cx="361.25" cy="750.6" r="1.05" fill="#fbb92c"/>
<circle cx="352.28" cy="728.28" r="1.05" fill="#fbb92c"/>
<circle cx="354.11" cy="736.52" r="1.05" fill="#fbb92c"/>
<circle cx="360.1" cy="748.39" r="1.05" fill="#fbb92c"/>
<circle cx="351.44" cy="719.34" r="1.05" fill="#fbb92c"/>
<circle cx="351.78" cy="729.09" r="1.05" fill="#fbb92c"/>
<circle cx="355.1" cy="736.49" r="1.05" fill="#fbb92c"/>
<circle cx="357.29" cy="743.01" r="1.05" fill="#fbb92c"/>
<circle cx="355.81" cy="736.09" r="1.05" fill="#fbb92c"/>
<circle cx="349.3" cy="736.66" r="1.05" fill="#fbb92c"/>
<circle cx="361.56" cy="730.17" r="1.05" fill="#fbb92c"/>
<circle cx="356.58" cy="723.51" r="1.05" fill="#fbb92c"/>
<circle cx="356.29" cy="720.64" r="1.05" fill="#fbb92c"/>
<circle cx="354.86" cy="734.35" r="1.05" fill="#fbb92c"/>
<circle cx="353.19" cy="750.51" r="1.05" fill="#fbb92c"/>
<circle cx="356.48" cy="739.5" r="1.05" fill="#fbb92c"/>
<circle cx="354.33" cy="737.61" r="1.05" fill="#fbb92c"/>
<circle cx="353.83" cy="730.32" r="1.05" fill="#fbb92c"/>
<circle cx="358.16" cy="738.69" r="1.05" fill="#fbb92c"/>
<circle cx="361.91" cy="734.94" r="1.05" fill="#fbb92c"/>
<circle cx="352.17" cy="740.1" r="1.05" fill="#fbb92c"/>
<circle cx="351.86" cy="737.37" r="1.05" fill="#fbb92c"/>
<circle cx="348.92" cy="743.39" r="1.05" fill="#fbb92c"/>
<circle cx="353.81" cy="740.79" r="1.05" fill="#fbb92c"/>
<circle cx="362.78" cy="741.24" r="1.05" fill="#fbb92c"/>
<circle cx="354.18" cy="740.41" r="1.05" fill="#fbb92c"/>
<circle cx="361.8" cy="779.5" r="1.05" fill="#fbb92c"/>
<circle cx="356.89" cy="723" r="1.05" fill="#ee2a1c"/>
<circle cx="360.54" cy="737" r="1.05" fill="#ee2a1c"/>
<text stroke="#1a1a1a" stroke-width="0.25" x="239.4" y="782.1" font-size="7.8" fill="#1a1a1a" text-anchor="middle">n=15</text>
<text stroke="#1a1a1a" stroke-width="0.25" x="268.8" y="782.1" font-size="7.8" fill="#1a1a1a" text-anchor="middle">n=10</text>
<text stroke="#1a1a1a" stroke-width="0.25" x="297.9" y="782.1" font-size="7.8" fill="#1a1a1a" text-anchor="middle">n=24</text>
<text stroke="#1a1a1a" stroke-width="0.25" x="327" y="782.1" font-size="7.8" fill="#1a1a1a" text-anchor="middle">n=11</text>
<text stroke="#1a1a1a" stroke-width="0.25" x="355.7" y="775.9" font-size="7.8" fill="#1a1a1a" text-anchor="middle">n=38</text>
<text stroke="#1a1a1a" stroke-width="0.25" x="250.4" y="726.2" font-size="7.5" fill="#1a1a1a"><tspan font-style="italic">p</tspan>=1.4×10<tspan font-size="5.25" dy="-3">−5</tspan></text>
<text stroke="#1a1a1a" stroke-width="0.25" x="281.2" y="713.5" font-size="7.5" fill="#1a1a1a"><tspan font-style="italic">p</tspan>=0.0019</text>
<text stroke="#1a1a1a" stroke-width="0.25" x="313.4" y="716.4" font-size="7.5" fill="#1a1a1a"><tspan font-style="italic">p</tspan>=0.0050</text>
<text stroke="#1a1a1a" stroke-width="0.25" x="348" y="716.4" font-size="7.5" fill="#1a1a1a"><tspan font-style="italic">p</tspan>=0.0030</text>
<text stroke="#1a1a1a" stroke-width="0.25" x="243.2" y="795.5" font-size="8.2" fill="#1a1a1a" text-anchor="end" transform="rotate(-45 243.2 795.5)">WT</text>
<text stroke="#c2ba1e" stroke-width="0.25" x="272.6" y="795.5" font-size="8.2" fill="#c2ba1e" text-anchor="end" transform="rotate(-45 272.6 795.5)">TraesKN3D01HG13910</text>
<text stroke="#1a1a1a" stroke-width="0.25" x="301.7" y="795.5" font-size="8.2" fill="#1a1a1a" text-anchor="end" transform="rotate(-45 301.7 795.5)">TraesKN5B01HG45510</text>
<text stroke="#1a1a1a" stroke-width="0.25" x="330.8" y="795.5" font-size="8.2" fill="#1a1a1a" text-anchor="end" transform="rotate(-45 330.8 795.5)">TraesKN5B01HG58900</text>
<text stroke="#35bcd0" stroke-width="0.25" x="359.5" y="795.5" font-size="8.2" fill="#35bcd0" text-anchor="end" transform="rotate(-45 359.5 795.5)">TraesKN6D01HG17560</text>
<line x1="413.2" y1="704.6" x2="413.2" y2="784" stroke="#bdbdbd" stroke-width="1.6"/>
<line x1="410.2" y1="708.3" x2="413.2" y2="708.3" stroke="#777" stroke-width="0.9"/>
<text stroke="#1a1a1a" stroke-width="0.18" x="407" y="711.4" font-size="8.6" fill="#1a1a1a" text-anchor="end">80</text>
<line x1="410.2" y1="732.2" x2="413.2" y2="732.2" stroke="#777" stroke-width="0.9"/>
<text stroke="#1a1a1a" stroke-width="0.18" x="407" y="735.3" font-size="8.6" fill="#1a1a1a" text-anchor="end">60</text>
<line x1="410.2" y1="756.1" x2="413.2" y2="756.1" stroke="#777" stroke-width="0.9"/>
<text stroke="#1a1a1a" stroke-width="0.18" x="407" y="759.2" font-size="8.6" fill="#1a1a1a" text-anchor="end">40</text>
<line x1="410.2" y1="780.1" x2="413.2" y2="780.1" stroke="#777" stroke-width="0.9"/>
<text stroke="#1a1a1a" stroke-width="0.18" x="407" y="783.2" font-size="8.6" fill="#1a1a1a" text-anchor="end">20</text>
<text stroke="#1a1a1a" stroke-width="0.12" x="393" y="742.6" font-size="10" fill="#1a1a1a" text-anchor="middle" transform="rotate(-90 393 742.6)">GN</text>
<line x1="413.2" y1="784" x2="670.4" y2="784" stroke="#bdbdbd" stroke-width="1.6"/>
<line x1="435.4" y1="784" x2="435.4" y2="787" stroke="#777" stroke-width="0.9"/>
<line x1="470.7" y1="784" x2="470.7" y2="787" stroke="#777" stroke-width="0.9"/>
<line x1="506.1" y1="784" x2="506.1" y2="787" stroke="#777" stroke-width="0.9"/>
<line x1="541.4" y1="784" x2="541.4" y2="787" stroke="#777" stroke-width="0.9"/>
<line x1="577.2" y1="784" x2="577.2" y2="787" stroke="#777" stroke-width="0.9"/>
<line x1="613" y1="784" x2="613" y2="787" stroke="#777" stroke-width="0.9"/>
<line x1="648.8" y1="784" x2="648.8" y2="787" stroke="#777" stroke-width="0.9"/>
<line x1="435.4" y1="731" x2="435.4" y2="734.3" stroke="#8a8a8a" stroke-width="0.8"/>
<line x1="435.4" y1="740.2" x2="435.4" y2="740.2" stroke="#8a8a8a" stroke-width="0.8"/>
<rect x="426.4" y="734.3" width="18" height="5.9" fill="#ffffff" stroke="#9a9a9a" stroke-width="0.8" fill-opacity="0.6"/>
<line x1="426.4" y1="736.2" x2="444.4" y2="736.2" stroke="#555555" stroke-width="0.9"/>
<circle cx="434.52" cy="731.43" r="1.05" fill="#35b3d1"/>
<circle cx="429.17" cy="731.5" r="1.05" fill="#35b3d1"/>
<circle cx="437.68" cy="740.2" r="1.05" fill="#35b3d1"/>
<circle cx="442.79" cy="738.44" r="1.05" fill="#35b3d1"/>
<circle cx="434.49" cy="733.36" r="1.05" fill="#35b3d1"/>
<circle cx="435.39" cy="734.06" r="1.05" fill="#35b3d1"/>
<circle cx="442.24" cy="735.16" r="1.05" fill="#35b3d1"/>
<circle cx="430.08" cy="734.09" r="1.05" fill="#35b3d1"/>
<circle cx="434.32" cy="738.33" r="1.05" fill="#35b3d1"/>
<circle cx="439.38" cy="735.67" r="1.05" fill="#35b3d1"/>
<circle cx="434.34" cy="733.4" r="1.05" fill="#35b3d1"/>
<circle cx="434.88" cy="736.63" r="1.05" fill="#35b3d1"/>
<circle cx="433.2" cy="725" r="1.05" fill="#35b3d1"/>
<circle cx="435.01" cy="750" r="1.05" fill="#35b3d1"/>
<circle cx="441.22" cy="747" r="1.05" fill="#35b3d1"/>
<line x1="470.7" y1="734.5" x2="470.7" y2="739" stroke="#8a8a8a" stroke-width="0.8"/>
<line x1="470.7" y1="746.3" x2="470.7" y2="748" stroke="#8a8a8a" stroke-width="0.8"/>
<rect x="461.7" y="739" width="18" height="7.3" fill="#ffffff" stroke="#9a9a9a" stroke-width="0.8" fill-opacity="0.6"/>
<line x1="461.7" y1="745.1" x2="479.7" y2="745.1" stroke="#555555" stroke-width="0.9"/>
<circle cx="473.28" cy="746.53" r="1.05" fill="#fbb92c"/>
<circle cx="476.58" cy="746.89" r="1.05" fill="#fbb92c"/>
<circle cx="472.59" cy="746.42" r="1.05" fill="#fbb92c"/>
<circle cx="471.43" cy="742.41" r="1.05" fill="#fbb92c"/>
<circle cx="476.57" cy="747.37" r="1.05" fill="#fbb92c"/>
<circle cx="469.06" cy="744.82" r="1.05" fill="#fbb92c"/>
<circle cx="471.87" cy="744.86" r="1.05" fill="#fbb92c"/>
<circle cx="470.57" cy="745.52" r="1.05" fill="#fbb92c"/>
<circle cx="468.08" cy="738.93" r="1.05" fill="#fbb92c"/>
<circle cx="471.25" cy="753" r="1.05" fill="#ee2a1c"/>
<line x1="506.1" y1="738" x2="506.1" y2="741.3" stroke="#8a8a8a" stroke-width="0.8"/>
<line x1="506.1" y1="751.4" x2="506.1" y2="765.9" stroke="#8a8a8a" stroke-width="0.8"/>
<rect x="497.1" y="741.3" width="18" height="10.1" fill="#ffffff" stroke="#9a9a9a" stroke-width="0.8" fill-opacity="0.6"/>
<line x1="497.1" y1="744.8" x2="515.1" y2="744.8" stroke="#555555" stroke-width="0.9"/>
<circle cx="506.61" cy="744.18" r="1.05" fill="#fbb92c"/>
<circle cx="502.55" cy="761.51" r="1.05" fill="#fbb92c"/>
<circle cx="504.12" cy="740.03" r="1.05" fill="#fbb92c"/>
<circle cx="510.35" cy="739.24" r="1.05" fill="#fbb92c"/>
<circle cx="503.03" cy="749.62" r="1.05" fill="#fbb92c"/>
<circle cx="500.44" cy="744.63" r="1.05" fill="#fbb92c"/>
<circle cx="504.83" cy="765.84" r="1.05" fill="#fbb92c"/>
<circle cx="502.83" cy="739" r="1.05" fill="#ee2a1c"/>
<circle cx="510.91" cy="745" r="1.05" fill="#ee2a1c"/>
<line x1="541.4" y1="735" x2="541.4" y2="740.4" stroke="#8a8a8a" stroke-width="0.8"/>
<line x1="541.4" y1="747.4" x2="541.4" y2="756" stroke="#8a8a8a" stroke-width="0.8"/>
<rect x="532.4" y="740.4" width="18" height="7" fill="#ffffff" stroke="#9a9a9a" stroke-width="0.8" fill-opacity="0.6"/>
<line x1="532.4" y1="744.4" x2="550.4" y2="744.4" stroke="#555555" stroke-width="0.9"/>
<circle cx="538.46" cy="749.5" r="1.05" fill="#fbb92c"/>
<circle cx="537.03" cy="741.32" r="1.05" fill="#fbb92c"/>
<circle cx="536.02" cy="741.24" r="1.05" fill="#fbb92c"/>
<circle cx="547.68" cy="736.62" r="1.05" fill="#fbb92c"/>
<circle cx="538" cy="753.16" r="1.05" fill="#fbb92c"/>
<circle cx="546.99" cy="736.83" r="1.05" fill="#fbb92c"/>
<circle cx="545.19" cy="745.24" r="1.05" fill="#fbb92c"/>
<circle cx="543.95" cy="756.5" r="1.05" fill="#ee2a1c"/>
<line x1="577.2" y1="728.5" x2="577.2" y2="736.2" stroke="#8a8a8a" stroke-width="0.8"/>
<line x1="577.2" y1="746.3" x2="577.2" y2="756.1" stroke="#8a8a8a" stroke-width="0.8"/>
<rect x="568.2" y="736.2" width="18" height="10.1" fill="#ffffff" stroke="#9a9a9a" stroke-width="0.8" fill-opacity="0.6"/>
<line x1="568.2" y1="743.2" x2="586.2" y2="743.2" stroke="#555555" stroke-width="0.9"/>
<circle cx="571.94" cy="731.14" r="1.05" fill="#fbb92c"/>
<circle cx="570.2" cy="745.88" r="1.05" fill="#fbb92c"/>
<circle cx="576.3" cy="739.33" r="1.05" fill="#fbb92c"/>
<circle cx="571.22" cy="747.98" r="1.05" fill="#fbb92c"/>
<circle cx="580.62" cy="739.63" r="1.05" fill="#fbb92c"/>
<circle cx="577.39" cy="742.72" r="1.05" fill="#fbb92c"/>
<circle cx="570.26" cy="740.32" r="1.05" fill="#fbb92c"/>
<circle cx="571.12" cy="753.48" r="1.05" fill="#fbb92c"/>
<circle cx="577.31" cy="744.11" r="1.05" fill="#fbb92c"/>
<circle cx="571.84" cy="734.29" r="1.05" fill="#fbb92c"/>
<circle cx="571.73" cy="748.27" r="1.05" fill="#fbb92c"/>
<circle cx="574.22" cy="734.78" r="1.05" fill="#fbb92c"/>
<circle cx="574.09" cy="743.62" r="1.05" fill="#fbb92c"/>
<circle cx="571.6" cy="746.22" r="1.05" fill="#fbb92c"/>
<circle cx="584.71" cy="754.99" r="1.05" fill="#fbb92c"/>
<circle cx="576.26" cy="738.2" r="1.05" fill="#fbb92c"/>
<circle cx="578.27" cy="745.54" r="1.05" fill="#fbb92c"/>
<circle cx="577.18" cy="751.12" r="1.05" fill="#fbb92c"/>
<circle cx="573.05" cy="747.53" r="1.05" fill="#fbb92c"/>
<circle cx="581.46" cy="752.07" r="1.05" fill="#fbb92c"/>
<circle cx="578.86" cy="753.87" r="1.05" fill="#fbb92c"/>
<circle cx="572.95" cy="732.6" r="1.05" fill="#fbb92c"/>
<circle cx="577.6" cy="745.54" r="1.05" fill="#fbb92c"/>
<circle cx="584.66" cy="742.68" r="1.05" fill="#fbb92c"/>
<circle cx="576.53" cy="732.29" r="1.05" fill="#fbb92c"/>
<circle cx="577.02" cy="733.23" r="1.05" fill="#fbb92c"/>
<circle cx="581.47" cy="754.99" r="1.05" fill="#fbb92c"/>
<circle cx="572.62" cy="734.03" r="1.05" fill="#fbb92c"/>
<circle cx="572.74" cy="738.89" r="1.05" fill="#fbb92c"/>
<circle cx="581.96" cy="748.56" r="1.05" fill="#fbb92c"/>
<circle cx="570.01" cy="750.27" r="1.05" fill="#fbb92c"/>
<circle cx="580.37" cy="742.72" r="1.05" fill="#fbb92c"/>
<circle cx="575.37" cy="734" r="1.05" fill="#ee2a1c"/>
<circle cx="578.45" cy="739" r="1.05" fill="#ee2a1c"/>
<circle cx="572.95" cy="762" r="1.05" fill="#ee2a1c"/>
<line x1="613" y1="729.9" x2="613" y2="738.1" stroke="#8a8a8a" stroke-width="0.8"/>
<line x1="613" y1="746.3" x2="613" y2="750" stroke="#8a8a8a" stroke-width="0.8"/>
<rect x="604" y="738.1" width="18" height="8.2" fill="#ffffff" stroke="#9a9a9a" stroke-width="0.8" fill-opacity="0.6"/>
<line x1="604" y1="743.9" x2="622" y2="743.9" stroke="#555555" stroke-width="0.9"/>
<circle cx="617.27" cy="736.31" r="1.05" fill="#fbb92c"/>
<circle cx="605.47" cy="734.6" r="1.05" fill="#fbb92c"/>
<circle cx="606.53" cy="741.43" r="1.05" fill="#fbb92c"/>
<circle cx="615.77" cy="745.95" r="1.05" fill="#fbb92c"/>
<circle cx="618.58" cy="735.55" r="1.05" fill="#fbb92c"/>
<circle cx="611.37" cy="733.4" r="1.05" fill="#fbb92c"/>
<circle cx="607.74" cy="749.83" r="1.05" fill="#fbb92c"/>
<circle cx="610.64" cy="748.68" r="1.05" fill="#fbb92c"/>
<circle cx="616.71" cy="732.15" r="1.05" fill="#fbb92c"/>
<circle cx="606.29" cy="734.7" r="1.05" fill="#fbb92c"/>
<circle cx="616.95" cy="749.84" r="1.05" fill="#fbb92c"/>
<circle cx="607.2" cy="744.02" r="1.05" fill="#fbb92c"/>
<circle cx="612.56" cy="740.93" r="1.05" fill="#fbb92c"/>
<circle cx="612.02" cy="738.68" r="1.05" fill="#fbb92c"/>
<circle cx="610.45" cy="739.54" r="1.05" fill="#fbb92c"/>
<circle cx="620.16" cy="738.28" r="1.05" fill="#fbb92c"/>
<circle cx="607.4" cy="730" r="1.05" fill="#ee2a1c"/>
<circle cx="617.95" cy="760" r="1.05" fill="#ee2a1c"/>
<line x1="648.8" y1="732" x2="648.8" y2="736.9" stroke="#8a8a8a" stroke-width="0.8"/>
<line x1="648.8" y1="743.2" x2="648.8" y2="748" stroke="#8a8a8a" stroke-width="0.8"/>
<rect x="639.8" y="736.9" width="18" height="6.3" fill="#ffffff" stroke="#9a9a9a" stroke-width="0.8" fill-opacity="0.6"/>
<line x1="639.8" y1="741.3" x2="657.8" y2="741.3" stroke="#555555" stroke-width="0.9"/>
<circle cx="647.73" cy="737.66" r="1.05" fill="#fbb92c"/>
<circle cx="649.45" cy="737.25" r="1.05" fill="#fbb92c"/>
<circle cx="651.99" cy="738.78" r="1.05" fill="#fbb92c"/>
<circle cx="647.39" cy="744.05" r="1.05" fill="#fbb92c"/>
<circle cx="643.02" cy="744.71" r="1.05" fill="#fbb92c"/>
<circle cx="646.45" cy="742.35" r="1.05" fill="#fbb92c"/>
<circle cx="650.64" cy="736.6" r="1.05" fill="#fbb92c"/>
<circle cx="646.16" cy="739.93" r="1.05" fill="#fbb92c"/>
<circle cx="656" cy="740.78" r="1.05" fill="#fbb92c"/>
<circle cx="653.5" cy="734.49" r="1.05" fill="#fbb92c"/>
<circle cx="651.37" cy="738.12" r="1.05" fill="#fbb92c"/>
<circle cx="647.12" cy="738.24" r="1.05" fill="#fbb92c"/>
<circle cx="646.69" cy="737.1" r="1.05" fill="#fbb92c"/>
<circle cx="646.8" cy="745.65" r="1.05" fill="#fbb92c"/>
<circle cx="648.84" cy="741.3" r="1.05" fill="#fbb92c"/>
<circle cx="645.4" cy="740.56" r="1.05" fill="#fbb92c"/>
<circle cx="651.91" cy="734.08" r="1.05" fill="#fbb92c"/>
<circle cx="644.21" cy="740.92" r="1.05" fill="#fbb92c"/>
<circle cx="641.47" cy="740" r="1.05" fill="#fbb92c"/>
<circle cx="652.81" cy="739.8" r="1.05" fill="#fbb92c"/>
<circle cx="653.43" cy="747.25" r="1.05" fill="#fbb92c"/>
<circle cx="643.52" cy="744.14" r="1.05" fill="#fbb92c"/>
<circle cx="644.11" cy="741.89" r="1.05" fill="#fbb92c"/>
<circle cx="654.98" cy="737.77" r="1.05" fill="#fbb92c"/>
<circle cx="650.23" cy="738.38" r="1.05" fill="#fbb92c"/>
<circle cx="650.01" cy="732.19" r="1.05" fill="#fbb92c"/>
<circle cx="649.03" cy="740.39" r="1.05" fill="#fbb92c"/>
<circle cx="652.55" cy="767" r="1.05" fill="#fbb92c"/>
<circle cx="652.86" cy="741" r="1.05" fill="#ee2a1c"/>
<circle cx="653.35" cy="748" r="1.05" fill="#ee2a1c"/>
<circle cx="646.67" cy="762" r="1.05" fill="#ee2a1c"/>
<text stroke="#1a1a1a" stroke-width="0.25" x="435.4" y="782.6" font-size="7.8" fill="#1a1a1a" text-anchor="middle">n=15</text>
<text stroke="#1a1a1a" stroke-width="0.25" x="470.7" y="782.6" font-size="7.8" fill="#1a1a1a" text-anchor="middle">n=10</text>
<text stroke="#1a1a1a" stroke-width="0.25" x="506.1" y="782.6" font-size="7.8" fill="#1a1a1a" text-anchor="middle">n=9</text>
<text stroke="#1a1a1a" stroke-width="0.25" x="541.4" y="782.6" font-size="7.8" fill="#1a1a1a" text-anchor="middle">n=8</text>
<text stroke="#1a1a1a" stroke-width="0.25" x="577.2" y="782.6" font-size="7.8" fill="#1a1a1a" text-anchor="middle">n=35</text>
<text stroke="#1a1a1a" stroke-width="0.25" x="613" y="782.6" font-size="7.8" fill="#1a1a1a" text-anchor="middle">n=18</text>
<text stroke="#1a1a1a" stroke-width="0.25" x="648.8" y="782.6" font-size="7.8" fill="#1a1a1a" text-anchor="middle">n=31</text>
<text stroke="#1a1a1a" stroke-width="0.25" x="455.5" y="730.4" font-size="7.5" fill="#1a1a1a"><tspan font-style="italic">p</tspan>=0.0147</text>
<text stroke="#1a1a1a" stroke-width="0.25" x="490.6" y="732.7" font-size="7.5" fill="#1a1a1a"><tspan font-style="italic">p</tspan>=0.0151</text>
<text stroke="#1a1a1a" stroke-width="0.25" x="526.1" y="730.8" font-size="7.5" fill="#1a1a1a"><tspan font-style="italic">p</tspan>=0.0240</text>
<text stroke="#1a1a1a" stroke-width="0.25" x="563.5" y="724.5" font-size="7.5" fill="#1a1a1a"><tspan font-style="italic">p</tspan>=0.0163</text>
<text stroke="#1a1a1a" stroke-width="0.25" x="599.7" y="724.5" font-size="7.5" fill="#1a1a1a"><tspan font-style="italic">p</tspan>=0.0153</text>
<text stroke="#1a1a1a" stroke-width="0.25" x="636" y="724.5" font-size="7.5" fill="#1a1a1a"><tspan font-style="italic">p</tspan>=0.0276</text>
<text stroke="#1a1a1a" stroke-width="0.25" x="439.2" y="795.8" font-size="8.2" fill="#1a1a1a" text-anchor="end" transform="rotate(-45 439.2 795.8)">WT</text>
<text stroke="#1a1a1a" stroke-width="0.25" x="474.5" y="795.8" font-size="8.2" fill="#1a1a1a" text-anchor="end" transform="rotate(-45 474.5 795.8)">TraesKN2D01HG19860</text>
<text stroke="#d63a48" stroke-width="0.25" x="509.9" y="795.8" font-size="8.2" fill="#d63a48" text-anchor="end" transform="rotate(-45 509.9 795.8)">TraesKN3A01HG33680</text>
<text stroke="#1a1a1a" stroke-width="0.25" x="545.2" y="795.8" font-size="8.2" fill="#1a1a1a" text-anchor="end" transform="rotate(-45 545.2 795.8)">TraesKN4A01HG06290</text>
<text stroke="#c48a35" stroke-width="0.25" x="581" y="795.8" font-size="8.2" fill="#c48a35" text-anchor="end" transform="rotate(-45 581 795.8)">TraesKN5A01HG39180</text>
<text stroke="#1a1a1a" stroke-width="0.25" x="616.8" y="795.8" font-size="8.2" fill="#1a1a1a" text-anchor="end" transform="rotate(-45 616.8 795.8)">TraesKN5B01HG45930</text>
<text stroke="#1a1a1a" stroke-width="0.25" x="652.6" y="795.8" font-size="8.2" fill="#1a1a1a" text-anchor="end" transform="rotate(-45 652.6 795.8)">TraesKN6B01HG39410</text>
</svg>
</body></html>
